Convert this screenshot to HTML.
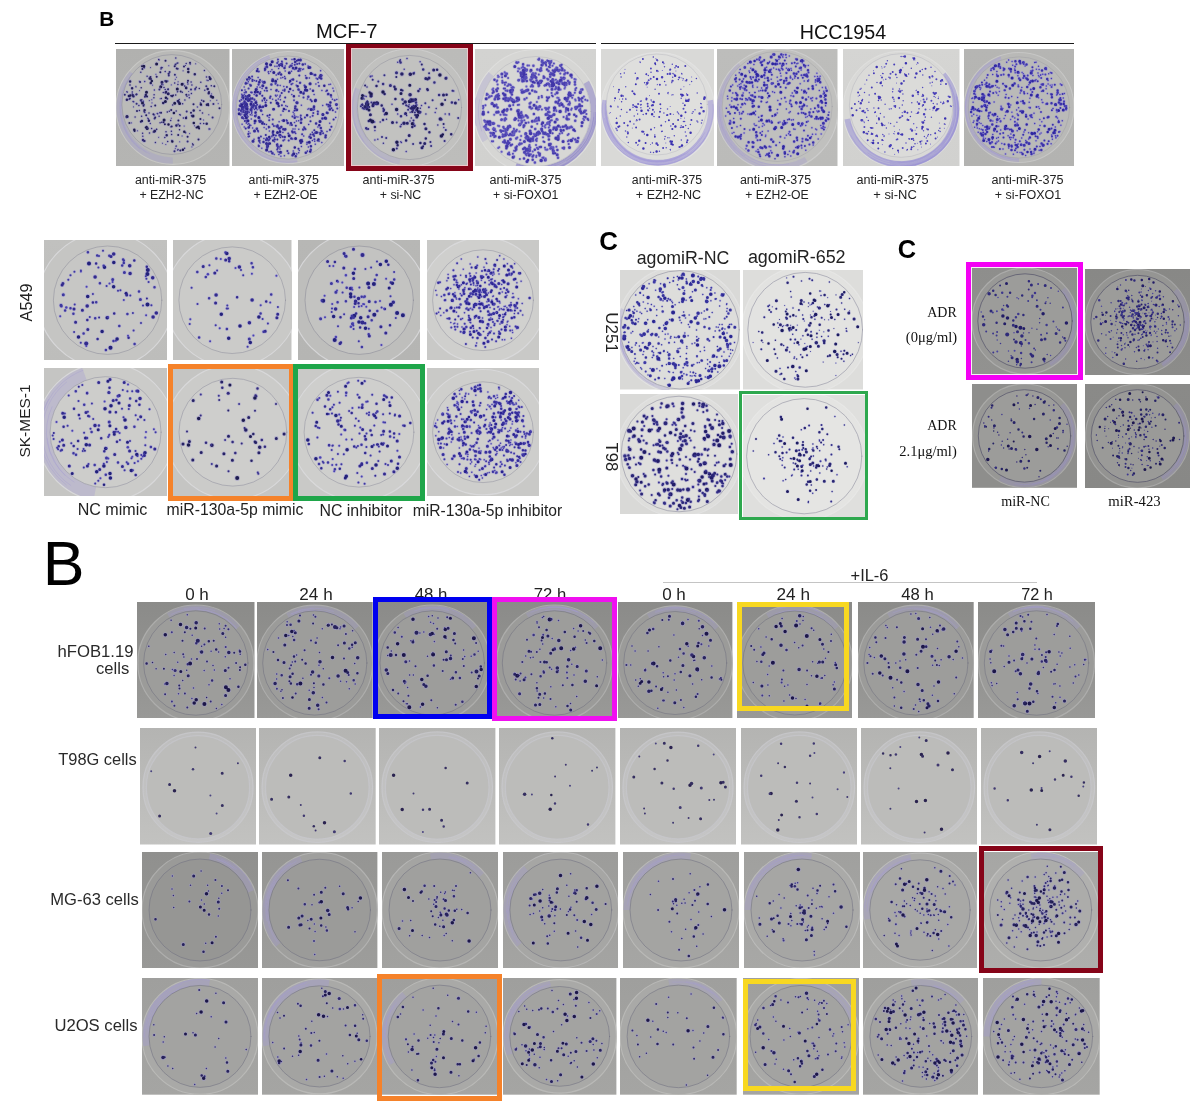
<!DOCTYPE html><html><head><meta charset="utf-8"><title>Colony formation assays</title><style>.tx{position:absolute;left:0;top:0;font-family:'Liberation Sans',Arial,Helvetica,sans-serif}.tx .s{font-family:'Liberation Serif','Times New Roman',serif}
*{margin:0;padding:0}
html,body{width:1200px;height:1110px;background:#fff;overflow:hidden;position:relative}
.pn{position:absolute;display:block;stroke-linecap:round;fill:none}
.fr{position:absolute;box-sizing:content-box}
.ln{position:absolute}
</style></head><body><svg width="0" height="0" style="position:absolute"><filter id="bl" x="-5%" y="-5%" width="110%" height="110%"><feGaussianBlur stdDeviation="0.45"/></filter></svg><svg class="pn" style="left:116.00px;top:49.00px;width:113.50px;height:117.00px" viewBox="0 0 113.50 117.00"><linearGradient id="g_p1" x1="0" y1="0" x2="0" y2="1"><stop offset="0" stop-color="#b1b1af"/><stop offset="1" stop-color="#b5b5b3"/></linearGradient><rect width="113.5" height="117.0" fill="url(#g_p1)"/><circle cx="56.8" cy="58.5" r="56.8" fill="#b9b9b7" fill-opacity="1.00" stroke="#cacac8" stroke-width="1.2" stroke-opacity="0.80"/><path d="M56.8 114.8A56.2 56.2 0 0 1 13.7 22.3L18.5 26.4A49.9 49.9 0 0 0 56.8 108.4Z" fill="#a09ccc" fill-opacity="0.35"/><path d="M30.1 103.5A52.3 52.3 0 0 1 5.5 69.0" fill="none" stroke="#a09ccc" stroke-width=".7" stroke-opacity=".5"/><path d="M23.5 99.5A52.8 52.8 0 0 1 16.3 24.6" fill="none" stroke="#a09ccc" stroke-width=".7" stroke-opacity=".5"/><path d="M23.8 100.3A53.3 53.3 0 0 1 16.0 24.3" fill="none" stroke="#a09ccc" stroke-width=".7" stroke-opacity=".5"/><path d="M33.6 104.8A51.7 51.7 0 0 1 14.0 29.4" fill="none" stroke="#a09ccc" stroke-width=".7" stroke-opacity=".5"/><circle cx="55.8" cy="55.5" r="49.9" fill="#bbbbb9" fill-opacity="1.00" stroke="#868694" stroke-width="0.9" stroke-opacity="0.50"/><g filter="url(#bl)"><path d="M46.5 94.3h0M52.8 16.7h0M35.8 50.7h0M60.4 28.3h0M27.1 52.6h0M27.6 52.3h0M27.3 52.1h0M38.7 65.7h0M39.9 25.4h0M11.4 43.3h0M17.9 46.5h0M36.0 53.9h0M95.6 44.9h0M70.3 67.6h0M55.3 35.9h0M93.0 80.4h0M93.0 79.6h0M43.9 63.6h0M67.7 34.8h0M21.5 81.8h0M60.0 97.6h0M75.9 97.9h0M63.7 92.8h0M42.7 88.4h0M15.5 73.9h0M23.5 41.6h0M78.5 76.8h0M68.2 77.1h0M38.1 66.6h0M102.2 54.6h0M44.2 49.7h0M66.1 87.0h0M49.8 95.5h0M59.3 99.6h0M73.6 84.6h0M52.0 32.1h0M51.5 32.0h0M87.5 71.0h0M90.8 31.2h0M59.3 30.4h0M81.2 57.9h0M94.3 51.7h0M55.3 69.3h0M85.7 56.5h0M36.6 36.2h0M94.7 47.4h0M72.7 42.5h0M62.1 32.8h0M19.9 37.4h0M20.0 38.0h0M23.3 32.3h0M48.8 53.5h0M92.8 65.7h0M100.8 51.3h0M81.7 58.1h0M67.1 21.8h0M32.5 70.7h0M31.7 69.1h0M69.4 16.5h0M46.6 18.6h0M79.7 14.8h0M33.3 51.6h0M34.5 18.6h0M17.5 57.9h0M43.2 11.1h0M61.9 42.6h0M61.3 42.9h0M61.3 42.7h0M61.7 101.3h0M54.6 77.9h0M63.5 65.5h0M76.4 94.6h0M77.1 96.3h0M61.7 20.1h0" stroke="#9a96c8" stroke-opacity="0.55" stroke-width="2.6"/><path d="M84.0 61.4h0M50.0 82.7h0M16.3 43.1h0M33.0 64.1h0M40.6 80.2h0M37.9 48.8h0M90.5 27.9h0M88.4 21.6h0M54.7 71.4h0M88.8 41.3h0M66.3 43.2h0M52.8 24.8h0M44.1 73.7h0M68.9 51.1h0M53.3 62.2h0M13.1 50.3h0M17.1 52.6h0M84.5 54.1h0M71.6 33.3h0M22.9 56.4h0M59.8 9.1h0M92.0 31.5h0M69.6 83.8h0M33.5 84.1h0M51.7 92.5h0M70.2 14.5h0M48.0 38.5h0M25.8 50.7h0M25.3 52.2h0M74.2 14.9h0M87.7 74.5h0M28.0 92.2h0M31.1 27.3h0M41.3 64.4h0M24.8 23.2h0M35.6 79.6h0M75.4 44.4h0M10.9 42.8h0M49.2 22.5h0M63.2 50.5h0M48.8 88.5h0M68.6 99.3h0M55.6 85.4h0M28.3 18.7h0M52.0 40.6h0M28.0 55.5h0M49.2 40.6h0M38.1 45.7h0M55.4 82.3h0M61.8 14.0h0M61.0 14.3h0M95.3 36.7h0M45.7 73.2h0M19.1 68.1h0M62.1 75.3h0M32.2 69.8h0M55.9 91.5h0M44.5 38.6h0M45.0 19.9h0M47.3 43.6h0M72.9 45.9h0M60.2 62.0h0M16.3 45.1h0M35.2 57.4h0M26.6 84.2h0M58.7 34.0h0M67.4 69.0h0M25.6 67.3h0M56.6 56.0h0M71.0 47.3h0M45.3 49.6h0M23.4 61.5h0M73.3 48.7h0M66.6 54.7h0M75.1 33.1h0M60.2 97.1h0M39.4 93.6h0M61.9 35.4h0M75.9 35.9h0M45.7 35.3h0M42.7 10.4h0M44.0 63.7h0M20.8 45.2h0M62.0 100.5h0M86.5 64.1h0M84.8 33.3h0M43.1 67.3h0M95.0 46.6h0M64.3 65.9h0M85.7 51.2h0M11.6 67.9h0M62.5 51.6h0M37.3 83.0h0M39.4 82.1h0M28.1 62.7h0M51.3 62.9h0M59.7 45.9h0M63.5 80.8h0M25.2 38.8h0M40.5 80.6h0M30.0 47.4h0M14.0 36.0h0M77.0 95.4h0M70.1 39.3h0M80.2 38.2h0M68.7 36.9h0M83.3 39.4h0M54.8 46.8h0M57.4 46.2h0M61.9 19.8h0M17.7 52.8h0M26.8 87.3h0M28.8 63.4h0M79.0 40.8h0M41.7 64.7h0M84.4 74.4h0M28.7 32.4h0M93.8 80.0h0M38.4 41.0h0M71.9 34.9h0M34.3 74.5h0M46.9 35.8h0" stroke="#9a96c8" stroke-opacity="0.55" stroke-width="3.1"/><path d="M97.4 55.0h0M38.6 69.6h0M59.5 15.6h0M71.6 92.5h0M79.3 39.8h0M20.6 54.7h0M13.9 49.5h0M53.6 23.1h0M51.3 49.7h0M24.7 51.2h0M58.5 102.2h0M49.2 32.0h0M70.7 62.5h0M8.8 45.8h0M31.4 79.3h0M52.8 26.5h0M24.1 33.1h0M45.4 18.8h0M28.9 47.7h0M43.4 40.4h0M10.7 68.2h0M96.6 68.6h0M90.3 37.3h0M52.1 40.2h0M58.9 25.7h0M75.0 40.6h0M75.8 66.8h0M61.6 52.0h0M38.5 82.8h0M24.8 72.8h0M84.4 70.1h0M103.5 59.3h0M93.0 42.9h0M47.5 73.2h0M21.0 62.0h0M63.6 76.7h0M98.3 37.3h0M68.0 17.5h0M55.2 61.1h0M75.0 63.7h0M13.4 74.0h0M64.7 42.4h0M50.2 42.8h0M92.1 55.0h0M92.3 56.3h0M77.5 55.3h0M28.6 91.9h0M20.3 45.5h0M55.7 77.5h0M48.9 75.3h0M34.5 28.1h0M72.0 31.8h0M39.2 56.5h0M64.3 101.5h0M62.4 71.6h0M31.1 47.6h0M44.3 23.3h0M52.6 24.7h0M74.0 13.8h0M35.0 30.0h0M40.7 27.8h0M71.6 87.8h0M26.4 20.1h0M27.5 56.7h0M58.7 17.2h0M30.2 66.3h0M93.4 28.1h0M70.3 45.7h0M37.4 65.3h0M62.2 85.9h0M49.5 11.8h0M17.7 47.4h0M17.2 47.6h0M60.7 19.5h0M70.1 38.5h0M45.1 63.8h0M87.6 52.2h0M82.5 90.4h0M39.2 68.6h0M83.1 79.5h0M80.5 78.6h0M18.6 82.1h0M26.0 17.3h0M29.7 78.4h0M30.7 77.7h0" stroke="#9a96c8" stroke-opacity="0.55" stroke-width="3.6"/><path d="M14.3 46.4h0M52.5 75.5h0M35.8 32.0h0M56.3 92.4h0M95.1 47.5h0M84.9 55.6h0M94.3 30.1h0M72.3 22.9h0M18.3 80.7h0M49.9 48.7h0M57.9 64.0h0M68.3 82.8h0M70.2 38.9h0M66.9 100.7h0M50.3 32.5h0M77.8 74.1h0M34.8 34.1h0M62.6 53.1h0M70.0 69.1h0M28.6 61.2h0M60.4 76.6h0M50.7 86.2h0M12.9 46.9h0M72.2 19.9h0M90.9 55.8h0M10.9 50.8h0M49.7 43.6h0M33.7 29.4h0M91.7 40.0h0M14.1 32.4h0M47.2 53.9h0M16.1 39.3h0M90.7 74.8h0M78.8 25.3h0M92.7 44.2h0M94.1 29.4h0M56.2 47.1h0M25.9 72.1h0M16.8 46.2h0M29.8 46.1h0M77.7 61.5h0M32.9 71.7h0M38.6 81.9h0M27.0 91.1h0" stroke="#9a96c8" stroke-opacity="0.55" stroke-width="4.1"/><path d="M82.2 78.0h0M11.0 67.6h0M40.6 14.9h0M48.1 71.0h0M30.5 43.3h0M77.0 66.9h0M49.4 52.4h0M61.3 39.9h0M58.7 54.3h0M66.1 35.3h0M44.8 37.8h0M27.8 17.2h0M63.6 54.4h0M26.5 53.9h0M96.7 48.3h0M31.2 79.4h0M46.0 33.2h0M52.2 44.8h0" stroke="#9a96c8" stroke-opacity="0.55" stroke-width="4.6"/><path d="M83.1 79.5h0M80.5 78.6h0M18.6 82.1h0M26.0 17.3h0M29.7 78.4h0M30.7 77.7h0" stroke="#1e1a48" stroke-width="2.0"/><path d="M14.3 46.4h0M52.5 75.5h0M35.8 32.0h0M56.3 92.4h0M95.1 47.5h0M84.9 55.6h0M94.3 30.1h0M72.3 22.9h0M18.3 80.7h0M49.9 48.7h0M57.9 64.0h0M68.3 82.8h0M70.2 38.9h0M66.9 100.7h0M50.3 32.5h0M77.8 74.1h0" stroke="#1e1a48" stroke-width="2.5"/><path d="M82.2 78.0h0M11.0 67.6h0M40.6 14.9h0M48.1 71.0h0M30.5 43.3h0M77.0 66.9h0M49.4 52.4h0M61.3 39.9h0M58.7 54.3h0M66.1 35.3h0M44.8 37.8h0M27.8 17.2h0M63.6 54.4h0M26.5 53.9h0M96.7 48.3h0M31.2 79.4h0" stroke="#1e1a48" stroke-width="3.0"/><path d="M76.4 94.6h0M77.1 96.3h0M61.7 20.1h0" stroke="#28235d" stroke-width="1.0"/><path d="M11.6 67.9h0M62.5 51.6h0M37.3 83.0h0M39.4 82.1h0M28.1 62.7h0M51.3 62.9h0M59.7 45.9h0M63.5 80.8h0M25.2 38.8h0M40.5 80.6h0M30.0 47.4h0M14.0 36.0h0M77.0 95.4h0M70.1 39.3h0M80.2 38.2h0M68.7 36.9h0M83.3 39.4h0M54.8 46.8h0M57.4 46.2h0M61.9 19.8h0" stroke="#28235d" stroke-width="1.5"/><path d="M61.6 52.0h0M38.5 82.8h0M24.8 72.8h0M84.4 70.1h0M103.5 59.3h0M93.0 42.9h0M47.5 73.2h0M21.0 62.0h0M63.6 76.7h0M98.3 37.3h0M68.0 17.5h0M55.2 61.1h0M75.0 63.7h0M13.4 74.0h0M64.7 42.4h0M50.2 42.8h0M92.1 55.0h0M92.3 56.3h0M77.5 55.3h0M28.6 91.9h0M20.3 45.5h0M55.7 77.5h0M48.9 75.3h0M34.5 28.1h0M72.0 31.8h0M39.2 56.5h0M64.3 101.5h0M62.4 71.6h0M31.1 47.6h0M44.3 23.3h0M52.6 24.7h0M74.0 13.8h0M35.0 30.0h0M40.7 27.8h0M71.6 87.8h0M26.4 20.1h0M27.5 56.7h0M58.7 17.2h0M30.2 66.3h0M93.4 28.1h0M70.3 45.7h0M37.4 65.3h0M62.2 85.9h0M49.5 11.8h0M17.7 47.4h0M17.2 47.6h0M60.7 19.5h0M70.1 38.5h0M45.1 63.8h0M87.6 52.2h0M82.5 90.4h0M39.2 68.6h0" stroke="#28235d" stroke-width="2.0"/><path d="M34.8 34.1h0M62.6 53.1h0M70.0 69.1h0M28.6 61.2h0M60.4 76.6h0M50.7 86.2h0M12.9 46.9h0M72.2 19.9h0M90.9 55.8h0M10.9 50.8h0M49.7 43.6h0M33.7 29.4h0M91.7 40.0h0M14.1 32.4h0M47.2 53.9h0M16.1 39.3h0M90.7 74.8h0M78.8 25.3h0M92.7 44.2h0M94.1 29.4h0M56.2 47.1h0M25.9 72.1h0M16.8 46.2h0M29.8 46.1h0M77.7 61.5h0M32.9 71.7h0M38.6 81.9h0" stroke="#28235d" stroke-width="2.5"/><path d="M46.0 33.2h0M52.2 44.8h0" stroke="#28235d" stroke-width="3.0"/><path d="M62.1 32.8h0M19.9 37.4h0M20.0 38.0h0M23.3 32.3h0M48.8 53.5h0M92.8 65.7h0M100.8 51.3h0M81.7 58.1h0M67.1 21.8h0M32.5 70.7h0M31.7 69.1h0M69.4 16.5h0M46.6 18.6h0M79.7 14.8h0M33.3 51.6h0M34.5 18.6h0M17.5 57.9h0M43.2 11.1h0M61.9 42.6h0M61.3 42.9h0M61.3 42.7h0M61.7 101.3h0M54.6 77.9h0M63.5 65.5h0" stroke="#322d71" stroke-width="1.0"/><path d="M84.0 61.4h0M50.0 82.7h0M16.3 43.1h0M33.0 64.1h0M40.6 80.2h0M37.9 48.8h0M90.5 27.9h0M88.4 21.6h0M54.7 71.4h0M88.8 41.3h0M66.3 43.2h0M52.8 24.8h0M44.1 73.7h0M68.9 51.1h0M53.3 62.2h0M13.1 50.3h0M17.1 52.6h0M84.5 54.1h0M71.6 33.3h0M22.9 56.4h0M59.8 9.1h0M92.0 31.5h0M69.6 83.8h0M33.5 84.1h0M51.7 92.5h0M70.2 14.5h0M48.0 38.5h0M25.8 50.7h0M25.3 52.2h0M74.2 14.9h0M87.7 74.5h0M28.0 92.2h0M31.1 27.3h0M41.3 64.4h0M24.8 23.2h0M35.6 79.6h0M75.4 44.4h0M10.9 42.8h0M49.2 22.5h0M63.2 50.5h0M48.8 88.5h0M68.6 99.3h0M55.6 85.4h0M28.3 18.7h0M52.0 40.6h0M28.0 55.5h0M49.2 40.6h0M38.1 45.7h0M55.4 82.3h0M61.8 14.0h0M61.0 14.3h0M95.3 36.7h0M45.7 73.2h0M19.1 68.1h0M62.1 75.3h0M32.2 69.8h0M55.9 91.5h0M44.5 38.6h0M45.0 19.9h0M47.3 43.6h0M72.9 45.9h0M60.2 62.0h0M16.3 45.1h0M35.2 57.4h0M26.6 84.2h0M58.7 34.0h0M67.4 69.0h0M25.6 67.3h0M56.6 56.0h0M71.0 47.3h0M45.3 49.6h0M23.4 61.5h0M73.3 48.7h0M66.6 54.7h0M75.1 33.1h0M60.2 97.1h0M39.4 93.6h0M61.9 35.4h0M75.9 35.9h0M45.7 35.3h0M42.7 10.4h0M44.0 63.7h0M20.8 45.2h0M62.0 100.5h0M86.5 64.1h0M84.8 33.3h0M43.1 67.3h0M95.0 46.6h0M64.3 65.9h0M85.7 51.2h0" stroke="#322d71" stroke-width="1.5"/><path d="M97.4 55.0h0M38.6 69.6h0M59.5 15.6h0M71.6 92.5h0M79.3 39.8h0M20.6 54.7h0M13.9 49.5h0M53.6 23.1h0M51.3 49.7h0M24.7 51.2h0M58.5 102.2h0M49.2 32.0h0M70.7 62.5h0M8.8 45.8h0M31.4 79.3h0M52.8 26.5h0M24.1 33.1h0M45.4 18.8h0M28.9 47.7h0M43.4 40.4h0M10.7 68.2h0M96.6 68.6h0M90.3 37.3h0M52.1 40.2h0M58.9 25.7h0M75.0 40.6h0M75.8 66.8h0" stroke="#322d71" stroke-width="2.0"/><path d="M27.0 91.1h0" stroke="#322d71" stroke-width="2.5"/><path d="M46.5 94.3h0M52.8 16.7h0M35.8 50.7h0M60.4 28.3h0M27.1 52.6h0M27.6 52.3h0M27.3 52.1h0M38.7 65.7h0M39.9 25.4h0M11.4 43.3h0M17.9 46.5h0M36.0 53.9h0M95.6 44.9h0M70.3 67.6h0M55.3 35.9h0M93.0 80.4h0M93.0 79.6h0M43.9 63.6h0M67.7 34.8h0M21.5 81.8h0M60.0 97.6h0M75.9 97.9h0M63.7 92.8h0M42.7 88.4h0M15.5 73.9h0M23.5 41.6h0M78.5 76.8h0M68.2 77.1h0M38.1 66.6h0M102.2 54.6h0M44.2 49.7h0M66.1 87.0h0M49.8 95.5h0M59.3 99.6h0M73.6 84.6h0M52.0 32.1h0M51.5 32.0h0M87.5 71.0h0M90.8 31.2h0M59.3 30.4h0M81.2 57.9h0M94.3 51.7h0M55.3 69.3h0M85.7 56.5h0M36.6 36.2h0M94.7 47.4h0M72.7 42.5h0" stroke="#3c3686" stroke-width="1.0"/><path d="M17.7 52.8h0M26.8 87.3h0M28.8 63.4h0M79.0 40.8h0M41.7 64.7h0M84.4 74.4h0M28.7 32.4h0M93.8 80.0h0M38.4 41.0h0M71.9 34.9h0M34.3 74.5h0M46.9 35.8h0" stroke="#3c3686" stroke-width="1.5"/></g></svg><svg class="pn" style="left:232.00px;top:49.00px;width:112.00px;height:117.00px" viewBox="0 0 112.00 117.00"><linearGradient id="g_p2" x1="0" y1="0" x2="0" y2="1"><stop offset="0" stop-color="#b7b7b5"/><stop offset="1" stop-color="#bbbbb9"/></linearGradient><rect width="112.0" height="117.0" fill="url(#g_p2)"/><circle cx="56.0" cy="58.5" r="56.0" fill="#c0c0be" fill-opacity="1.00" stroke="#cececd" stroke-width="1.2" stroke-opacity="0.80"/><path d="M65.6 113.2A55.5 55.5 0 0 1 37.0 6.3L38.4 10.1A51.5 51.5 0 0 0 64.9 109.2Z" fill="#a29cd2" fill-opacity="0.35"/><path d="M21.6 98.3A52.6 52.6 0 0 1 4.5 47.8" fill="none" stroke="#a29cd2" stroke-width=".7" stroke-opacity=".5"/><path d="M10.4 89.6A55.2 55.2 0 0 1 37.1 6.6" fill="none" stroke="#a29cd2" stroke-width=".7" stroke-opacity=".5"/><path d="M6.3 77.5A53.3 53.3 0 0 1 37.8 8.5" fill="none" stroke="#a29cd2" stroke-width=".7" stroke-opacity=".5"/><path d="M64.8 112.5A54.7 54.7 0 0 1 5.8 80.2" fill="none" stroke="#a29cd2" stroke-width=".7" stroke-opacity=".5"/><path d="M8.7 79.0A51.6 51.6 0 0 1 28.0 15.2" fill="none" stroke="#a29cd2" stroke-width=".7" stroke-opacity=".5"/><circle cx="56.0" cy="58.5" r="51.5" fill="#c3c3c1" fill-opacity="1.00" stroke="#8a8a97" stroke-width="0.9" stroke-opacity="0.40"/><g filter="url(#bl)"><path d="M24.1 52.1h0M13.8 61.3h0M15.4 66.4h0M17.4 63.6h0M12.3 43.5h0M12.9 58.8h0M20.4 52.9h0M10.2 59.9h0M24.4 66.1h0M25.1 60.7h0M15.7 34.3h0M47.0 78.6h0M48.9 66.0h0M14.9 50.0h0M64.5 104.8h0M20.6 79.0h0M45.5 30.3h0M70.6 20.4h0M62.6 66.8h0M63.0 79.9h0M40.4 103.6h0M31.7 33.1h0M33.3 18.2h0M48.2 36.4h0M29.8 99.3h0M76.9 59.6h0M6.9 61.1h0M75.9 60.3h0M19.8 63.4h0M59.8 45.6h0M75.5 49.9h0M27.6 93.4h0M15.8 75.3h0M47.3 17.4h0M22.2 45.5h0M100.9 39.2h0M62.5 73.6h0M64.9 105.0h0M60.0 10.4h0M46.6 42.4h0M49.1 86.5h0M61.3 102.1h0M65.9 68.1h0M9.8 62.9h0M53.2 22.1h0M30.1 32.2h0M48.6 15.3h0M13.6 60.7h0M9.7 45.2h0M38.5 22.6h0M77.2 88.5h0M9.8 64.9h0M48.3 46.3h0M28.1 56.2h0M62.8 20.4h0M89.8 93.6h0M81.6 60.9h0M68.9 71.1h0M99.2 47.9h0M90.7 56.4h0M84.2 29.2h0M51.8 37.4h0M59.5 30.5h0M40.6 50.3h0M16.7 82.8h0M85.9 78.0h0M98.5 35.3h0M18.0 84.2h0M69.4 56.3h0M76.1 16.9h0M97.7 74.2h0M44.0 34.0h0M67.2 41.1h0M68.3 34.0h0M45.8 102.7h0M29.7 62.1h0M83.3 95.2h0M18.8 76.4h0M7.5 59.9h0M42.2 105.4h0M32.1 78.4h0M60.7 34.6h0M10.1 75.3h0M68.5 21.8h0M52.6 90.8h0M48.9 107.3h0M37.4 82.1h0M64.1 67.8h0M75.4 102.4h0M49.3 103.4h0M12.3 77.9h0M13.8 43.8h0M43.9 77.0h0M28.1 93.9h0M50.2 71.6h0M12.2 38.0h0M68.4 19.8h0M89.9 41.4h0M71.5 20.1h0M45.1 46.3h0M48.6 78.3h0M62.5 82.8h0M52.4 106.8h0M67.8 34.1h0M12.4 45.3h0M86.3 62.8h0M97.6 59.1h0M62.0 51.0h0M19.8 62.2h0M22.5 60.5h0M13.3 53.0h0M14.7 62.3h0M19.5 58.3h0M20.0 57.0h0M15.9 49.5h0M8.6 66.1h0M24.1 57.9h0M19.3 69.9h0M12.1 55.4h0M13.0 41.0h0M21.6 59.0h0M13.3 56.3h0M21.2 57.7h0M11.2 59.7h0M23.4 64.6h0M19.9 60.6h0M15.2 58.7h0M14.1 71.3h0M10.9 54.1h0M15.8 57.7h0M19.6 64.2h0M9.6 50.9h0M94.0 42.2h0M37.1 68.6h0M76.7 75.4h0M105.0 55.2h0M86.2 33.6h0M28.0 38.3h0M46.8 103.1h0M13.9 33.4h0M26.8 71.5h0M18.6 29.6h0M82.4 60.3h0M90.7 65.4h0M46.1 12.7h0M25.1 79.6h0M67.3 101.4h0M17.9 35.5h0M54.4 71.1h0M30.6 65.6h0M35.0 99.0h0M71.7 86.9h0M59.5 22.2h0M14.9 73.1h0M47.7 81.4h0M44.1 47.3h0M47.7 47.9h0M47.9 99.9h0M90.2 82.3h0M26.7 35.7h0M22.0 90.2h0M46.6 19.5h0M70.0 90.8h0M53.9 60.5h0M77.9 35.2h0M50.7 62.0h0M73.1 14.7h0M36.5 22.8h0M39.9 20.7h0M11.3 49.9h0M37.6 78.3h0M26.1 28.5h0M52.8 9.7h0M58.1 76.1h0M46.9 105.6h0M48.4 50.7h0M68.9 19.7h0M74.9 95.2h0M100.4 50.2h0M62.1 65.0h0M20.0 66.0h0M95.0 82.5h0M31.9 89.5h0M42.9 17.3h0M42.5 92.8h0M47.1 72.7h0M18.8 43.3h0M16.3 32.8h0M45.0 17.2h0M82.1 45.6h0M30.1 39.4h0M36.8 24.6h0M33.1 19.8h0M66.7 103.8h0M35.4 96.9h0M60.2 14.6h0M50.9 41.2h0M39.0 40.6h0M27.0 91.3h0M64.3 36.2h0M39.9 87.8h0M67.0 46.9h0M48.9 29.1h0M16.8 74.6h0M18.8 56.6h0M48.3 46.8h0M34.4 75.6h0M76.4 98.0h0M14.6 73.0h0M69.4 97.5h0M53.8 56.8h0M30.3 51.3h0M32.5 51.3h0M52.8 81.3h0M89.7 82.5h0M82.7 92.2h0M73.5 26.7h0M28.2 71.4h0M66.7 71.7h0M43.5 46.2h0M17.4 87.2h0M78.2 68.1h0M27.1 96.8h0M26.3 82.7h0M63.7 84.5h0M103.9 55.3h0M40.9 84.5h0M9.0 54.4h0M22.3 31.6h0M32.5 41.4h0M75.4 102.1h0M46.1 77.3h0M24.1 43.2h0M98.2 57.6h0M87.0 92.3h0M45.5 95.0h0M80.4 91.6h0M22.4 50.9h0M51.3 62.3h0M18.5 50.2h0M60.7 90.0h0M101.7 42.0h0M34.3 80.0h0M52.6 27.6h0M77.4 28.9h0M17.2 30.8h0M72.0 42.9h0M83.9 35.1h0M27.1 59.7h0M26.7 33.7h0M57.6 33.5h0M25.1 40.2h0M50.2 14.0h0M25.2 38.1h0M28.6 42.8h0M50.8 28.5h0M36.2 22.9h0M18.9 61.4h0M97.0 35.6h0M62.0 51.5h0M44.7 40.7h0M50.9 83.4h0M78.2 40.1h0M95.6 45.5h0M68.6 68.3h0M26.6 43.1h0M47.4 86.7h0M46.3 49.9h0M39.9 87.0h0M34.6 88.9h0M61.1 41.6h0M61.2 63.3h0M97.9 81.0h0M104.8 50.4h0M27.7 69.8h0M66.8 80.2h0M53.2 17.0h0M30.3 52.1h0M18.3 65.7h0M26.5 96.3h0M88.2 26.7h0M103.7 68.5h0M73.2 15.3h0M42.4 88.9h0M64.8 32.3h0M32.7 41.8h0M16.9 62.2h0M64.5 71.9h0M9.2 50.5h0M103.5 62.9h0M47.5 98.1h0M88.6 21.7h0M34.7 98.1h0M6.7 61.6h0M42.5 88.9h0M15.5 62.0h0M36.7 78.8h0M34.7 51.3h0M80.7 24.9h0M37.0 102.7h0M55.2 57.5h0M27.1 32.6h0M48.3 88.5h0M80.3 83.3h0M61.0 79.9h0M16.0 67.8h0M44.2 25.9h0M14.3 74.1h0" stroke="#9890d8" stroke-opacity="0.50" stroke-width="2.9"/><path d="M21.8 54.9h0M12.2 58.1h0M16.6 39.6h0M10.3 68.3h0M10.2 48.3h0M14.7 57.7h0M22.4 50.5h0M25.1 55.7h0M11.7 54.6h0M11.8 54.5h0M71.5 48.4h0M31.2 33.6h0M41.9 77.1h0M62.8 15.8h0M58.4 16.8h0M87.0 37.0h0M40.7 75.2h0M68.8 66.5h0M54.9 71.7h0M72.9 68.4h0M105.3 59.5h0M6.7 60.2h0M45.2 100.6h0M60.5 67.4h0M85.5 30.0h0M35.3 96.7h0M43.5 34.7h0M24.1 58.6h0M20.4 31.9h0M96.5 57.6h0M35.0 41.8h0M45.3 97.2h0M26.5 35.4h0M35.2 18.2h0M29.8 58.3h0M80.4 60.6h0M26.8 22.4h0M57.5 18.0h0M82.4 25.9h0M53.2 29.4h0M40.8 70.5h0M18.5 50.5h0M43.9 86.5h0M91.1 84.2h0M36.4 91.6h0M73.5 80.2h0M62.7 83.2h0M49.9 56.3h0M52.7 40.4h0M22.7 74.2h0M72.5 36.5h0M14.4 63.7h0M7.8 52.0h0M81.3 64.1h0M82.1 86.9h0M66.2 21.9h0M102.7 51.2h0M23.8 57.0h0M38.0 89.4h0M26.8 97.3h0M28.9 87.5h0M45.2 14.1h0M56.7 91.5h0M72.1 78.3h0M23.3 67.2h0M70.1 85.2h0M83.2 84.0h0M24.4 31.9h0M7.8 56.4h0M37.2 71.3h0M51.3 91.5h0M16.5 87.6h0M49.9 12.6h0M82.4 90.2h0M78.9 101.1h0M89.7 26.4h0M11.7 69.4h0M65.1 14.9h0M13.8 53.7h0M94.8 55.5h0M32.9 21.2h0M45.6 36.2h0M38.0 49.0h0M20.1 27.6h0M75.2 93.4h0M16.3 49.8h0M89.3 81.7h0M19.8 43.4h0M9.1 62.0h0M56.4 104.2h0M56.3 84.5h0M80.7 66.7h0M37.0 91.1h0M59.4 35.2h0M44.0 51.4h0M45.9 10.4h0M11.2 62.9h0M19.2 52.7h0M14.8 55.3h0M13.3 63.6h0M10.3 56.7h0M12.3 52.2h0M52.5 41.8h0M96.2 55.8h0M50.5 87.8h0M12.9 72.1h0M61.2 19.4h0M78.7 100.4h0M47.7 23.4h0M64.9 11.7h0M79.8 52.2h0M33.8 85.9h0M78.6 85.6h0M17.7 76.3h0M20.5 30.8h0M68.2 33.8h0M53.2 48.4h0M73.0 79.4h0M45.8 99.1h0M41.2 30.4h0M17.1 78.2h0M32.3 75.0h0M54.6 14.5h0M45.3 90.6h0M35.4 98.8h0M25.6 20.0h0M99.4 77.8h0M39.1 102.6h0M9.9 41.3h0M36.8 77.8h0M40.7 83.8h0M56.8 42.7h0M50.3 17.2h0M64.5 53.5h0M42.1 60.3h0M33.6 53.4h0M40.4 30.3h0M37.7 65.9h0M47.9 79.6h0M99.4 59.3h0M42.9 90.5h0M18.3 49.2h0M16.3 85.0h0M52.1 52.7h0M59.9 75.9h0M25.9 81.8h0M104.5 56.0h0M45.6 76.2h0M78.6 50.7h0M62.6 61.6h0M30.8 73.2h0M66.5 99.7h0M13.7 79.5h0M8.7 61.4h0M67.3 14.5h0M78.5 72.3h0M49.7 43.9h0M28.0 31.0h0M38.8 53.7h0M100.8 61.2h0M67.9 33.8h0M97.9 80.7h0M30.3 46.8h0M95.0 41.5h0M85.6 91.6h0M85.7 62.5h0M101.6 70.5h0M14.0 42.9h0M85.8 65.1h0M54.0 10.1h0M57.0 62.0h0M38.5 47.5h0M63.8 76.8h0M55.4 101.9h0M35.5 66.7h0M82.3 81.3h0M66.8 21.9h0M77.4 87.6h0M85.5 83.6h0M54.9 38.0h0M60.1 82.2h0M67.3 26.5h0M19.3 61.6h0M70.3 92.5h0M63.0 59.3h0M46.2 97.6h0" stroke="#9890d8" stroke-opacity="0.50" stroke-width="3.4"/><path d="M21.6 56.2h0M12.9 53.7h0M24.0 59.0h0M19.9 58.5h0M16.2 51.8h0M18.7 60.6h0M13.5 58.8h0M20.3 49.6h0M15.3 63.3h0M13.8 57.3h0M53.3 80.2h0M49.3 78.0h0M31.0 57.8h0M89.2 29.6h0M63.4 57.4h0M81.0 41.7h0M27.9 44.5h0M16.6 78.6h0M45.1 77.5h0M78.1 18.6h0M70.8 15.5h0M88.4 83.9h0M10.7 46.7h0M83.2 26.1h0M74.5 29.0h0M93.5 88.3h0M29.0 61.6h0M88.4 85.1h0M60.7 83.2h0M69.0 73.7h0M81.9 58.6h0M13.8 34.4h0M84.1 74.4h0M36.7 94.8h0M63.7 107.3h0M18.7 36.4h0M24.8 79.7h0M10.3 68.7h0M87.5 28.4h0M27.7 72.5h0M15.2 30.6h0M52.5 19.1h0M97.8 60.4h0M52.7 88.1h0M93.9 69.4h0M34.9 17.5h0M40.4 104.2h0M23.2 67.1h0M73.8 103.8h0M67.4 19.9h0M51.3 80.3h0M10.3 58.4h0M58.9 74.2h0M94.9 63.7h0M34.3 39.0h0M46.9 79.3h0M82.0 57.5h0M49.9 15.8h0M98.9 46.3h0M104.4 55.6h0M13.7 63.3h0M98.0 56.4h0M45.1 95.8h0M88.8 79.0h0M55.7 74.0h0M61.1 30.4h0M63.2 12.9h0M44.4 41.5h0M31.5 93.0h0M66.4 10.9h0M93.7 86.4h0M68.9 93.7h0M96.3 44.9h0M41.2 91.4h0M12.7 65.7h0M15.8 47.3h0M49.1 25.6h0M62.7 68.7h0M27.3 91.7h0M61.0 19.1h0M26.8 89.0h0M59.3 89.4h0M95.5 64.0h0M66.5 40.6h0M90.4 69.5h0M81.3 85.6h0M25.0 21.9h0M60.5 106.2h0M46.7 57.1h0M47.2 16.0h0M78.9 97.3h0M46.5 24.7h0M10.3 60.1h0M14.4 55.1h0M14.6 64.7h0M21.5 56.8h0M78.2 102.4h0M37.2 88.1h0M86.5 90.5h0M98.4 53.4h0M46.1 54.7h0M30.3 74.4h0M25.6 42.9h0M51.9 59.9h0M71.5 44.5h0M48.1 82.8h0M83.6 50.9h0M37.8 94.4h0M8.4 57.0h0M65.6 37.3h0M17.1 28.5h0M87.3 76.3h0M41.4 60.3h0M61.9 47.2h0M49.0 96.8h0M23.6 63.5h0M24.6 46.4h0M75.1 66.3h0M92.3 36.7h0M62.5 10.3h0M33.1 20.1h0M32.4 49.4h0M78.7 88.8h0M58.1 40.0h0M41.1 82.5h0M58.2 32.1h0M62.8 98.4h0M41.4 86.0h0M69.3 70.2h0M27.4 33.2h0M11.3 48.8h0M15.5 48.2h0M11.6 61.6h0M39.4 35.6h0M34.1 91.1h0M71.2 80.6h0M76.3 47.8h0M13.5 47.3h0M59.5 16.7h0" stroke="#9890d8" stroke-opacity="0.50" stroke-width="3.9"/><path d="M26.8 68.4h0M10.6 58.1h0M9.8 55.7h0M15.9 71.8h0M14.4 68.7h0M27.7 57.8h0M7.2 64.7h0M14.9 63.4h0M13.5 56.5h0M13.2 66.4h0M14.2 49.9h0M15.1 59.7h0M17.1 46.6h0M14.5 56.1h0M77.3 93.3h0M93.1 68.9h0M57.3 23.7h0M73.5 38.1h0M24.1 40.4h0M45.5 83.4h0M51.7 71.6h0M68.8 43.2h0M83.3 51.8h0M19.0 55.0h0M57.2 86.8h0M79.0 24.4h0M38.6 15.7h0M40.6 31.7h0M40.2 12.8h0M69.2 91.5h0M23.1 71.9h0M88.7 26.5h0M74.8 41.2h0M73.4 40.9h0M34.5 14.7h0M63.6 89.6h0M88.0 72.4h0M17.0 50.9h0M32.3 33.3h0M64.0 18.9h0M78.1 34.8h0M49.1 15.6h0M43.6 32.3h0M23.3 43.0h0M33.8 56.6h0M84.2 83.4h0M90.9 65.6h0M34.6 101.0h0M48.5 103.2h0M76.9 18.4h0M61.7 104.7h0M41.8 23.5h0M23.9 53.5h0M45.1 54.1h0M79.1 60.5h0M68.5 91.7h0M65.1 53.7h0M64.7 60.8h0M28.5 72.3h0M35.1 90.0h0M35.6 97.1h0M22.5 81.9h0M47.8 86.1h0M68.4 10.9h0M30.8 36.7h0M21.0 92.2h0M34.5 94.4h0" stroke="#9890d8" stroke-opacity="0.50" stroke-width="4.4"/><path d="M19.3 61.6h0M70.3 92.5h0M63.0 59.3h0" stroke="#2a2288" stroke-width="2.0"/><path d="M10.3 60.1h0M14.4 55.1h0M14.6 64.7h0M21.5 56.8h0M78.2 102.4h0M37.2 88.1h0M86.5 90.5h0M98.4 53.4h0M46.1 54.7h0M30.3 74.4h0M25.6 42.9h0M51.9 59.9h0M71.5 44.5h0M48.1 82.8h0M83.6 50.9h0M37.8 94.4h0M8.4 57.0h0M65.6 37.3h0M17.1 28.5h0M87.3 76.3h0M41.4 60.3h0M61.9 47.2h0M49.0 96.8h0M23.6 63.5h0M24.6 46.4h0M75.1 66.3h0M92.3 36.7h0M62.5 10.3h0M33.1 20.1h0M32.4 49.4h0M78.7 88.8h0M58.1 40.0h0M41.1 82.5h0M58.2 32.1h0M62.8 98.4h0M41.4 86.0h0M69.3 70.2h0M27.4 33.2h0M11.3 48.8h0" stroke="#2a2288" stroke-width="2.5"/><path d="M26.8 68.4h0M10.6 58.1h0M9.8 55.7h0M15.9 71.8h0M14.4 68.7h0M27.7 57.8h0M7.2 64.7h0M14.9 63.4h0M13.5 56.5h0M13.2 66.4h0M14.2 49.9h0M15.1 59.7h0M17.1 46.6h0M14.5 56.1h0M77.3 93.3h0M93.1 68.9h0M57.3 23.7h0M73.5 38.1h0M24.1 40.4h0M45.5 83.4h0M51.7 71.6h0M68.8 43.2h0M83.3 51.8h0M19.0 55.0h0M57.2 86.8h0M79.0 24.4h0M38.6 15.7h0M40.6 31.7h0M40.2 12.8h0M69.2 91.5h0M23.1 71.9h0M88.7 26.5h0M74.8 41.2h0M73.4 40.9h0M34.5 14.7h0M63.6 89.6h0M88.0 72.4h0M17.0 50.9h0M32.3 33.3h0M64.0 18.9h0M78.1 34.8h0M49.1 15.6h0M43.6 32.3h0M23.3 43.0h0M33.8 56.6h0M84.2 83.4h0M90.9 65.6h0M34.6 101.0h0M48.5 103.2h0M76.9 18.4h0M61.7 104.7h0M41.8 23.5h0M23.9 53.5h0M45.1 54.1h0M79.1 60.5h0M68.5 91.7h0" stroke="#2a2288" stroke-width="3.0"/><path d="M15.5 62.0h0M36.7 78.8h0M34.7 51.3h0M80.7 24.9h0M37.0 102.7h0M55.2 57.5h0M27.1 32.6h0M48.3 88.5h0M80.3 83.3h0M61.0 79.9h0M16.0 67.8h0M44.2 25.9h0M14.3 74.1h0" stroke="#352d93" stroke-width="1.5"/><path d="M11.2 62.9h0M19.2 52.7h0M14.8 55.3h0M13.3 63.6h0M10.3 56.7h0M12.3 52.2h0M52.5 41.8h0M96.2 55.8h0M50.5 87.8h0M12.9 72.1h0M61.2 19.4h0M78.7 100.4h0M47.7 23.4h0M64.9 11.7h0M79.8 52.2h0M33.8 85.9h0M78.6 85.6h0M17.7 76.3h0M20.5 30.8h0M68.2 33.8h0M53.2 48.4h0M73.0 79.4h0M45.8 99.1h0M41.2 30.4h0M17.1 78.2h0M32.3 75.0h0M54.6 14.5h0M45.3 90.6h0M35.4 98.8h0M25.6 20.0h0M99.4 77.8h0M39.1 102.6h0M9.9 41.3h0M36.8 77.8h0M40.7 83.8h0M56.8 42.7h0M50.3 17.2h0M64.5 53.5h0M42.1 60.3h0M33.6 53.4h0M40.4 30.3h0M37.7 65.9h0M47.9 79.6h0M99.4 59.3h0M42.9 90.5h0M18.3 49.2h0M16.3 85.0h0M52.1 52.7h0M59.9 75.9h0M25.9 81.8h0M104.5 56.0h0M45.6 76.2h0M78.6 50.7h0M62.6 61.6h0M30.8 73.2h0M66.5 99.7h0M13.7 79.5h0M8.7 61.4h0M67.3 14.5h0M78.5 72.3h0M49.7 43.9h0M28.0 31.0h0M38.8 53.7h0M100.8 61.2h0M67.9 33.8h0M97.9 80.7h0M30.3 46.8h0M95.0 41.5h0M85.6 91.6h0M85.7 62.5h0M101.6 70.5h0M14.0 42.9h0M85.8 65.1h0M54.0 10.1h0M57.0 62.0h0M38.5 47.5h0M63.8 76.8h0M55.4 101.9h0M35.5 66.7h0M82.3 81.3h0M66.8 21.9h0M77.4 87.6h0M85.5 83.6h0M54.9 38.0h0M60.1 82.2h0M67.3 26.5h0" stroke="#352d93" stroke-width="2.0"/><path d="M21.6 56.2h0M12.9 53.7h0M24.0 59.0h0M19.9 58.5h0M16.2 51.8h0M18.7 60.6h0M13.5 58.8h0M20.3 49.6h0M15.3 63.3h0M13.8 57.3h0M53.3 80.2h0M49.3 78.0h0M31.0 57.8h0M89.2 29.6h0M63.4 57.4h0M81.0 41.7h0M27.9 44.5h0M16.6 78.6h0M45.1 77.5h0M78.1 18.6h0M70.8 15.5h0M88.4 83.9h0M10.7 46.7h0M83.2 26.1h0M74.5 29.0h0M93.5 88.3h0M29.0 61.6h0M88.4 85.1h0M60.7 83.2h0M69.0 73.7h0M81.9 58.6h0M13.8 34.4h0M84.1 74.4h0M36.7 94.8h0M63.7 107.3h0M18.7 36.4h0M24.8 79.7h0M10.3 68.7h0M87.5 28.4h0M27.7 72.5h0M15.2 30.6h0M52.5 19.1h0M97.8 60.4h0M52.7 88.1h0M93.9 69.4h0M34.9 17.5h0M40.4 104.2h0M23.2 67.1h0M73.8 103.8h0M67.4 19.9h0M51.3 80.3h0M10.3 58.4h0M58.9 74.2h0M94.9 63.7h0M34.3 39.0h0M46.9 79.3h0M82.0 57.5h0M49.9 15.8h0M98.9 46.3h0M104.4 55.6h0M13.7 63.3h0M98.0 56.4h0M45.1 95.8h0M88.8 79.0h0M55.7 74.0h0M61.1 30.4h0M63.2 12.9h0M44.4 41.5h0M31.5 93.0h0M66.4 10.9h0M93.7 86.4h0M68.9 93.7h0M96.3 44.9h0M41.2 91.4h0M12.7 65.7h0M15.8 47.3h0M49.1 25.6h0M62.7 68.7h0M27.3 91.7h0M61.0 19.1h0M26.8 89.0h0M59.3 89.4h0M95.5 64.0h0M66.5 40.6h0M90.4 69.5h0M81.3 85.6h0M25.0 21.9h0M60.5 106.2h0M46.7 57.1h0M47.2 16.0h0M78.9 97.3h0M46.5 24.7h0" stroke="#352d93" stroke-width="2.5"/><path d="M65.1 53.7h0M64.7 60.8h0M28.5 72.3h0M35.1 90.0h0M35.6 97.1h0M22.5 81.9h0M47.8 86.1h0M68.4 10.9h0M30.8 36.7h0M21.0 92.2h0M34.5 94.4h0" stroke="#352d93" stroke-width="3.0"/><path d="M19.8 62.2h0M22.5 60.5h0M13.3 53.0h0M14.7 62.3h0M19.5 58.3h0M20.0 57.0h0M15.9 49.5h0M8.6 66.1h0M24.1 57.9h0M19.3 69.9h0M12.1 55.4h0M13.0 41.0h0M21.6 59.0h0M13.3 56.3h0M21.2 57.7h0M11.2 59.7h0M23.4 64.6h0M19.9 60.6h0M15.2 58.7h0M14.1 71.3h0M10.9 54.1h0M15.8 57.7h0M19.6 64.2h0M9.6 50.9h0M94.0 42.2h0M37.1 68.6h0M76.7 75.4h0M105.0 55.2h0M86.2 33.6h0M28.0 38.3h0M46.8 103.1h0M13.9 33.4h0M26.8 71.5h0M18.6 29.6h0M82.4 60.3h0M90.7 65.4h0M46.1 12.7h0M25.1 79.6h0M67.3 101.4h0M17.9 35.5h0M54.4 71.1h0M30.6 65.6h0M35.0 99.0h0M71.7 86.9h0M59.5 22.2h0M14.9 73.1h0M47.7 81.4h0M44.1 47.3h0M47.7 47.9h0M47.9 99.9h0M90.2 82.3h0M26.7 35.7h0M22.0 90.2h0M46.6 19.5h0M70.0 90.8h0M53.9 60.5h0M77.9 35.2h0M50.7 62.0h0M73.1 14.7h0M36.5 22.8h0M39.9 20.7h0M11.3 49.9h0M37.6 78.3h0M26.1 28.5h0M52.8 9.7h0M58.1 76.1h0M46.9 105.6h0M48.4 50.7h0M68.9 19.7h0M74.9 95.2h0M100.4 50.2h0M62.1 65.0h0M20.0 66.0h0M95.0 82.5h0M31.9 89.5h0M42.9 17.3h0M42.5 92.8h0M47.1 72.7h0M18.8 43.3h0M16.3 32.8h0M45.0 17.2h0M82.1 45.6h0M30.1 39.4h0M36.8 24.6h0M33.1 19.8h0M66.7 103.8h0M35.4 96.9h0M60.2 14.6h0M50.9 41.2h0M39.0 40.6h0M27.0 91.3h0M64.3 36.2h0M39.9 87.8h0M67.0 46.9h0M48.9 29.1h0M16.8 74.6h0M18.8 56.6h0M48.3 46.8h0M34.4 75.6h0M76.4 98.0h0M14.6 73.0h0M69.4 97.5h0M53.8 56.8h0M30.3 51.3h0M32.5 51.3h0M52.8 81.3h0M89.7 82.5h0M82.7 92.2h0M73.5 26.7h0M28.2 71.4h0M66.7 71.7h0M43.5 46.2h0M17.4 87.2h0M78.2 68.1h0M27.1 96.8h0M26.3 82.7h0M63.7 84.5h0M103.9 55.3h0M40.9 84.5h0M9.0 54.4h0M22.3 31.6h0M32.5 41.4h0M75.4 102.1h0M46.1 77.3h0M24.1 43.2h0M98.2 57.6h0M87.0 92.3h0M45.5 95.0h0M80.4 91.6h0M22.4 50.9h0M51.3 62.3h0M18.5 50.2h0M60.7 90.0h0M101.7 42.0h0M34.3 80.0h0M52.6 27.6h0M77.4 28.9h0M17.2 30.8h0M72.0 42.9h0M83.9 35.1h0M27.1 59.7h0M26.7 33.7h0M57.6 33.5h0M25.1 40.2h0M50.2 14.0h0M25.2 38.1h0M28.6 42.8h0M50.8 28.5h0M36.2 22.9h0M18.9 61.4h0M97.0 35.6h0M62.0 51.5h0M44.7 40.7h0M50.9 83.4h0M78.2 40.1h0M95.6 45.5h0M68.6 68.3h0M26.6 43.1h0M47.4 86.7h0M46.3 49.9h0M39.9 87.0h0M34.6 88.9h0M61.1 41.6h0M61.2 63.3h0M97.9 81.0h0M104.8 50.4h0M27.7 69.8h0M66.8 80.2h0M53.2 17.0h0M30.3 52.1h0M18.3 65.7h0M26.5 96.3h0M88.2 26.7h0M103.7 68.5h0M73.2 15.3h0M42.4 88.9h0M64.8 32.3h0M32.7 41.8h0M16.9 62.2h0M64.5 71.9h0M9.2 50.5h0M103.5 62.9h0M47.5 98.1h0M88.6 21.7h0M34.7 98.1h0M6.7 61.6h0M42.5 88.9h0" stroke="#3f379d" stroke-width="1.5"/><path d="M21.8 54.9h0M12.2 58.1h0M16.6 39.6h0M10.3 68.3h0M10.2 48.3h0M14.7 57.7h0M22.4 50.5h0M25.1 55.7h0M11.7 54.6h0M11.8 54.5h0M71.5 48.4h0M31.2 33.6h0M41.9 77.1h0M62.8 15.8h0M58.4 16.8h0M87.0 37.0h0M40.7 75.2h0M68.8 66.5h0M54.9 71.7h0M72.9 68.4h0M105.3 59.5h0M6.7 60.2h0M45.2 100.6h0M60.5 67.4h0M85.5 30.0h0M35.3 96.7h0M43.5 34.7h0M24.1 58.6h0M20.4 31.9h0M96.5 57.6h0M35.0 41.8h0M45.3 97.2h0M26.5 35.4h0M35.2 18.2h0M29.8 58.3h0M80.4 60.6h0M26.8 22.4h0M57.5 18.0h0M82.4 25.9h0M53.2 29.4h0M40.8 70.5h0M18.5 50.5h0M43.9 86.5h0M91.1 84.2h0M36.4 91.6h0M73.5 80.2h0M62.7 83.2h0M49.9 56.3h0M52.7 40.4h0M22.7 74.2h0M72.5 36.5h0M14.4 63.7h0M7.8 52.0h0M81.3 64.1h0M82.1 86.9h0M66.2 21.9h0M102.7 51.2h0M23.8 57.0h0M38.0 89.4h0M26.8 97.3h0M28.9 87.5h0M45.2 14.1h0M56.7 91.5h0M72.1 78.3h0M23.3 67.2h0M70.1 85.2h0M83.2 84.0h0M24.4 31.9h0M7.8 56.4h0M37.2 71.3h0M51.3 91.5h0M16.5 87.6h0M49.9 12.6h0M82.4 90.2h0M78.9 101.1h0M89.7 26.4h0M11.7 69.4h0M65.1 14.9h0M13.8 53.7h0M94.8 55.5h0M32.9 21.2h0M45.6 36.2h0M38.0 49.0h0M20.1 27.6h0M75.2 93.4h0M16.3 49.8h0M89.3 81.7h0M19.8 43.4h0M9.1 62.0h0M56.4 104.2h0M56.3 84.5h0M80.7 66.7h0M37.0 91.1h0M59.4 35.2h0M44.0 51.4h0M45.9 10.4h0" stroke="#3f379d" stroke-width="2.0"/><path d="M15.5 48.2h0M11.6 61.6h0M39.4 35.6h0M34.1 91.1h0M71.2 80.6h0M76.3 47.8h0M13.5 47.3h0M59.5 16.7h0" stroke="#3f379d" stroke-width="2.5"/><path d="M24.1 52.1h0M13.8 61.3h0M15.4 66.4h0M17.4 63.6h0M12.3 43.5h0M12.9 58.8h0M20.4 52.9h0M10.2 59.9h0M24.4 66.1h0M25.1 60.7h0M15.7 34.3h0M47.0 78.6h0M48.9 66.0h0M14.9 50.0h0M64.5 104.8h0M20.6 79.0h0M45.5 30.3h0M70.6 20.4h0M62.6 66.8h0M63.0 79.9h0M40.4 103.6h0M31.7 33.1h0M33.3 18.2h0M48.2 36.4h0M29.8 99.3h0M76.9 59.6h0M6.9 61.1h0M75.9 60.3h0M19.8 63.4h0M59.8 45.6h0M75.5 49.9h0M27.6 93.4h0M15.8 75.3h0M47.3 17.4h0M22.2 45.5h0M100.9 39.2h0M62.5 73.6h0M64.9 105.0h0M60.0 10.4h0M46.6 42.4h0M49.1 86.5h0M61.3 102.1h0M65.9 68.1h0M9.8 62.9h0M53.2 22.1h0M30.1 32.2h0M48.6 15.3h0M13.6 60.7h0M9.7 45.2h0M38.5 22.6h0M77.2 88.5h0M9.8 64.9h0M48.3 46.3h0M28.1 56.2h0M62.8 20.4h0M89.8 93.6h0M81.6 60.9h0M68.9 71.1h0M99.2 47.9h0M90.7 56.4h0M84.2 29.2h0M51.8 37.4h0M59.5 30.5h0M40.6 50.3h0M16.7 82.8h0M85.9 78.0h0M98.5 35.3h0M18.0 84.2h0M69.4 56.3h0M76.1 16.9h0M97.7 74.2h0M44.0 34.0h0M67.2 41.1h0M68.3 34.0h0M45.8 102.7h0M29.7 62.1h0M83.3 95.2h0M18.8 76.4h0M7.5 59.9h0M42.2 105.4h0M32.1 78.4h0M60.7 34.6h0M10.1 75.3h0M68.5 21.8h0M52.6 90.8h0M48.9 107.3h0M37.4 82.1h0M64.1 67.8h0M75.4 102.4h0M49.3 103.4h0M12.3 77.9h0M13.8 43.8h0M43.9 77.0h0M28.1 93.9h0M50.2 71.6h0M12.2 38.0h0M68.4 19.8h0M89.9 41.4h0M71.5 20.1h0M45.1 46.3h0M48.6 78.3h0M62.5 82.8h0M52.4 106.8h0M67.8 34.1h0M12.4 45.3h0M86.3 62.8h0M97.6 59.1h0M62.0 51.0h0" stroke="#4a42a8" stroke-width="1.5"/><path d="M46.2 97.6h0" stroke="#4a42a8" stroke-width="2.0"/></g></svg><svg class="pn" style="left:351.00px;top:49.00px;width:117.00px;height:117.00px" viewBox="0 0 117.00 117.00"><linearGradient id="g_p3" x1="0" y1="0" x2="0" y2="1"><stop offset="0" stop-color="#bbbbb9"/><stop offset="1" stop-color="#bdbdbb"/></linearGradient><rect width="117.0" height="117.0" fill="url(#g_p3)"/><circle cx="58.5" cy="58.5" r="58.5" fill="#c1c1bf" fill-opacity="1.00" stroke="#d0d0cf" stroke-width="1.2" stroke-opacity="0.80"/><path d="M48.4 115.6A58.0 58.0 0 0 1 4.0 38.7L9.6 40.7A52.1 52.1 0 0 0 49.5 109.8Z" fill="#a29cd2" fill-opacity="0.30"/><path d="M16.9 91.0A52.8 52.8 0 0 1 6.0 53.2" fill="none" stroke="#a29cd2" stroke-width=".7" stroke-opacity=".5"/><path d="M42.0 113.3A57.2 57.2 0 0 1 3.4 73.9" fill="none" stroke="#a29cd2" stroke-width=".7" stroke-opacity=".5"/><path d="M12.7 92.3A57.0 57.0 0 0 1 5.0 39.0" fill="none" stroke="#a29cd2" stroke-width=".7" stroke-opacity=".5"/><circle cx="58.5" cy="58.5" r="52.1" fill="#c2c2c0" fill-opacity="1.00" stroke="#8b8b99" stroke-width="0.9" stroke-opacity="0.50"/><g filter="url(#bl)"><path d="M60.7 57.4h0M56.0 56.8h0M58.6 46.0h0M59.5 49.9h0M74.9 65.0h0M69.3 59.3h0M62.5 56.5h0M62.9 50.0h0M16.3 52.0h0M11.3 55.1h0M11.3 56.0h0M10.5 55.7h0M13.4 60.0h0M11.3 59.1h0M11.6 58.6h0M22.7 56.3h0M102.7 42.0h0M58.8 25.0h0M49.3 10.7h0M15.8 58.6h0M16.0 37.9h0M50.4 75.5h0M98.2 64.7h0M86.8 76.1h0M77.7 29.0h0M60.3 69.1h0M32.4 94.2h0M35.5 70.3h0M55.6 66.4h0M85.2 59.4h0M29.2 73.0h0M16.0 80.2h0M65.0 54.9h0M58.1 55.8h0M65.1 61.6h0M59.2 63.2h0M59.0 71.9h0M66.0 55.9h0M58.5 59.0h0M17.1 53.9h0M15.2 47.4h0M14.9 59.4h0M94.2 65.1h0M55.2 102.5h0M13.0 50.0h0M25.9 55.3h0M23.9 55.1h0M84.2 63.4h0M23.6 72.9h0M13.8 46.9h0M41.0 55.2h0M21.1 27.0h0M62.7 74.2h0M26.8 90.2h0M23.9 90.9h0M107.7 50.7h0M70.5 56.5h0M46.7 65.1h0M98.3 65.7h0M53.9 65.1h0M56.0 9.6h0M63.2 23.5h0M46.7 13.3h0M17.7 58.0h0M23.9 81.6h0M53.2 20.2h0M69.1 12.8h0M92.8 78.5h0M50.4 93.4h0M49.8 92.7h0" stroke="#9a96c8" stroke-opacity="0.55" stroke-width="3.1"/><path d="M52.1 54.7h0M62.5 52.1h0M57.5 57.5h0M62.6 59.7h0M64.2 57.3h0M22.2 55.5h0M11.6 56.0h0M18.2 57.9h0M94.1 50.9h0M70.8 15.6h0M45.3 28.0h0M72.1 97.3h0M14.1 36.4h0M92.6 75.1h0M51.6 41.6h0M64.1 66.0h0M61.9 57.4h0M59.1 50.9h0M63.9 63.5h0M74.3 54.3h0M69.5 63.0h0M62.3 51.0h0M15.5 53.5h0M12.4 59.6h0M101.5 41.8h0M93.6 91.9h0M32.5 62.3h0M32.3 59.5h0M55.1 56.2h0M48.9 12.1h0M57.1 60.7h0M16.4 57.5h0M9.9 57.2h0M79.4 93.0h0M49.5 77.6h0M80.1 96.9h0M45.7 73.4h0M21.7 30.7h0M90.6 70.5h0M45.8 99.4h0M31.0 88.0h0M62.1 95.0h0M107.2 69.1h0M35.2 88.9h0M78.1 24.3h0M27.3 32.4h0M94.8 81.0h0M11.8 48.9h0M20.4 53.4h0M95.3 28.7h0M33.4 26.3h0M81.6 51.3h0M17.2 80.0h0M62.5 71.4h0M33.7 65.5h0M17.5 54.9h0M17.2 56.6h0M25.0 54.5h0M77.9 58.2h0M68.9 40.1h0M19.5 27.4h0" stroke="#9a96c8" stroke-opacity="0.55" stroke-width="3.6"/><path d="M61.3 62.8h0M67.4 42.1h0M44.4 50.0h0M63.7 58.7h0M60.5 52.2h0M16.2 59.7h0M22.0 55.4h0M43.4 37.7h0M100.2 85.2h0M78.4 83.2h0M86.1 20.8h0M30.7 56.4h0M95.6 45.8h0M73.5 75.0h0M55.1 91.6h0M62.6 24.6h0M69.4 93.9h0M23.9 78.0h0M76.7 41.0h0M17.8 72.1h0M50.2 41.0h0M25.5 36.9h0M76.5 30.2h0M74.8 89.6h0M46.6 96.2h0M61.3 77.9h0M33.6 45.0h0M76.3 40.2h0M68.9 63.6h0M61.9 61.1h0M51.5 50.5h0M50.0 67.3h0M62.6 51.8h0M65.0 53.4h0M15.7 55.0h0M72.2 20.5h0M32.9 60.9h0M49.6 13.4h0M88.1 46.0h0M32.0 71.0h0M100.9 53.5h0M83.4 33.6h0M15.2 79.3h0M32.1 35.1h0M63.5 76.7h0M20.3 47.0h0M18.6 43.4h0M16.4 53.0h0M91.8 85.4h0M66.5 59.2h0" stroke="#9a96c8" stroke-opacity="0.55" stroke-width="4.1"/><path d="M54.6 64.5h0M65.6 66.7h0M65.8 67.9h0M64.6 57.2h0M64.6 50.5h0M60.4 59.2h0M15.9 59.8h0M23.1 54.0h0M19.9 47.1h0M78.0 28.9h0M104.4 53.9h0M92.5 45.9h0M94.9 29.3h0M19.4 65.7h0M71.0 98.7h0M56.3 74.3h0M82.7 21.1h0M26.6 54.3h0M21.9 56.8h0M41.5 73.6h0M73.7 94.5h0M74.9 79.8h0M74.8 29.6h0M44.4 40.1h0M58.2 86.6h0M66.6 66.2h0M15.7 54.7h0M10.9 49.2h0M18.0 61.1h0M11.5 46.6h0M58.8 36.3h0M50.0 44.4h0M65.8 60.9h0M19.4 71.0h0M45.5 23.7h0M39.4 36.4h0" stroke="#9a96c8" stroke-opacity="0.55" stroke-width="4.6"/><path d="M59.1 45.7h0M54.2 53.0h0M14.1 57.8h0M53.0 74.3h0M50.9 25.1h0M89.3 70.0h0M58.5 52.5h0M61.9 59.2h0M20.1 44.9h0M15.8 55.0h0M91.0 55.3h0M32.0 42.9h0M90.4 87.0h0M45.9 93.2h0M42.4 100.8h0M35.3 64.5h0M88.9 25.9h0M59.3 25.3h0M45.6 60.4h0M61.5 74.8h0M67.7 62.9h0" stroke="#9a96c8" stroke-opacity="0.55" stroke-width="5.1"/><path d="M60.8 51.2h0M21.3 72.4h0M25.8 54.2h0" stroke="#9a96c8" stroke-opacity="0.55" stroke-width="5.6"/><path d="M17.5 54.9h0M17.2 56.6h0" stroke="#1e1a50" stroke-width="2.0"/><path d="M20.3 47.0h0M18.6 43.4h0M16.4 53.0h0M91.8 85.4h0M66.5 59.2h0" stroke="#1e1a50" stroke-width="2.5"/><path d="M66.6 66.2h0M15.7 54.7h0M10.9 49.2h0M18.0 61.1h0M11.5 46.6h0M58.8 36.3h0M50.0 44.4h0M65.8 60.9h0M19.4 71.0h0" stroke="#1e1a50" stroke-width="3.0"/><path d="M58.5 52.5h0M61.9 59.2h0M20.1 44.9h0M15.8 55.0h0M91.0 55.3h0M32.0 42.9h0M90.4 87.0h0M45.9 93.2h0M42.4 100.8h0M35.3 64.5h0M88.9 25.9h0M59.3 25.3h0M45.6 60.4h0M61.5 74.8h0M67.7 62.9h0" stroke="#1e1a50" stroke-width="3.5"/><path d="M60.8 51.2h0M21.3 72.4h0M25.8 54.2h0" stroke="#1e1a50" stroke-width="4.0"/><path d="M52.1 54.7h0M62.5 52.1h0M57.5 57.5h0M62.6 59.7h0M64.2 57.3h0M22.2 55.5h0M11.6 56.0h0M18.2 57.9h0M94.1 50.9h0M70.8 15.6h0M45.3 28.0h0M72.1 97.3h0M14.1 36.4h0M92.6 75.1h0M51.6 41.6h0M64.1 66.0h0" stroke="#282365" stroke-width="2.0"/><path d="M61.3 62.8h0M67.4 42.1h0M44.4 50.0h0M63.7 58.7h0M60.5 52.2h0M16.2 59.7h0M22.0 55.4h0M43.4 37.7h0M100.2 85.2h0M78.4 83.2h0M86.1 20.8h0M30.7 56.4h0M95.6 45.8h0M73.5 75.0h0M55.1 91.6h0M62.6 24.6h0M69.4 93.9h0M23.9 78.0h0M76.7 41.0h0M17.8 72.1h0M50.2 41.0h0M25.5 36.9h0M76.5 30.2h0M74.8 89.6h0M46.6 96.2h0M61.3 77.9h0M33.6 45.0h0M76.3 40.2h0" stroke="#282365" stroke-width="2.5"/><path d="M54.6 64.5h0M65.6 66.7h0M65.8 67.9h0M64.6 57.2h0M64.6 50.5h0M60.4 59.2h0M15.9 59.8h0M23.1 54.0h0M19.9 47.1h0M78.0 28.9h0M104.4 53.9h0M92.5 45.9h0M94.9 29.3h0M19.4 65.7h0M71.0 98.7h0M56.3 74.3h0M82.7 21.1h0M26.6 54.3h0M21.9 56.8h0M41.5 73.6h0M73.7 94.5h0M74.9 79.8h0M74.8 29.6h0M44.4 40.1h0M58.2 86.6h0" stroke="#282365" stroke-width="3.0"/><path d="M59.1 45.7h0M54.2 53.0h0M14.1 57.8h0M53.0 74.3h0M50.9 25.1h0M89.3 70.0h0" stroke="#282365" stroke-width="3.5"/><path d="M60.7 57.4h0M56.0 56.8h0M58.6 46.0h0M59.5 49.9h0M74.9 65.0h0M69.3 59.3h0M62.5 56.5h0M62.9 50.0h0M16.3 52.0h0M11.3 55.1h0M11.3 56.0h0M10.5 55.7h0M13.4 60.0h0M11.3 59.1h0M11.6 58.6h0M22.7 56.3h0M102.7 42.0h0M58.8 25.0h0M49.3 10.7h0M15.8 58.6h0M16.0 37.9h0M50.4 75.5h0M98.2 64.7h0M86.8 76.1h0M77.7 29.0h0M60.3 69.1h0M32.4 94.2h0M35.5 70.3h0M55.6 66.4h0M85.2 59.4h0M29.2 73.0h0M16.0 80.2h0" stroke="#322d7b" stroke-width="1.5"/><path d="M61.9 57.4h0M59.1 50.9h0M63.9 63.5h0M74.3 54.3h0M69.5 63.0h0M62.3 51.0h0M15.5 53.5h0M12.4 59.6h0M101.5 41.8h0M93.6 91.9h0M32.5 62.3h0M32.3 59.5h0M55.1 56.2h0M48.9 12.1h0M57.1 60.7h0M16.4 57.5h0M9.9 57.2h0M79.4 93.0h0M49.5 77.6h0M80.1 96.9h0M45.7 73.4h0M21.7 30.7h0M90.6 70.5h0M45.8 99.4h0M31.0 88.0h0M62.1 95.0h0M107.2 69.1h0M35.2 88.9h0M78.1 24.3h0M27.3 32.4h0M94.8 81.0h0M11.8 48.9h0M20.4 53.4h0M95.3 28.7h0M33.4 26.3h0M81.6 51.3h0M17.2 80.0h0M62.5 71.4h0M33.7 65.5h0" stroke="#322d7b" stroke-width="2.0"/><path d="M68.9 63.6h0M61.9 61.1h0M51.5 50.5h0M50.0 67.3h0M62.6 51.8h0M65.0 53.4h0M15.7 55.0h0M72.2 20.5h0M32.9 60.9h0M49.6 13.4h0M88.1 46.0h0M32.0 71.0h0M100.9 53.5h0M83.4 33.6h0M15.2 79.3h0M32.1 35.1h0M63.5 76.7h0" stroke="#322d7b" stroke-width="2.5"/><path d="M45.5 23.7h0M39.4 36.4h0" stroke="#322d7b" stroke-width="3.0"/><path d="M65.0 54.9h0M58.1 55.8h0M65.1 61.6h0M59.2 63.2h0M59.0 71.9h0M66.0 55.9h0M58.5 59.0h0M17.1 53.9h0M15.2 47.4h0M14.9 59.4h0M94.2 65.1h0M55.2 102.5h0M13.0 50.0h0M25.9 55.3h0M23.9 55.1h0M84.2 63.4h0M23.6 72.9h0M13.8 46.9h0M41.0 55.2h0M21.1 27.0h0M62.7 74.2h0M26.8 90.2h0M23.9 90.9h0M107.7 50.7h0M70.5 56.5h0M46.7 65.1h0M98.3 65.7h0M53.9 65.1h0M56.0 9.6h0M63.2 23.5h0M46.7 13.3h0M17.7 58.0h0M23.9 81.6h0M53.2 20.2h0M69.1 12.8h0M92.8 78.5h0M50.4 93.4h0M49.8 92.7h0" stroke="#3c3690" stroke-width="1.5"/><path d="M25.0 54.5h0M77.9 58.2h0M68.9 40.1h0M19.5 27.4h0" stroke="#3c3690" stroke-width="2.0"/></g></svg><svg class="pn" style="left:474.50px;top:49.00px;width:121.50px;height:117.00px" viewBox="0 0 121.50 117.00"><linearGradient id="g_p4" x1="0" y1="0" x2="0" y2="1"><stop offset="0" stop-color="#d3d3d1"/><stop offset="1" stop-color="#d1d1cf"/></linearGradient><rect width="121.5" height="117.0" fill="url(#g_p4)"/><circle cx="60.8" cy="62.5" r="62.0" fill="#d6d6d4" fill-opacity="1.00" stroke="#e0e0de" stroke-width="1.2" stroke-opacity="0.80"/><path d="M114.0 31.7A61.5 61.5 0 0 1 39.7 120.3L41.9 114.2A55.0 55.0 0 0 0 108.4 35.0Z" fill="#8a80c8" fill-opacity="0.50"/><path d="M110.2 90.0A56.5 56.5 0 0 1 41.4 115.6" fill="none" stroke="#8a80c8" stroke-width=".7" stroke-opacity=".5"/><path d="M120.7 63.3A60.0 60.0 0 0 1 71.7 121.5" fill="none" stroke="#8a80c8" stroke-width=".7" stroke-opacity=".5"/><path d="M118.8 68.5A58.3 58.3 0 0 1 95.4 109.4" fill="none" stroke="#8a80c8" stroke-width=".7" stroke-opacity=".5"/><path d="M105.8 98.7A57.8 57.8 0 0 1 41.0 116.8" fill="none" stroke="#8a80c8" stroke-width=".7" stroke-opacity=".5"/><path d="M107.7 101.2A60.9 60.9 0 0 1 39.9 119.7" fill="none" stroke="#8a80c8" stroke-width=".7" stroke-opacity=".5"/><path d="M121.2 56.5A60.7 60.7 0 0 1 44.0 120.9" fill="none" stroke="#8a80c8" stroke-width=".7" stroke-opacity=".5"/><path d="M119.1 63.6A58.3 58.3 0 0 1 91.4 112.1" fill="none" stroke="#8a80c8" stroke-width=".7" stroke-opacity=".5"/><path d="M105.9 95.3A55.8 55.8 0 0 1 41.7 114.9" fill="none" stroke="#8a80c8" stroke-width=".7" stroke-opacity=".5"/><path d="M7.5 93.3A61.5 61.5 0 0 1 13.6 23.0L18.6 27.2A55.0 55.0 0 0 0 13.1 90.0Z" fill="#a29cd2" fill-opacity="0.30"/><path d="M6.7 82.0A57.5 57.5 0 0 1 4.5 50.7" fill="none" stroke="#a29cd2" stroke-width=".7" stroke-opacity=".5"/><path d="M1.0 76.5A61.3 61.3 0 0 1 0.9 48.9" fill="none" stroke="#a29cd2" stroke-width=".7" stroke-opacity=".5"/><circle cx="60.8" cy="62.5" r="55.0" fill="#d7d7d5" fill-opacity="1.00" stroke="#9898a5" stroke-width="0.9" stroke-opacity="0.30"/><g filter="url(#bl)"><path d="M82.6 70.8h0M32.0 50.2h0M29.7 23.3h0M30.4 24.3h0M23.2 98.9h0M24.2 98.2h0M70.5 110.8h0M70.6 109.6h0M35.8 50.5h0M39.4 84.4h0M58.9 85.0h0M11.3 80.3h0M90.8 62.8h0M44.4 82.4h0M77.3 98.5h0M76.3 97.8h0M78.4 98.9h0M57.7 102.6h0M51.4 37.4h0M108.3 69.7h0M72.7 73.6h0M73.0 74.7h0M26.6 102.7h0M81.1 61.2h0M9.9 72.5h0M89.6 39.6h0M47.8 18.3h0M46.7 18.7h0M48.0 17.2h0M106.0 40.6h0M46.1 87.0h0M54.0 16.6h0M74.9 37.5h0M74.1 36.6h0M18.7 79.0h0M19.6 79.8h0M18.0 80.0h0M45.0 75.0h0M44.3 76.0h0M47.8 68.5h0M48.8 67.8h0M47.3 67.4h0M23.0 26.8h0M23.8 27.7h0M23.1 28.0h0M70.4 76.0h0M61.0 72.2h0M60.9 71.0h0M62.2 71.8h0M31.5 66.1h0M38.1 51.1h0M18.2 39.6h0M17.4 40.5h0M53.0 103.1h0M70.3 78.4h0M69.5 77.4h0M108.9 47.6h0M65.0 33.7h0M20.7 82.2h0M51.8 21.2h0M100.2 50.5h0M100.6 51.6h0M19.2 65.8h0M43.3 19.5h0M44.5 19.7h0M89.7 29.3h0M89.1 30.3h0M58.0 24.1h0M100.6 30.5h0M99.5 30.2h0M99.5 30.1h0M90.1 37.9h0M46.7 29.8h0M61.9 52.9h0M47.2 40.8h0M46.1 41.3h0M70.5 100.5h0M71.7 100.8h0M85.5 40.5h0M82.3 48.8h0M83.5 49.0h0M23.0 76.7h0M24.2 77.0h0M24.1 77.2h0M46.5 71.2h0M47.4 72.0h0M80.2 45.3h0M47.0 24.1h0M45.8 26.9h0M109.0 67.7h0M89.7 77.4h0M90.0 77.7h0M86.7 15.7h0M19.2 88.1h0M68.5 92.4h0M69.4 93.1h0M71.8 34.7h0M69.7 36.5h0M22.2 47.6h0M24.1 46.7h0M49.9 20.1h0M49.9 20.0h0M86.6 18.7h0M87.0 21.4h0M68.6 27.3h0M28.0 93.0h0M34.6 105.6h0M74.1 95.0h0M70.9 15.4h0M71.1 16.6h0M51.9 20.4h0M81.9 80.0h0M106.1 50.1h0M33.1 95.2h0M31.9 94.8h0M32.8 94.0h0M33.9 86.3h0M36.8 86.3h0M63.7 68.6h0M64.0 71.5h0M48.8 42.4h0M35.6 48.5h0M35.0 49.6h0M64.0 10.8h0M58.5 106.3h0M93.3 45.5h0M30.9 33.4h0M29.7 33.8h0M50.1 30.0h0M27.0 81.8h0M26.2 83.0h0M40.3 101.8h0M24.3 49.4h0M23.3 48.5h0M15.8 73.7h0M79.4 60.7h0M79.0 61.8h0M52.2 67.3h0M48.5 78.3h0M41.9 97.3h0M50.6 88.4h0M30.3 85.0h0M92.0 78.0h0M92.7 78.3h0M65.2 31.8h0M13.8 74.2h0M13.5 75.3h0M9.3 71.5h0M85.9 82.6h0M80.1 20.2h0M72.3 11.4h0M73.4 11.9h0M73.1 12.3h0M67.7 83.0h0M46.6 68.8h0M108.0 64.0h0M37.2 95.6h0M30.0 39.6h0M28.8 39.6h0M74.7 14.7h0M75.0 15.9h0M74.9 15.9h0M91.0 50.7h0M77.0 46.5h0M77.8 47.3h0M112.8 69.8h0M94.3 35.0h0M100.2 58.2h0M18.3 41.4h0M17.6 44.0h0M103.4 57.2h0M47.3 32.6h0M78.2 80.4h0M32.4 61.1h0M48.7 43.2h0M73.8 17.8h0M74.9 18.2h0M104.1 51.4h0M103.5 48.8h0M13.2 63.2h0M33.0 77.3h0M83.3 52.2h0M29.8 49.6h0M68.1 84.7h0M68.6 83.6h0M86.6 81.7h0M21.1 40.6h0M34.4 50.7h0M63.2 103.6h0M77.6 84.3h0M94.8 54.3h0M30.1 49.7h0M31.0 48.5h0M46.8 94.4h0M107.1 57.1h0M91.0 61.0h0M91.4 59.8h0M54.1 100.8h0M51.9 99.8h0M74.1 48.3h0M71.8 48.3h0M23.3 62.6h0M64.4 98.0h0M91.5 34.0h0M90.3 33.7h0M40.2 68.9h0M41.4 69.8h0M68.5 84.3h0M71.4 85.5h0M37.3 42.1h0M112.5 70.1h0M113.3 71.0h0M37.1 83.1h0M38.0 83.9h0M37.9 82.3h0M59.8 33.8h0M100.0 82.1h0M51.1 25.5h0M66.8 75.2h0M66.7 75.2h0M89.5 33.6h0M87.8 34.7h0M29.9 49.4h0M80.3 104.2h0M41.7 51.8h0M45.9 25.7h0M49.1 24.3h0M93.2 61.6h0M91.1 59.0h0M13.7 80.7h0M12.7 80.0h0M50.4 85.4h0M54.5 95.9h0M55.3 98.4h0M68.5 29.0h0M62.6 85.5h0M67.8 14.6h0M67.6 15.8h0M63.6 49.2h0M63.8 48.0h0M45.5 94.5h0M21.2 47.0h0M20.0 49.7h0M74.7 12.3h0M110.3 50.7h0M13.7 48.5h0M19.2 74.4h0M18.1 73.9h0M25.5 65.7h0M92.9 92.3h0M93.8 91.5h0M93.9 91.6h0M39.0 51.3h0M73.8 78.6h0M93.2 55.5h0M111.4 65.1h0M16.7 46.9h0M94.5 78.2h0M95.7 78.6h0M94.0 79.3h0M45.3 91.0h0M21.5 56.9h0M21.4 55.7h0M21.5 55.7h0M61.6 92.1h0M61.9 89.5h0M67.0 48.3h0M66.7 47.1h0M66.8 47.1h0M64.8 32.3h0M23.4 45.1h0M91.5 36.1h0M90.5 35.5h0M91.8 34.9h0M27.3 31.8h0M112.4 51.4h0M56.8 30.3h0M97.2 48.8h0M55.5 22.6h0M104.8 61.1h0M69.5 36.6h0M75.7 98.6h0M75.3 99.7h0M75.1 99.6h0M63.2 10.4h0M64.1 9.6h0M64.3 9.9h0M43.6 48.7h0M50.8 105.4h0M51.6 106.2h0M50.3 104.3h0M39.1 101.8h0M96.7 59.6h0M96.2 60.7h0M62.0 98.7h0M52.2 104.3h0M74.2 75.3h0M74.5 74.1h0M74.7 76.4h0M74.0 58.5h0M43.7 61.1h0M37.9 104.7h0M73.7 62.4h0M74.6 63.3h0M78.3 98.2h0M72.4 100.5h0M49.3 71.2h0M28.3 85.9h0M29.0 86.8h0M29.2 86.6h0M37.7 38.0h0M36.5 38.4h0M38.7 38.6h0M57.3 59.3h0M72.5 40.9h0M16.7 54.9h0M96.7 28.4h0M46.9 73.6h0M61.4 42.9h0M48.5 18.5h0M87.1 84.0h0M84.7 84.7h0M88.6 68.0h0M39.8 82.9h0M41.8 80.7h0M30.3 65.8h0M98.0 46.3h0M61.0 95.9h0M58.2 26.1h0M57.8 25.0h0M57.4 27.0h0M73.9 85.9h0M74.4 87.0h0M72.8 85.4h0M33.1 29.0h0M63.7 36.0h0M63.6 37.2h0M28.9 79.6h0M99.8 43.8h0M65.4 20.8h0M65.3 22.0h0M66.4 21.4h0M43.0 22.3h0M52.5 16.5h0M17.9 86.2h0M19.1 86.2h0M94.0 70.2h0M75.7 23.7h0M109.0 71.1h0M8.4 58.2h0M8.0 57.1h0M8.2 57.0h0M93.9 54.7h0M94.5 55.8h0M43.5 71.6h0M106.5 51.8h0M107.3 52.7h0M96.2 77.5h0M97.1 78.2h0M54.9 101.7h0M53.4 99.6h0M64.0 60.2h0M63.0 60.8h0M18.1 92.3h0M16.9 92.3h0M91.9 66.9h0M84.7 55.1h0M34.1 103.4h0M33.4 104.4h0M33.6 104.5h0M100.4 40.0h0M101.2 39.1h0M100.4 41.2h0M51.3 41.1h0M51.7 41.9h0M87.5 98.9h0M39.1 107.5h0M30.6 41.5h0M8.1 59.4h0M72.3 73.8h0M72.0 74.9h0M93.7 95.0h0M77.7 66.3h0M76.7 66.9h0M76.7 67.0h0M56.2 32.3h0M43.4 13.2h0M42.4 13.9h0M26.3 71.1h0M80.9 30.8h0M12.8 45.5h0M11.9 44.8h0M11.7 45.9h0M21.7 32.6h0M22.2 31.5h0M22.6 35.5h0M74.4 14.0h0M70.0 98.8h0M85.3 24.4h0M57.5 29.5h0M58.3 91.7h0M57.1 91.9h0M35.0 35.4h0M35.9 36.2h0M33.8 35.4h0M81.4 97.8h0M86.9 29.3h0M86.0 28.5h0M88.0 29.5h0M98.0 89.4h0M27.1 28.2h0M86.4 32.7h0M44.9 110.1h0M63.0 58.2h0M90.3 24.0h0M38.9 79.8h0M39.0 81.0h0M86.1 53.9h0M61.2 57.3h0M30.4 69.1h0M31.2 70.0h0M29.5 69.9h0M50.4 29.4h0M49.3 29.8h0M51.6 29.0h0M38.2 56.0h0M85.4 78.3h0M27.6 85.3h0M93.6 85.1h0M92.7 85.9h0M82.6 32.3h0M63.8 25.6h0M53.5 73.4h0M110.9 61.5h0M109.7 61.6h0M30.5 82.9h0M30.4 79.9h0M61.4 106.7h0M61.2 107.9h0M31.9 62.0h0M76.6 44.0h0M56.2 59.7h0M59.7 71.2h0M59.8 72.4h0M67.4 108.7h0M68.6 109.0h0M68.6 108.5h0M81.4 62.1h0M72.2 29.8h0M73.4 30.2h0M73.0 30.8h0M55.9 105.3h0M57.0 37.1h0M55.8 37.4h0M10.1 77.1h0M10.9 77.9h0M9.1 77.7h0M34.2 78.2h0M35.4 78.0h0M38.0 86.4h0M36.9 86.0h0M39.1 85.9h0M101.0 59.7h0M76.2 13.2h0M76.4 12.0h0M74.1 35.1h0M72.9 34.7h0M74.8 36.0h0M51.2 89.7h0M50.6 88.7h0M52.3 89.2h0M67.4 77.1h0M66.9 60.5h0M61.8 68.8h0M60.9 69.6h0M67.6 11.4h0M66.9 11.2h0M31.7 84.4h0M31.5 83.2h0M32.1 85.5h0M42.0 52.3h0M43.0 51.7h0M40.8 52.4h0M28.6 81.9h0M27.4 82.0h0M78.9 14.6h0M49.7 19.1h0M50.2 20.2h0M80.1 40.3h0M80.8 37.8h0M52.6 104.5h0M53.8 104.2h0M53.8 104.8h0M85.2 16.4h0M73.0 65.9h0M58.0 28.5h0M59.2 28.1h0M45.7 95.1h0M44.9 94.2h0M75.7 71.6h0M76.8 71.3h0M70.7 13.5h0M105.3 60.1h0M83.8 22.3h0M83.3 21.7h0M44.0 55.8h0M42.8 55.9h0M29.9 35.7h0M102.3 92.9h0M101.1 92.9h0M94.7 54.0h0M94.4 52.8h0M68.0 88.3h0M15.7 87.1h0M62.2 74.7h0M55.8 53.5h0M46.4 63.0h0M46.4 64.2h0M45.9 64.1h0M15.9 84.7h0M15.3 83.7h0M16.8 83.9h0M77.5 16.7h0M78.9 102.0h0M79.0 103.2h0M42.3 88.5h0M70.1 59.0h0M71.1 60.8h0M10.4 56.3h0M51.7 49.0h0M33.4 36.4h0M33.5 35.2h0M32.3 36.9h0" stroke="#9890d8" stroke-opacity="0.50" stroke-width="3.4"/><path d="M46.6 25.5h0M110.4 68.3h0M51.5 31.7h0M90.8 76.5h0M55.8 89.8h0M85.6 16.7h0M27.6 33.6h0M20.4 87.3h0M71.1 36.0h0M48.2 100.1h0M100.3 90.5h0M34.8 77.1h0M82.7 33.5h0M22.6 46.2h0M87.4 20.0h0M69.3 28.6h0M36.0 60.3h0M51.3 41.8h0M73.3 62.9h0M29.6 91.5h0M33.2 105.0h0M75.6 94.9h0M19.5 30.7h0M106.2 64.2h0M104.4 61.2h0M30.8 86.2h0M81.4 78.5h0M47.5 31.3h0M43.5 31.3h0M107.3 49.1h0M11.2 75.6h0M73.6 87.3h0M18.1 85.3h0M63.6 70.1h0M87.9 77.7h0M81.7 70.2h0M72.1 20.4h0M49.0 42.8h0M72.8 85.3h0M101.2 67.2h0M57.6 107.4h0M70.7 13.5h0M94.3 43.8h0M48.9 29.1h0M64.8 84.2h0M81.5 33.8h0M93.2 48.4h0M25.5 81.6h0M41.2 100.6h0M22.9 49.9h0M50.9 66.6h0M26.7 70.6h0M53.4 88.4h0M27.7 87.4h0M77.9 21.5h0M91.9 79.5h0M83.0 54.3h0M66.7 32.0h0M51.8 32.1h0M57.7 110.8h0M64.0 36.3h0M62.1 83.9h0M10.4 72.5h0M59.8 27.1h0M85.8 81.1h0M33.0 92.3h0M34.3 93.9h0M80.0 21.7h0M8.1 63.0h0M22.6 58.6h0M66.9 81.7h0M46.3 67.4h0M79.0 26.2h0M75.2 25.4h0M61.5 31.4h0M100.8 59.7h0M34.6 77.0h0M73.1 34.7h0M35.8 96.2h0M89.0 98.8h0M10.9 79.2h0M82.4 100.9h0M103.2 89.1h0M92.5 50.6h0M22.7 39.5h0M73.9 90.5h0M19.8 50.3h0M94.4 33.5h0M49.0 109.4h0M56.7 77.7h0M72.1 51.5h0M32.2 60.3h0M18.6 42.9h0M92.5 23.9h0M84.6 56.5h0M48.7 32.0h0M47.3 42.8h0M104.4 50.0h0M107.3 40.6h0M32.3 80.8h0M74.5 72.9h0M59.8 100.7h0M84.3 51.1h0M69.6 84.8h0M21.8 42.0h0M48.1 15.3h0M33.2 51.7h0M74.3 66.9h0M64.6 106.6h0M50.8 73.9h0M36.9 45.5h0M106.7 76.9h0M104.5 55.5h0M15.3 75.7h0M72.9 49.3h0M23.4 63.3h0M65.9 97.9h0M41.5 13.4h0M83.3 86.9h0M57.2 41.4h0M37.2 40.6h0M11.6 80.4h0M47.1 66.5h0M58.9 65.1h0M66.0 19.3h0M105.6 42.8h0M99.9 33.0h0M54.2 97.4h0M59.9 113.6h0M20.5 48.3h0M37.1 42.5h0M73.6 21.9h0M14.7 47.4h0M49.6 50.2h0M92.0 51.9h0M61.1 90.7h0M55.4 30.8h0M33.2 49.6h0M28.4 78.1h0M63.0 99.8h0M73.1 59.7h0M57.8 37.3h0M82.1 19.0h0M46.7 72.1h0M59.9 42.5h0M62.3 20.6h0M31.8 24.7h0M41.1 82.1h0M28.9 65.6h0M54.7 100.2h0M89.4 21.6h0M50.2 42.2h0M88.9 99.4h0M60.5 24.4h0M78.4 31.4h0M100.2 71.7h0M60.1 86.0h0M45.8 64.1h0M89.4 25.2h0M83.0 108.8h0M100.0 35.5h0M58.3 88.1h0M30.5 81.4h0M75.2 27.8h0M81.5 18.8h0M88.5 57.4h0M29.7 71.3h0M100.8 58.2h0M52.7 68.4h0M66.9 12.7h0M60.2 80.0h0M32.4 41.8h0M81.2 39.2h0M72.1 64.8h0M44.2 95.5h0M45.6 74.7h0M57.0 36.2h0M58.4 16.8h0M84.7 21.1h0M93.0 32.0h0M44.0 31.1h0M54.8 54.6h0M41.2 89.5h0M71.6 59.4h0M28.2 44.5h0M75.8 32.2h0M54.6 44.4h0M53.0 111.1h0M83.0 90.2h0M49.3 23.6h0M52.3 89.2h0M75.2 83.8h0M78.0 37.0h0M88.5 81.3h0M83.6 38.5h0M31.4 99.3h0M37.7 41.0h0M15.0 72.8h0M14.9 72.5h0M37.3 51.1h0M37.3 51.1h0M94.0 46.4h0M28.5 49.8h0M8.4 63.0h0M77.1 37.2h0M78.9 36.0h0M53.1 100.1h0M99.3 65.7h0M10.8 78.8h0" stroke="#9890d8" stroke-opacity="0.50" stroke-width="3.9"/><path d="M58.2 33.0h0M85.1 32.1h0M66.9 16.1h0M56.0 21.2h0M98.7 80.8h0M52.0 112.6h0M37.0 51.3h0M80.1 73.1h0M83.0 90.2h0M77.7 30.6h0M48.0 27.6h0M19.2 80.4h0M49.3 25.4h0M55.2 92.1h0M39.8 17.5h0M94.1 65.2h0M47.4 28.0h0M74.5 95.9h0M54.2 106.3h0M82.4 20.9h0M67.7 73.7h0M89.5 35.4h0M61.3 59.2h0M38.1 108.3h0M83.7 40.3h0M87.0 55.5h0M78.7 25.5h0M88.8 28.9h0M17.2 54.5h0M59.1 56.3h0M45.7 67.9h0M43.6 64.4h0M79.4 22.6h0M81.1 80.4h0M11.2 49.8h0M55.3 90.7h0M107.2 73.6h0M77.2 35.4h0M88.1 92.4h0M54.4 101.4h0M105.2 43.5h0M78.5 104.1h0M42.0 49.0h0M29.3 61.1h0M24.4 88.3h0M83.4 77.0h0M47.4 24.6h0M92.7 59.9h0M18.5 84.3h0M65.1 21.0h0M30.4 26.7h0M57.6 89.7h0M49.7 99.1h0M84.0 34.7h0M51.2 21.3h0M52.9 41.0h0M50.8 84.6h0M29.8 93.3h0M79.0 65.5h0M57.3 72.3h0M105.6 62.5h0M91.8 69.4h0M35.4 85.3h0M71.0 65.6h0M70.2 111.0h0M47.2 43.2h0M95.1 45.4h0M63.6 83.0h0M82.2 105.8h0M77.0 40.2h0M14.5 75.0h0M51.2 101.2h0M49.0 76.6h0M40.9 98.8h0M52.0 87.3h0M29.3 86.5h0M21.7 46.9h0M45.9 23.8h0M60.9 28.6h0M18.2 74.5h0M32.6 94.0h0M68.5 14.0h0M26.9 25.1h0M82.1 43.8h0M76.5 98.9h0M49.8 27.9h0M109.3 62.7h0M87.8 34.6h0M36.9 50.4h0M102.4 92.2h0M92.3 70.0h0M44.7 75.8h0M54.9 57.9h0M56.7 28.1h0M94.5 98.6h0M101.9 58.2h0M95.6 46.6h0M78.1 101.5h0M66.6 80.1h0M79.0 78.8h0M55.1 82.1h0M35.4 90.3h0M49.5 103.2h0M32.8 79.1h0M30.7 51.2h0M49.4 92.5h0M76.0 67.6h0M64.5 104.8h0M75.0 13.5h0M34.7 56.8h0M51.3 100.9h0M31.9 50.1h0M44.4 68.2h0M80.9 53.1h0M105.3 57.1h0M52.5 101.5h0M21.6 63.3h0M39.8 70.6h0M70.2 84.1h0M83.2 88.7h0M64.8 57.6h0M50.8 27.9h0" stroke="#9890d8" stroke-opacity="0.50" stroke-width="4.4"/><path d="M29.8 45.9h0M85.9 31.2h0M77.6 33.4h0M81.1 89.2h0M53.5 90.9h0M75.0 81.7h0M57.8 25.8h0M85.1 62.4h0M78.3 34.9h0M60.4 86.2h0M96.0 26.2h0M31.8 97.2h0M19.4 56.7h0M35.7 41.8h0M12.9 72.9h0M55.6 84.4h0M38.6 52.8h0M79.6 59.0h0M94.7 44.5h0M44.2 66.4h0M73.3 69.2h0M42.9 62.0h0M65.3 33.2h0M8.2 65.1h0M66.2 111.4h0M48.5 21.6h0M62.9 84.2h0M35.9 42.9h0M43.4 50.6h0M27.9 62.7h0M96.3 91.5h0M63.3 34.1h0M90.3 49.6h0M62.8 85.0h0M77.2 25.1h0" stroke="#9890d8" stroke-opacity="0.50" stroke-width="4.9"/><path d="M59.8 33.8h0M100.0 82.1h0M51.1 25.5h0M66.8 75.2h0M66.7 75.2h0M89.5 33.6h0M87.8 34.7h0M29.9 49.4h0M80.3 104.2h0M41.7 51.8h0M45.9 25.7h0M49.1 24.3h0M93.2 61.6h0M91.1 59.0h0" stroke="#4036a8" stroke-width="2.0"/><path d="M28.2 44.5h0M75.8 32.2h0M54.6 44.4h0M53.0 111.1h0M83.0 90.2h0M49.3 23.6h0M52.3 89.2h0M75.2 83.8h0M78.0 37.0h0M88.5 81.3h0M83.6 38.5h0M31.4 99.3h0M37.7 41.0h0M15.0 72.8h0M14.9 72.5h0M37.3 51.1h0M37.3 51.1h0M94.0 46.4h0M28.5 49.8h0M8.4 63.0h0M77.1 37.2h0M78.9 36.0h0M53.1 100.1h0M99.3 65.7h0" stroke="#4036a8" stroke-width="2.5"/><path d="M58.2 33.0h0M85.1 32.1h0M66.9 16.1h0M56.0 21.2h0M98.7 80.8h0M52.0 112.6h0M37.0 51.3h0M80.1 73.1h0M83.0 90.2h0M77.7 30.6h0M48.0 27.6h0M19.2 80.4h0M49.3 25.4h0M55.2 92.1h0M39.8 17.5h0M94.1 65.2h0M47.4 28.0h0M74.5 95.9h0M54.2 106.3h0M82.4 20.9h0M67.7 73.7h0M89.5 35.4h0M61.3 59.2h0M38.1 108.3h0M83.7 40.3h0M87.0 55.5h0M78.7 25.5h0M88.8 28.9h0M17.2 54.5h0M59.1 56.3h0M45.7 67.9h0M43.6 64.4h0M79.4 22.6h0M81.1 80.4h0M11.2 49.8h0M55.3 90.7h0M107.2 73.6h0M77.2 35.4h0M88.1 92.4h0M54.4 101.4h0M105.2 43.5h0M78.5 104.1h0M42.0 49.0h0M29.3 61.1h0M24.4 88.3h0M83.4 77.0h0M47.4 24.6h0M92.7 59.9h0M18.5 84.3h0M65.1 21.0h0M30.4 26.7h0" stroke="#4036a8" stroke-width="3.0"/><path d="M29.8 45.9h0M85.9 31.2h0M77.6 33.4h0M81.1 89.2h0M53.5 90.9h0M75.0 81.7h0M57.8 25.8h0M85.1 62.4h0M78.3 34.9h0M60.4 86.2h0M96.0 26.2h0M31.8 97.2h0M19.4 56.7h0M35.7 41.8h0M12.9 72.9h0M55.6 84.4h0M38.6 52.8h0M79.6 59.0h0M94.7 44.5h0M44.2 66.4h0M73.3 69.2h0M42.9 62.0h0M65.3 33.2h0M8.2 65.1h0M66.2 111.4h0M48.5 21.6h0M62.9 84.2h0M35.9 42.9h0M43.4 50.6h0M27.9 62.7h0M96.3 91.5h0M63.3 34.1h0M90.3 49.6h0" stroke="#4036a8" stroke-width="3.5"/><path d="M47.0 24.1h0M45.8 26.9h0M109.0 67.7h0M89.7 77.4h0M90.0 77.7h0M86.7 15.7h0M19.2 88.1h0M68.5 92.4h0M69.4 93.1h0M71.8 34.7h0M69.7 36.5h0M22.2 47.6h0M24.1 46.7h0M49.9 20.1h0M49.9 20.0h0M86.6 18.7h0M87.0 21.4h0M68.6 27.3h0M28.0 93.0h0M34.6 105.6h0M74.1 95.0h0M70.9 15.4h0M71.1 16.6h0M51.9 20.4h0M81.9 80.0h0M106.1 50.1h0M33.1 95.2h0M31.9 94.8h0M32.8 94.0h0M33.9 86.3h0M36.8 86.3h0M63.7 68.6h0M64.0 71.5h0M48.8 42.4h0M35.6 48.5h0M35.0 49.6h0M64.0 10.8h0M58.5 106.3h0M93.3 45.5h0M30.9 33.4h0M29.7 33.8h0M50.1 30.0h0M27.0 81.8h0M26.2 83.0h0M40.3 101.8h0M24.3 49.4h0M23.3 48.5h0M15.8 73.7h0M79.4 60.7h0M79.0 61.8h0M52.2 67.3h0M48.5 78.3h0M41.9 97.3h0M50.6 88.4h0M30.3 85.0h0M92.0 78.0h0M92.7 78.3h0M65.2 31.8h0M13.8 74.2h0M13.5 75.3h0M9.3 71.5h0M85.9 82.6h0M80.1 20.2h0M72.3 11.4h0M73.4 11.9h0M73.1 12.3h0M67.7 83.0h0M46.6 68.8h0M108.0 64.0h0M37.2 95.6h0M30.0 39.6h0M28.8 39.6h0M74.7 14.7h0M75.0 15.9h0M74.9 15.9h0M91.0 50.7h0M77.0 46.5h0M77.8 47.3h0M112.8 69.8h0M94.3 35.0h0M100.2 58.2h0M18.3 41.4h0M17.6 44.0h0M103.4 57.2h0M47.3 32.6h0M78.2 80.4h0M32.4 61.1h0M48.7 43.2h0M73.8 17.8h0M74.9 18.2h0M104.1 51.4h0M103.5 48.8h0M13.2 63.2h0M33.0 77.3h0M83.3 52.2h0M29.8 49.6h0M68.1 84.7h0M68.6 83.6h0M86.6 81.7h0M21.1 40.6h0M34.4 50.7h0M63.2 103.6h0M77.6 84.3h0M94.8 54.3h0M30.1 49.7h0M31.0 48.5h0M46.8 94.4h0M107.1 57.1h0M91.0 61.0h0M91.4 59.8h0M54.1 100.8h0M51.9 99.8h0M74.1 48.3h0M71.8 48.3h0M23.3 62.6h0M64.4 98.0h0M91.5 34.0h0M90.3 33.7h0M40.2 68.9h0M41.4 69.8h0M68.5 84.3h0M71.4 85.5h0M37.3 42.1h0M112.5 70.1h0M113.3 71.0h0M37.1 83.1h0M38.0 83.9h0M37.9 82.3h0" stroke="#4b41b0" stroke-width="2.0"/><path d="M46.6 25.5h0M110.4 68.3h0M51.5 31.7h0M90.8 76.5h0M55.8 89.8h0M85.6 16.7h0M27.6 33.6h0M20.4 87.3h0M71.1 36.0h0M48.2 100.1h0M100.3 90.5h0M34.8 77.1h0M82.7 33.5h0M22.6 46.2h0M87.4 20.0h0M69.3 28.6h0M36.0 60.3h0M51.3 41.8h0M73.3 62.9h0M29.6 91.5h0M33.2 105.0h0M75.6 94.9h0M19.5 30.7h0M106.2 64.2h0M104.4 61.2h0M30.8 86.2h0M81.4 78.5h0M47.5 31.3h0M43.5 31.3h0M107.3 49.1h0M11.2 75.6h0M73.6 87.3h0M18.1 85.3h0M63.6 70.1h0M87.9 77.7h0M81.7 70.2h0M72.1 20.4h0M49.0 42.8h0M72.8 85.3h0M101.2 67.2h0M57.6 107.4h0M70.7 13.5h0M94.3 43.8h0M48.9 29.1h0M64.8 84.2h0M81.5 33.8h0M93.2 48.4h0M25.5 81.6h0M41.2 100.6h0M22.9 49.9h0M50.9 66.6h0M26.7 70.6h0M53.4 88.4h0M27.7 87.4h0M77.9 21.5h0M91.9 79.5h0M83.0 54.3h0M66.7 32.0h0M51.8 32.1h0M57.7 110.8h0M64.0 36.3h0M62.1 83.9h0M10.4 72.5h0M59.8 27.1h0M85.8 81.1h0M33.0 92.3h0M34.3 93.9h0M80.0 21.7h0M8.1 63.0h0M22.6 58.6h0M66.9 81.7h0M46.3 67.4h0M79.0 26.2h0M75.2 25.4h0M61.5 31.4h0M100.8 59.7h0M34.6 77.0h0M73.1 34.7h0M35.8 96.2h0M89.0 98.8h0M10.9 79.2h0M82.4 100.9h0M103.2 89.1h0M92.5 50.6h0M22.7 39.5h0M73.9 90.5h0M19.8 50.3h0M94.4 33.5h0M49.0 109.4h0M56.7 77.7h0M72.1 51.5h0M32.2 60.3h0M18.6 42.9h0M92.5 23.9h0M84.6 56.5h0M48.7 32.0h0M47.3 42.8h0M104.4 50.0h0M107.3 40.6h0M32.3 80.8h0M74.5 72.9h0M59.8 100.7h0M84.3 51.1h0M69.6 84.8h0M21.8 42.0h0M48.1 15.3h0M33.2 51.7h0M74.3 66.9h0M64.6 106.6h0M50.8 73.9h0M36.9 45.5h0M106.7 76.9h0M104.5 55.5h0M15.3 75.7h0M72.9 49.3h0M23.4 63.3h0M65.9 97.9h0M41.5 13.4h0M83.3 86.9h0M57.2 41.4h0M37.2 40.6h0M11.6 80.4h0M47.1 66.5h0M58.9 65.1h0" stroke="#4b41b0" stroke-width="2.5"/><path d="M57.6 89.7h0M49.7 99.1h0M84.0 34.7h0M51.2 21.3h0M52.9 41.0h0M50.8 84.6h0M29.8 93.3h0M79.0 65.5h0M57.3 72.3h0M105.6 62.5h0M91.8 69.4h0M35.4 85.3h0M71.0 65.6h0M70.2 111.0h0M47.2 43.2h0M95.1 45.4h0M63.6 83.0h0M82.2 105.8h0M77.0 40.2h0M14.5 75.0h0M51.2 101.2h0M49.0 76.6h0M40.9 98.8h0M52.0 87.3h0M29.3 86.5h0M21.7 46.9h0M45.9 23.8h0M60.9 28.6h0M18.2 74.5h0M32.6 94.0h0M68.5 14.0h0M26.9 25.1h0M82.1 43.8h0M76.5 98.9h0M49.8 27.9h0M109.3 62.7h0M87.8 34.6h0M36.9 50.4h0M102.4 92.2h0M92.3 70.0h0M44.7 75.8h0M54.9 57.9h0M56.7 28.1h0M94.5 98.6h0M101.9 58.2h0M95.6 46.6h0M78.1 101.5h0M66.6 80.1h0M79.0 78.8h0M55.1 82.1h0M35.4 90.3h0M49.5 103.2h0M32.8 79.1h0M30.7 51.2h0M49.4 92.5h0M76.0 67.6h0M64.5 104.8h0M75.0 13.5h0M34.7 56.8h0M51.3 100.9h0M31.9 50.1h0M44.4 68.2h0M80.9 53.1h0M105.3 57.1h0M52.5 101.5h0M21.6 63.3h0M39.8 70.6h0M70.2 84.1h0M83.2 88.7h0" stroke="#4b41b0" stroke-width="3.0"/><path d="M62.8 85.0h0M77.2 25.1h0" stroke="#4b41b0" stroke-width="3.5"/><path d="M13.7 80.7h0M12.7 80.0h0M50.4 85.4h0M54.5 95.9h0M55.3 98.4h0M68.5 29.0h0M62.6 85.5h0M67.8 14.6h0M67.6 15.8h0M63.6 49.2h0M63.8 48.0h0M45.5 94.5h0M21.2 47.0h0M20.0 49.7h0M74.7 12.3h0M110.3 50.7h0M13.7 48.5h0M19.2 74.4h0M18.1 73.9h0M25.5 65.7h0M92.9 92.3h0M93.8 91.5h0M93.9 91.6h0M39.0 51.3h0M73.8 78.6h0M93.2 55.5h0M111.4 65.1h0M16.7 46.9h0M94.5 78.2h0M95.7 78.6h0M94.0 79.3h0M45.3 91.0h0M21.5 56.9h0M21.4 55.7h0M21.5 55.7h0M61.6 92.1h0M61.9 89.5h0M67.0 48.3h0M66.7 47.1h0M66.8 47.1h0M64.8 32.3h0M23.4 45.1h0M91.5 36.1h0M90.5 35.5h0M91.8 34.9h0M27.3 31.8h0M112.4 51.4h0M56.8 30.3h0M97.2 48.8h0M55.5 22.6h0M104.8 61.1h0M69.5 36.6h0M75.7 98.6h0M75.3 99.7h0M75.1 99.6h0M63.2 10.4h0M64.1 9.6h0M64.3 9.9h0M43.6 48.7h0M50.8 105.4h0M51.6 106.2h0M50.3 104.3h0M39.1 101.8h0M96.7 59.6h0M96.2 60.7h0M62.0 98.7h0M52.2 104.3h0M74.2 75.3h0M74.5 74.1h0M74.7 76.4h0M74.0 58.5h0M43.7 61.1h0M37.9 104.7h0M73.7 62.4h0M74.6 63.3h0M78.3 98.2h0M72.4 100.5h0M49.3 71.2h0M28.3 85.9h0M29.0 86.8h0M29.2 86.6h0M37.7 38.0h0M36.5 38.4h0M38.7 38.6h0M57.3 59.3h0M72.5 40.9h0M16.7 54.9h0M96.7 28.4h0M46.9 73.6h0M61.4 42.9h0M48.5 18.5h0M87.1 84.0h0M84.7 84.7h0M88.6 68.0h0M39.8 82.9h0M41.8 80.7h0M30.3 65.8h0M98.0 46.3h0M61.0 95.9h0M58.2 26.1h0M57.8 25.0h0M57.4 27.0h0M73.9 85.9h0M74.4 87.0h0M72.8 85.4h0M33.1 29.0h0M63.7 36.0h0M63.6 37.2h0M28.9 79.6h0M99.8 43.8h0M65.4 20.8h0M65.3 22.0h0M66.4 21.4h0M43.0 22.3h0M52.5 16.5h0M17.9 86.2h0M19.1 86.2h0M94.0 70.2h0M75.7 23.7h0M109.0 71.1h0M8.4 58.2h0M8.0 57.1h0M8.2 57.0h0M93.9 54.7h0M94.5 55.8h0M43.5 71.6h0M106.5 51.8h0M107.3 52.7h0M96.2 77.5h0M97.1 78.2h0M54.9 101.7h0M53.4 99.6h0M64.0 60.2h0M63.0 60.8h0M18.1 92.3h0M16.9 92.3h0M91.9 66.9h0M84.7 55.1h0M34.1 103.4h0M33.4 104.4h0M33.6 104.5h0M100.4 40.0h0M101.2 39.1h0M100.4 41.2h0M51.3 41.1h0M51.7 41.9h0M87.5 98.9h0M39.1 107.5h0M30.6 41.5h0M8.1 59.4h0M72.3 73.8h0M72.0 74.9h0M93.7 95.0h0M77.7 66.3h0M76.7 66.9h0M76.7 67.0h0M56.2 32.3h0M43.4 13.2h0M42.4 13.9h0M26.3 71.1h0M80.9 30.8h0M12.8 45.5h0M11.9 44.8h0M11.7 45.9h0M21.7 32.6h0M22.2 31.5h0M22.6 35.5h0M74.4 14.0h0M70.0 98.8h0M85.3 24.4h0M57.5 29.5h0M58.3 91.7h0M57.1 91.9h0M35.0 35.4h0M35.9 36.2h0M33.8 35.4h0M81.4 97.8h0M86.9 29.3h0M86.0 28.5h0M88.0 29.5h0M98.0 89.4h0M27.1 28.2h0M86.4 32.7h0M44.9 110.1h0M63.0 58.2h0M90.3 24.0h0M38.9 79.8h0M39.0 81.0h0M86.1 53.9h0M61.2 57.3h0M30.4 69.1h0M31.2 70.0h0M29.5 69.9h0M50.4 29.4h0M49.3 29.8h0M51.6 29.0h0M38.2 56.0h0M85.4 78.3h0M27.6 85.3h0M93.6 85.1h0M92.7 85.9h0M82.6 32.3h0M63.8 25.6h0M53.5 73.4h0M110.9 61.5h0M109.7 61.6h0M30.5 82.9h0M30.4 79.9h0M61.4 106.7h0M61.2 107.9h0M31.9 62.0h0M76.6 44.0h0M56.2 59.7h0M59.7 71.2h0M59.8 72.4h0M67.4 108.7h0M68.6 109.0h0M68.6 108.5h0M81.4 62.1h0M72.2 29.8h0M73.4 30.2h0M73.0 30.8h0M55.9 105.3h0M57.0 37.1h0M55.8 37.4h0M10.1 77.1h0M10.9 77.9h0M9.1 77.7h0M34.2 78.2h0M35.4 78.0h0M38.0 86.4h0M36.9 86.0h0M39.1 85.9h0M101.0 59.7h0M76.2 13.2h0M76.4 12.0h0M74.1 35.1h0M72.9 34.7h0M74.8 36.0h0M51.2 89.7h0M50.6 88.7h0M52.3 89.2h0M67.4 77.1h0M66.9 60.5h0M61.8 68.8h0M60.9 69.6h0M67.6 11.4h0M66.9 11.2h0M31.7 84.4h0M31.5 83.2h0M32.1 85.5h0M42.0 52.3h0M43.0 51.7h0M40.8 52.4h0M28.6 81.9h0M27.4 82.0h0M78.9 14.6h0M49.7 19.1h0M50.2 20.2h0M80.1 40.3h0M80.8 37.8h0M52.6 104.5h0M53.8 104.2h0M53.8 104.8h0M85.2 16.4h0M73.0 65.9h0M58.0 28.5h0M59.2 28.1h0M45.7 95.1h0M44.9 94.2h0M75.7 71.6h0M76.8 71.3h0M70.7 13.5h0M105.3 60.1h0M83.8 22.3h0M83.3 21.7h0M44.0 55.8h0M42.8 55.9h0M29.9 35.7h0M102.3 92.9h0M101.1 92.9h0M94.7 54.0h0M94.4 52.8h0M68.0 88.3h0M15.7 87.1h0M62.2 74.7h0M55.8 53.5h0M46.4 63.0h0M46.4 64.2h0M45.9 64.1h0M15.9 84.7h0M15.3 83.7h0M16.8 83.9h0M77.5 16.7h0M78.9 102.0h0M79.0 103.2h0M42.3 88.5h0M70.1 59.0h0M71.1 60.8h0M10.4 56.3h0M51.7 49.0h0M33.4 36.4h0M33.5 35.2h0M32.3 36.9h0" stroke="#574db8" stroke-width="2.0"/><path d="M66.0 19.3h0M105.6 42.8h0M99.9 33.0h0M54.2 97.4h0M59.9 113.6h0M20.5 48.3h0M37.1 42.5h0M73.6 21.9h0M14.7 47.4h0M49.6 50.2h0M92.0 51.9h0M61.1 90.7h0M55.4 30.8h0M33.2 49.6h0M28.4 78.1h0M63.0 99.8h0M73.1 59.7h0M57.8 37.3h0M82.1 19.0h0M46.7 72.1h0M59.9 42.5h0M62.3 20.6h0M31.8 24.7h0M41.1 82.1h0M28.9 65.6h0M54.7 100.2h0M89.4 21.6h0M50.2 42.2h0M88.9 99.4h0M60.5 24.4h0M78.4 31.4h0M100.2 71.7h0M60.1 86.0h0M45.8 64.1h0M89.4 25.2h0M83.0 108.8h0M100.0 35.5h0M58.3 88.1h0M30.5 81.4h0M75.2 27.8h0M81.5 18.8h0M88.5 57.4h0M29.7 71.3h0M100.8 58.2h0M52.7 68.4h0M66.9 12.7h0M60.2 80.0h0M32.4 41.8h0M81.2 39.2h0M72.1 64.8h0M44.2 95.5h0M45.6 74.7h0M57.0 36.2h0M58.4 16.8h0M84.7 21.1h0M93.0 32.0h0M44.0 31.1h0M54.8 54.6h0M41.2 89.5h0M71.6 59.4h0" stroke="#574db8" stroke-width="2.5"/><path d="M64.8 57.6h0M50.8 27.9h0" stroke="#574db8" stroke-width="3.0"/><path d="M82.6 70.8h0M32.0 50.2h0M29.7 23.3h0M30.4 24.3h0M23.2 98.9h0M24.2 98.2h0M70.5 110.8h0M70.6 109.6h0M35.8 50.5h0M39.4 84.4h0M58.9 85.0h0M11.3 80.3h0M90.8 62.8h0M44.4 82.4h0M77.3 98.5h0M76.3 97.8h0M78.4 98.9h0M57.7 102.6h0M51.4 37.4h0M108.3 69.7h0M72.7 73.6h0M73.0 74.7h0M26.6 102.7h0M81.1 61.2h0M9.9 72.5h0M89.6 39.6h0M47.8 18.3h0M46.7 18.7h0M48.0 17.2h0M106.0 40.6h0M46.1 87.0h0M54.0 16.6h0M74.9 37.5h0M74.1 36.6h0M18.7 79.0h0M19.6 79.8h0M18.0 80.0h0M45.0 75.0h0M44.3 76.0h0M47.8 68.5h0M48.8 67.8h0M47.3 67.4h0M23.0 26.8h0M23.8 27.7h0M23.1 28.0h0M70.4 76.0h0M61.0 72.2h0M60.9 71.0h0M62.2 71.8h0M31.5 66.1h0M38.1 51.1h0M18.2 39.6h0M17.4 40.5h0M53.0 103.1h0M70.3 78.4h0M69.5 77.4h0M108.9 47.6h0M65.0 33.7h0M20.7 82.2h0M51.8 21.2h0M100.2 50.5h0M100.6 51.6h0M19.2 65.8h0M43.3 19.5h0M44.5 19.7h0M89.7 29.3h0M89.1 30.3h0M58.0 24.1h0M100.6 30.5h0M99.5 30.2h0M99.5 30.1h0M90.1 37.9h0M46.7 29.8h0M61.9 52.9h0M47.2 40.8h0M46.1 41.3h0M70.5 100.5h0M71.7 100.8h0M85.5 40.5h0M82.3 48.8h0M83.5 49.0h0M23.0 76.7h0M24.2 77.0h0M24.1 77.2h0M46.5 71.2h0M47.4 72.0h0M80.2 45.3h0" stroke="#6258c0" stroke-width="2.0"/><path d="M10.8 78.8h0" stroke="#6258c0" stroke-width="2.5"/></g></svg><svg class="pn" style="left:600.50px;top:49.00px;width:113.50px;height:117.00px" viewBox="0 0 113.50 117.00"><rect width="113.5" height="117.0" fill="#d9d9d7"/><circle cx="56.8" cy="60.5" r="56.8" fill="#dededc" fill-opacity="1.00" stroke="#e4e4e3" stroke-width="1.2" stroke-opacity="0.80"/><path d="M112.1 50.7A56.2 56.2 0 1 1 1.4 50.7L7.0 51.7A50.5 50.5 0 1 0 106.5 51.7Z" fill="#a098d8" fill-opacity="0.55"/><path d="M103.7 83.8A52.4 52.4 0 0 1 4.6 55.7" fill="none" stroke="#a098d8" stroke-width=".7" stroke-opacity=".5"/><path d="M108.0 81.5A55.4 55.4 0 0 1 15.9 98.0" fill="none" stroke="#a098d8" stroke-width=".7" stroke-opacity=".5"/><path d="M75.9 109.9A53.0 53.0 0 0 1 4.6 51.3" fill="none" stroke="#a098d8" stroke-width=".7" stroke-opacity=".5"/><path d="M111.9 55.4A55.4 55.4 0 0 1 44.5 114.5" fill="none" stroke="#a098d8" stroke-width=".7" stroke-opacity=".5"/><path d="M80.2 106.3A51.5 51.5 0 0 1 6.1 51.6" fill="none" stroke="#a098d8" stroke-width=".7" stroke-opacity=".5"/><path d="M104.1 89.3A55.4 55.4 0 0 1 1.7 54.0" fill="none" stroke="#a098d8" stroke-width=".7" stroke-opacity=".5"/><path d="M99.1 94.2A54.1 54.1 0 0 1 3.4 69.4" fill="none" stroke="#a098d8" stroke-width=".7" stroke-opacity=".5"/><path d="M68.9 111.2A52.1 52.1 0 0 1 5.5 51.5" fill="none" stroke="#a098d8" stroke-width=".7" stroke-opacity=".5"/><path d="M87.0 103.9A52.9 52.9 0 0 1 23.5 101.6" fill="none" stroke="#a098d8" stroke-width=".7" stroke-opacity=".5"/><path d="M83.6 104.9A51.9 51.9 0 0 1 5.6 51.9" fill="none" stroke="#a098d8" stroke-width=".7" stroke-opacity=".5"/><path d="M101.1 87.8A52.1 52.1 0 0 1 6.5 74.3" fill="none" stroke="#a098d8" stroke-width=".7" stroke-opacity=".5"/><path d="M98.9 89.5A51.1 51.1 0 0 1 47.6 110.8" fill="none" stroke="#a098d8" stroke-width=".7" stroke-opacity=".5"/><circle cx="55.8" cy="55.5" r="50.5" fill="#dfdfdd" fill-opacity="1.00" stroke="#9b9ba9" stroke-width="0.9" stroke-opacity="0.30"/><g filter="url(#bl)"><path d="M88.0 50.2h0M54.4 15.4h0M54.5 15.3h0M81.0 47.3h0" stroke="#3a30b0" stroke-width="1.5"/><path d="M85.9 52.1h0M67.9 71.2h0M61.9 13.3h0M44.6 94.0h0M45.2 64.8h0M34.8 35.2h0M103.1 49.9h0M83.8 56.2h0M71.9 95.7h0M54.1 14.2h0M100.6 58.5h0M80.0 45.5h0M84.5 63.3h0M14.1 49.2h0M18.0 40.8h0M72.1 75.1h0M71.4 80.1h0M71.1 92.5h0M70.9 93.1h0" stroke="#3a30b0" stroke-width="2.0"/><path d="M55.6 102.4h0M87.2 51.5h0M80.3 66.8h0M46.3 85.9h0M56.0 30.0h0M52.6 52.9h0M103.6 48.4h0M46.3 34.1h0M70.5 95.1h0M81.0 96.6h0M42.4 99.4h0M81.4 45.9h0M15.7 73.9h0M85.2 51.7h0M74.1 26.7h0M40.5 61.7h0M74.4 77.4h0M20.6 46.8h0M89.6 83.8h0M51.1 65.3h0M69.6 92.5h0" stroke="#3a30b0" stroke-width="2.5"/><path d="M35.7 57.1h0M24.8 49.4h0M40.5 55.4h0M39.2 55.4h0M84.2 31.8h0M81.0 78.0h0M70.8 33.8h0" stroke="#473db8" stroke-width="1.0"/><path d="M51.7 55.7h0M74.0 18.7h0M95.4 29.4h0M71.3 80.0h0M20.4 60.5h0M33.7 57.3h0M45.2 49.3h0M45.8 49.4h0M63.6 32.6h0M80.0 97.5h0M15.5 69.2h0M24.9 50.3h0M27.1 83.3h0M43.6 33.7h0M39.8 56.0h0M25.9 63.2h0M72.0 24.4h0M101.1 71.3h0M50.0 23.3h0M20.1 28.0h0M51.4 94.1h0M64.1 87.5h0M41.2 82.7h0M61.2 82.3h0M36.6 65.1h0M56.0 21.7h0M17.2 77.5h0M85.7 30.5h0M46.8 60.9h0M81.0 78.2h0M34.3 24.2h0M20.6 52.8h0M96.0 72.1h0M52.3 8.1h0M70.8 32.9h0" stroke="#473db8" stroke-width="1.5"/><path d="M50.8 56.5h0M52.0 56.2h0M41.2 82.4h0M56.0 11.1h0M69.4 64.9h0M50.0 80.5h0M46.8 57.2h0M41.9 9.9h0M85.9 93.2h0M71.7 31.7h0M51.9 60.8h0M34.7 57.8h0M9.7 57.3h0M90.4 71.1h0M59.0 62.7h0M103.5 49.7h0M45.4 50.5h0M62.1 99.0h0M58.9 35.7h0M29.1 72.5h0M23.2 73.9h0M84.3 16.9h0M87.3 51.9h0M37.1 54.9h0M53.9 87.8h0M29.0 60.8h0M78.7 97.9h0M55.9 21.8h0M35.9 58.2h0M26.9 84.5h0M59.3 55.2h0M46.6 54.7h0M38.6 70.6h0M35.1 78.6h0M35.1 93.7h0M58.0 44.7h0M86.5 91.2h0M33.8 45.3h0M33.0 44.4h0M66.6 25.1h0M42.4 82.7h0M47.3 61.4h0M77.1 18.1h0M31.4 42.2h0M58.2 68.1h0M45.3 25.2h0M18.4 77.3h0M17.4 77.9h0M85.4 31.6h0M86.4 45.9h0M82.2 78.0h0M52.7 28.1h0M60.2 76.6h0M56.8 95.9h0M69.3 20.5h0M66.4 66.0h0M26.7 76.4h0M77.1 71.1h0M78.4 28.4h0" stroke="#473db8" stroke-width="2.0"/><path d="M38.2 91.8h0M55.6 94.5h0M61.1 28.3h0M102.6 62.2h0M36.5 29.3h0M98.6 64.4h0" stroke="#473db8" stroke-width="2.5"/><path d="M77.6 28.4h0M71.0 31.4h0M35.1 71.9h0M84.8 87.2h0M85.1 86.6h0M85.4 87.1h0M56.2 35.8h0M56.7 35.4h0M79.9 69.3h0M39.6 13.6h0M14.9 79.0h0M16.0 80.2h0M17.8 42.4h0M67.4 43.4h0M67.2 44.8h0M100.6 54.9h0M68.7 88.8h0M81.0 25.3h0M54.9 9.7h0M72.3 65.4h0M45.6 24.8h0" stroke="#534bc0" stroke-width="1.0"/><path d="M27.3 93.6h0M89.4 75.5h0M79.9 40.3h0M91.2 64.3h0M53.5 78.7h0M100.5 73.9h0M53.8 86.0h0M83.6 72.6h0M96.8 73.0h0M64.5 72.8h0M54.1 40.3h0M90.6 32.6h0M36.0 71.6h0M35.7 70.7h0M56.5 11.7h0M39.4 52.3h0M46.6 33.2h0M73.2 25.5h0M71.9 45.8h0M62.9 64.0h0M58.4 102.2h0M32.9 75.0h0M73.3 86.7h0M79.5 78.5h0M21.6 50.1h0M77.5 64.3h0M77.4 30.6h0M39.0 12.9h0M60.6 82.4h0M15.2 79.8h0M69.8 77.0h0M25.8 88.0h0M78.1 98.1h0M49.6 103.2h0M23.3 23.9h0M96.2 44.0h0M66.9 88.8h0M71.7 28.2h0M43.4 84.9h0M87.3 79.4h0M45.2 35.7h0M56.6 11.6h0M52.5 103.4h0M63.5 17.7h0M66.5 60.0h0M17.4 43.2h0M84.7 76.4h0M66.7 44.0h0M80.3 91.0h0M71.3 15.2h0M19.6 24.7h0M40.3 52.1h0M82.2 29.8h0M35.7 61.2h0M82.5 46.6h0M39.9 58.7h0M24.5 81.9h0M99.8 54.4h0M68.9 21.1h0M65.2 98.8h0M59.7 59.5h0M16.1 73.5h0M10.1 57.7h0M64.9 36.0h0M65.7 66.2h0M80.7 24.4h0M82.4 72.4h0M63.6 90.0h0M80.2 49.3h0M42.2 65.4h0M19.3 66.9h0M22.4 47.0h0M48.6 59.2h0M32.0 58.2h0M50.1 51.1h0M76.4 63.1h0M47.3 26.5h0M26.4 83.1h0M99.8 58.6h0M33.2 66.9h0M16.1 81.5h0" stroke="#534bc0" stroke-width="1.5"/><path d="M32.1 56.1h0M82.5 59.8h0M47.7 31.3h0M49.7 29.7h0M75.1 16.9h0M49.9 19.6h0" stroke="#534bc0" stroke-width="2.0"/><path d="M69.0 24.8h0" stroke="#534bc0" stroke-width="2.5"/><path d="M49.4 95.5h0M69.2 57.5h0M56.8 22.7h0M57.1 22.2h0M57.1 22.2h0M18.4 50.2h0M46.5 35.3h0M48.4 46.6h0M83.6 69.1h0M24.0 20.4h0M16.8 57.2h0M36.6 96.5h0M46.2 38.2h0M78.0 65.6h0M31.3 79.1h0M74.9 22.0h0M61.3 21.5h0M64.8 94.0h0M53.4 67.6h0M90.7 28.0h0M13.4 51.8h0M63.1 14.3h0M62.8 14.8h0M62.6 14.0h0M9.6 63.6h0M81.8 31.4h0M8.3 64.2h0M70.5 46.0h0M12.4 37.7h0M52.4 67.3h0M52.9 67.6h0M82.9 37.7h0M92.6 62.9h0M92.1 62.5h0M92.0 62.6h0M50.5 52.1h0M85.7 45.2h0M85.7 44.6h0M35.4 30.1h0M35.6 30.7h0M88.8 35.6h0M80.3 76.5h0M79.9 77.0h0M84.7 50.2h0M80.8 28.9h0M69.5 101.2h0" stroke="#6058c8" stroke-width="1.0"/><path d="M94.0 60.8h0M84.3 82.9h0M17.0 58.0h0M37.1 95.7h0M69.3 100.6h0M24.7 37.7h0M53.4 62.9h0M82.0 54.3h0" stroke="#6058c8" stroke-width="1.5"/></g></svg><svg class="pn" style="left:717.00px;top:49.00px;width:120.50px;height:117.00px" viewBox="0 0 120.50 117.00"><linearGradient id="g_p6" x1="0" y1="0" x2="0" y2="1"><stop offset="0" stop-color="#bdbdbb"/><stop offset="1" stop-color="#bbbbb9"/></linearGradient><rect width="120.5" height="117.0" fill="url(#g_p6)"/><circle cx="60.2" cy="60.5" r="60.8" fill="#c0c0be" fill-opacity="1.00" stroke="#d0d0cf" stroke-width="1.2" stroke-opacity="0.80"/><path d="M90.4 112.8A60.3 60.3 0 0 1 21.5 14.3L24.9 18.4A55.0 55.0 0 0 0 87.7 108.1Z" fill="#a29cd2" fill-opacity="0.35"/><path d="M71.5 114.9A55.5 55.5 0 0 1 9.1 82.2" fill="none" stroke="#a29cd2" stroke-width=".7" stroke-opacity=".5"/><path d="M18.1 101.4A58.8 58.8 0 0 1 13.9 24.4" fill="none" stroke="#a29cd2" stroke-width=".7" stroke-opacity=".5"/><path d="M25.6 106.6A57.7 57.7 0 0 1 4.8 44.7" fill="none" stroke="#a29cd2" stroke-width=".7" stroke-opacity=".5"/><path d="M27.8 106.8A56.6 56.6 0 0 1 16.4 24.8" fill="none" stroke="#a29cd2" stroke-width=".7" stroke-opacity=".5"/><path d="M52.6 118.0A58.0 58.0 0 0 1 2.3 57.7" fill="none" stroke="#a29cd2" stroke-width=".7" stroke-opacity=".5"/><path d="M20.5 105.2A59.8 59.8 0 0 1 1.3 50.6" fill="none" stroke="#a29cd2" stroke-width=".7" stroke-opacity=".5"/><circle cx="60.2" cy="57.5" r="55.0" fill="#c0c0be" fill-opacity="1.00" stroke="#8b8b99" stroke-width="0.9" stroke-opacity="0.30"/><g filter="url(#bl)"><path d="M112.0 63.3h0M47.9 29.3h0M100.6 30.3h0M107.2 48.5h0M45.3 82.5h0M10.8 49.8h0M74.5 71.1h0M89.5 43.5h0M71.6 84.7h0M72.7 54.4h0M72.1 63.8h0M103.8 76.6h0M41.9 42.0h0M57.5 43.6h0M98.4 32.9h0M43.3 98.5h0M16.7 69.6h0M108.9 39.6h0M32.4 43.7h0M23.9 34.8h0M32.1 22.0h0M63.4 24.2h0M55.6 42.7h0M77.7 29.1h0M69.4 14.8h0M108.6 56.7h0M59.3 20.3h0M78.7 9.9h0M36.6 97.8h0M88.8 101.3h0M41.4 27.3h0M60.2 28.2h0M46.0 74.4h0M47.2 76.0h0M37.2 75.0h0M88.2 18.3h0M94.4 87.8h0M88.3 17.6h0M25.9 39.0h0M62.6 93.6h0M103.7 70.6h0M45.1 66.6h0M84.8 99.1h0M100.3 29.4h0M44.6 39.0h0M60.0 12.7h0M50.9 48.8h0M33.7 46.2h0M46.9 12.0h0M48.8 106.4h0M106.3 45.0h0M29.2 49.7h0M60.5 60.4h0M16.9 83.4h0M35.9 38.2h0M107.9 78.4h0M9.4 59.3h0M54.2 30.2h0M104.3 79.0h0M42.0 72.3h0M78.0 80.3h0M49.3 53.5h0M34.3 30.3h0M35.8 36.3h0M88.8 68.3h0M30.9 14.6h0M69.4 60.1h0M91.6 31.0h0M33.9 29.5h0M32.8 81.0h0M80.9 14.2h0M75.3 44.0h0M49.9 21.2h0M108.6 38.2h0M74.4 21.2h0M33.8 19.3h0M87.2 32.0h0M102.3 41.4h0M91.1 72.2h0M85.3 76.1h0M15.8 44.1h0M98.7 80.1h0M53.8 98.0h0M38.5 62.2h0M90.0 57.1h0M100.5 27.5h0M14.7 51.9h0M10.5 47.2h0M84.1 20.9h0M94.9 78.8h0M27.2 36.2h0M69.4 86.3h0M23.9 87.6h0M86.7 12.0h0M105.0 69.8h0M54.4 72.1h0M43.9 47.9h0M52.4 13.6h0M95.6 48.8h0M103.1 27.2h0M89.3 44.2h0M70.6 70.7h0M93.8 60.1h0M59.2 78.4h0M24.1 37.6h0M85.3 13.7h0M18.7 26.2h0M76.3 70.7h0M91.5 48.1h0M99.1 35.9h0M41.0 100.5h0M74.0 46.8h0M76.7 80.0h0M73.8 107.1h0M37.7 43.5h0M87.3 41.5h0M60.8 32.3h0M22.6 65.0h0M58.6 10.8h0M73.4 27.3h0M50.4 53.1h0M84.6 41.1h0M75.6 30.2h0M106.8 42.3h0M23.5 76.6h0M80.0 54.1h0M38.2 76.5h0M13.5 74.6h0M109.3 72.1h0M28.6 49.6h0M18.6 43.8h0M35.6 37.2h0M28.9 50.9h0M54.0 23.5h0M62.7 55.3h0M36.9 15.5h0M28.4 55.1h0M95.5 85.3h0M65.7 73.9h0M109.8 68.8h0M56.6 19.1h0M70.0 73.8h0M96.2 96.1h0M27.5 54.3h0M49.6 18.2h0M22.3 23.8h0M39.2 30.1h0M69.2 8.6h0M41.7 68.3h0M51.1 82.1h0M29.4 50.1h0M54.2 20.3h0M78.7 98.6h0M32.6 23.6h0M64.4 49.7h0M79.5 54.7h0M101.2 89.9h0M23.9 58.3h0M53.8 101.8h0M78.7 43.7h0M39.1 88.8h0M104.2 84.9h0M45.4 77.3h0M69.0 52.8h0M15.6 35.9h0M99.6 80.7h0M12.8 55.9h0M77.6 26.3h0M88.7 76.4h0M86.9 43.9h0M60.8 51.4h0M70.1 35.3h0M26.7 29.8h0M99.9 62.0h0M30.9 65.1h0M34.2 13.2h0M26.2 43.9h0M69.2 23.8h0M29.7 96.7h0M90.3 67.6h0M95.9 40.2h0M22.4 63.4h0M65.9 8.2h0M52.6 12.6h0M20.0 77.7h0M39.5 76.4h0M97.8 27.5h0M99.9 24.2h0M40.3 38.3h0M13.8 72.9h0M103.0 53.1h0M63.0 73.0h0M64.0 27.1h0M43.6 41.6h0M67.8 88.9h0M8.6 67.0h0M65.6 7.2h0M41.7 10.1h0M100.7 62.9h0M80.8 74.6h0M15.2 84.3h0M105.4 38.5h0M48.5 87.4h0M69.4 19.2h0M72.8 53.0h0M71.4 20.7h0M20.8 37.0h0M83.2 34.8h0M39.1 102.3h0M98.8 85.3h0M74.0 19.5h0M54.7 34.6h0M48.7 86.2h0M27.9 41.3h0M37.0 47.8h0M29.0 99.7h0M12.3 62.9h0M27.1 84.1h0M72.5 102.2h0M22.3 35.6h0M66.5 5.8h0M86.7 55.1h0M72.3 7.0h0M57.5 66.9h0M38.3 65.8h0M14.9 48.7h0M91.3 16.4h0M61.9 10.2h0M60.2 64.1h0M26.4 30.1h0M79.8 38.8h0M23.1 20.5h0M67.9 107.7h0M88.7 16.8h0M23.1 40.2h0M50.5 37.9h0M95.1 51.7h0M73.2 62.7h0M58.0 109.8h0M80.3 91.5h0M79.9 14.8h0M70.9 105.5h0M21.0 55.7h0M38.1 43.6h0M64.5 30.7h0M86.6 15.5h0M97.8 69.8h0M42.0 78.2h0" stroke="#9890d8" stroke-opacity="0.50" stroke-width="2.9"/><path d="M91.5 23.5h0M82.7 57.7h0M74.9 14.2h0M42.4 11.1h0M64.7 19.3h0M85.5 89.8h0M85.4 92.5h0M89.7 25.2h0M35.4 54.2h0M23.8 69.8h0M77.1 101.8h0M76.4 47.3h0M98.7 31.1h0M105.6 79.3h0M32.1 48.9h0M17.4 50.1h0M65.7 20.5h0M60.4 15.0h0M74.2 55.6h0M19.0 32.6h0M52.4 97.6h0M68.8 5.7h0M29.7 96.8h0M49.9 105.3h0M63.2 31.1h0M81.8 97.3h0M56.1 34.3h0M72.5 82.8h0M92.4 95.4h0M39.9 10.5h0M90.9 86.8h0M99.4 49.4h0M36.1 28.3h0M101.5 58.1h0M40.1 87.2h0M40.6 32.3h0M85.6 74.4h0M43.3 83.9h0M63.4 87.8h0M24.8 64.6h0M83.7 76.8h0M29.5 41.3h0M84.5 26.3h0M61.7 20.5h0M88.7 25.7h0M94.0 49.5h0M84.7 63.8h0M26.1 62.8h0M67.9 48.7h0M54.8 103.7h0M106.3 77.5h0M66.3 16.0h0M87.0 81.6h0M47.2 33.5h0M68.8 38.8h0M82.6 19.2h0M48.1 19.2h0M59.1 96.3h0M30.5 50.8h0M45.3 12.6h0M63.0 14.5h0M47.9 23.7h0M40.6 91.3h0M73.5 28.7h0M23.3 49.8h0M62.7 21.5h0M105.2 60.4h0M27.9 18.3h0M78.3 27.3h0M73.4 51.4h0M80.2 90.9h0M42.6 105.4h0M20.7 60.9h0M65.0 16.9h0M43.2 107.2h0M90.8 91.0h0M97.9 59.3h0M54.8 25.7h0M61.5 73.8h0M101.4 69.8h0M87.9 96.9h0M22.6 30.4h0M14.9 78.9h0M13.0 64.8h0M11.1 63.1h0M81.3 64.6h0M44.3 52.4h0M69.4 31.5h0M67.8 11.6h0M44.8 85.9h0M20.0 49.6h0M52.1 104.3h0M52.0 71.3h0M78.8 17.5h0M52.4 72.4h0M67.2 71.9h0M36.6 93.7h0M13.9 37.6h0M66.8 34.1h0M39.3 28.0h0M81.0 29.1h0M85.8 28.8h0M84.4 96.6h0M111.3 66.0h0M43.2 90.9h0M27.5 80.1h0M44.6 67.0h0M96.3 63.1h0M50.0 36.1h0M73.3 85.9h0M105.0 53.2h0M23.7 89.8h0M33.5 28.0h0M81.6 74.9h0M69.5 24.0h0M17.9 64.1h0M101.8 62.3h0M81.4 22.7h0M41.9 30.4h0M91.5 39.8h0M33.0 65.3h0M106.9 80.6h0M47.2 11.0h0M45.6 41.5h0M19.1 29.1h0M19.4 44.4h0M77.8 41.8h0M63.0 8.6h0M25.1 50.2h0M107.2 44.1h0M74.7 57.3h0M24.1 85.7h0M72.2 70.3h0M63.5 37.9h0M90.9 32.0h0M55.3 67.1h0M92.4 66.2h0M89.7 72.9h0M50.8 44.2h0M77.6 13.8h0M86.5 64.0h0M42.0 47.7h0M13.2 71.7h0" stroke="#9890d8" stroke-opacity="0.50" stroke-width="3.4"/><path d="M67.9 104.4h0M85.1 74.8h0M93.2 89.0h0M79.1 53.6h0M47.8 97.5h0M18.6 87.5h0M35.8 57.5h0M37.6 11.9h0M108.9 71.5h0M48.5 41.5h0M58.3 65.8h0M34.4 64.9h0M35.0 33.5h0M23.1 87.6h0M29.7 33.1h0M33.6 50.4h0M39.5 25.3h0M16.9 73.5h0M108.8 53.9h0M12.8 74.5h0M29.0 37.4h0M39.5 86.4h0M80.6 39.0h0M66.2 99.6h0M57.2 5.6h0M52.2 46.9h0M95.9 39.6h0M87.1 56.3h0M99.5 68.1h0M104.2 52.0h0M104.6 58.8h0M51.2 31.4h0M59.8 11.7h0M17.0 57.7h0M79.4 24.7h0M85.5 57.6h0M99.5 69.6h0M50.7 28.9h0M71.4 34.6h0M63.0 55.2h0M109.7 41.8h0M35.8 97.9h0M14.5 57.9h0M41.4 103.0h0M77.1 92.6h0M108.4 50.6h0M45.0 16.1h0M102.2 29.8h0M43.6 98.6h0M30.7 33.4h0M53.1 21.2h0M84.6 60.0h0M67.8 103.3h0M49.5 39.3h0M45.3 99.0h0M103.2 33.3h0M76.5 103.3h0M47.2 26.3h0M64.3 5.4h0M92.5 63.4h0M52.3 107.3h0M27.7 39.7h0M25.4 46.5h0M105.4 61.1h0M111.3 70.1h0M35.7 93.3h0M43.9 13.5h0M35.3 46.6h0M36.8 57.1h0M95.6 37.2h0M90.3 27.5h0M54.9 34.6h0M69.3 29.3h0M54.3 90.5h0M84.0 11.9h0M88.4 65.1h0M96.2 93.5h0M79.9 88.7h0M38.0 48.0h0M25.3 32.6h0M72.4 34.1h0M39.2 83.2h0M85.6 48.7h0M48.9 98.5h0M94.4 67.4h0M58.7 37.6h0M105.0 53.6h0M54.8 73.4h0M41.8 57.7h0M89.0 50.4h0M51.1 105.4h0M25.3 55.2h0M23.2 38.4h0M12.8 41.5h0M89.1 90.5h0M87.3 25.9h0M18.3 30.3h0M36.6 51.7h0M81.6 74.3h0M67.2 32.0h0M100.7 32.0h0M91.0 21.2h0M101.1 56.4h0M50.9 14.2h0M87.2 16.4h0M31.6 93.2h0M66.3 75.5h0M62.1 7.7h0M20.3 46.3h0M27.8 18.4h0M83.8 18.7h0M56.2 92.8h0M76.9 24.5h0M79.9 10.4h0M56.3 5.4h0M31.4 101.6h0M43.0 8.4h0" stroke="#9890d8" stroke-opacity="0.50" stroke-width="3.9"/><path d="M47.9 21.0h0M40.9 26.4h0M55.7 14.7h0M24.7 25.2h0M52.4 22.4h0M57.6 79.7h0M80.7 104.7h0M58.5 14.9h0M60.6 106.3h0M49.9 71.9h0M19.3 58.9h0M35.9 20.8h0M36.7 80.2h0M85.0 11.6h0M106.7 62.6h0M35.8 51.8h0M71.7 20.7h0M103.7 68.9h0M75.7 75.4h0M19.5 50.2h0M83.5 53.5h0M61.5 35.3h0M40.4 25.7h0M87.5 42.5h0M33.3 13.0h0M44.4 71.0h0M101.8 31.0h0M47.4 35.9h0M80.7 98.2h0M68.0 74.3h0M66.0 15.1h0M45.0 48.6h0M89.4 26.4h0M36.6 63.9h0M28.4 26.9h0M105.3 69.0h0M58.6 78.4h0M52.9 58.0h0M64.7 78.6h0M53.2 60.9h0M66.5 97.4h0M38.6 31.3h0M79.7 43.3h0M108.4 46.4h0M63.8 43.2h0M44.7 27.5h0M32.7 33.6h0M54.2 8.0h0M106.4 74.3h0M38.4 22.7h0M21.1 88.1h0M103.7 47.3h0" stroke="#9890d8" stroke-opacity="0.50" stroke-width="4.4"/><path d="M67.9 104.4h0M85.1 74.8h0M93.2 89.0h0M79.1 53.6h0M47.8 97.5h0M18.6 87.5h0M35.8 57.5h0M37.6 11.9h0M108.9 71.5h0M48.5 41.5h0M58.3 65.8h0M34.4 64.9h0M35.0 33.5h0M23.1 87.6h0M29.7 33.1h0M33.6 50.4h0M39.5 25.3h0M16.9 73.5h0M108.8 53.9h0M12.8 74.5h0M29.0 37.4h0M39.5 86.4h0M80.6 39.0h0M66.2 99.6h0M57.2 5.6h0M52.2 46.9h0M95.9 39.6h0M87.1 56.3h0M99.5 68.1h0M104.2 52.0h0M104.6 58.8h0M51.2 31.4h0M59.8 11.7h0" stroke="#2f27a0" stroke-width="2.5"/><path d="M47.9 21.0h0M40.9 26.4h0M55.7 14.7h0M24.7 25.2h0M52.4 22.4h0M57.6 79.7h0M80.7 104.7h0M58.5 14.9h0M60.6 106.3h0M49.9 71.9h0M19.3 58.9h0M35.9 20.8h0M36.7 80.2h0M85.0 11.6h0M106.7 62.6h0M35.8 51.8h0M71.7 20.7h0M103.7 68.9h0M75.7 75.4h0M19.5 50.2h0M83.5 53.5h0M61.5 35.3h0M40.4 25.7h0M87.5 42.5h0M33.3 13.0h0M44.4 71.0h0M101.8 31.0h0M47.4 35.9h0M80.7 98.2h0M68.0 74.3h0M66.0 15.1h0M45.0 48.6h0M89.4 26.4h0M36.6 63.9h0M28.4 26.9h0M105.3 69.0h0M58.6 78.4h0M52.9 58.0h0M64.7 78.6h0M53.2 60.9h0M66.5 97.4h0M38.6 31.3h0M79.7 43.3h0M108.4 46.4h0M63.8 43.2h0M44.7 27.5h0" stroke="#2f27a0" stroke-width="3.0"/><path d="M26.4 30.1h0M79.8 38.8h0M23.1 20.5h0M67.9 107.7h0M88.7 16.8h0M23.1 40.2h0M50.5 37.9h0M95.1 51.7h0M73.2 62.7h0M58.0 109.8h0M80.3 91.5h0M79.9 14.8h0M70.9 105.5h0M21.0 55.7h0M38.1 43.6h0M64.5 30.7h0M86.6 15.5h0M97.8 69.8h0M42.0 78.2h0" stroke="#3b32a9" stroke-width="1.5"/><path d="M78.3 27.3h0M73.4 51.4h0M80.2 90.9h0M42.6 105.4h0M20.7 60.9h0M65.0 16.9h0M43.2 107.2h0M90.8 91.0h0M97.9 59.3h0M54.8 25.7h0M61.5 73.8h0M101.4 69.8h0M87.9 96.9h0M22.6 30.4h0M14.9 78.9h0M13.0 64.8h0M11.1 63.1h0M81.3 64.6h0M44.3 52.4h0M69.4 31.5h0M67.8 11.6h0M44.8 85.9h0M20.0 49.6h0M52.1 104.3h0M52.0 71.3h0M78.8 17.5h0M52.4 72.4h0M67.2 71.9h0M36.6 93.7h0M13.9 37.6h0M66.8 34.1h0M39.3 28.0h0M81.0 29.1h0M85.8 28.8h0M84.4 96.6h0M111.3 66.0h0M43.2 90.9h0M27.5 80.1h0M44.6 67.0h0M96.3 63.1h0M50.0 36.1h0M73.3 85.9h0M105.0 53.2h0M23.7 89.8h0M33.5 28.0h0M81.6 74.9h0M69.5 24.0h0M17.9 64.1h0M101.8 62.3h0M81.4 22.7h0M41.9 30.4h0M91.5 39.8h0M33.0 65.3h0M106.9 80.6h0M47.2 11.0h0M45.6 41.5h0M19.1 29.1h0M19.4 44.4h0M77.8 41.8h0M63.0 8.6h0M25.1 50.2h0M107.2 44.1h0M74.7 57.3h0M24.1 85.7h0M72.2 70.3h0M63.5 37.9h0M90.9 32.0h0M55.3 67.1h0M92.4 66.2h0M89.7 72.9h0M50.8 44.2h0M77.6 13.8h0M86.5 64.0h0" stroke="#3b32a9" stroke-width="2.0"/><path d="M17.0 57.7h0M79.4 24.7h0M85.5 57.6h0M99.5 69.6h0M50.7 28.9h0M71.4 34.6h0M63.0 55.2h0M109.7 41.8h0M35.8 97.9h0M14.5 57.9h0M41.4 103.0h0M77.1 92.6h0M108.4 50.6h0M45.0 16.1h0M102.2 29.8h0M43.6 98.6h0M30.7 33.4h0M53.1 21.2h0M84.6 60.0h0M67.8 103.3h0M49.5 39.3h0M45.3 99.0h0M103.2 33.3h0M76.5 103.3h0M47.2 26.3h0M64.3 5.4h0M92.5 63.4h0M52.3 107.3h0M27.7 39.7h0M25.4 46.5h0M105.4 61.1h0M111.3 70.1h0M35.7 93.3h0M43.9 13.5h0M35.3 46.6h0M36.8 57.1h0M95.6 37.2h0M90.3 27.5h0M54.9 34.6h0M69.3 29.3h0M54.3 90.5h0M84.0 11.9h0M88.4 65.1h0M96.2 93.5h0M79.9 88.7h0M38.0 48.0h0M25.3 32.6h0M72.4 34.1h0M39.2 83.2h0M85.6 48.7h0M48.9 98.5h0M94.4 67.4h0M58.7 37.6h0M105.0 53.6h0M54.8 73.4h0M41.8 57.7h0M89.0 50.4h0M51.1 105.4h0M25.3 55.2h0M23.2 38.4h0M12.8 41.5h0M89.1 90.5h0M87.3 25.9h0M18.3 30.3h0M36.6 51.7h0M81.6 74.3h0M67.2 32.0h0M100.7 32.0h0M91.0 21.2h0M101.1 56.4h0M50.9 14.2h0M87.2 16.4h0M31.6 93.2h0M66.3 75.5h0M62.1 7.7h0M20.3 46.3h0M27.8 18.4h0M83.8 18.7h0M56.2 92.8h0M76.9 24.5h0M79.9 10.4h0" stroke="#3b32a9" stroke-width="2.5"/><path d="M32.7 33.6h0M54.2 8.0h0M106.4 74.3h0M38.4 22.7h0M21.1 88.1h0M103.7 47.3h0" stroke="#3b32a9" stroke-width="3.0"/><path d="M112.0 63.3h0M47.9 29.3h0M100.6 30.3h0M107.2 48.5h0M45.3 82.5h0M10.8 49.8h0M74.5 71.1h0M89.5 43.5h0M71.6 84.7h0M72.7 54.4h0M72.1 63.8h0M103.8 76.6h0M41.9 42.0h0M57.5 43.6h0M98.4 32.9h0M43.3 98.5h0M16.7 69.6h0M108.9 39.6h0M32.4 43.7h0M23.9 34.8h0M32.1 22.0h0M63.4 24.2h0M55.6 42.7h0M77.7 29.1h0M69.4 14.8h0M108.6 56.7h0M59.3 20.3h0M78.7 9.9h0M36.6 97.8h0M88.8 101.3h0M41.4 27.3h0M60.2 28.2h0M46.0 74.4h0M47.2 76.0h0M37.2 75.0h0M88.2 18.3h0M94.4 87.8h0M88.3 17.6h0M25.9 39.0h0M62.6 93.6h0M103.7 70.6h0M45.1 66.6h0M84.8 99.1h0M100.3 29.4h0M44.6 39.0h0M60.0 12.7h0M50.9 48.8h0M33.7 46.2h0M46.9 12.0h0M48.8 106.4h0M106.3 45.0h0M29.2 49.7h0M60.5 60.4h0M16.9 83.4h0M35.9 38.2h0M107.9 78.4h0M9.4 59.3h0M54.2 30.2h0M104.3 79.0h0M42.0 72.3h0M78.0 80.3h0M49.3 53.5h0M34.3 30.3h0M35.8 36.3h0M88.8 68.3h0M30.9 14.6h0M69.4 60.1h0M91.6 31.0h0M33.9 29.5h0M32.8 81.0h0M80.9 14.2h0M75.3 44.0h0M49.9 21.2h0M108.6 38.2h0M74.4 21.2h0M33.8 19.3h0M87.2 32.0h0M102.3 41.4h0M91.1 72.2h0M85.3 76.1h0M15.8 44.1h0M98.7 80.1h0M53.8 98.0h0M38.5 62.2h0M90.0 57.1h0M100.5 27.5h0M14.7 51.9h0M10.5 47.2h0M84.1 20.9h0M94.9 78.8h0M27.2 36.2h0M69.4 86.3h0M23.9 87.6h0M86.7 12.0h0M105.0 69.8h0M54.4 72.1h0M43.9 47.9h0M52.4 13.6h0M95.6 48.8h0M103.1 27.2h0M89.3 44.2h0M70.6 70.7h0M93.8 60.1h0M59.2 78.4h0M24.1 37.6h0M85.3 13.7h0M18.7 26.2h0M76.3 70.7h0M91.5 48.1h0M99.1 35.9h0M41.0 100.5h0M74.0 46.8h0M76.7 80.0h0M73.8 107.1h0M37.7 43.5h0M87.3 41.5h0M60.8 32.3h0M22.6 65.0h0M58.6 10.8h0M73.4 27.3h0M50.4 53.1h0M84.6 41.1h0M75.6 30.2h0M106.8 42.3h0M23.5 76.6h0M80.0 54.1h0M38.2 76.5h0M13.5 74.6h0M109.3 72.1h0M28.6 49.6h0M18.6 43.8h0M35.6 37.2h0M28.9 50.9h0M54.0 23.5h0M62.7 55.3h0M36.9 15.5h0M28.4 55.1h0M95.5 85.3h0M65.7 73.9h0M109.8 68.8h0M56.6 19.1h0M70.0 73.8h0M96.2 96.1h0M27.5 54.3h0M49.6 18.2h0M22.3 23.8h0M39.2 30.1h0M69.2 8.6h0M41.7 68.3h0M51.1 82.1h0M29.4 50.1h0M54.2 20.3h0M78.7 98.6h0M32.6 23.6h0M64.4 49.7h0M79.5 54.7h0M101.2 89.9h0M23.9 58.3h0" stroke="#463db3" stroke-width="1.5"/><path d="M91.5 23.5h0M82.7 57.7h0M74.9 14.2h0M42.4 11.1h0M64.7 19.3h0M85.5 89.8h0M85.4 92.5h0M89.7 25.2h0M35.4 54.2h0M23.8 69.8h0M77.1 101.8h0M76.4 47.3h0M98.7 31.1h0M105.6 79.3h0M32.1 48.9h0M17.4 50.1h0M65.7 20.5h0M60.4 15.0h0M74.2 55.6h0M19.0 32.6h0M52.4 97.6h0M68.8 5.7h0M29.7 96.8h0M49.9 105.3h0M63.2 31.1h0M81.8 97.3h0M56.1 34.3h0M72.5 82.8h0M92.4 95.4h0M39.9 10.5h0M90.9 86.8h0M99.4 49.4h0M36.1 28.3h0M101.5 58.1h0M40.1 87.2h0M40.6 32.3h0M85.6 74.4h0M43.3 83.9h0M63.4 87.8h0M24.8 64.6h0M83.7 76.8h0M29.5 41.3h0M84.5 26.3h0M61.7 20.5h0M88.7 25.7h0M94.0 49.5h0M84.7 63.8h0M26.1 62.8h0M67.9 48.7h0M54.8 103.7h0M106.3 77.5h0M66.3 16.0h0M87.0 81.6h0M47.2 33.5h0M68.8 38.8h0M82.6 19.2h0M48.1 19.2h0M59.1 96.3h0M30.5 50.8h0M45.3 12.6h0M63.0 14.5h0M47.9 23.7h0M40.6 91.3h0M73.5 28.7h0M23.3 49.8h0M62.7 21.5h0M105.2 60.4h0M27.9 18.3h0" stroke="#463db3" stroke-width="2.0"/><path d="M56.3 5.4h0M31.4 101.6h0M43.0 8.4h0" stroke="#463db3" stroke-width="2.5"/><path d="M53.8 101.8h0M78.7 43.7h0M39.1 88.8h0M104.2 84.9h0M45.4 77.3h0M69.0 52.8h0M15.6 35.9h0M99.6 80.7h0M12.8 55.9h0M77.6 26.3h0M88.7 76.4h0M86.9 43.9h0M60.8 51.4h0M70.1 35.3h0M26.7 29.8h0M99.9 62.0h0M30.9 65.1h0M34.2 13.2h0M26.2 43.9h0M69.2 23.8h0M29.7 96.7h0M90.3 67.6h0M95.9 40.2h0M22.4 63.4h0M65.9 8.2h0M52.6 12.6h0M20.0 77.7h0M39.5 76.4h0M97.8 27.5h0M99.9 24.2h0M40.3 38.3h0M13.8 72.9h0M103.0 53.1h0M63.0 73.0h0M64.0 27.1h0M43.6 41.6h0M67.8 88.9h0M8.6 67.0h0M65.6 7.2h0M41.7 10.1h0M100.7 62.9h0M80.8 74.6h0M15.2 84.3h0M105.4 38.5h0M48.5 87.4h0M69.4 19.2h0M72.8 53.0h0M71.4 20.7h0M20.8 37.0h0M83.2 34.8h0M39.1 102.3h0M98.8 85.3h0M74.0 19.5h0M54.7 34.6h0M48.7 86.2h0M27.9 41.3h0M37.0 47.8h0M29.0 99.7h0M12.3 62.9h0M27.1 84.1h0M72.5 102.2h0M22.3 35.6h0M66.5 5.8h0M86.7 55.1h0M72.3 7.0h0M57.5 66.9h0M38.3 65.8h0M14.9 48.7h0M91.3 16.4h0M61.9 10.2h0M60.2 64.1h0" stroke="#5248bc" stroke-width="1.5"/><path d="M42.0 47.7h0M13.2 71.7h0" stroke="#5248bc" stroke-width="2.0"/></g></svg><svg class="pn" style="left:843.00px;top:49.00px;width:116.50px;height:117.00px" viewBox="0 0 116.50 117.00"><linearGradient id="g_p7" x1="0" y1="0" x2="0" y2="1"><stop offset="0" stop-color="#d5d5d3"/><stop offset="1" stop-color="#d1d1cf"/></linearGradient><rect width="116.5" height="117.0" fill="url(#g_p7)"/><circle cx="58.2" cy="60.5" r="58.2" fill="#d9d9d7" fill-opacity="1.00" stroke="#e0e0df" stroke-width="1.2" stroke-opacity="0.80"/><path d="M102.5 23.4A57.8 57.8 0 1 1 1.4 70.5L7.2 69.5A51.8 51.8 0 1 0 98.0 27.2Z" fill="#9890d4" fill-opacity="0.55"/><path d="M112.9 47.1A56.3 56.3 0 0 1 57.8 116.8" fill="none" stroke="#9890d4" stroke-width=".7" stroke-opacity=".5"/><path d="M101.7 27.2A54.7 54.7 0 0 1 91.7 103.8" fill="none" stroke="#9890d4" stroke-width=".7" stroke-opacity=".5"/><path d="M114.6 48.3A57.7 57.7 0 0 1 72.0 116.6" fill="none" stroke="#9890d4" stroke-width=".7" stroke-opacity=".5"/><path d="M113.3 45.3A57.1 57.1 0 0 1 27.9 108.9" fill="none" stroke="#9890d4" stroke-width=".7" stroke-opacity=".5"/><path d="M114.7 52.1A57.0 57.0 0 0 1 72.1 115.8" fill="none" stroke="#9890d4" stroke-width=".7" stroke-opacity=".5"/><path d="M109.9 71.6A52.8 52.8 0 0 1 7.1 73.8" fill="none" stroke="#9890d4" stroke-width=".7" stroke-opacity=".5"/><path d="M115.5 61.5A57.3 57.3 0 0 1 63.6 117.5" fill="none" stroke="#9890d4" stroke-width=".7" stroke-opacity=".5"/><path d="M102.2 94.6A55.6 55.6 0 0 1 47.4 115.0" fill="none" stroke="#9890d4" stroke-width=".7" stroke-opacity=".5"/><path d="M105.4 84.5A52.9 52.9 0 0 1 55.1 113.3" fill="none" stroke="#9890d4" stroke-width=".7" stroke-opacity=".5"/><path d="M105.2 32.0A55.0 55.0 0 0 1 24.7 104.0" fill="none" stroke="#9890d4" stroke-width=".7" stroke-opacity=".5"/><path d="M109.1 77.9A53.7 53.7 0 0 1 47.1 113.1" fill="none" stroke="#9890d4" stroke-width=".7" stroke-opacity=".5"/><path d="M113.6 47.7A56.8 56.8 0 0 1 7.6 86.2" fill="none" stroke="#9890d4" stroke-width=".7" stroke-opacity=".5"/><path d="M96.5 96.3A52.4 52.4 0 0 1 13.5 87.8" fill="none" stroke="#9890d4" stroke-width=".7" stroke-opacity=".5"/><path d="M105.7 35.5A53.7 53.7 0 0 1 98.3 96.3" fill="none" stroke="#9890d4" stroke-width=".7" stroke-opacity=".5"/><circle cx="58.2" cy="56.5" r="51.8" fill="#dbdbd9" fill-opacity="1.00" stroke="#9898a5" stroke-width="0.9" stroke-opacity="0.30"/><g filter="url(#bl)"><path d="M35.6 69.4h0M63.8 27.3h0M61.7 25.1h0M91.4 57.6h0M91.8 57.9h0M56.4 21.8h0M95.7 59.7h0" stroke="#3a30b0" stroke-width="1.5"/><path d="M55.0 101.5h0M106.8 47.9h0M77.3 92.8h0M38.7 74.6h0M36.0 70.5h0M35.9 69.3h0M68.7 90.1h0M36.0 49.5h0M35.6 47.8h0M57.6 21.8h0M82.5 19.7h0M93.2 61.2h0" stroke="#3a30b0" stroke-width="2.0"/><path d="M62.9 14.2h0M57.7 20.9h0M39.4 76.0h0M9.7 66.3h0M20.8 83.3h0M37.7 34.0h0M62.8 26.2h0M75.0 43.2h0M90.7 58.9h0M80.1 73.6h0M37.0 48.4h0M46.8 97.2h0M55.3 84.6h0M57.1 23.2h0M58.5 34.5h0M73.4 24.4h0M30.1 94.0h0M59.1 85.4h0M55.9 48.9h0M79.5 78.1h0M94.2 60.2h0M71.1 9.6h0M102.2 69.6h0M33.7 18.0h0M18.7 71.3h0" stroke="#3a30b0" stroke-width="2.5"/><path d="M102.3 75.3h0M63.9 101.4h0" stroke="#473db8" stroke-width="1.0"/><path d="M86.9 29.0h0M32.3 63.3h0M35.4 51.5h0M52.3 58.3h0M51.1 57.1h0M57.8 68.2h0M27.5 78.8h0M29.8 79.0h0M68.3 19.3h0M67.4 67.4h0M34.4 87.4h0M32.8 87.1h0M60.2 7.4h0M79.4 56.9h0M72.0 94.7h0M101.4 75.1h0M74.6 64.2h0M89.2 27.0h0M25.3 71.5h0M17.0 59.2h0M19.5 50.6h0M79.8 45.6h0M79.1 47.2h0M64.2 71.0h0M64.4 70.2h0M55.5 41.9h0M64.3 100.6h0M70.7 91.2h0M74.4 52.9h0M47.0 28.6h0M47.0 29.5h0M83.9 80.0h0M99.0 31.6h0M23.2 84.3h0M23.1 84.5h0M28.6 84.2h0M28.3 85.3h0M52.1 57.3h0M96.9 79.3h0M94.1 54.9h0M20.4 62.8h0" stroke="#473db8" stroke-width="1.5"/><path d="M28.8 38.5h0M8.7 59.3h0M90.5 43.8h0M93.0 44.0h0M11.9 55.0h0M79.1 79.7h0M15.1 43.5h0M86.5 27.9h0M52.3 57.1h0M39.0 28.6h0M56.7 68.7h0M30.3 91.6h0M28.6 79.1h0M39.2 90.9h0M68.7 98.2h0M30.9 24.2h0M51.2 15.5h0M77.1 22.3h0M33.8 86.4h0M99.2 31.1h0M80.2 56.1h0M52.8 25.4h0M49.8 48.4h0M35.1 94.0h0M72.2 28.5h0M103.0 34.9h0M32.1 44.8h0M19.0 51.7h0M80.2 46.8h0M65.4 70.9h0M35.5 59.2h0M92.6 89.6h0M75.3 63.5h0M73.3 84.9h0M92.2 84.2h0M64.4 63.8h0M24.7 91.3h0M85.0 80.4h0M97.8 31.9h0M24.3 84.7h0M29.4 85.0h0M13.5 61.3h0M35.3 99.4h0M49.7 23.1h0M82.9 94.5h0M36.2 47.8h0M68.2 100.3h0M19.3 62.3h0M20.4 61.7h0" stroke="#473db8" stroke-width="2.0"/><path d="M91.7 44.8h0M76.0 54.8h0M81.6 53.0h0M17.8 54.2h0M61.8 62.8h0M81.1 65.2h0M61.9 7.4h0M69.0 81.6h0M47.7 96.2h0M69.8 46.7h0M57.1 42.4h0M104.8 52.2h0" stroke="#473db8" stroke-width="2.5"/><path d="M82.2 68.4h0M82.1 67.9h0M82.4 67.9h0M66.7 89.5h0M66.3 90.5h0M38.2 32.5h0M38.3 33.1h0M50.4 84.6h0M79.3 73.9h0M83.5 50.7h0M83.9 49.0h0M51.7 82.6h0M106.5 47.3h0M100.4 52.7h0M46.7 60.2h0M46.1 59.9h0M108.4 57.3h0M108.3 57.6h0M46.0 85.0h0M33.7 67.1h0M73.5 41.2h0M73.0 41.6h0M40.4 24.7h0M56.6 80.8h0M37.8 26.6h0" stroke="#534bc0" stroke-width="1.0"/><path d="M88.4 68.3h0M63.0 93.9h0M80.5 81.8h0M92.9 61.7h0M59.3 56.1h0M15.6 52.6h0M79.6 38.6h0M26.2 46.0h0M50.9 50.3h0M45.9 28.2h0M53.4 90.7h0M81.5 71.4h0M79.8 26.0h0M41.1 68.0h0M65.6 25.0h0M58.1 7.5h0M76.0 59.7h0M91.1 47.4h0M70.8 97.6h0M65.9 89.7h0M39.3 36.8h0M21.5 43.6h0M32.4 63.0h0M31.7 63.5h0M68.8 53.7h0M48.2 59.7h0M18.4 70.9h0M81.4 87.4h0M77.9 95.1h0M25.5 82.6h0M98.5 31.0h0M78.9 73.1h0M38.2 50.9h0M85.4 85.6h0M42.1 55.2h0M23.7 68.3h0M95.7 81.4h0M49.6 42.8h0M34.0 33.4h0M83.9 49.9h0M75.1 45.4h0M51.1 52.3h0M56.5 59.1h0M97.8 53.3h0M105.8 47.8h0M97.8 35.3h0M99.7 54.8h0M39.8 85.4h0M25.0 61.4h0M79.3 20.6h0M49.7 99.4h0M75.3 63.6h0M60.2 51.7h0M23.7 31.1h0M68.5 63.1h0M107.5 57.1h0M56.5 39.9h0M43.4 78.9h0M95.3 49.5h0M90.3 54.5h0M44.4 11.7h0M70.8 10.7h0M92.0 22.4h0M25.9 53.2h0M57.6 85.4h0M24.0 59.8h0M59.0 41.4h0M87.7 85.8h0M37.4 64.6h0M41.9 102.9h0M89.3 33.2h0M53.9 73.3h0M69.9 9.1h0M47.6 74.6h0M39.6 24.4h0M16.5 46.2h0M97.1 82.4h0M42.8 30.3h0M74.6 13.8h0M88.0 18.2h0M53.9 28.6h0M17.1 40.3h0M84.6 87.0h0M105.3 47.2h0M59.9 45.1h0M33.7 74.2h0" stroke="#534bc0" stroke-width="1.5"/><path d="M80.6 50.5h0M21.4 78.1h0M60.9 32.0h0M89.5 27.5h0M59.7 99.1h0M54.4 90.2h0M43.2 14.8h0M70.0 89.7h0M59.3 66.9h0M84.3 91.9h0M47.5 24.7h0M93.4 30.2h0M88.4 51.8h0M100.6 53.9h0M22.0 63.6h0M82.5 60.4h0M19.4 71.2h0" stroke="#534bc0" stroke-width="2.0"/><path d="M15.2 47.2h0M41.6 18.0h0M42.1 17.7h0M41.1 18.2h0M39.1 19.1h0M98.1 33.0h0M49.9 39.3h0M87.6 95.1h0M68.0 79.5h0M68.3 80.3h0M30.5 21.7h0M21.3 73.1h0M20.8 72.7h0M21.3 73.7h0M59.7 63.7h0M59.1 63.6h0M96.3 74.1h0M71.9 11.0h0M75.1 14.4h0M86.9 60.4h0M74.3 94.3h0M94.6 88.1h0M40.3 30.9h0M45.7 73.9h0M72.1 81.3h0M53.4 34.1h0M51.4 84.9h0M51.7 105.4h0M92.6 48.4h0M89.9 61.1h0M40.3 91.5h0M39.3 95.6h0M59.8 18.7h0M21.9 35.2h0M73.2 64.5h0M38.7 17.7h0M73.7 15.3h0M18.2 39.6h0M17.8 40.0h0M18.1 39.1h0M101.3 79.3h0M51.1 77.5h0M51.1 76.9h0M88.8 36.8h0M74.9 100.8h0M78.4 98.1h0M73.5 78.8h0M73.7 78.3h0M74.0 78.6h0M95.5 48.0h0M42.0 76.2h0M41.5 76.5h0M40.9 86.6h0M41.6 86.8h0M28.1 93.9h0M28.5 93.4h0M99.9 32.3h0M55.4 103.1h0M55.3 102.5h0M55.4 103.7h0M77.8 51.9h0" stroke="#6058c8" stroke-width="1.0"/><path d="M30.9 59.0h0M49.9 40.3h0M67.4 80.2h0M83.3 88.9h0M78.8 91.9h0M70.7 74.7h0M26.0 26.3h0M41.0 87.5h0M87.1 34.1h0" stroke="#6058c8" stroke-width="1.5"/></g></svg><svg class="pn" style="left:964.00px;top:49.00px;width:110.00px;height:117.00px" viewBox="0 0 110.00 117.00"><linearGradient id="g_p8" x1="0" y1="0" x2="0" y2="1"><stop offset="0" stop-color="#b5b5b3"/><stop offset="1" stop-color="#b3b3b1"/></linearGradient><rect width="110.0" height="117.0" fill="url(#g_p8)"/><circle cx="55.0" cy="58.5" r="55.0" fill="#b9b9b7" fill-opacity="1.00" stroke="#cacac9" stroke-width="1.2" stroke-opacity="0.80"/><path d="M55.0 113.0A54.5 54.5 0 0 1 36.4 7.3L37.7 11.0A50.6 50.6 0 0 0 55.0 109.1Z" fill="#a29cd2" fill-opacity="0.40"/><path d="M54.4 110.7A52.2 52.2 0 0 1 10.3 85.5" fill="none" stroke="#a29cd2" stroke-width=".7" stroke-opacity=".5"/><path d="M5.2 78.5A53.7 53.7 0 0 1 16.9 20.7" fill="none" stroke="#a29cd2" stroke-width=".7" stroke-opacity=".5"/><path d="M48.5 110.2A52.2 52.2 0 0 1 11.0 86.4" fill="none" stroke="#a29cd2" stroke-width=".7" stroke-opacity=".5"/><path d="M39.8 108.1A51.9 51.9 0 0 1 5.1 72.9" fill="none" stroke="#a29cd2" stroke-width=".7" stroke-opacity=".5"/><path d="M15.8 94.8A53.4 53.4 0 0 1 36.7 8.3" fill="none" stroke="#a29cd2" stroke-width=".7" stroke-opacity=".5"/><path d="M47.0 108.5A50.6 50.6 0 0 1 7.3 41.5" fill="none" stroke="#a29cd2" stroke-width=".7" stroke-opacity=".5"/><circle cx="55.0" cy="58.5" r="50.6" fill="#babab8" fill-opacity="1.00" stroke="#878794" stroke-width="0.9" stroke-opacity="0.30"/><g filter="url(#bl)"><path d="M10.6 78.2h0M63.5 44.5h0M49.4 105.3h0M11.5 40.6h0M25.9 77.9h0M57.7 61.7h0M91.9 88.2h0M100.4 44.5h0M95.8 82.5h0M36.7 81.0h0M64.1 70.1h0M88.4 90.3h0M24.4 68.9h0M33.1 38.3h0M70.0 64.2h0M78.4 53.4h0M14.2 83.3h0M53.9 26.8h0M34.5 92.0h0M57.8 38.4h0M22.8 28.7h0M39.3 19.1h0M53.2 81.7h0M44.7 98.9h0M84.1 35.0h0M72.0 13.2h0M28.7 25.6h0M24.6 36.4h0M50.7 20.0h0M87.1 94.7h0M42.7 13.2h0M32.6 89.3h0M84.7 24.8h0M75.4 59.5h0M77.5 42.3h0M26.9 93.7h0M22.8 92.5h0M35.0 39.1h0M24.6 69.6h0M38.3 60.7h0M70.7 13.4h0M8.7 48.9h0M44.6 56.4h0M70.7 74.5h0M9.7 65.3h0M91.3 78.1h0M92.7 60.5h0M75.2 101.3h0M74.5 17.3h0M98.3 71.7h0M46.5 90.6h0M46.9 84.9h0M48.7 16.2h0M66.7 67.2h0M54.2 36.1h0M41.8 62.9h0M50.8 68.9h0M83.4 44.6h0M14.5 59.8h0M64.9 35.7h0M87.4 29.5h0M91.4 86.7h0M41.0 77.6h0M61.8 91.4h0M66.8 22.1h0M35.6 69.8h0M44.1 86.7h0M12.9 76.8h0M7.9 66.9h0M56.2 44.0h0M60.0 83.1h0M59.0 54.2h0M42.1 45.4h0M68.2 68.5h0M28.8 85.4h0M53.1 74.2h0M20.2 46.8h0M75.9 85.0h0M76.5 26.3h0M92.6 45.9h0M61.1 16.9h0M21.1 35.5h0M20.5 31.2h0M16.8 39.0h0M15.7 38.6h0M83.6 95.3h0M7.9 49.5h0M86.7 45.1h0M51.2 23.7h0M17.0 74.6h0M64.7 90.1h0M33.5 67.5h0M76.0 76.4h0M61.6 106.4h0M9.2 73.4h0M87.7 86.0h0M9.9 72.0h0M52.6 61.0h0M15.3 79.8h0M100.8 56.5h0M37.1 57.2h0M82.1 39.7h0M74.0 24.1h0M13.3 78.9h0M99.3 49.1h0M51.0 93.5h0M23.5 56.5h0M17.7 62.2h0M15.6 67.2h0M10.5 49.7h0M41.3 66.6h0M25.9 94.1h0M75.1 27.7h0M63.1 93.1h0M34.3 88.4h0M94.6 71.5h0M30.1 53.1h0M13.8 49.1h0M78.8 25.3h0M69.9 104.6h0M68.9 26.5h0M28.5 90.3h0M14.7 37.0h0M93.7 42.9h0M25.3 93.1h0M95.9 45.5h0M54.6 58.7h0M44.6 11.1h0M64.6 83.8h0M24.8 79.5h0M81.9 55.1h0M9.1 53.3h0M25.8 37.8h0M65.2 53.3h0M49.3 88.8h0M10.6 48.8h0M53.2 103.3h0M30.3 98.2h0M17.2 80.2h0M53.6 48.4h0M57.7 89.0h0M31.5 36.4h0M32.7 25.2h0M47.7 47.5h0M84.0 31.5h0M39.0 100.1h0M57.7 103.4h0M93.5 69.1h0M72.0 30.7h0M9.9 61.3h0M75.1 20.4h0M61.4 28.9h0M40.9 36.6h0M53.3 65.1h0M48.1 12.4h0M82.3 36.9h0M36.4 17.4h0M28.1 93.6h0M25.7 47.0h0M86.2 36.3h0M73.6 82.8h0M19.5 88.1h0M47.7 88.6h0M78.9 53.4h0M35.4 42.4h0M93.0 63.0h0M32.8 73.3h0M38.8 59.6h0M56.9 52.5h0M24.3 67.5h0M75.8 70.4h0M56.1 103.5h0M37.8 94.5h0M91.9 88.9h0M96.9 76.3h0M74.6 57.7h0M77.1 83.9h0M36.7 71.7h0M93.3 45.4h0M16.3 40.5h0M79.3 35.0h0M46.7 55.9h0M11.4 45.2h0M32.9 26.8h0M21.4 89.5h0M82.0 19.0h0M15.2 73.8h0M72.0 91.8h0M31.9 43.0h0M46.6 70.5h0M19.4 89.7h0M70.0 103.0h0M34.2 46.3h0M76.8 25.8h0M72.4 20.2h0M28.8 71.9h0M54.9 23.9h0M74.6 48.7h0M12.9 66.4h0M10.7 41.7h0M44.9 27.8h0M65.9 49.2h0M86.4 23.4h0M40.1 69.5h0M18.8 76.5h0M58.1 23.4h0M74.5 26.5h0M88.1 36.0h0M43.6 54.8h0M41.5 104.9h0M27.3 19.6h0M65.1 58.4h0M20.9 47.0h0M77.7 50.7h0M47.9 63.2h0M96.4 35.1h0M77.8 72.7h0M66.0 100.1h0M100.0 52.0h0M34.7 77.3h0M59.3 24.8h0M32.9 22.5h0M54.1 95.1h0M89.0 59.5h0M25.9 54.4h0M32.6 44.0h0M76.0 97.5h0M33.0 92.9h0" stroke="#9890d8" stroke-opacity="0.50" stroke-width="2.9"/><path d="M60.4 100.7h0M59.8 15.0h0M100.7 57.3h0M60.0 42.9h0M19.7 47.2h0M59.2 28.9h0M26.2 63.6h0M36.5 72.4h0M68.6 21.5h0M87.6 38.0h0M63.7 26.5h0M68.3 43.0h0M12.5 37.6h0M93.5 86.7h0M67.3 68.0h0M67.5 65.9h0M62.0 65.7h0M54.2 66.2h0M102.3 57.1h0M29.7 66.5h0M48.6 67.6h0M37.4 59.3h0M66.1 58.7h0M97.7 36.0h0M21.1 77.9h0M61.0 80.9h0M24.9 63.9h0M28.0 93.1h0M39.6 21.2h0M41.0 41.2h0M18.2 35.7h0M66.8 40.6h0M73.8 89.0h0M77.2 29.0h0M102.1 60.6h0M51.1 17.6h0M45.0 19.6h0M52.4 15.3h0M92.2 67.7h0M23.7 25.9h0M59.8 13.2h0M92.7 61.3h0M27.0 21.3h0M94.9 83.1h0M22.6 33.8h0M20.8 53.3h0M18.8 80.9h0M46.9 22.7h0M67.9 22.3h0M51.9 99.5h0M22.0 81.1h0M36.1 84.8h0M29.9 20.3h0M77.5 35.4h0M51.6 90.7h0M40.5 41.3h0M81.4 25.4h0M77.0 63.1h0M55.8 92.2h0M39.2 84.1h0M44.7 49.1h0M87.6 24.1h0M82.1 20.3h0M39.6 25.4h0M71.0 31.8h0M43.9 79.8h0M50.9 72.7h0M57.4 95.7h0M66.7 32.0h0M27.9 98.1h0M54.4 37.4h0M37.1 25.9h0M30.3 81.8h0M96.4 49.1h0M88.0 87.4h0M47.3 80.5h0M72.5 57.9h0M39.0 34.7h0M10.1 44.8h0M31.7 94.5h0M7.6 60.6h0M41.5 48.5h0M59.2 85.8h0M44.9 97.2h0M17.9 33.6h0M25.3 35.2h0M24.6 67.0h0M19.7 52.0h0M24.8 66.2h0M35.9 100.0h0M22.4 34.6h0M40.5 95.3h0M91.0 83.9h0M29.1 97.9h0M79.9 69.2h0M29.2 44.0h0M98.6 44.9h0M56.5 14.5h0M72.8 97.5h0M83.5 94.8h0M45.8 88.4h0M19.5 45.6h0M87.5 79.5h0M15.6 36.5h0M60.3 44.5h0M33.0 82.5h0M29.9 81.3h0M73.7 32.2h0M19.2 83.4h0M56.2 14.6h0M26.0 38.5h0M80.4 91.4h0M51.1 21.6h0M56.2 62.2h0M39.5 88.5h0M32.2 16.7h0M28.5 65.5h0M84.7 92.3h0M49.6 86.6h0M96.4 58.9h0M47.8 97.8h0M56.2 13.3h0M26.0 42.5h0M100.0 52.7h0M68.4 18.3h0M53.9 70.4h0M67.3 24.0h0M29.0 37.0h0M83.5 68.5h0M87.9 61.3h0M11.3 60.2h0M71.6 87.2h0M88.8 75.8h0M51.0 101.3h0M66.2 66.4h0M45.8 80.4h0M90.8 35.8h0M73.5 87.8h0M36.3 19.0h0M19.9 56.6h0M49.9 86.3h0M25.1 79.5h0" stroke="#9890d8" stroke-opacity="0.50" stroke-width="3.4"/><path d="M91.8 55.8h0M76.4 38.2h0M93.6 41.5h0M60.2 27.0h0M53.8 76.2h0M83.2 30.0h0M77.3 101.0h0M45.2 57.9h0M20.2 51.6h0M47.5 96.8h0M84.4 67.9h0M44.7 26.1h0M23.4 79.7h0M65.9 88.6h0M50.6 34.6h0M44.7 95.7h0M83.1 54.8h0M33.7 27.0h0M78.0 21.6h0M87.9 48.2h0M27.8 37.5h0M13.0 74.9h0M13.4 71.6h0M67.1 102.9h0M40.2 20.1h0M10.4 42.3h0M28.3 75.4h0M58.9 52.2h0M63.2 38.1h0M51.7 96.1h0M13.3 37.6h0M62.5 15.4h0M21.4 84.9h0M80.6 76.9h0M24.5 37.6h0M77.6 94.6h0M47.5 101.0h0M93.6 43.8h0M16.8 84.4h0M18.2 48.4h0M94.9 53.5h0M23.1 83.1h0M56.1 30.9h0M51.4 12.3h0M60.2 54.2h0M18.8 85.9h0M7.1 63.1h0M79.2 96.1h0M26.6 71.4h0M37.4 60.2h0M59.1 13.6h0M41.2 80.0h0M67.5 105.0h0M87.5 54.2h0M62.7 29.5h0M22.9 52.6h0M79.1 41.7h0M94.7 73.0h0M17.8 57.6h0M53.6 97.9h0M29.4 19.0h0M45.9 39.6h0M34.7 17.2h0M58.6 104.9h0M96.6 51.0h0M35.0 15.3h0M41.3 77.4h0M25.1 53.9h0M83.7 83.1h0M19.9 48.7h0M42.1 37.5h0M44.5 55.0h0M52.8 96.3h0M59.0 62.6h0M13.5 61.2h0M62.7 75.5h0M57.1 95.8h0M65.9 33.6h0M22.2 61.3h0M42.0 76.9h0M8.8 58.3h0M63.7 30.4h0M63.5 103.1h0M62.5 93.6h0M78.9 35.6h0M87.7 45.5h0M32.5 77.3h0M102.2 59.2h0M26.2 94.2h0M73.6 46.1h0M22.5 58.6h0M99.7 55.0h0M74.7 80.6h0M15.5 62.1h0M62.1 67.5h0M18.5 45.3h0M55.1 29.4h0M57.1 41.5h0" stroke="#9890d8" stroke-opacity="0.50" stroke-width="3.9"/><path d="M51.5 76.2h0M96.8 55.0h0M60.2 96.3h0M33.3 70.5h0M95.7 50.7h0M48.4 81.9h0M65.0 94.6h0M69.7 39.6h0M15.2 49.4h0M24.8 45.8h0M48.1 28.9h0M85.1 80.2h0M18.1 86.0h0M55.4 79.5h0M21.0 56.5h0M43.4 62.2h0M91.0 81.2h0M14.7 69.3h0M24.9 90.5h0M99.3 61.0h0M79.1 96.2h0M91.5 55.5h0M19.7 91.4h0M9.1 59.2h0M32.9 32.2h0M71.0 100.3h0M31.0 65.3h0M55.7 12.2h0M58.4 63.3h0M12.0 38.3h0M73.0 47.3h0M11.5 48.1h0M94.6 61.4h0M67.2 23.9h0M54.0 23.3h0M18.2 50.4h0M31.3 16.7h0M30.7 80.0h0M22.8 37.3h0M53.3 53.8h0M46.7 20.3h0M68.1 84.8h0M67.3 45.9h0M81.6 19.5h0M89.7 83.7h0M23.1 77.7h0M28.6 88.4h0M41.3 79.4h0M67.8 84.3h0M48.7 36.2h0M68.5 32.1h0M70.6 84.2h0" stroke="#9890d8" stroke-opacity="0.50" stroke-width="4.4"/><path d="M49.9 86.3h0M25.1 79.5h0" stroke="#2f27a0" stroke-width="2.0"/><path d="M41.3 77.4h0M25.1 53.9h0M83.7 83.1h0M19.9 48.7h0M42.1 37.5h0M44.5 55.0h0M52.8 96.3h0M59.0 62.6h0M13.5 61.2h0M62.7 75.5h0M57.1 95.8h0M65.9 33.6h0M22.2 61.3h0M42.0 76.9h0M8.8 58.3h0M63.7 30.4h0M63.5 103.1h0M62.5 93.6h0M78.9 35.6h0M87.7 45.5h0M32.5 77.3h0M102.2 59.2h0M26.2 94.2h0M73.6 46.1h0M22.5 58.6h0M99.7 55.0h0M74.7 80.6h0M15.5 62.1h0M62.1 67.5h0M18.5 45.3h0" stroke="#2f27a0" stroke-width="2.5"/><path d="M69.7 39.6h0M15.2 49.4h0M24.8 45.8h0M48.1 28.9h0M85.1 80.2h0M18.1 86.0h0M55.4 79.5h0M21.0 56.5h0M43.4 62.2h0M91.0 81.2h0M14.7 69.3h0M24.9 90.5h0M99.3 61.0h0M79.1 96.2h0M91.5 55.5h0M19.7 91.4h0M9.1 59.2h0M32.9 32.2h0M71.0 100.3h0M31.0 65.3h0M55.7 12.2h0M58.4 63.3h0M12.0 38.3h0M73.0 47.3h0M11.5 48.1h0M94.6 61.4h0M67.2 23.9h0M54.0 23.3h0M18.2 50.4h0M31.3 16.7h0M30.7 80.0h0M22.8 37.3h0M53.3 53.8h0M46.7 20.3h0M68.1 84.8h0M67.3 45.9h0M81.6 19.5h0M89.7 83.7h0M23.1 77.7h0M28.6 88.4h0M41.3 79.4h0M67.8 84.3h0M48.7 36.2h0M68.5 32.1h0M70.6 84.2h0" stroke="#2f27a0" stroke-width="3.0"/><path d="M32.9 22.5h0M54.1 95.1h0M89.0 59.5h0M25.9 54.4h0M32.6 44.0h0M76.0 97.5h0M33.0 92.9h0" stroke="#3b32a9" stroke-width="1.5"/><path d="M96.4 49.1h0M88.0 87.4h0M47.3 80.5h0M72.5 57.9h0M39.0 34.7h0M10.1 44.8h0M31.7 94.5h0M7.6 60.6h0M41.5 48.5h0M59.2 85.8h0M44.9 97.2h0M17.9 33.6h0M25.3 35.2h0M24.6 67.0h0M19.7 52.0h0M24.8 66.2h0M35.9 100.0h0M22.4 34.6h0M40.5 95.3h0M91.0 83.9h0M29.1 97.9h0M79.9 69.2h0M29.2 44.0h0M98.6 44.9h0M56.5 14.5h0M72.8 97.5h0M83.5 94.8h0M45.8 88.4h0M19.5 45.6h0M87.5 79.5h0M15.6 36.5h0M60.3 44.5h0M33.0 82.5h0M29.9 81.3h0M73.7 32.2h0M19.2 83.4h0M56.2 14.6h0M26.0 38.5h0M80.4 91.4h0M51.1 21.6h0M56.2 62.2h0M39.5 88.5h0M32.2 16.7h0M28.5 65.5h0M84.7 92.3h0M49.6 86.6h0M96.4 58.9h0M47.8 97.8h0M56.2 13.3h0M26.0 42.5h0M100.0 52.7h0M68.4 18.3h0M53.9 70.4h0M67.3 24.0h0M29.0 37.0h0M83.5 68.5h0M87.9 61.3h0M11.3 60.2h0M71.6 87.2h0M88.8 75.8h0M51.0 101.3h0M66.2 66.4h0M45.8 80.4h0M90.8 35.8h0M73.5 87.8h0M36.3 19.0h0" stroke="#3b32a9" stroke-width="2.0"/><path d="M91.8 55.8h0M76.4 38.2h0M93.6 41.5h0M60.2 27.0h0M53.8 76.2h0M83.2 30.0h0M77.3 101.0h0M45.2 57.9h0M20.2 51.6h0M47.5 96.8h0M84.4 67.9h0M44.7 26.1h0M23.4 79.7h0M65.9 88.6h0M50.6 34.6h0M44.7 95.7h0M83.1 54.8h0M33.7 27.0h0M78.0 21.6h0M87.9 48.2h0M27.8 37.5h0M13.0 74.9h0M13.4 71.6h0M67.1 102.9h0M40.2 20.1h0M10.4 42.3h0M28.3 75.4h0M58.9 52.2h0M63.2 38.1h0M51.7 96.1h0M13.3 37.6h0M62.5 15.4h0M21.4 84.9h0M80.6 76.9h0M24.5 37.6h0M77.6 94.6h0M47.5 101.0h0M93.6 43.8h0M16.8 84.4h0M18.2 48.4h0M94.9 53.5h0M23.1 83.1h0M56.1 30.9h0M51.4 12.3h0M60.2 54.2h0M18.8 85.9h0M7.1 63.1h0M79.2 96.1h0M26.6 71.4h0M37.4 60.2h0M59.1 13.6h0M41.2 80.0h0M67.5 105.0h0M87.5 54.2h0M62.7 29.5h0M22.9 52.6h0M79.1 41.7h0M94.7 73.0h0M17.8 57.6h0M53.6 97.9h0M29.4 19.0h0M45.9 39.6h0M34.7 17.2h0M58.6 104.9h0M96.6 51.0h0M35.0 15.3h0" stroke="#3b32a9" stroke-width="2.5"/><path d="M51.5 76.2h0M96.8 55.0h0M60.2 96.3h0M33.3 70.5h0M95.7 50.7h0M48.4 81.9h0M65.0 94.6h0" stroke="#3b32a9" stroke-width="3.0"/><path d="M10.6 78.2h0M63.5 44.5h0M49.4 105.3h0M11.5 40.6h0M25.9 77.9h0M57.7 61.7h0M91.9 88.2h0M100.4 44.5h0M95.8 82.5h0M36.7 81.0h0M64.1 70.1h0M88.4 90.3h0M24.4 68.9h0M33.1 38.3h0M70.0 64.2h0M78.4 53.4h0M14.2 83.3h0M53.9 26.8h0M34.5 92.0h0M57.8 38.4h0M22.8 28.7h0M39.3 19.1h0M53.2 81.7h0M44.7 98.9h0M84.1 35.0h0M72.0 13.2h0M28.7 25.6h0M24.6 36.4h0M50.7 20.0h0M87.1 94.7h0M42.7 13.2h0M32.6 89.3h0M84.7 24.8h0M75.4 59.5h0M77.5 42.3h0M26.9 93.7h0M22.8 92.5h0M35.0 39.1h0M24.6 69.6h0M38.3 60.7h0M70.7 13.4h0M8.7 48.9h0M44.6 56.4h0M70.7 74.5h0M9.7 65.3h0M91.3 78.1h0M92.7 60.5h0M75.2 101.3h0M74.5 17.3h0M98.3 71.7h0M46.5 90.6h0M46.9 84.9h0M48.7 16.2h0M66.7 67.2h0M54.2 36.1h0M41.8 62.9h0M50.8 68.9h0M83.4 44.6h0M14.5 59.8h0M64.9 35.7h0M87.4 29.5h0M91.4 86.7h0M41.0 77.6h0M61.8 91.4h0M66.8 22.1h0M35.6 69.8h0M44.1 86.7h0M12.9 76.8h0M7.9 66.9h0M56.2 44.0h0M60.0 83.1h0M59.0 54.2h0M42.1 45.4h0M68.2 68.5h0M28.8 85.4h0M53.1 74.2h0M20.2 46.8h0M75.9 85.0h0M76.5 26.3h0M92.6 45.9h0M61.1 16.9h0M21.1 35.5h0M20.5 31.2h0M16.8 39.0h0M15.7 38.6h0M83.6 95.3h0M7.9 49.5h0M86.7 45.1h0M51.2 23.7h0M17.0 74.6h0M64.7 90.1h0M33.5 67.5h0M76.0 76.4h0M61.6 106.4h0M9.2 73.4h0M87.7 86.0h0M9.9 72.0h0M52.6 61.0h0M15.3 79.8h0M100.8 56.5h0M37.1 57.2h0M82.1 39.7h0M74.0 24.1h0M13.3 78.9h0M99.3 49.1h0M51.0 93.5h0M23.5 56.5h0M17.7 62.2h0M15.6 67.2h0M10.5 49.7h0M41.3 66.6h0M25.9 94.1h0M75.1 27.7h0M63.1 93.1h0M34.3 88.4h0M94.6 71.5h0M30.1 53.1h0M13.8 49.1h0M78.8 25.3h0M69.9 104.6h0M68.9 26.5h0M28.5 90.3h0M14.7 37.0h0M93.7 42.9h0M25.3 93.1h0M95.9 45.5h0M54.6 58.7h0M44.6 11.1h0M64.6 83.8h0M24.8 79.5h0M81.9 55.1h0M9.1 53.3h0M25.8 37.8h0M65.2 53.3h0M49.3 88.8h0M10.6 48.8h0M53.2 103.3h0M30.3 98.2h0M17.2 80.2h0M53.6 48.4h0M57.7 89.0h0M31.5 36.4h0M32.7 25.2h0M47.7 47.5h0M84.0 31.5h0M39.0 100.1h0M57.7 103.4h0M93.5 69.1h0M72.0 30.7h0M9.9 61.3h0M75.1 20.4h0M61.4 28.9h0M40.9 36.6h0M53.3 65.1h0" stroke="#463db3" stroke-width="1.5"/><path d="M60.4 100.7h0M59.8 15.0h0M100.7 57.3h0M60.0 42.9h0M19.7 47.2h0M59.2 28.9h0M26.2 63.6h0M36.5 72.4h0M68.6 21.5h0M87.6 38.0h0M63.7 26.5h0M68.3 43.0h0M12.5 37.6h0M93.5 86.7h0M67.3 68.0h0M67.5 65.9h0M62.0 65.7h0M54.2 66.2h0M102.3 57.1h0M29.7 66.5h0M48.6 67.6h0M37.4 59.3h0M66.1 58.7h0M97.7 36.0h0M21.1 77.9h0M61.0 80.9h0M24.9 63.9h0M28.0 93.1h0M39.6 21.2h0M41.0 41.2h0M18.2 35.7h0M66.8 40.6h0M73.8 89.0h0M77.2 29.0h0M102.1 60.6h0M51.1 17.6h0M45.0 19.6h0M52.4 15.3h0M92.2 67.7h0M23.7 25.9h0M59.8 13.2h0M92.7 61.3h0M27.0 21.3h0M94.9 83.1h0M22.6 33.8h0M20.8 53.3h0M18.8 80.9h0M46.9 22.7h0M67.9 22.3h0M51.9 99.5h0M22.0 81.1h0M36.1 84.8h0M29.9 20.3h0M77.5 35.4h0M51.6 90.7h0M40.5 41.3h0M81.4 25.4h0M77.0 63.1h0M55.8 92.2h0M39.2 84.1h0M44.7 49.1h0M87.6 24.1h0M82.1 20.3h0M39.6 25.4h0M71.0 31.8h0M43.9 79.8h0M50.9 72.7h0M57.4 95.7h0M66.7 32.0h0M27.9 98.1h0M54.4 37.4h0M37.1 25.9h0M30.3 81.8h0" stroke="#463db3" stroke-width="2.0"/><path d="M55.1 29.4h0M57.1 41.5h0" stroke="#463db3" stroke-width="2.5"/><path d="M48.1 12.4h0M82.3 36.9h0M36.4 17.4h0M28.1 93.6h0M25.7 47.0h0M86.2 36.3h0M73.6 82.8h0M19.5 88.1h0M47.7 88.6h0M78.9 53.4h0M35.4 42.4h0M93.0 63.0h0M32.8 73.3h0M38.8 59.6h0M56.9 52.5h0M24.3 67.5h0M75.8 70.4h0M56.1 103.5h0M37.8 94.5h0M91.9 88.9h0M96.9 76.3h0M74.6 57.7h0M77.1 83.9h0M36.7 71.7h0M93.3 45.4h0M16.3 40.5h0M79.3 35.0h0M46.7 55.9h0M11.4 45.2h0M32.9 26.8h0M21.4 89.5h0M82.0 19.0h0M15.2 73.8h0M72.0 91.8h0M31.9 43.0h0M46.6 70.5h0M19.4 89.7h0M70.0 103.0h0M34.2 46.3h0M76.8 25.8h0M72.4 20.2h0M28.8 71.9h0M54.9 23.9h0M74.6 48.7h0M12.9 66.4h0M10.7 41.7h0M44.9 27.8h0M65.9 49.2h0M86.4 23.4h0M40.1 69.5h0M18.8 76.5h0M58.1 23.4h0M74.5 26.5h0M88.1 36.0h0M43.6 54.8h0M41.5 104.9h0M27.3 19.6h0M65.1 58.4h0M20.9 47.0h0M77.7 50.7h0M47.9 63.2h0M96.4 35.1h0M77.8 72.7h0M66.0 100.1h0M100.0 52.0h0M34.7 77.3h0M59.3 24.8h0" stroke="#5248bc" stroke-width="1.5"/><path d="M19.9 56.6h0" stroke="#5248bc" stroke-width="2.0"/></g></svg><svg class="pn" style="left:43.75px;top:239.50px;width:123.25px;height:120.50px" viewBox="0 0 123.25 120.50"><linearGradient id="g_q1" x1="0" y1="0" x2="0" y2="1"><stop offset="0" stop-color="#c1c1bf"/><stop offset="1" stop-color="#bdbdbb"/></linearGradient><rect width="123.2" height="120.5" fill="url(#g_q1)"/><circle cx="61.6" cy="60.2" r="67.5" fill="#c5c5c3" fill-opacity="1.00" stroke="#dcdcde" stroke-width="1.2" stroke-opacity="0.80"/><circle cx="63.6" cy="60.2" r="54.2" fill="#c7c7c5" fill-opacity="1.00" stroke="#8d8d9a" stroke-width="0.9" stroke-opacity="0.60"/><g filter="url(#bl)"><path d="M79.8 60.1h0M68.6 42.1h0M64.1 77.2h0M16.2 76.2h0M36.9 31.5h0M65.5 43.6h0M84.0 95.8h0M42.3 106.1h0M102.1 75.3h0M42.6 46.8h0M59.0 10.7h0M24.3 39.8h0M30.1 92.1h0M55.0 16.0h0M48.9 54.0h0M102.4 38.7h0M36.8 102.8h0M89.6 90.5h0M107.4 65.2h0M30.4 31.7h0M101.8 36.3h0M97.0 83.0h0M26.5 35.3h0M36.9 30.6h0M99.0 65.6h0M54.4 27.6h0M62.6 46.0h0M71.9 100.7h0M76.4 50.3h0M104.6 42.0h0M86.3 55.4h0M74.0 50.8h0M30.7 64.4h0M45.8 77.1h0M88.9 73.1h0M102.9 58.5h0M55.1 77.4h0" stroke="#9890d8" stroke-opacity="0.50" stroke-width="3.4"/><path d="M17.4 66.2h0M95.0 51.5h0M79.1 19.4h0M59.7 25.8h0M69.5 101.0h0M39.6 93.4h0M110.5 47.2h0M43.9 12.2h0M51.2 78.3h0M83.4 74.1h0M29.4 73.8h0M55.9 43.2h0M26.5 68.3h0M53.2 15.6h0M79.8 22.9h0M52.2 62.2h0M90.6 104.0h0M65.3 15.8h0M75.3 85.9h0M78.2 25.6h0M61.9 110.1h0M21.1 70.4h0M79.8 20.6h0M22.3 67.6h0M102.8 26.8h0M52.1 23.6h0M70.2 73.4h0M90.3 20.4h0M48.9 62.5h0M53.6 99.1h0M84.6 97.7h0M43.3 80.0h0" stroke="#9890d8" stroke-opacity="0.50" stroke-width="3.9"/><path d="M82.7 54.9h0M18.9 43.5h0M67.0 16.4h0M43.8 89.5h0M31.6 82.3h0M30.0 69.0h0M18.1 44.9h0M38.4 70.2h0M68.7 39.5h0M17.0 65.3h0M80.4 32.4h0M96.4 59.4h0M19.3 54.8h0M82.1 53.3h0" stroke="#9890d8" stroke-opacity="0.50" stroke-width="4.4"/><path d="M108.7 37.8h0M85.7 25.8h0M69.7 14.1h0M51.1 36.9h0M109.1 77.0h0M112.3 73.1h0M43.2 66.0h0M86.1 33.4h0M34.5 97.1h0M58.1 91.4h0M60.5 27.2h0M69.6 46.7h0M69.8 22.4h0M63.2 77.7h0M43.7 56.4h0M73.1 98.9h0" stroke="#9890d8" stroke-opacity="0.50" stroke-width="4.9"/><path d="M42.2 103.4h0M45.0 23.6h0M103.5 64.6h0M103.8 30.0h0M66.5 107.8h0M103.4 34.0h0" stroke="#9890d8" stroke-opacity="0.50" stroke-width="5.4"/><path d="M82.1 53.3h0" stroke="#24207a" stroke-width="3.0"/><path d="M34.5 97.1h0M58.1 91.4h0M60.5 27.2h0M69.6 46.7h0M69.8 22.4h0M63.2 77.7h0M43.7 56.4h0M73.1 98.9h0" stroke="#24207a" stroke-width="3.5"/><path d="M45.0 23.6h0M103.5 64.6h0M103.8 30.0h0M66.5 107.8h0M103.4 34.0h0" stroke="#24207a" stroke-width="4.0"/><path d="M102.9 58.5h0M55.1 77.4h0" stroke="#312b8c" stroke-width="2.0"/><path d="M102.8 26.8h0M52.1 23.6h0M70.2 73.4h0M90.3 20.4h0M48.9 62.5h0M53.6 99.1h0M84.6 97.7h0M43.3 80.0h0" stroke="#312b8c" stroke-width="2.5"/><path d="M82.7 54.9h0M18.9 43.5h0M67.0 16.4h0M43.8 89.5h0M31.6 82.3h0M30.0 69.0h0M18.1 44.9h0M38.4 70.2h0" stroke="#312b8c" stroke-width="3.0"/><path d="M108.7 37.8h0M85.7 25.8h0M69.7 14.1h0M51.1 36.9h0M109.1 77.0h0M112.3 73.1h0M43.2 66.0h0M86.1 33.4h0" stroke="#312b8c" stroke-width="3.5"/><path d="M42.2 103.4h0" stroke="#312b8c" stroke-width="4.0"/><path d="M59.0 10.7h0M24.3 39.8h0M30.1 92.1h0M55.0 16.0h0M48.9 54.0h0M102.4 38.7h0M36.8 102.8h0M89.6 90.5h0M107.4 65.2h0M30.4 31.7h0M101.8 36.3h0M97.0 83.0h0M26.5 35.3h0M36.9 30.6h0M99.0 65.6h0M54.4 27.6h0M62.6 46.0h0M71.9 100.7h0M76.4 50.3h0M104.6 42.0h0M86.3 55.4h0M74.0 50.8h0M30.7 64.4h0M45.8 77.1h0M88.9 73.1h0" stroke="#3d379e" stroke-width="2.0"/><path d="M17.4 66.2h0M95.0 51.5h0M79.1 19.4h0M59.7 25.8h0M69.5 101.0h0M39.6 93.4h0M110.5 47.2h0M43.9 12.2h0M51.2 78.3h0M83.4 74.1h0M29.4 73.8h0M55.9 43.2h0M26.5 68.3h0M53.2 15.6h0M79.8 22.9h0M52.2 62.2h0M90.6 104.0h0M65.3 15.8h0M75.3 85.9h0M78.2 25.6h0M61.9 110.1h0M21.1 70.4h0M79.8 20.6h0" stroke="#3d379e" stroke-width="2.5"/><path d="M68.7 39.5h0M17.0 65.3h0M80.4 32.4h0M96.4 59.4h0M19.3 54.8h0" stroke="#3d379e" stroke-width="3.0"/><path d="M79.8 60.1h0M68.6 42.1h0M64.1 77.2h0M16.2 76.2h0M36.9 31.5h0M65.5 43.6h0M84.0 95.8h0M42.3 106.1h0M102.1 75.3h0M42.6 46.8h0" stroke="#4a42b0" stroke-width="2.0"/><path d="M22.3 67.6h0" stroke="#4a42b0" stroke-width="2.5"/></g></svg><svg class="pn" style="left:173.25px;top:239.50px;width:118.50px;height:120.50px" viewBox="0 0 118.50 120.50"><rect width="118.5" height="120.5" fill="#c3c3c1"/><circle cx="59.2" cy="60.2" r="66.4" fill="#c9c9c7" fill-opacity="1.00" stroke="#dcdcde" stroke-width="1.2" stroke-opacity="0.80"/><circle cx="59.2" cy="60.2" r="53.3" fill="#cbcbc9" fill-opacity="1.00" stroke="#8f8f9d" stroke-width="0.9" stroke-opacity="0.60"/><g filter="url(#bl)"><path d="M62.5 28.0h0M17.3 79.3h0M47.8 19.0h0M78.9 33.8h0M87.7 65.2h0M37.1 101.3h0M97.2 62.6h0M80.4 95.4h0M103.4 35.7h0M46.7 88.3h0M53.7 68.5h0M94.9 83.5h0M104.9 67.1h0M16.7 83.9h0M68.0 30.1h0M42.7 85.2h0M54.3 65.5h0M24.5 63.9h0M70.2 35.2h0M54.9 68.4h0M74.6 106.8h0M36.4 25.2h0M89.6 78.9h0M18.6 47.8h0M44.1 30.4h0" stroke="#9890d8" stroke-opacity="0.50" stroke-width="3.4"/><path d="M26.1 97.4h0M90.6 91.8h0M79.9 27.2h0M53.9 89.0h0M87.6 73.5h0M43.3 18.5h0M98.2 54.5h0M32.8 37.1h0M52.5 12.5h0M78.6 23.2h0M36.1 58.2h0M24.3 32.0h0M34.9 34.2h0M56.2 21.3h0M93.2 61.5h0M64.1 57.2h0" stroke="#9890d8" stroke-opacity="0.50" stroke-width="3.9"/><path d="M76.3 98.9h0M41.8 33.1h0M30.2 26.5h0M92.2 91.3h0M104.7 74.2h0M42.6 63.0h0M103.9 77.8h0M52.7 20.1h0" stroke="#9890d8" stroke-opacity="0.50" stroke-width="4.4"/><path d="M66.4 27.0h0M79.1 60.1h0M56.2 18.5h0M76.4 82.8h0M43.1 54.9h0M77.3 102.6h0M48.3 74.2h0M55.7 98.3h0M85.9 77.1h0M53.8 13.5h0M67.0 85.9h0" stroke="#9890d8" stroke-opacity="0.50" stroke-width="4.9"/><path d="M77.3 102.6h0M48.3 74.2h0M55.7 98.3h0M85.9 77.1h0M53.8 13.5h0M67.0 85.9h0" stroke="#24207a" stroke-width="3.5"/><path d="M56.2 21.3h0M93.2 61.5h0M64.1 57.2h0" stroke="#312b8c" stroke-width="2.5"/><path d="M41.8 33.1h0M30.2 26.5h0M92.2 91.3h0M104.7 74.2h0M42.6 63.0h0M103.9 77.8h0M52.7 20.1h0" stroke="#312b8c" stroke-width="3.0"/><path d="M66.4 27.0h0M79.1 60.1h0M56.2 18.5h0M76.4 82.8h0M43.1 54.9h0" stroke="#312b8c" stroke-width="3.5"/><path d="M53.7 68.5h0M94.9 83.5h0M104.9 67.1h0M16.7 83.9h0M68.0 30.1h0M42.7 85.2h0M54.3 65.5h0M24.5 63.9h0M70.2 35.2h0M54.9 68.4h0M74.6 106.8h0M36.4 25.2h0M89.6 78.9h0M18.6 47.8h0M44.1 30.4h0" stroke="#3d379e" stroke-width="2.0"/><path d="M26.1 97.4h0M90.6 91.8h0M79.9 27.2h0M53.9 89.0h0M87.6 73.5h0M43.3 18.5h0M98.2 54.5h0M32.8 37.1h0M52.5 12.5h0M78.6 23.2h0M36.1 58.2h0M24.3 32.0h0" stroke="#3d379e" stroke-width="2.5"/><path d="M76.3 98.9h0" stroke="#3d379e" stroke-width="3.0"/><path d="M62.5 28.0h0M17.3 79.3h0M47.8 19.0h0M78.9 33.8h0M87.7 65.2h0M37.1 101.3h0M97.2 62.6h0M80.4 95.4h0M103.4 35.7h0M46.7 88.3h0" stroke="#4a42b0" stroke-width="2.0"/><path d="M34.9 34.2h0" stroke="#4a42b0" stroke-width="2.5"/></g></svg><svg class="pn" style="left:297.50px;top:239.50px;width:122.50px;height:120.50px" viewBox="0 0 122.50 120.50"><linearGradient id="g_q3" x1="0" y1="0" x2="0" y2="1"><stop offset="0" stop-color="#b7b7b5"/><stop offset="1" stop-color="#b5b5b3"/></linearGradient><rect width="122.5" height="120.5" fill="url(#g_q3)"/><circle cx="61.2" cy="60.2" r="67.5" fill="#bebebc" fill-opacity="1.00" stroke="#dcdcde" stroke-width="1.2" stroke-opacity="0.80"/><circle cx="61.2" cy="60.2" r="54.2" fill="#c3c3c1" fill-opacity="1.00" stroke="#888895" stroke-width="0.9" stroke-opacity="0.60"/><g filter="url(#bl)"><path d="M65.1 64.1h0M68.3 66.7h0M55.1 83.5h0M65.8 57.3h0M34.2 63.9h0M56.1 66.9h0M63.6 66.1h0M40.0 41.7h0M44.3 42.5h0M86.2 68.8h0M27.0 77.2h0M88.1 38.8h0M53.8 47.7h0M54.4 49.8h0M26.6 55.7h0M83.4 105.0h0M35.3 26.0h0M66.1 64.3h0M39.0 50.6h0M82.0 61.0h0M60.9 66.5h0M55.6 88.9h0M73.1 27.5h0M60.8 101.3h0M46.1 74.3h0M83.6 67.6h0M31.6 25.9h0M92.5 56.3h0M34.0 68.4h0M33.7 71.9h0M97.8 77.9h0M70.8 88.8h0M61.4 47.5h0M44.6 52.6h0M79.0 21.6h0M67.4 29.0h0M55.3 85.5h0M96.1 32.1h0M40.0 86.3h0" stroke="#9890d8" stroke-opacity="0.50" stroke-width="3.4"/><path d="M71.7 70.7h0M36.9 21.9h0M67.1 83.2h0M58.1 73.4h0M60.5 63.2h0M62.1 87.5h0M42.9 102.4h0M86.9 69.0h0M39.1 41.0h0M42.5 77.2h0M92.8 42.4h0M92.0 85.3h0M90.3 24.7h0M73.7 80.3h0M96.2 39.4h0M77.5 62.0h0M23.8 60.6h0M77.0 39.7h0M48.7 47.8h0M47.9 61.3h0M56.4 56.7h0M66.7 56.4h0M47.2 15.9h0M79.3 70.9h0M39.6 62.2h0M78.7 35.1h0M70.7 94.2h0M63.7 56.8h0M56.9 29.0h0M63.9 107.1h0M52.9 86.8h0M47.9 35.2h0M37.9 97.1h0" stroke="#9890d8" stroke-opacity="0.50" stroke-width="3.9"/><path d="M48.1 16.3h0M42.0 103.5h0M55.5 9.2h0M45.8 27.9h0M55.7 38.4h0M87.8 93.0h0M57.2 63.5h0M70.1 76.7h0M46.1 13.5h0M71.3 95.9h0M70.9 47.5h0M29.6 21.6h0M82.9 86.7h0M53.3 78.0h0M71.2 61.5h0M54.5 83.8h0M54.1 76.0h0M37.9 52.2h0M55.5 77.6h0M22.6 78.8h0M33.4 43.4h0M91.2 48.1h0" stroke="#9890d8" stroke-opacity="0.50" stroke-width="4.4"/><path d="M88.3 21.2h0M67.5 88.3h0M35.6 76.5h0M94.4 43.3h0M55.4 33.3h0M52.6 53.9h0M82.4 24.5h0M61.0 81.9h0M62.7 77.8h0M52.8 56.8h0M60.5 58.6h0M52.5 48.4h0M37.6 69.1h0M95.3 62.2h0M57.6 61.2h0" stroke="#9890d8" stroke-opacity="0.50" stroke-width="4.9"/><path d="M99.1 72.9h0M70.1 43.6h0M56.3 75.7h0M92.9 64.7h0M25.2 60.7h0M104.9 75.3h0M36.7 100.0h0M75.9 44.0h0M76.3 74.8h0M64.5 15.0h0M64.4 82.5h0" stroke="#9890d8" stroke-opacity="0.50" stroke-width="5.4"/><path d="M91.2 48.1h0" stroke="#24207a" stroke-width="3.0"/><path d="M88.3 21.2h0M67.5 88.3h0M35.6 76.5h0M94.4 43.3h0M55.4 33.3h0M52.6 53.9h0M82.4 24.5h0M61.0 81.9h0M62.7 77.8h0M52.8 56.8h0" stroke="#24207a" stroke-width="3.5"/><path d="M99.1 72.9h0M70.1 43.6h0M56.3 75.7h0M92.9 64.7h0M25.2 60.7h0M104.9 75.3h0M36.7 100.0h0M75.9 44.0h0M76.3 74.8h0" stroke="#24207a" stroke-width="4.0"/><path d="M71.7 70.7h0M36.9 21.9h0M67.1 83.2h0M58.1 73.4h0M60.5 63.2h0M62.1 87.5h0M42.9 102.4h0M86.9 69.0h0M39.1 41.0h0M42.5 77.2h0M92.8 42.4h0M92.0 85.3h0M90.3 24.7h0" stroke="#312b8c" stroke-width="2.5"/><path d="M48.1 16.3h0M42.0 103.5h0M55.5 9.2h0M45.8 27.9h0M55.7 38.4h0M87.8 93.0h0M57.2 63.5h0M70.1 76.7h0M46.1 13.5h0M71.3 95.9h0M70.9 47.5h0M29.6 21.6h0M82.9 86.7h0M53.3 78.0h0M71.2 61.5h0" stroke="#312b8c" stroke-width="3.0"/><path d="M60.5 58.6h0M52.5 48.4h0M37.6 69.1h0M95.3 62.2h0M57.6 61.2h0" stroke="#312b8c" stroke-width="3.5"/><path d="M64.5 15.0h0M64.4 82.5h0" stroke="#312b8c" stroke-width="4.0"/><path d="M60.9 66.5h0M55.6 88.9h0M73.1 27.5h0M60.8 101.3h0M46.1 74.3h0M83.6 67.6h0M31.6 25.9h0M92.5 56.3h0M34.0 68.4h0M33.7 71.9h0M97.8 77.9h0M70.8 88.8h0M61.4 47.5h0M44.6 52.6h0M79.0 21.6h0M67.4 29.0h0M55.3 85.5h0M96.1 32.1h0M40.0 86.3h0" stroke="#3d379e" stroke-width="2.0"/><path d="M73.7 80.3h0M96.2 39.4h0M77.5 62.0h0M23.8 60.6h0M77.0 39.7h0M48.7 47.8h0M47.9 61.3h0M56.4 56.7h0M66.7 56.4h0M47.2 15.9h0M79.3 70.9h0M39.6 62.2h0M78.7 35.1h0M70.7 94.2h0M63.7 56.8h0M56.9 29.0h0M63.9 107.1h0" stroke="#3d379e" stroke-width="2.5"/><path d="M54.5 83.8h0M54.1 76.0h0M37.9 52.2h0M55.5 77.6h0M22.6 78.8h0M33.4 43.4h0" stroke="#3d379e" stroke-width="3.0"/><path d="M65.1 64.1h0M68.3 66.7h0M55.1 83.5h0M65.8 57.3h0M34.2 63.9h0M56.1 66.9h0M63.6 66.1h0M40.0 41.7h0M44.3 42.5h0M86.2 68.8h0M27.0 77.2h0M88.1 38.8h0M53.8 47.7h0M54.4 49.8h0M26.6 55.7h0M83.4 105.0h0M35.3 26.0h0M66.1 64.3h0M39.0 50.6h0M82.0 61.0h0" stroke="#4a42b0" stroke-width="2.0"/><path d="M52.9 86.8h0M47.9 35.2h0M37.9 97.1h0" stroke="#4a42b0" stroke-width="2.5"/></g></svg><svg class="pn" style="left:426.75px;top:239.50px;width:112.00px;height:120.50px" viewBox="0 0 112.00 120.50"><rect width="112.0" height="120.5" fill="#c9c9c7"/><circle cx="56.0" cy="60.2" r="62.7" fill="#cfcfcd" fill-opacity="1.00" stroke="#dcdcde" stroke-width="1.2" stroke-opacity="0.80"/><circle cx="56.0" cy="60.2" r="50.4" fill="#d1d1cf" fill-opacity="1.00" stroke="#9393a0" stroke-width="0.9" stroke-opacity="0.60"/><g filter="url(#bl)"><path d="M49.0 64.6h0M72.7 15.7h0M16.8 72.8h0M69.0 45.6h0M65.7 35.2h0M49.0 45.8h0M18.3 60.4h0M38.1 89.0h0M54.9 80.6h0M59.4 22.9h0M52.3 67.9h0M70.7 67.1h0M19.9 40.7h0M82.7 86.2h0M21.1 78.5h0M31.7 46.5h0M87.4 73.6h0M74.7 44.4h0M29.5 58.9h0M74.3 68.8h0M58.4 50.3h0M43.3 41.3h0M43.7 82.8h0M75.3 99.7h0M62.5 73.3h0M35.5 78.5h0M84.1 35.2h0M14.4 56.5h0M72.0 34.1h0M89.9 42.8h0M34.4 44.8h0M59.7 23.4h0M82.3 33.3h0M94.1 41.2h0M44.5 38.5h0M33.3 53.8h0M8.8 50.4h0M27.7 83.3h0M72.7 68.9h0M55.7 63.7h0M44.0 49.2h0M70.3 60.0h0M36.4 54.0h0M64.9 60.2h0M84.4 98.3h0M30.6 42.8h0M95.2 63.4h0M27.7 67.9h0M30.5 83.9h0M43.2 24.0h0M60.8 65.6h0M11.6 72.2h0M72.2 70.1h0M60.0 61.8h0M53.8 36.0h0M40.6 62.9h0M60.3 31.3h0M80.9 81.2h0M37.5 72.8h0M73.0 83.9h0M59.5 50.3h0M56.5 91.6h0M47.3 36.0h0M89.8 64.3h0M85.3 57.5h0M80.0 84.8h0M9.8 55.0h0M21.1 34.4h0M80.4 23.7h0M43.2 68.4h0M63.7 79.7h0M27.0 44.7h0M46.1 40.8h0M33.6 35.3h0M66.4 56.0h0M76.9 76.5h0M35.0 87.1h0M55.5 77.9h0M87.6 23.7h0M80.3 82.0h0M46.5 88.3h0M44.1 52.9h0M57.0 27.3h0M65.3 39.1h0M31.9 49.1h0M61.4 52.9h0M45.3 53.3h0M29.4 72.3h0M23.8 82.6h0M52.4 61.4h0M85.9 53.6h0M89.2 86.7h0M62.1 40.6h0M79.9 67.7h0M34.3 19.1h0M79.0 86.9h0M28.0 55.4h0M20.1 78.6h0M49.6 103.1h0M67.0 34.1h0M46.7 44.9h0M50.4 56.5h0M44.5 56.7h0M50.6 45.6h0M40.2 43.3h0M95.7 75.0h0M23.3 68.5h0M75.9 74.6h0M76.9 19.1h0M26.0 61.0h0M74.8 40.6h0M50.9 48.1h0M43.0 82.2h0M78.7 72.6h0M50.8 16.9h0M50.5 49.2h0M63.0 67.6h0M60.7 95.5h0M37.9 47.8h0M40.0 68.0h0M29.0 57.8h0M53.7 36.5h0M84.0 62.8h0M85.5 28.1h0M40.8 61.8h0M85.3 90.2h0M75.3 52.0h0M54.0 94.9h0M72.9 62.9h0M54.4 40.3h0M61.6 85.9h0M36.3 29.3h0M91.4 58.7h0M13.8 75.4h0M50.9 41.4h0M23.7 48.6h0M53.1 88.5h0M71.5 66.7h0M22.5 53.2h0M85.6 92.5h0M83.3 67.1h0M83.5 26.1h0M49.2 33.1h0M66.9 73.1h0M54.4 52.2h0M69.4 72.5h0M78.4 66.3h0M43.7 68.3h0M29.6 40.2h0M63.7 78.0h0M75.3 69.5h0M77.7 99.8h0M67.0 65.1h0M79.9 55.4h0M47.8 77.7h0M51.6 51.1h0M47.6 78.3h0M86.2 77.5h0M55.5 35.9h0M88.2 68.0h0M85.0 70.7h0M42.8 38.6h0M66.8 43.6h0M43.1 48.5h0M27.9 52.8h0M77.2 66.5h0M56.1 50.2h0M65.8 56.4h0M26.8 83.7h0M89.8 88.4h0M64.1 91.1h0M64.0 87.5h0" stroke="#9890d8" stroke-opacity="0.50" stroke-width="2.9"/><path d="M43.0 91.7h0M69.1 101.3h0M30.4 86.8h0M39.1 36.9h0M93.5 70.8h0M67.6 83.7h0M72.0 91.6h0M28.3 89.6h0M29.5 42.3h0M48.9 105.8h0M67.2 68.9h0M51.4 64.0h0M66.0 81.9h0M68.1 26.1h0M67.0 93.4h0M70.7 81.0h0M86.5 57.2h0M26.4 30.3h0M49.7 40.9h0M91.2 73.3h0M21.2 38.0h0M58.2 107.1h0M43.0 41.7h0M13.0 42.2h0M30.1 23.3h0M41.6 80.1h0M50.2 25.5h0M37.4 49.5h0M42.7 33.5h0M39.2 68.7h0M33.7 91.8h0M45.5 69.6h0M33.9 79.2h0M67.9 41.0h0M63.6 33.5h0M75.0 82.5h0M18.3 60.0h0M73.6 48.9h0M43.4 36.1h0M42.1 77.4h0M66.7 29.3h0M58.3 49.0h0M55.0 30.9h0M37.7 83.7h0M54.4 56.4h0M66.4 32.3h0M39.7 60.6h0M90.2 68.1h0M29.9 67.4h0M55.9 65.3h0M83.2 90.5h0M59.4 34.4h0M24.3 87.5h0M61.4 75.1h0M72.2 78.3h0M52.8 49.4h0M61.5 30.1h0M76.1 77.3h0M52.7 88.1h0M72.3 61.5h0M49.8 90.7h0M64.1 39.5h0M58.4 19.0h0M70.1 20.0h0M52.5 52.6h0M28.2 79.6h0M72.0 29.1h0M70.3 80.8h0M44.6 27.5h0M41.8 75.8h0M67.3 85.3h0M56.4 37.1h0M70.4 61.0h0M65.0 99.5h0M57.0 68.3h0M65.2 79.3h0M71.1 30.7h0M43.9 44.4h0M53.6 71.3h0M13.1 68.5h0M9.6 73.4h0M76.1 79.8h0M77.1 48.1h0M60.6 84.5h0M39.0 35.8h0M17.7 60.3h0M76.8 69.5h0M88.6 86.4h0M46.5 43.1h0M58.0 42.6h0M60.1 66.5h0M38.9 104.0h0M34.7 55.5h0M49.2 27.5h0M27.8 86.7h0M61.3 93.7h0M45.7 97.6h0M74.5 89.5h0M39.4 44.0h0M61.8 60.9h0M82.3 65.6h0M62.5 75.0h0M31.4 76.3h0M78.8 52.9h0M62.3 44.6h0M61.9 65.1h0M87.9 70.5h0" stroke="#9890d8" stroke-opacity="0.50" stroke-width="3.4"/><path d="M79.9 49.8h0M92.1 33.3h0M52.5 68.1h0M33.6 64.6h0M83.9 65.1h0M39.3 87.0h0M17.3 55.1h0M43.5 53.8h0M82.0 34.4h0M67.4 63.9h0M58.4 98.0h0M87.5 65.2h0M52.9 50.4h0M19.8 70.5h0M63.9 51.9h0M61.1 71.5h0M86.7 31.9h0M19.5 49.2h0M61.3 59.6h0M84.8 78.0h0M42.0 48.9h0M41.4 69.7h0M20.8 48.0h0M102.6 57.9h0M29.9 45.1h0M26.6 36.4h0M45.8 86.0h0M72.4 53.3h0M54.5 36.6h0M37.2 92.0h0M38.5 61.4h0M36.6 51.6h0M37.1 53.8h0M84.7 33.8h0M62.3 79.7h0M36.3 50.1h0M50.5 98.1h0M83.6 70.3h0M48.0 76.7h0M87.0 39.5h0M90.0 62.9h0M67.7 45.1h0M49.3 51.0h0M69.4 47.1h0M26.1 54.3h0M28.4 36.1h0M60.0 87.9h0M87.3 77.3h0M47.0 67.1h0M61.2 84.2h0M49.2 75.9h0M11.3 42.7h0M32.3 46.0h0M78.6 57.0h0M45.8 54.2h0M21.8 53.9h0M40.2 59.1h0M45.7 40.4h0M64.2 74.6h0M32.5 59.1h0M49.1 64.7h0M67.8 46.2h0M25.3 59.9h0M62.8 92.5h0M81.2 51.7h0M32.2 67.4h0M43.8 87.7h0M22.3 78.6h0M48.2 64.1h0M84.4 26.4h0M93.0 33.3h0M88.2 38.9h0M76.1 40.6h0M69.6 59.1h0M58.0 30.2h0M62.1 30.7h0M53.3 46.0h0M64.6 50.6h0M78.1 74.3h0M27.4 39.5h0" stroke="#9890d8" stroke-opacity="0.50" stroke-width="3.9"/><path d="M58.2 52.3h0M72.7 93.6h0M88.3 65.9h0M90.5 87.4h0M59.5 54.7h0M36.8 92.6h0M52.8 94.6h0M57.4 67.2h0M78.4 89.9h0M46.1 38.4h0M71.8 43.6h0M55.6 81.7h0M57.0 51.7h0M50.6 43.0h0M51.9 77.4h0M61.0 101.5h0M81.1 43.8h0M57.5 56.5h0M51.9 51.1h0M64.5 42.8h0M48.9 54.2h0M47.3 65.0h0M53.3 81.3h0M67.8 24.9h0M56.4 49.8h0M89.7 46.9h0M81.1 70.0h0M42.7 39.6h0M52.8 54.8h0M48.2 51.1h0M37.0 89.0h0M66.6 73.4h0M52.0 57.6h0M64.8 61.9h0M47.0 91.4h0M75.0 81.9h0M59.5 66.6h0M39.7 63.3h0M42.3 56.2h0M42.0 63.8h0M69.8 72.5h0M61.3 37.3h0M53.3 64.0h0M40.2 63.1h0M77.3 26.0h0M56.9 103.3h0M72.6 75.6h0M43.4 94.4h0M27.7 56.1h0M79.8 35.1h0M47.8 37.3h0M81.5 30.1h0M54.7 63.8h0M26.9 71.0h0M78.3 87.0h0M31.2 46.7h0M54.8 37.4h0M36.4 42.7h0M64.2 32.9h0M51.5 93.3h0M48.3 49.9h0M42.9 79.5h0M48.9 27.6h0M65.6 43.7h0M77.1 42.0h0M24.1 67.7h0M66.1 64.1h0M46.5 51.6h0M48.7 64.4h0M71.7 97.1h0M25.2 60.4h0" stroke="#9890d8" stroke-opacity="0.50" stroke-width="4.4"/><path d="M87.9 70.5h0" stroke="#2a2490" stroke-width="2.0"/><path d="M48.2 64.1h0M84.4 26.4h0M93.0 33.3h0M88.2 38.9h0M76.1 40.6h0M69.6 59.1h0M58.0 30.2h0M62.1 30.7h0M53.3 46.0h0M64.6 50.6h0M78.1 74.3h0M27.4 39.5h0" stroke="#2a2490" stroke-width="2.5"/><path d="M53.3 81.3h0M67.8 24.9h0M56.4 49.8h0M89.7 46.9h0M81.1 70.0h0M42.7 39.6h0M52.8 54.8h0M48.2 51.1h0M37.0 89.0h0M66.6 73.4h0M52.0 57.6h0M64.8 61.9h0M47.0 91.4h0M75.0 81.9h0M59.5 66.6h0M39.7 63.3h0M42.3 56.2h0M42.0 63.8h0M69.8 72.5h0M61.3 37.3h0M53.3 64.0h0M40.2 63.1h0M77.3 26.0h0M56.9 103.3h0M72.6 75.6h0M43.4 94.4h0M27.7 56.1h0M79.8 35.1h0M47.8 37.3h0M81.5 30.1h0M54.7 63.8h0M26.9 71.0h0M78.3 87.0h0M31.2 46.7h0M54.8 37.4h0M36.4 42.7h0M64.2 32.9h0M51.5 93.3h0M48.3 49.9h0M42.9 79.5h0M48.9 27.6h0M65.6 43.7h0M77.1 42.0h0M24.1 67.7h0M66.1 64.1h0M46.5 51.6h0M48.7 64.4h0M71.7 97.1h0M25.2 60.4h0" stroke="#2a2490" stroke-width="3.0"/><path d="M60.7 95.5h0M37.9 47.8h0M40.0 68.0h0M29.0 57.8h0M53.7 36.5h0M84.0 62.8h0M85.5 28.1h0" stroke="#362f9b" stroke-width="1.5"/><path d="M52.7 88.1h0M72.3 61.5h0M49.8 90.7h0M64.1 39.5h0M58.4 19.0h0M70.1 20.0h0M52.5 52.6h0M28.2 79.6h0M72.0 29.1h0M70.3 80.8h0M44.6 27.5h0M41.8 75.8h0M67.3 85.3h0M56.4 37.1h0M70.4 61.0h0M65.0 99.5h0M57.0 68.3h0M65.2 79.3h0M71.1 30.7h0M43.9 44.4h0M53.6 71.3h0M13.1 68.5h0M9.6 73.4h0M76.1 79.8h0M77.1 48.1h0M60.6 84.5h0M39.0 35.8h0M17.7 60.3h0M76.8 69.5h0M88.6 86.4h0M46.5 43.1h0M58.0 42.6h0M60.1 66.5h0M38.9 104.0h0M34.7 55.5h0M49.2 27.5h0M27.8 86.7h0M61.3 93.7h0M45.7 97.6h0M74.5 89.5h0M39.4 44.0h0M61.8 60.9h0M82.3 65.6h0M62.5 75.0h0M31.4 76.3h0M78.8 52.9h0" stroke="#362f9b" stroke-width="2.0"/><path d="M58.4 98.0h0M87.5 65.2h0M52.9 50.4h0M19.8 70.5h0M63.9 51.9h0M61.1 71.5h0M86.7 31.9h0M19.5 49.2h0M61.3 59.6h0M84.8 78.0h0M42.0 48.9h0M41.4 69.7h0M20.8 48.0h0M102.6 57.9h0M29.9 45.1h0M26.6 36.4h0M45.8 86.0h0M72.4 53.3h0M54.5 36.6h0M37.2 92.0h0M38.5 61.4h0M36.6 51.6h0M37.1 53.8h0M84.7 33.8h0M62.3 79.7h0M36.3 50.1h0M50.5 98.1h0M83.6 70.3h0M48.0 76.7h0M87.0 39.5h0M90.0 62.9h0M67.7 45.1h0M49.3 51.0h0M69.4 47.1h0M26.1 54.3h0M28.4 36.1h0M60.0 87.9h0M87.3 77.3h0M47.0 67.1h0M61.2 84.2h0M49.2 75.9h0M11.3 42.7h0M32.3 46.0h0M78.6 57.0h0M45.8 54.2h0M21.8 53.9h0M40.2 59.1h0M45.7 40.4h0M64.2 74.6h0M32.5 59.1h0M49.1 64.7h0M67.8 46.2h0M25.3 59.9h0M62.8 92.5h0M81.2 51.7h0M32.2 67.4h0M43.8 87.7h0M22.3 78.6h0" stroke="#362f9b" stroke-width="2.5"/><path d="M58.2 52.3h0M72.7 93.6h0M88.3 65.9h0M90.5 87.4h0M59.5 54.7h0M36.8 92.6h0M52.8 94.6h0M57.4 67.2h0M78.4 89.9h0M46.1 38.4h0M71.8 43.6h0M55.6 81.7h0M57.0 51.7h0M50.6 43.0h0M51.9 77.4h0M61.0 101.5h0M81.1 43.8h0M57.5 56.5h0M51.9 51.1h0M64.5 42.8h0M48.9 54.2h0M47.3 65.0h0" stroke="#362f9b" stroke-width="3.0"/><path d="M49.0 64.6h0M72.7 15.7h0M16.8 72.8h0M69.0 45.6h0M65.7 35.2h0M49.0 45.8h0M18.3 60.4h0M38.1 89.0h0M54.9 80.6h0M59.4 22.9h0M52.3 67.9h0M70.7 67.1h0M19.9 40.7h0M82.7 86.2h0M21.1 78.5h0M31.7 46.5h0M87.4 73.6h0M74.7 44.4h0M29.5 58.9h0M74.3 68.8h0M58.4 50.3h0M43.3 41.3h0M43.7 82.8h0M75.3 99.7h0M62.5 73.3h0M35.5 78.5h0M84.1 35.2h0M14.4 56.5h0M72.0 34.1h0M89.9 42.8h0M34.4 44.8h0M59.7 23.4h0M82.3 33.3h0M94.1 41.2h0M44.5 38.5h0M33.3 53.8h0M8.8 50.4h0M27.7 83.3h0M72.7 68.9h0M55.7 63.7h0M44.0 49.2h0M70.3 60.0h0M36.4 54.0h0M64.9 60.2h0M84.4 98.3h0M30.6 42.8h0M95.2 63.4h0M27.7 67.9h0M30.5 83.9h0M43.2 24.0h0M60.8 65.6h0M11.6 72.2h0M72.2 70.1h0M60.0 61.8h0M53.8 36.0h0M40.6 62.9h0M60.3 31.3h0M80.9 81.2h0M37.5 72.8h0M73.0 83.9h0M59.5 50.3h0M56.5 91.6h0M47.3 36.0h0M89.8 64.3h0M85.3 57.5h0M80.0 84.8h0M9.8 55.0h0M21.1 34.4h0M80.4 23.7h0M43.2 68.4h0M63.7 79.7h0M27.0 44.7h0M46.1 40.8h0M33.6 35.3h0M66.4 56.0h0M76.9 76.5h0M35.0 87.1h0M55.5 77.9h0M87.6 23.7h0M80.3 82.0h0M46.5 88.3h0M44.1 52.9h0M57.0 27.3h0M65.3 39.1h0M31.9 49.1h0M61.4 52.9h0M45.3 53.3h0M29.4 72.3h0M23.8 82.6h0M52.4 61.4h0M85.9 53.6h0M89.2 86.7h0M62.1 40.6h0M79.9 67.7h0M34.3 19.1h0M79.0 86.9h0M28.0 55.4h0M20.1 78.6h0M49.6 103.1h0M67.0 34.1h0M46.7 44.9h0M50.4 56.5h0M44.5 56.7h0M50.6 45.6h0M40.2 43.3h0M95.7 75.0h0M23.3 68.5h0M75.9 74.6h0M76.9 19.1h0M26.0 61.0h0M74.8 40.6h0M50.9 48.1h0M43.0 82.2h0M78.7 72.6h0M50.8 16.9h0M50.5 49.2h0M63.0 67.6h0" stroke="#423ba5" stroke-width="1.5"/><path d="M43.0 91.7h0M69.1 101.3h0M30.4 86.8h0M39.1 36.9h0M93.5 70.8h0M67.6 83.7h0M72.0 91.6h0M28.3 89.6h0M29.5 42.3h0M48.9 105.8h0M67.2 68.9h0M51.4 64.0h0M66.0 81.9h0M68.1 26.1h0M67.0 93.4h0M70.7 81.0h0M86.5 57.2h0M26.4 30.3h0M49.7 40.9h0M91.2 73.3h0M21.2 38.0h0M58.2 107.1h0M43.0 41.7h0M13.0 42.2h0M30.1 23.3h0M41.6 80.1h0M50.2 25.5h0M37.4 49.5h0M42.7 33.5h0M39.2 68.7h0M33.7 91.8h0M45.5 69.6h0M33.9 79.2h0M67.9 41.0h0M63.6 33.5h0M75.0 82.5h0M18.3 60.0h0M73.6 48.9h0M43.4 36.1h0M42.1 77.4h0M66.7 29.3h0M58.3 49.0h0M55.0 30.9h0M37.7 83.7h0M54.4 56.4h0M66.4 32.3h0M39.7 60.6h0M90.2 68.1h0M29.9 67.4h0M55.9 65.3h0M83.2 90.5h0M59.4 34.4h0M24.3 87.5h0M61.4 75.1h0M72.2 78.3h0M52.8 49.4h0M61.5 30.1h0M76.1 77.3h0" stroke="#423ba5" stroke-width="2.0"/><path d="M79.9 49.8h0M92.1 33.3h0M52.5 68.1h0M33.6 64.6h0M83.9 65.1h0M39.3 87.0h0M17.3 55.1h0M43.5 53.8h0M82.0 34.4h0M67.4 63.9h0" stroke="#423ba5" stroke-width="2.5"/><path d="M40.8 61.8h0M85.3 90.2h0M75.3 52.0h0M54.0 94.9h0M72.9 62.9h0M54.4 40.3h0M61.6 85.9h0M36.3 29.3h0M91.4 58.7h0M13.8 75.4h0M50.9 41.4h0M23.7 48.6h0M53.1 88.5h0M71.5 66.7h0M22.5 53.2h0M85.6 92.5h0M83.3 67.1h0M83.5 26.1h0M49.2 33.1h0M66.9 73.1h0M54.4 52.2h0M69.4 72.5h0M78.4 66.3h0M43.7 68.3h0M29.6 40.2h0M63.7 78.0h0M75.3 69.5h0M77.7 99.8h0M67.0 65.1h0M79.9 55.4h0M47.8 77.7h0M51.6 51.1h0M47.6 78.3h0M86.2 77.5h0M55.5 35.9h0M88.2 68.0h0M85.0 70.7h0M42.8 38.6h0M66.8 43.6h0M43.1 48.5h0M27.9 52.8h0M77.2 66.5h0M56.1 50.2h0M65.8 56.4h0M26.8 83.7h0M89.8 88.4h0M64.1 91.1h0M64.0 87.5h0" stroke="#4e46b0" stroke-width="1.5"/><path d="M62.3 44.6h0M61.9 65.1h0" stroke="#4e46b0" stroke-width="2.0"/></g></svg><svg class="pn" style="left:43.75px;top:367.50px;width:123.25px;height:128.50px" viewBox="0 0 123.25 128.50"><rect width="123.2" height="128.5" fill="#c5c5c3"/><circle cx="61.6" cy="64.2" r="69.0" fill="#cbcbc9" fill-opacity="1.00" stroke="#dcdcde" stroke-width="1.2" stroke-opacity="0.80"/><path d="M49.7 131.7A68.5 68.5 0 0 1 38.2 -0.1L42.7 12.1A55.5 55.5 0 0 0 52.0 118.9Z" fill="#a29cd2" fill-opacity="0.35"/><path d="M21.2 107.7A59.3 59.3 0 0 1 8.1 38.7" fill="none" stroke="#a29cd2" stroke-width=".7" stroke-opacity=".5"/><path d="M-1.3 83.7A65.9 65.9 0 0 1 39.1 2.3" fill="none" stroke="#a29cd2" stroke-width=".7" stroke-opacity=".5"/><path d="M26.8 117.4A63.5 63.5 0 0 1 22.6 14.1" fill="none" stroke="#a29cd2" stroke-width=".7" stroke-opacity=".5"/><path d="M30.2 114.1A58.9 58.9 0 0 1 3.0 70.1" fill="none" stroke="#a29cd2" stroke-width=".7" stroke-opacity=".5"/><path d="M22.4 117.0A65.8 65.8 0 0 1 4.6 31.4" fill="none" stroke="#a29cd2" stroke-width=".7" stroke-opacity=".5"/><circle cx="61.6" cy="64.2" r="55.5" fill="#cdcdcb" fill-opacity="1.00" stroke="#90909e" stroke-width="0.9" stroke-opacity="0.60"/><g filter="url(#bl)"><path d="M64.8 68.1h0M12.5 54.0h0M88.3 88.7h0M102.0 64.1h0M60.6 33.4h0M74.1 28.6h0M109.9 61.2h0M28.3 62.8h0M84.0 16.4h0M56.4 110.3h0M101.4 69.5h0M98.7 88.5h0M64.3 90.5h0M75.6 65.0h0M94.0 93.2h0M43.1 24.7h0M45.4 48.5h0M97.3 87.0h0M100.4 52.0h0M8.7 67.5h0M47.9 35.6h0M43.9 43.8h0M62.9 94.0h0M93.5 88.1h0M49.2 50.9h0M51.2 115.6h0M88.9 102.2h0M24.7 27.4h0M59.8 95.7h0M83.4 23.2h0M78.0 40.8h0M64.2 69.1h0M23.6 57.8h0M105.5 41.2h0M88.2 23.2h0M84.8 41.1h0M86.0 72.9h0M16.6 82.7h0M91.7 47.3h0M65.4 24.7h0M80.6 102.2h0M33.6 80.9h0M46.5 60.7h0M65.3 66.8h0M100.1 85.7h0M91.5 83.0h0M71.8 63.7h0M111.6 64.2h0M90.6 94.9h0M101.3 77.2h0M74.1 63.7h0M34.5 33.1h0M75.9 72.1h0M79.5 49.2h0M44.5 95.9h0M39.8 99.5h0M15.8 73.8h0M97.3 90.7h0M78.8 22.1h0M82.7 94.2h0M93.9 51.6h0M54.3 112.8h0M38.8 83.1h0M87.5 90.2h0M62.4 80.3h0M13.1 79.7h0M35.8 50.4h0M20.8 45.4h0M38.3 16.9h0M14.1 81.2h0M9.6 71.0h0M40.1 64.8h0M39.6 80.9h0M27.3 75.2h0M94.2 23.5h0M34.8 18.7h0M40.9 82.8h0M9.8 65.1h0" stroke="#9890d8" stroke-opacity="0.50" stroke-width="3.4"/><path d="M14.7 78.3h0M72.4 32.0h0M73.0 73.7h0M95.4 36.7h0M34.9 47.0h0M29.7 78.1h0M43.1 25.3h0M71.9 44.2h0M30.0 40.8h0M34.1 72.9h0M44.3 47.9h0M57.2 70.3h0M91.7 107.0h0M65.5 19.7h0M19.6 58.7h0M72.1 61.1h0M60.3 83.3h0M92.2 33.0h0M60.0 116.7h0M61.8 106.7h0M29.5 85.3h0M40.2 36.7h0M106.9 79.0h0M32.0 86.8h0M73.8 28.1h0M90.4 58.8h0M54.9 57.6h0M50.7 97.0h0M86.1 30.6h0M43.0 70.1h0M17.8 81.9h0M47.6 63.9h0M31.8 23.2h0M74.0 94.6h0M84.0 95.7h0M92.6 23.0h0M83.8 79.3h0" stroke="#9890d8" stroke-opacity="0.50" stroke-width="3.9"/><path d="M83.5 74.3h0M28.2 105.6h0M54.2 61.8h0M75.0 35.0h0M63.9 13.2h0M41.5 69.9h0M65.9 57.8h0M70.3 66.3h0M62.5 90.0h0M65.2 53.9h0M42.0 44.4h0M85.3 37.5h0M110.8 81.0h0M85.6 82.9h0M18.4 71.9h0M64.8 24.4h0M65.9 43.9h0M100.4 87.4h0M80.2 14.4h0M45.6 77.0h0M93.8 23.0h0M55.7 101.5h0M96.7 48.7h0M54.7 14.6h0M25.3 98.1h0M75.2 27.6h0M78.4 98.4h0M18.7 45.2h0M69.2 32.5h0M66.0 11.6h0M19.7 77.2h0M70.0 64.3h0M70.7 86.4h0M43.4 98.1h0" stroke="#9890d8" stroke-opacity="0.50" stroke-width="4.4"/><path d="M67.0 37.8h0M81.0 51.9h0M52.7 103.8h0M20.2 49.2h0M101.0 84.8h0M66.4 110.1h0M61.0 40.7h0M59.9 98.0h0M42.3 76.8h0M92.8 86.4h0M66.0 105.6h0M87.3 102.6h0M61.7 80.4h0M81.8 59.4h0M96.0 30.6h0M51.0 57.5h0" stroke="#9890d8" stroke-opacity="0.50" stroke-width="4.9"/><path d="M60.0 116.7h0" stroke="#24207a" stroke-width="2.5"/><path d="M83.5 74.3h0M28.2 105.6h0M54.2 61.8h0M75.0 35.0h0M63.9 13.2h0M41.5 69.9h0M65.9 57.8h0M70.3 66.3h0" stroke="#24207a" stroke-width="3.0"/><path d="M67.0 37.8h0M81.0 51.9h0M52.7 103.8h0M20.2 49.2h0M101.0 84.8h0M66.4 110.1h0M61.0 40.7h0M59.9 98.0h0M42.3 76.8h0M92.8 86.4h0M66.0 105.6h0M87.3 102.6h0M61.7 80.4h0" stroke="#24207a" stroke-width="3.5"/><path d="M94.2 23.5h0M34.8 18.7h0M40.9 82.8h0M9.8 65.1h0" stroke="#312b8c" stroke-width="2.0"/><path d="M14.7 78.3h0M72.4 32.0h0M73.0 73.7h0M95.4 36.7h0M34.9 47.0h0M29.7 78.1h0M43.1 25.3h0M71.9 44.2h0M30.0 40.8h0M34.1 72.9h0M44.3 47.9h0M57.2 70.3h0M91.7 107.0h0M65.5 19.7h0M19.6 58.7h0M72.1 61.1h0M60.3 83.3h0M92.2 33.0h0" stroke="#312b8c" stroke-width="2.5"/><path d="M42.0 44.4h0M85.3 37.5h0M110.8 81.0h0M85.6 82.9h0M18.4 71.9h0M64.8 24.4h0M65.9 43.9h0M100.4 87.4h0M80.2 14.4h0M45.6 77.0h0M93.8 23.0h0M55.7 101.5h0M96.7 48.7h0M54.7 14.6h0M25.3 98.1h0M75.2 27.6h0M78.4 98.4h0M18.7 45.2h0M69.2 32.5h0M66.0 11.6h0M19.7 77.2h0M70.0 64.3h0M70.7 86.4h0M43.4 98.1h0" stroke="#312b8c" stroke-width="3.0"/><path d="M81.8 59.4h0M96.0 30.6h0M51.0 57.5h0" stroke="#312b8c" stroke-width="3.5"/><path d="M43.1 24.7h0M45.4 48.5h0M97.3 87.0h0M100.4 52.0h0M8.7 67.5h0M47.9 35.6h0M43.9 43.8h0M62.9 94.0h0M93.5 88.1h0M49.2 50.9h0M51.2 115.6h0M88.9 102.2h0M24.7 27.4h0M59.8 95.7h0M83.4 23.2h0M78.0 40.8h0M64.2 69.1h0M23.6 57.8h0M105.5 41.2h0M88.2 23.2h0M84.8 41.1h0M86.0 72.9h0M16.6 82.7h0M91.7 47.3h0M65.4 24.7h0M80.6 102.2h0M33.6 80.9h0M46.5 60.7h0M65.3 66.8h0M100.1 85.7h0M91.5 83.0h0M71.8 63.7h0M111.6 64.2h0M90.6 94.9h0M101.3 77.2h0M74.1 63.7h0M34.5 33.1h0M75.9 72.1h0M79.5 49.2h0M44.5 95.9h0M39.8 99.5h0M15.8 73.8h0M97.3 90.7h0M78.8 22.1h0M82.7 94.2h0M93.9 51.6h0M54.3 112.8h0M38.8 83.1h0M87.5 90.2h0M62.4 80.3h0M13.1 79.7h0M35.8 50.4h0M20.8 45.4h0M38.3 16.9h0M14.1 81.2h0M9.6 71.0h0M40.1 64.8h0M39.6 80.9h0M27.3 75.2h0" stroke="#3d379e" stroke-width="2.0"/><path d="M61.8 106.7h0M29.5 85.3h0M40.2 36.7h0M106.9 79.0h0M32.0 86.8h0M73.8 28.1h0M90.4 58.8h0M54.9 57.6h0M50.7 97.0h0M86.1 30.6h0M43.0 70.1h0M17.8 81.9h0M47.6 63.9h0M31.8 23.2h0M74.0 94.6h0M84.0 95.7h0M92.6 23.0h0" stroke="#3d379e" stroke-width="2.5"/><path d="M62.5 90.0h0M65.2 53.9h0" stroke="#3d379e" stroke-width="3.0"/><path d="M64.8 68.1h0M12.5 54.0h0M88.3 88.7h0M102.0 64.1h0M60.6 33.4h0M74.1 28.6h0M109.9 61.2h0M28.3 62.8h0M84.0 16.4h0M56.4 110.3h0M101.4 69.5h0M98.7 88.5h0M64.3 90.5h0M75.6 65.0h0M94.0 93.2h0" stroke="#4a42b0" stroke-width="2.0"/><path d="M83.8 79.3h0" stroke="#4a42b0" stroke-width="2.5"/></g></svg><svg class="pn" style="left:173.25px;top:367.50px;width:119.75px;height:128.50px" viewBox="0 0 119.75 128.50"><rect width="119.8" height="128.5" fill="#c5c5c3"/><circle cx="59.9" cy="64.2" r="67.1" fill="#cbcbc9" fill-opacity="1.00" stroke="#dcdcde" stroke-width="1.2" stroke-opacity="0.80"/><circle cx="59.9" cy="64.2" r="53.9" fill="#cececc" fill-opacity="1.00" stroke="#90909e" stroke-width="0.9" stroke-opacity="0.60"/><g filter="url(#bl)"><path d="M27.7 47.4h0M83.4 28.2h0M14.0 63.5h0M46.2 32.0h0M82.0 42.8h0M68.7 75.6h0M71.6 60.1h0M55.5 103.3h0M103.0 35.9h0M84.8 104.5h0M52.1 72.0h0M38.5 77.1h0M38.8 96.1h0M27.8 26.5h0M45.8 27.7h0M85.3 105.8h0M66.1 36.0h0M55.3 42.4h0" stroke="#9a96c8" stroke-opacity="0.55" stroke-width="3.6"/><path d="M62.3 85.1h0M82.6 27.4h0M88.8 71.9h0M33.0 74.7h0M84.5 20.6h0M91.9 78.7h0M59.6 74.0h0M49.3 19.7h0M78.5 92.7h0M80.3 66.0h0M81.9 73.8h0" stroke="#9a96c8" stroke-opacity="0.55" stroke-width="4.1"/><path d="M85.9 84.8h0M43.6 98.0h0M75.7 49.4h0M48.7 13.9h0M103.3 70.4h0M50.9 85.7h0M28.2 84.5h0M16.4 73.4h0M111.1 65.9h0M55.5 68.2h0M82.7 74.5h0M10.0 75.9h0M20.2 32.6h0M19.8 91.9h0M59.4 92.2h0M77.5 68.4h0M56.9 17.1h0M55.2 25.3h0" stroke="#9a96c8" stroke-opacity="0.55" stroke-width="4.6"/><path d="M81.9 29.9h0M25.7 50.4h0M15.5 77.1h0M38.9 77.2h0M70.3 52.3h0M72.8 62.1h0M86.7 79.3h0" stroke="#9a96c8" stroke-opacity="0.55" stroke-width="5.1"/><path d="M64.2 110.1h0" stroke="#9a96c8" stroke-opacity="0.55" stroke-width="5.6"/><path d="M77.5 68.4h0M56.9 17.1h0" stroke="#1e1a50" stroke-width="3.0"/><path d="M81.9 29.9h0M25.7 50.4h0M15.5 77.1h0M38.9 77.2h0M70.3 52.3h0" stroke="#1e1a50" stroke-width="3.5"/><path d="M64.2 110.1h0" stroke="#1e1a50" stroke-width="4.0"/><path d="M55.3 42.4h0" stroke="#272365" stroke-width="2.0"/><path d="M78.5 92.7h0M80.3 66.0h0M81.9 73.8h0" stroke="#272365" stroke-width="2.5"/><path d="M85.9 84.8h0M43.6 98.0h0M75.7 49.4h0M48.7 13.9h0M103.3 70.4h0M50.9 85.7h0M28.2 84.5h0M16.4 73.4h0M111.1 65.9h0M55.5 68.2h0M82.7 74.5h0M10.0 75.9h0M20.2 32.6h0M19.8 91.9h0M59.4 92.2h0" stroke="#272365" stroke-width="3.0"/><path d="M72.8 62.1h0M86.7 79.3h0" stroke="#272365" stroke-width="3.5"/><path d="M27.7 47.4h0M83.4 28.2h0M14.0 63.5h0M46.2 32.0h0M82.0 42.8h0M68.7 75.6h0M71.6 60.1h0M55.5 103.3h0M103.0 35.9h0" stroke="#312b7b" stroke-width="2.0"/><path d="M62.3 85.1h0M82.6 27.4h0M88.8 71.9h0M33.0 74.7h0M84.5 20.6h0M91.9 78.7h0M59.6 74.0h0M49.3 19.7h0" stroke="#312b7b" stroke-width="2.5"/><path d="M55.2 25.3h0" stroke="#312b7b" stroke-width="3.0"/><path d="M84.8 104.5h0M52.1 72.0h0M38.5 77.1h0M38.8 96.1h0M27.8 26.5h0M45.8 27.7h0M85.3 105.8h0M66.1 36.0h0" stroke="#3a3490" stroke-width="2.0"/></g></svg><svg class="pn" style="left:298.00px;top:367.50px;width:122.00px;height:128.50px" viewBox="0 0 122.00 128.50"><rect width="122.0" height="128.5" fill="#c9c9c7"/><circle cx="61.0" cy="64.2" r="68.3" fill="#cececc" fill-opacity="1.00" stroke="#dcdcde" stroke-width="1.2" stroke-opacity="0.80"/><circle cx="61.0" cy="64.2" r="54.9" fill="#cfcfcd" fill-opacity="1.00" stroke="#9393a0" stroke-width="0.9" stroke-opacity="0.60"/><g filter="url(#bl)"><path d="M71.1 44.6h0M80.8 78.5h0M61.5 65.4h0M45.8 86.3h0M50.6 14.4h0M60.2 12.7h0M97.0 46.6h0M14.6 44.8h0M87.5 96.0h0M24.8 93.8h0M25.5 94.7h0M59.3 104.9h0M21.4 60.1h0M66.6 13.1h0M74.2 26.8h0M59.6 26.7h0M60.7 53.0h0M80.3 93.0h0M75.8 77.0h0M72.6 87.6h0M78.0 44.9h0M83.2 67.1h0M69.6 33.4h0M87.0 54.6h0M34.8 77.5h0M43.4 96.2h0M53.9 71.4h0M39.9 86.0h0M70.9 46.9h0M87.6 28.2h0M90.0 97.1h0M105.1 57.4h0M60.9 39.5h0M42.3 52.3h0M68.8 45.6h0M51.1 43.0h0M31.1 77.3h0M39.9 23.8h0M85.2 66.4h0M30.7 46.1h0M96.0 69.5h0M19.4 69.5h0M60.4 114.6h0M57.9 50.6h0M56.9 57.7h0M68.4 78.9h0M34.4 39.2h0M85.1 46.2h0M41.6 34.7h0M91.4 34.2h0M59.9 78.1h0M33.7 82.0h0M68.5 65.5h0M85.8 75.2h0M58.3 79.5h0M35.9 36.8h0M38.3 96.8h0M76.3 57.6h0M66.6 115.8h0M66.8 13.2h0M19.8 59.4h0M34.0 45.4h0M34.4 77.8h0M81.6 83.6h0M96.8 47.4h0M42.9 49.7h0M77.3 107.8h0M80.0 76.5h0M91.8 45.4h0M41.2 46.5h0M68.2 33.8h0M32.3 27.8h0M62.3 59.6h0M54.4 40.0h0M34.2 97.0h0M63.7 108.6h0M36.2 103.3h0M21.3 30.1h0M99.4 82.8h0M43.2 66.4h0M85.4 54.2h0M49.5 15.3h0M46.3 61.8h0M48.0 27.6h0M34.7 91.1h0M101.3 66.0h0M48.3 71.6h0M41.2 77.7h0" stroke="#9890d8" stroke-opacity="0.50" stroke-width="3.4"/><path d="M93.8 29.5h0M88.7 29.3h0M72.5 62.5h0M84.9 76.4h0M32.2 41.2h0M75.4 46.4h0M23.3 100.2h0M27.0 38.5h0M106.5 57.7h0M112.3 55.0h0M91.9 63.5h0M17.7 57.9h0M10.8 76.1h0M96.1 65.6h0M78.0 49.7h0M100.0 95.8h0M61.3 29.4h0M31.1 77.3h0M67.2 84.9h0M66.9 68.2h0M79.2 76.6h0M73.7 67.1h0M56.2 78.4h0M41.8 100.8h0M78.5 35.8h0M40.5 56.4h0M63.8 95.6h0M53.7 44.9h0M64.4 36.7h0M21.0 95.9h0M30.0 94.6h0M36.9 101.3h0M79.3 43.6h0M63.5 76.8h0M92.1 68.5h0M86.1 27.4h0M47.1 62.1h0M19.5 31.8h0M48.2 24.8h0M30.4 31.4h0M68.9 94.8h0M22.2 89.6h0M29.1 46.0h0" stroke="#9890d8" stroke-opacity="0.50" stroke-width="3.9"/><path d="M85.7 31.6h0M64.0 15.2h0M47.6 18.3h0M89.5 78.1h0M43.3 58.2h0M47.3 110.1h0M92.0 37.4h0M76.6 47.7h0M30.5 24.5h0M18.7 54.2h0M83.7 75.8h0M74.0 78.6h0M86.5 105.9h0M93.3 93.0h0M28.9 27.2h0M99.2 73.0h0M74.3 100.4h0M64.1 39.6h0M61.9 98.1h0M95.9 103.7h0M67.7 71.3h0M63.7 96.4h0M64.6 61.6h0M101.6 48.1h0M101.5 89.1h0M85.6 63.3h0" stroke="#9890d8" stroke-opacity="0.50" stroke-width="4.4"/><path d="M78.0 97.1h0M49.1 81.8h0M17.9 90.8h0M9.8 71.9h0M37.9 47.5h0M99.3 100.2h0M48.3 108.2h0M39.8 53.0h0" stroke="#9890d8" stroke-opacity="0.50" stroke-width="4.9"/><path d="M29.1 46.0h0" stroke="#24207a" stroke-width="2.5"/><path d="M85.7 31.6h0M64.0 15.2h0M47.6 18.3h0M89.5 78.1h0M43.3 58.2h0M47.3 110.1h0M92.0 37.4h0M76.6 47.7h0M30.5 24.5h0M18.7 54.2h0M83.7 75.8h0M74.0 78.6h0" stroke="#24207a" stroke-width="3.0"/><path d="M78.0 97.1h0M49.1 81.8h0M17.9 90.8h0M9.8 71.9h0M37.9 47.5h0M99.3 100.2h0M48.3 108.2h0" stroke="#24207a" stroke-width="3.5"/><path d="M81.6 83.6h0M96.8 47.4h0M42.9 49.7h0M77.3 107.8h0M80.0 76.5h0M91.8 45.4h0" stroke="#312b8c" stroke-width="2.0"/><path d="M93.8 29.5h0M88.7 29.3h0M72.5 62.5h0M84.9 76.4h0M32.2 41.2h0M75.4 46.4h0M23.3 100.2h0M27.0 38.5h0M106.5 57.7h0M112.3 55.0h0M91.9 63.5h0M17.7 57.9h0M10.8 76.1h0M96.1 65.6h0M78.0 49.7h0M100.0 95.8h0M61.3 29.4h0M31.1 77.3h0M67.2 84.9h0M66.9 68.2h0M79.2 76.6h0M73.7 67.1h0M56.2 78.4h0M41.8 100.8h0M78.5 35.8h0M40.5 56.4h0M63.8 95.6h0M53.7 44.9h0" stroke="#312b8c" stroke-width="2.5"/><path d="M86.5 105.9h0M93.3 93.0h0M28.9 27.2h0M99.2 73.0h0M74.3 100.4h0M64.1 39.6h0M61.9 98.1h0M95.9 103.7h0M67.7 71.3h0M63.7 96.4h0M64.6 61.6h0M101.6 48.1h0M101.5 89.1h0M85.6 63.3h0" stroke="#312b8c" stroke-width="3.0"/><path d="M39.8 53.0h0" stroke="#312b8c" stroke-width="3.5"/><path d="M71.1 44.6h0M80.8 78.5h0M61.5 65.4h0M45.8 86.3h0M50.6 14.4h0M60.2 12.7h0M97.0 46.6h0M14.6 44.8h0M87.5 96.0h0M24.8 93.8h0M25.5 94.7h0M59.3 104.9h0M21.4 60.1h0M66.6 13.1h0M74.2 26.8h0M59.6 26.7h0M60.7 53.0h0M80.3 93.0h0M75.8 77.0h0M72.6 87.6h0M78.0 44.9h0M83.2 67.1h0M69.6 33.4h0M87.0 54.6h0M34.8 77.5h0M43.4 96.2h0M53.9 71.4h0M39.9 86.0h0M70.9 46.9h0M87.6 28.2h0M90.0 97.1h0M105.1 57.4h0M60.9 39.5h0M42.3 52.3h0M68.8 45.6h0M51.1 43.0h0M31.1 77.3h0M39.9 23.8h0M85.2 66.4h0M30.7 46.1h0M96.0 69.5h0M19.4 69.5h0M60.4 114.6h0M57.9 50.6h0M56.9 57.7h0M68.4 78.9h0M34.4 39.2h0M85.1 46.2h0M41.6 34.7h0M91.4 34.2h0M59.9 78.1h0M33.7 82.0h0M68.5 65.5h0M85.8 75.2h0M58.3 79.5h0M35.9 36.8h0M38.3 96.8h0M76.3 57.6h0M66.6 115.8h0M66.8 13.2h0M19.8 59.4h0M34.0 45.4h0M34.4 77.8h0" stroke="#3d379e" stroke-width="2.0"/><path d="M64.4 36.7h0M21.0 95.9h0M30.0 94.6h0M36.9 101.3h0M79.3 43.6h0M63.5 76.8h0M92.1 68.5h0M86.1 27.4h0M47.1 62.1h0M19.5 31.8h0M48.2 24.8h0M30.4 31.4h0M68.9 94.8h0" stroke="#3d379e" stroke-width="2.5"/><path d="M41.2 46.5h0M68.2 33.8h0M32.3 27.8h0M62.3 59.6h0M54.4 40.0h0M34.2 97.0h0M63.7 108.6h0M36.2 103.3h0M21.3 30.1h0M99.4 82.8h0M43.2 66.4h0M85.4 54.2h0M49.5 15.3h0M46.3 61.8h0M48.0 27.6h0M34.7 91.1h0M101.3 66.0h0M48.3 71.6h0M41.2 77.7h0" stroke="#4a42b0" stroke-width="2.0"/><path d="M22.2 89.6h0" stroke="#4a42b0" stroke-width="2.5"/></g></svg><svg class="pn" style="left:426.75px;top:367.50px;width:112.00px;height:128.50px" viewBox="0 0 112.00 128.50"><rect width="112.0" height="128.5" fill="#c9c9c7"/><circle cx="56.0" cy="64.2" r="62.7" fill="#cececc" fill-opacity="1.00" stroke="#dcdcde" stroke-width="1.2" stroke-opacity="0.80"/><circle cx="56.0" cy="64.2" r="50.4" fill="#cfcfcd" fill-opacity="1.00" stroke="#9393a0" stroke-width="0.9" stroke-opacity="0.60"/><g filter="url(#bl)"><path d="M69.9 83.6h0M88.9 94.8h0M82.8 77.5h0M44.6 94.0h0M55.4 110.0h0M38.7 25.9h0M33.7 87.5h0M58.2 52.3h0M59.6 41.4h0M75.1 30.9h0M41.6 25.9h0M32.0 65.4h0M47.8 76.7h0M8.8 67.7h0M32.4 22.6h0M101.2 75.7h0M75.5 59.7h0M48.0 98.2h0M68.7 30.4h0M60.9 37.1h0M82.6 62.6h0M17.4 76.1h0M102.9 64.8h0M98.5 70.0h0M95.8 53.7h0M81.0 63.4h0M11.8 63.8h0M57.7 98.5h0M64.0 40.7h0M32.7 25.9h0M20.1 96.5h0M22.2 60.3h0M35.8 90.2h0M62.2 104.6h0M97.0 86.2h0M36.5 76.7h0M89.0 35.0h0M47.5 107.0h0M11.4 75.8h0M101.6 77.3h0M42.4 108.4h0M44.4 19.9h0M40.9 86.4h0M50.8 61.4h0M29.1 37.4h0M49.0 91.7h0M34.3 71.2h0M33.7 105.0h0M88.7 69.4h0M80.2 82.7h0M44.8 104.3h0M74.2 79.9h0M80.0 91.5h0M92.4 48.8h0M76.5 80.3h0M20.5 39.8h0M19.9 45.4h0M71.1 61.6h0M83.5 74.5h0M74.2 51.9h0M66.2 79.6h0M34.5 39.2h0M89.3 35.9h0M31.3 36.8h0M46.4 33.5h0M48.8 27.2h0M46.4 82.1h0M62.1 58.2h0M63.1 54.9h0M39.0 86.1h0M69.9 85.4h0M58.4 98.0h0M32.4 79.9h0M67.8 102.5h0M59.1 51.5h0M57.2 91.7h0M73.5 75.3h0M24.8 66.7h0M82.3 28.7h0M61.4 73.5h0M65.0 36.4h0M13.3 70.6h0M54.0 83.1h0M25.4 64.1h0M73.4 47.5h0M72.2 21.0h0M34.5 90.4h0M68.0 36.6h0M53.6 91.6h0M24.3 74.0h0M85.2 55.9h0M83.8 60.0h0M83.4 76.3h0M57.2 106.5h0M88.0 74.2h0M37.8 31.1h0M87.8 36.5h0M52.0 80.2h0M48.7 96.6h0M26.0 69.4h0M83.9 72.1h0M48.4 46.0h0M66.4 104.1h0M35.2 29.7h0M38.7 85.7h0M40.6 88.5h0M62.3 57.0h0M85.5 53.5h0M84.3 31.0h0M66.6 80.7h0M103.6 62.9h0M70.5 29.4h0M10.6 51.9h0M90.6 60.7h0M82.3 46.9h0M68.7 105.2h0M22.9 46.9h0M43.3 77.5h0M34.0 69.0h0M30.3 58.4h0M38.9 25.3h0M51.5 57.6h0M64.1 75.8h0M42.9 59.3h0M16.5 80.0h0M34.7 58.9h0M11.2 75.2h0M84.7 30.1h0M91.7 32.2h0M54.3 107.6h0M60.5 105.1h0M79.3 55.8h0M90.1 40.8h0M8.6 55.2h0M22.3 69.6h0M70.9 72.3h0M88.8 63.0h0M85.1 76.6h0M36.6 51.3h0M62.4 38.4h0M70.1 27.2h0M43.5 95.7h0M91.3 52.2h0M30.0 35.6h0M30.1 33.8h0M75.5 79.0h0M27.5 52.7h0M95.1 86.3h0M60.9 24.1h0M45.4 42.8h0M62.1 96.2h0" stroke="#9890d8" stroke-opacity="0.50" stroke-width="2.9"/><path d="M68.4 49.2h0M77.9 97.6h0M74.7 63.1h0M51.1 63.1h0M78.1 60.5h0M52.6 63.3h0M102.3 77.8h0M59.4 60.9h0M69.0 36.1h0M50.9 17.4h0M64.5 90.5h0M98.7 68.0h0M77.1 78.7h0M73.3 98.5h0M35.9 77.4h0M21.0 46.2h0M23.0 61.8h0M59.1 93.3h0M77.6 55.8h0M13.9 75.6h0M89.0 62.2h0M60.5 64.7h0M33.6 46.0h0M74.8 96.3h0M64.6 62.0h0M63.3 60.3h0M72.3 77.6h0M21.1 42.1h0M47.9 91.2h0M17.4 91.3h0M69.6 34.3h0M37.6 58.6h0M52.7 37.6h0M74.1 38.1h0M48.6 18.5h0M37.5 68.6h0M34.9 51.3h0M44.7 44.7h0M74.6 61.6h0M58.3 98.3h0M61.6 29.8h0M31.0 103.9h0M52.5 91.0h0M93.4 63.7h0M52.3 83.5h0M19.5 70.5h0M35.4 72.7h0M94.8 38.9h0M84.1 84.4h0M95.2 68.7h0M14.3 70.9h0M97.6 66.1h0M62.8 38.5h0M98.1 75.2h0M87.1 85.5h0M52.9 60.1h0M93.5 94.1h0M38.8 53.7h0M21.7 61.1h0M82.8 46.7h0M92.8 90.3h0M39.9 104.8h0M53.2 49.2h0M50.3 65.3h0M65.6 70.7h0M68.9 86.8h0M79.7 82.2h0M52.3 65.9h0M102.0 65.9h0M44.7 20.8h0M82.5 50.3h0M74.2 62.4h0M83.0 36.0h0M40.4 91.4h0M96.6 87.5h0M29.3 28.4h0M97.0 63.9h0M48.7 19.2h0M73.4 47.3h0M76.9 87.4h0M61.9 94.5h0M71.9 19.5h0M64.0 30.2h0M96.8 58.3h0M96.4 48.1h0M75.4 81.9h0M81.5 83.4h0M81.9 68.2h0M79.6 81.7h0M82.0 74.7h0M90.2 88.2h0M32.5 96.3h0M85.2 30.1h0M50.4 62.6h0M53.5 35.0h0M92.5 39.3h0M87.1 28.1h0M79.1 76.9h0M62.8 72.6h0M38.1 28.2h0M9.6 59.3h0M64.3 57.0h0M44.6 78.4h0M52.2 111.7h0M32.2 69.7h0M89.3 41.0h0M87.6 79.2h0M67.1 99.4h0M47.1 54.4h0M43.7 91.7h0M53.7 49.3h0M91.6 38.5h0M78.0 51.0h0M24.3 55.3h0M86.4 36.4h0M52.6 101.9h0M92.8 80.0h0M15.7 45.6h0M80.7 35.1h0M44.6 65.0h0M42.7 58.3h0M79.9 33.2h0M30.8 34.9h0M73.7 93.9h0" stroke="#9890d8" stroke-opacity="0.50" stroke-width="3.4"/><path d="M28.0 58.6h0M43.8 52.1h0M85.4 35.1h0M23.6 52.4h0M91.8 44.5h0M69.5 104.5h0M51.0 21.1h0M99.8 65.5h0M44.0 43.6h0M38.0 70.7h0M62.2 29.0h0M36.2 61.1h0M36.8 90.6h0M51.9 84.6h0M8.1 57.9h0M30.5 39.2h0M67.0 28.2h0M68.2 81.7h0M27.6 26.0h0M46.4 78.2h0M29.4 48.6h0M63.8 64.6h0M72.7 62.6h0M38.7 76.4h0M62.8 88.4h0M69.5 34.5h0M49.6 74.7h0M63.4 92.6h0M52.5 59.7h0M98.4 82.6h0M25.4 70.9h0M47.9 83.2h0M58.0 57.0h0M76.2 45.8h0M89.7 67.5h0M17.2 53.6h0M80.6 92.7h0M72.9 81.7h0M47.9 19.2h0M66.0 103.7h0M48.5 87.8h0M89.3 44.9h0M72.0 34.9h0M81.5 72.9h0M30.8 71.5h0M50.7 71.1h0M101.0 74.1h0M56.9 47.6h0M40.0 34.1h0M88.4 44.6h0M92.1 88.9h0M83.0 91.6h0M25.3 90.8h0M62.1 64.1h0M66.2 65.9h0M95.9 82.2h0M52.9 17.0h0M42.9 81.4h0M57.3 58.3h0M49.1 83.5h0M74.2 40.8h0M53.2 84.9h0M66.9 45.5h0M34.3 21.3h0M90.8 46.9h0M77.4 106.7h0M78.8 25.9h0M50.6 43.8h0M27.6 37.3h0M64.0 63.8h0M62.7 83.9h0M53.8 23.2h0M85.2 44.8h0M71.4 44.5h0M79.3 72.5h0M19.8 76.4h0M102.4 66.3h0M76.2 30.3h0M91.2 47.3h0M45.9 33.8h0M77.9 42.6h0M98.4 85.9h0M41.9 49.1h0M69.3 96.3h0M91.6 79.6h0" stroke="#9890d8" stroke-opacity="0.50" stroke-width="3.9"/><path d="M95.4 52.5h0M89.9 97.5h0M27.2 88.0h0M33.6 87.7h0M46.5 37.3h0M79.1 53.1h0M16.1 86.6h0M21.6 65.2h0M39.9 58.4h0M60.4 78.2h0M91.0 92.4h0M32.2 72.0h0M53.2 20.5h0M96.7 75.5h0M69.7 79.5h0M53.1 64.6h0M68.0 59.3h0M103.4 63.7h0M47.7 42.2h0M67.6 34.0h0M55.4 100.5h0M88.5 68.5h0M73.1 35.8h0M13.5 79.6h0M67.0 69.1h0M89.2 75.7h0M22.5 63.7h0M15.7 46.3h0M37.3 64.3h0M76.7 43.7h0M71.7 64.0h0M90.1 45.3h0M39.3 100.4h0M82.6 46.1h0M58.9 84.2h0M76.4 54.9h0M40.7 68.9h0M93.7 75.5h0M40.2 51.2h0M36.5 75.3h0M66.9 52.4h0M39.9 83.9h0M75.1 103.8h0M62.9 83.9h0M68.7 56.1h0M67.7 37.9h0M91.0 63.4h0M32.5 85.6h0M49.9 63.3h0M51.1 93.8h0M83.1 99.6h0M83.0 51.1h0M86.8 66.4h0M91.5 76.5h0M23.9 63.6h0M35.5 57.8h0M31.7 41.4h0M82.0 34.6h0M65.8 48.9h0M38.0 53.7h0M74.0 45.1h0M102.2 77.2h0M58.7 106.5h0M81.3 49.4h0M78.2 29.1h0M75.5 56.6h0M84.0 33.1h0M21.1 53.3h0M73.4 48.9h0M15.6 55.1h0M80.3 68.1h0" stroke="#9890d8" stroke-opacity="0.50" stroke-width="4.4"/><path d="M64.5 61.1h0M82.9 41.2h0M15.3 70.1h0M89.6 52.7h0M53.6 48.5h0M48.5 46.8h0M26.3 30.3h0M48.0 22.5h0M35.1 33.5h0M49.4 108.4h0M64.7 91.5h0M80.1 83.0h0M83.5 24.5h0M11.8 71.4h0M89.1 49.2h0M38.4 103.4h0M22.0 48.7h0M96.3 87.0h0M85.2 91.9h0" stroke="#9890d8" stroke-opacity="0.50" stroke-width="4.9"/><path d="M19.8 76.4h0M102.4 66.3h0M76.2 30.3h0M91.2 47.3h0M45.9 33.8h0M77.9 42.6h0M98.4 85.9h0M41.9 49.1h0M69.3 96.3h0M91.6 79.6h0" stroke="#2a2490" stroke-width="2.5"/><path d="M40.7 68.9h0M93.7 75.5h0M40.2 51.2h0M36.5 75.3h0M66.9 52.4h0M39.9 83.9h0M75.1 103.8h0M62.9 83.9h0M68.7 56.1h0M67.7 37.9h0M91.0 63.4h0M32.5 85.6h0M49.9 63.3h0M51.1 93.8h0M83.1 99.6h0M83.0 51.1h0M86.8 66.4h0M91.5 76.5h0M23.9 63.6h0M35.5 57.8h0M31.7 41.4h0M82.0 34.6h0M65.8 48.9h0M38.0 53.7h0M74.0 45.1h0M102.2 77.2h0M58.7 106.5h0M81.3 49.4h0M78.2 29.1h0M75.5 56.6h0M84.0 33.1h0M21.1 53.3h0M73.4 48.9h0M15.6 55.1h0M80.3 68.1h0" stroke="#2a2490" stroke-width="3.0"/><path d="M64.5 61.1h0M82.9 41.2h0M15.3 70.1h0M89.6 52.7h0M53.6 48.5h0M48.5 46.8h0M26.3 30.3h0M48.0 22.5h0M35.1 33.5h0M49.4 108.4h0M64.7 91.5h0M80.1 83.0h0M83.5 24.5h0M11.8 71.4h0M89.1 49.2h0M38.4 103.4h0M22.0 48.7h0M96.3 87.0h0" stroke="#2a2490" stroke-width="3.5"/><path d="M45.4 42.8h0M62.1 96.2h0" stroke="#362f9b" stroke-width="1.5"/><path d="M90.2 88.2h0M32.5 96.3h0M85.2 30.1h0M50.4 62.6h0M53.5 35.0h0M92.5 39.3h0M87.1 28.1h0M79.1 76.9h0M62.8 72.6h0M38.1 28.2h0M9.6 59.3h0M64.3 57.0h0M44.6 78.4h0M52.2 111.7h0M32.2 69.7h0M89.3 41.0h0M87.6 79.2h0M67.1 99.4h0M47.1 54.4h0M43.7 91.7h0M53.7 49.3h0M91.6 38.5h0M78.0 51.0h0M24.3 55.3h0" stroke="#362f9b" stroke-width="2.0"/><path d="M68.2 81.7h0M27.6 26.0h0M46.4 78.2h0M29.4 48.6h0M63.8 64.6h0M72.7 62.6h0M38.7 76.4h0M62.8 88.4h0M69.5 34.5h0M49.6 74.7h0M63.4 92.6h0M52.5 59.7h0M98.4 82.6h0M25.4 70.9h0M47.9 83.2h0M58.0 57.0h0M76.2 45.8h0M89.7 67.5h0M17.2 53.6h0M80.6 92.7h0M72.9 81.7h0M47.9 19.2h0M66.0 103.7h0M48.5 87.8h0M89.3 44.9h0M72.0 34.9h0M81.5 72.9h0M30.8 71.5h0M50.7 71.1h0M101.0 74.1h0M56.9 47.6h0M40.0 34.1h0M88.4 44.6h0M92.1 88.9h0M83.0 91.6h0M25.3 90.8h0M62.1 64.1h0M66.2 65.9h0M95.9 82.2h0M52.9 17.0h0M42.9 81.4h0M57.3 58.3h0M49.1 83.5h0M74.2 40.8h0M53.2 84.9h0M66.9 45.5h0M34.3 21.3h0M90.8 46.9h0M77.4 106.7h0M78.8 25.9h0M50.6 43.8h0M27.6 37.3h0M64.0 63.8h0M62.7 83.9h0M53.8 23.2h0M85.2 44.8h0M71.4 44.5h0M79.3 72.5h0" stroke="#362f9b" stroke-width="2.5"/><path d="M95.4 52.5h0M89.9 97.5h0M27.2 88.0h0M33.6 87.7h0M46.5 37.3h0M79.1 53.1h0M16.1 86.6h0M21.6 65.2h0M39.9 58.4h0M60.4 78.2h0M91.0 92.4h0M32.2 72.0h0M53.2 20.5h0M96.7 75.5h0M69.7 79.5h0M53.1 64.6h0M68.0 59.3h0M103.4 63.7h0M47.7 42.2h0M67.6 34.0h0M55.4 100.5h0M88.5 68.5h0M73.1 35.8h0M13.5 79.6h0M67.0 69.1h0M89.2 75.7h0M22.5 63.7h0M15.7 46.3h0M37.3 64.3h0M76.7 43.7h0M71.7 64.0h0M90.1 45.3h0M39.3 100.4h0M82.6 46.1h0M58.9 84.2h0M76.4 54.9h0" stroke="#362f9b" stroke-width="3.0"/><path d="M85.2 91.9h0" stroke="#362f9b" stroke-width="3.5"/><path d="M69.9 83.6h0M88.9 94.8h0M82.8 77.5h0M44.6 94.0h0M55.4 110.0h0M38.7 25.9h0M33.7 87.5h0M58.2 52.3h0M59.6 41.4h0M75.1 30.9h0M41.6 25.9h0M32.0 65.4h0M47.8 76.7h0M8.8 67.7h0M32.4 22.6h0M101.2 75.7h0M75.5 59.7h0M48.0 98.2h0M68.7 30.4h0M60.9 37.1h0M82.6 62.6h0M17.4 76.1h0M102.9 64.8h0M98.5 70.0h0M95.8 53.7h0M81.0 63.4h0M11.8 63.8h0M57.7 98.5h0M64.0 40.7h0M32.7 25.9h0M20.1 96.5h0M22.2 60.3h0M35.8 90.2h0M62.2 104.6h0M97.0 86.2h0M36.5 76.7h0M89.0 35.0h0M47.5 107.0h0M11.4 75.8h0M101.6 77.3h0M42.4 108.4h0M44.4 19.9h0M40.9 86.4h0M50.8 61.4h0M29.1 37.4h0M49.0 91.7h0M34.3 71.2h0M33.7 105.0h0M88.7 69.4h0M80.2 82.7h0M44.8 104.3h0M74.2 79.9h0M80.0 91.5h0M92.4 48.8h0M76.5 80.3h0M20.5 39.8h0M19.9 45.4h0M71.1 61.6h0M83.5 74.5h0M74.2 51.9h0M66.2 79.6h0M34.5 39.2h0M89.3 35.9h0M31.3 36.8h0M46.4 33.5h0M48.8 27.2h0M46.4 82.1h0M62.1 58.2h0M63.1 54.9h0M39.0 86.1h0M69.9 85.4h0M58.4 98.0h0M32.4 79.9h0M67.8 102.5h0M59.1 51.5h0M57.2 91.7h0M73.5 75.3h0M24.8 66.7h0M82.3 28.7h0M61.4 73.5h0M65.0 36.4h0M13.3 70.6h0M54.0 83.1h0M25.4 64.1h0M73.4 47.5h0" stroke="#423ba5" stroke-width="1.5"/><path d="M68.4 49.2h0M77.9 97.6h0M74.7 63.1h0M51.1 63.1h0M78.1 60.5h0M52.6 63.3h0M102.3 77.8h0M59.4 60.9h0M69.0 36.1h0M50.9 17.4h0M64.5 90.5h0M98.7 68.0h0M77.1 78.7h0M73.3 98.5h0M35.9 77.4h0M21.0 46.2h0M23.0 61.8h0M59.1 93.3h0M77.6 55.8h0M13.9 75.6h0M89.0 62.2h0M60.5 64.7h0M33.6 46.0h0M74.8 96.3h0M64.6 62.0h0M63.3 60.3h0M72.3 77.6h0M21.1 42.1h0M47.9 91.2h0M17.4 91.3h0M69.6 34.3h0M37.6 58.6h0M52.7 37.6h0M74.1 38.1h0M48.6 18.5h0M37.5 68.6h0M34.9 51.3h0M44.7 44.7h0M74.6 61.6h0M58.3 98.3h0M61.6 29.8h0M31.0 103.9h0M52.5 91.0h0M93.4 63.7h0M52.3 83.5h0M19.5 70.5h0M35.4 72.7h0M94.8 38.9h0M84.1 84.4h0M95.2 68.7h0M14.3 70.9h0M97.6 66.1h0M62.8 38.5h0M98.1 75.2h0M87.1 85.5h0M52.9 60.1h0M93.5 94.1h0M38.8 53.7h0M21.7 61.1h0M82.8 46.7h0M92.8 90.3h0M39.9 104.8h0M53.2 49.2h0M50.3 65.3h0M65.6 70.7h0M68.9 86.8h0M79.7 82.2h0M52.3 65.9h0M102.0 65.9h0M44.7 20.8h0M82.5 50.3h0M74.2 62.4h0M83.0 36.0h0M40.4 91.4h0M96.6 87.5h0M29.3 28.4h0M97.0 63.9h0M48.7 19.2h0M73.4 47.3h0M76.9 87.4h0M61.9 94.5h0M71.9 19.5h0M64.0 30.2h0M96.8 58.3h0M96.4 48.1h0M75.4 81.9h0M81.5 83.4h0M81.9 68.2h0M79.6 81.7h0M82.0 74.7h0" stroke="#423ba5" stroke-width="2.0"/><path d="M28.0 58.6h0M43.8 52.1h0M85.4 35.1h0M23.6 52.4h0M91.8 44.5h0M69.5 104.5h0M51.0 21.1h0M99.8 65.5h0M44.0 43.6h0M38.0 70.7h0M62.2 29.0h0M36.2 61.1h0M36.8 90.6h0M51.9 84.6h0M8.1 57.9h0M30.5 39.2h0M67.0 28.2h0" stroke="#423ba5" stroke-width="2.5"/><path d="M72.2 21.0h0M34.5 90.4h0M68.0 36.6h0M53.6 91.6h0M24.3 74.0h0M85.2 55.9h0M83.8 60.0h0M83.4 76.3h0M57.2 106.5h0M88.0 74.2h0M37.8 31.1h0M87.8 36.5h0M52.0 80.2h0M48.7 96.6h0M26.0 69.4h0M83.9 72.1h0M48.4 46.0h0M66.4 104.1h0M35.2 29.7h0M38.7 85.7h0M40.6 88.5h0M62.3 57.0h0M85.5 53.5h0M84.3 31.0h0M66.6 80.7h0M103.6 62.9h0M70.5 29.4h0M10.6 51.9h0M90.6 60.7h0M82.3 46.9h0M68.7 105.2h0M22.9 46.9h0M43.3 77.5h0M34.0 69.0h0M30.3 58.4h0M38.9 25.3h0M51.5 57.6h0M64.1 75.8h0M42.9 59.3h0M16.5 80.0h0M34.7 58.9h0M11.2 75.2h0M84.7 30.1h0M91.7 32.2h0M54.3 107.6h0M60.5 105.1h0M79.3 55.8h0M90.1 40.8h0M8.6 55.2h0M22.3 69.6h0M70.9 72.3h0M88.8 63.0h0M85.1 76.6h0M36.6 51.3h0M62.4 38.4h0M70.1 27.2h0M43.5 95.7h0M91.3 52.2h0M30.0 35.6h0M30.1 33.8h0M75.5 79.0h0M27.5 52.7h0M95.1 86.3h0M60.9 24.1h0" stroke="#4e46b0" stroke-width="1.5"/><path d="M86.4 36.4h0M52.6 101.9h0M92.8 80.0h0M15.7 45.6h0M80.7 35.1h0M44.6 65.0h0M42.7 58.3h0M79.9 33.2h0M30.8 34.9h0M73.7 93.9h0" stroke="#4e46b0" stroke-width="2.0"/></g></svg><svg class="pn" style="left:620.00px;top:270.00px;width:120.00px;height:119.50px" viewBox="0 0 120.00 119.50"><rect width="120.0" height="119.5" fill="#d9d9d7"/><circle cx="60.0" cy="59.8" r="63.3" fill="#dddddb" fill-opacity="1.00" stroke="#e4e4e3" stroke-width="1.2" stroke-opacity="0.80"/><path d="M49.1 121.6A62.8 62.8 0 0 1 1.0 38.3L4.4 39.5A59.2 59.2 0 0 0 49.7 118.0Z" fill="#a29cd2" fill-opacity="0.30"/><path d="M9.4 93.8A60.9 60.9 0 0 1 -0.1 49.6" fill="none" stroke="#a29cd2" stroke-width=".7" stroke-opacity=".5"/><path d="M35.7 114.3A59.8 59.8 0 0 1 1.8 46.0" fill="none" stroke="#a29cd2" stroke-width=".7" stroke-opacity=".5"/><path d="M18.8 104.2A60.6 60.6 0 0 1 0.2 50.2" fill="none" stroke="#a29cd2" stroke-width=".7" stroke-opacity=".5"/><path d="M33.9 115.3A61.4 61.4 0 0 1 -1.4 59.4" fill="none" stroke="#a29cd2" stroke-width=".7" stroke-opacity=".5"/><circle cx="60.0" cy="59.8" r="59.2" fill="#dddddb" fill-opacity="1.00" stroke="#9b9ba9" stroke-width="0.9" stroke-opacity="0.80"/><g filter="url(#bl)"><path d="M24.7 53.2h0M78.7 68.6h0M48.5 101.5h0M12.7 61.5h0M21.6 99.1h0M13.1 46.9h0M43.7 55.3h0M103.6 61.9h0M74.4 105.5h0M36.2 78.6h0M66.4 9.0h0M109.5 54.6h0M81.5 42.9h0M90.7 99.5h0M72.1 73.7h0M36.7 45.5h0M31.4 34.6h0M85.8 48.8h0M96.2 28.8h0M8.7 72.3h0M18.1 51.8h0M82.3 90.7h0M66.4 83.6h0M18.7 93.2h0M25.2 38.5h0M106.6 34.5h0M4.0 68.0h0M54.5 72.3h0M59.7 19.5h0M68.1 65.7h0M60.0 50.3h0M53.2 102.6h0M84.0 48.9h0M38.4 82.8h0M29.1 13.7h0M39.8 90.3h0M62.4 109.1h0M72.5 21.7h0M20.4 22.9h0M59.9 78.3h0M86.8 17.7h0M87.8 69.6h0M84.3 77.2h0M87.6 94.1h0M46.5 94.6h0M64.5 20.7h0M66.8 76.5h0M49.7 12.5h0M42.1 36.5h0M51.8 31.2h0M57.4 6.6h0M101.8 86.3h0M63.2 97.8h0M92.3 87.0h0M26.4 53.6h0M73.8 94.4h0M40.6 13.7h0M11.9 77.4h0M61.4 52.8h0M22.4 73.0h0M27.0 18.2h0M52.5 32.7h0M54.6 67.2h0M82.8 24.4h0M111.1 54.3h0M77.3 92.7h0M106.8 33.8h0M76.9 46.2h0M30.0 38.8h0M15.7 24.9h0M41.6 74.8h0M50.4 67.9h0M63.9 103.8h0M53.7 88.5h0M102.1 54.5h0M53.8 7.5h0M69.6 27.7h0M77.0 86.7h0M107.1 38.5h0M14.8 39.7h0M66.5 95.0h0M61.4 5.3h0M69.5 57.0h0M38.7 66.9h0M92.2 42.5h0M30.6 64.4h0M58.6 19.1h0M59.2 32.4h0M13.8 36.5h0M114.5 72.4h0M84.3 41.1h0M28.4 59.7h0M92.8 85.7h0M42.5 61.3h0M98.2 57.3h0M87.5 89.8h0M69.2 111.7h0M85.3 106.9h0M95.2 61.0h0M68.4 54.6h0M79.3 92.5h0M16.9 41.2h0M50.6 67.9h0M40.5 28.2h0M63.6 42.0h0M61.8 101.7h0M19.4 76.1h0M75.5 106.0h0M54.7 93.6h0M27.1 41.2h0M64.6 95.0h0M43.0 30.8h0M72.0 106.0h0M75.7 103.6h0M27.7 49.7h0M12.8 41.6h0M36.9 98.7h0M55.1 34.8h0M89.6 96.5h0M94.9 23.0h0M36.7 39.8h0M20.7 97.8h0M6.0 76.3h0M87.9 31.5h0M76.5 59.9h0M33.0 76.4h0M17.1 93.0h0M32.3 87.4h0M21.6 43.5h0M66.2 92.1h0M13.3 46.0h0M76.7 66.7h0M74.8 73.0h0M104.0 81.9h0M66.9 78.3h0M34.5 52.2h0M49.5 102.1h0M97.8 102.0h0M4.0 62.5h0M60.3 86.6h0M106.8 41.3h0M99.6 36.0h0M90.9 30.7h0M104.0 24.0h0M110.6 79.7h0M82.7 16.3h0M85.6 98.5h0M23.4 25.3h0M23.0 84.6h0M99.2 92.5h0M57.4 14.8h0M101.7 24.0h0M47.6 82.2h0M6.7 40.5h0M50.9 66.6h0M92.7 86.6h0M62.3 45.6h0M44.0 80.7h0M112.6 80.3h0M97.4 76.6h0M15.1 88.4h0M75.2 47.9h0M70.6 12.6h0M84.2 9.9h0M15.5 93.7h0M30.2 98.5h0M5.1 57.4h0M70.4 102.0h0M14.2 91.3h0M27.9 33.5h0M77.3 45.9h0M15.4 75.0h0M34.2 36.3h0M64.8 62.9h0M44.8 108.4h0M35.6 20.2h0M45.3 64.2h0M66.1 30.3h0M23.2 72.7h0M69.2 45.0h0M45.0 69.1h0M107.0 62.9h0M110.6 83.4h0M108.1 79.3h0M61.2 106.8h0M109.3 86.3h0M23.7 81.6h0M58.1 78.8h0M11.1 62.9h0M104.9 59.0h0M56.1 67.6h0M18.7 48.7h0M28.0 104.9h0M107.1 74.7h0M66.5 93.6h0M111.6 54.5h0M96.3 57.1h0M39.8 100.7h0M100.1 30.7h0M47.8 114.8h0M80.3 81.6h0M20.1 42.2h0M33.5 82.8h0M64.3 5.3h0M84.5 80.5h0M20.1 64.3h0M70.3 105.8h0M49.6 49.6h0M58.3 10.0h0M99.5 54.6h0M23.3 32.0h0M103.7 90.1h0M99.3 80.4h0M48.0 63.9h0M65.5 48.0h0" stroke="#a0a0d8" stroke-opacity="0.40" stroke-width="2.7"/><path d="M43.8 81.2h0M31.5 65.2h0M57.3 80.8h0M16.2 73.0h0M42.2 22.6h0M50.4 93.6h0M7.0 49.0h0M88.6 100.7h0M48.9 92.9h0M24.7 93.1h0M62.5 72.8h0M35.3 10.4h0M14.9 84.0h0M53.2 10.9h0M95.4 29.0h0M33.5 85.3h0M49.0 72.8h0M90.7 20.0h0M48.3 28.8h0M70.7 26.9h0M91.3 17.7h0M13.1 53.5h0M89.3 70.7h0M77.0 86.0h0M42.1 95.8h0M101.5 25.2h0M25.7 101.6h0M32.2 81.3h0M90.1 92.1h0M8.4 80.0h0M35.1 109.6h0M67.5 95.4h0M89.3 47.0h0M78.2 6.6h0M58.8 95.0h0M104.7 48.5h0M43.0 22.1h0M50.2 29.8h0M66.7 104.7h0M96.8 86.9h0M4.8 62.3h0M20.5 64.8h0M102.5 58.3h0M102.1 58.9h0M80.7 8.6h0M93.6 67.1h0M19.4 35.4h0M106.7 46.8h0M95.2 98.8h0M20.1 22.7h0M99.5 60.6h0M59.4 47.5h0M16.0 49.8h0M48.8 85.5h0M66.5 11.6h0M71.3 110.3h0M66.5 88.8h0M78.1 11.9h0M16.9 92.7h0M73.3 102.4h0M47.7 8.3h0M5.3 55.7h0M28.7 75.2h0M47.2 30.7h0M34.2 10.1h0" stroke="#a0a0d8" stroke-opacity="0.40" stroke-width="3.2"/><path d="M27.7 61.6h0M104.4 91.0h0M86.9 31.9h0M89.3 58.4h0M32.2 64.1h0M71.4 14.5h0M55.6 94.8h0M5.1 66.2h0M38.6 73.4h0M72.1 95.4h0M38.6 27.0h0M81.9 15.3h0M25.9 87.6h0M4.9 55.2h0M17.3 32.3h0M87.1 39.5h0M66.8 13.2h0M91.9 101.6h0M39.4 58.0h0M38.7 108.1h0M44.7 16.6h0M87.7 69.2h0M13.7 42.9h0M107.2 73.9h0M81.6 90.6h0M103.8 95.6h0M64.2 45.4h0M24.3 64.4h0M55.4 97.9h0M30.6 40.0h0M40.1 82.9h0M84.5 57.1h0M62.0 106.0h0M5.6 47.9h0M107.7 77.1h0M37.2 86.6h0M61.0 102.2h0M108.4 43.4h0M64.9 94.1h0M49.1 88.4h0M42.7 41.6h0M40.1 20.9h0M110.3 73.8h0M11.7 50.2h0M81.2 108.9h0" stroke="#a0a0d8" stroke-opacity="0.40" stroke-width="3.7"/><path d="M98.2 80.3h0M24.9 92.5h0M34.2 12.1h0M63.0 17.6h0M49.2 84.5h0M40.8 29.3h0M21.9 65.4h0M52.2 109.7h0M11.7 81.4h0M18.7 33.8h0M77.3 70.3h0M12.6 52.7h0M100.2 78.7h0M8.2 57.9h0M63.9 23.4h0M107.7 74.9h0M106.7 90.4h0M62.5 31.6h0M9.1 39.9h0M46.9 52.4h0M92.1 98.7h0M114.8 57.2h0M87.4 27.5h0M75.4 19.9h0M110.3 39.9h0M20.6 79.9h0M44.3 14.7h0M88.8 100.7h0M67.0 92.5h0M58.7 66.8h0M80.7 9.4h0M3.6 57.3h0M43.2 25.5h0M100.1 67.0h0M30.3 105.8h0M52.5 36.6h0M80.0 105.6h0M57.9 81.8h0M104.7 67.7h0M76.0 110.6h0M25.3 77.3h0M70.3 14.3h0M78.3 12.4h0M76.4 111.7h0M15.2 53.7h0M7.9 76.4h0M68.1 113.4h0M71.7 30.4h0M9.1 79.5h0M49.2 93.6h0M59.3 8.1h0M27.2 78.3h0M108.8 57.1h0M9.0 47.7h0" stroke="#a0a0d8" stroke-opacity="0.40" stroke-width="4.2"/><path d="M90.3 106.3h0M90.8 24.3h0M25.6 53.3h0M28.1 27.4h0M71.1 51.8h0M94.9 95.4h0M78.5 110.7h0M46.2 53.4h0M33.7 51.5h0M93.6 85.9h0M103.3 63.5h0M24.1 64.1h0M81.2 8.6h0M7.4 77.3h0M110.8 66.5h0M44.8 28.2h0M75.3 48.0h0M102.7 25.1h0M62.0 7.9h0M22.7 18.3h0M52.2 50.1h0M49.3 115.2h0M10.4 45.8h0M59.6 108.0h0M77.5 75.1h0M77.9 53.2h0M61.6 71.1h0M83.6 8.7h0M73.3 11.5h0M64.3 66.2h0M36.1 64.7h0M40.3 19.0h0M63.2 4.3h0M45.3 58.6h0M53.5 93.7h0M23.5 16.5h0M4.1 66.2h0M55.3 95.4h0M106.5 70.4h0M86.6 31.2h0M88.3 107.4h0M78.1 43.3h0M29.5 73.6h0" stroke="#a0a0d8" stroke-opacity="0.40" stroke-width="4.7"/><path d="M32.9 100.1h0M53.1 42.4h0M63.0 29.2h0M4.2 68.6h0M99.4 96.2h0M38.3 88.7h0M53.5 108.3h0M72.9 5.5h0" stroke="#a0a0d8" stroke-opacity="0.40" stroke-width="5.2"/><path d="M11.7 50.2h0M81.2 108.9h0" stroke="#2a2690" stroke-width="2.5"/><path d="M104.7 67.7h0M76.0 110.6h0M25.3 77.3h0M70.3 14.3h0M78.3 12.4h0M76.4 111.7h0M15.2 53.7h0M7.9 76.4h0M68.1 113.4h0M71.7 30.4h0M9.1 79.5h0M49.2 93.6h0M59.3 8.1h0M27.2 78.3h0M108.8 57.1h0M9.0 47.7h0" stroke="#2a2690" stroke-width="3.0"/><path d="M90.3 106.3h0M90.8 24.3h0M25.6 53.3h0M28.1 27.4h0M71.1 51.8h0M94.9 95.4h0M78.5 110.7h0M46.2 53.4h0M33.7 51.5h0M93.6 85.9h0M103.3 63.5h0M24.1 64.1h0M81.2 8.6h0M7.4 77.3h0M110.8 66.5h0M44.8 28.2h0M75.3 48.0h0M102.7 25.1h0M62.0 7.9h0M22.7 18.3h0M52.2 50.1h0M49.3 115.2h0M10.4 45.8h0M59.6 108.0h0M77.5 75.1h0" stroke="#2a2690" stroke-width="3.5"/><path d="M32.9 100.1h0M53.1 42.4h0M63.0 29.2h0M4.2 68.6h0M99.4 96.2h0M38.3 88.7h0M53.5 108.3h0M72.9 5.5h0" stroke="#2a2690" stroke-width="4.0"/><path d="M99.2 92.5h0M57.4 14.8h0M101.7 24.0h0M47.6 82.2h0M6.7 40.5h0M50.9 66.6h0M92.7 86.6h0M62.3 45.6h0M44.0 80.7h0M112.6 80.3h0M97.4 76.6h0M15.1 88.4h0M75.2 47.9h0M70.6 12.6h0M84.2 9.9h0" stroke="#35319b" stroke-width="1.5"/><path d="M4.8 62.3h0M20.5 64.8h0M102.5 58.3h0M102.1 58.9h0M80.7 8.6h0M93.6 67.1h0M19.4 35.4h0M106.7 46.8h0M95.2 98.8h0M20.1 22.7h0M99.5 60.6h0M59.4 47.5h0M16.0 49.8h0M48.8 85.5h0M66.5 11.6h0M71.3 110.3h0M66.5 88.8h0M78.1 11.9h0M16.9 92.7h0M73.3 102.4h0M47.7 8.3h0M5.3 55.7h0M28.7 75.2h0M47.2 30.7h0M34.2 10.1h0" stroke="#35319b" stroke-width="2.0"/><path d="M27.7 61.6h0M104.4 91.0h0M86.9 31.9h0M89.3 58.4h0M32.2 64.1h0M71.4 14.5h0M55.6 94.8h0M5.1 66.2h0M38.6 73.4h0M72.1 95.4h0M38.6 27.0h0M81.9 15.3h0M25.9 87.6h0M4.9 55.2h0M17.3 32.3h0M87.1 39.5h0M66.8 13.2h0M91.9 101.6h0M39.4 58.0h0M38.7 108.1h0M44.7 16.6h0M87.7 69.2h0M13.7 42.9h0M107.2 73.9h0M81.6 90.6h0M103.8 95.6h0M64.2 45.4h0M24.3 64.4h0M55.4 97.9h0M30.6 40.0h0M40.1 82.9h0" stroke="#35319b" stroke-width="2.5"/><path d="M52.2 109.7h0M11.7 81.4h0M18.7 33.8h0M77.3 70.3h0M12.6 52.7h0M100.2 78.7h0M8.2 57.9h0M63.9 23.4h0M107.7 74.9h0M106.7 90.4h0M62.5 31.6h0M9.1 39.9h0M46.9 52.4h0M92.1 98.7h0M114.8 57.2h0M87.4 27.5h0M75.4 19.9h0M110.3 39.9h0M20.6 79.9h0M44.3 14.7h0M88.8 100.7h0M67.0 92.5h0M58.7 66.8h0M80.7 9.4h0M3.6 57.3h0M43.2 25.5h0M100.1 67.0h0M30.3 105.8h0M52.5 36.6h0M80.0 105.6h0M57.9 81.8h0" stroke="#35319b" stroke-width="3.0"/><path d="M77.9 53.2h0M61.6 71.1h0M83.6 8.7h0M73.3 11.5h0M64.3 66.2h0M36.1 64.7h0M40.3 19.0h0M63.2 4.3h0M45.3 58.6h0M53.5 93.7h0M23.5 16.5h0M4.1 66.2h0M55.3 95.4h0M106.5 70.4h0M86.6 31.2h0M88.3 107.4h0M78.1 43.3h0M29.5 73.6h0" stroke="#35319b" stroke-width="3.5"/><path d="M24.7 53.2h0M78.7 68.6h0M48.5 101.5h0M12.7 61.5h0M21.6 99.1h0M13.1 46.9h0M43.7 55.3h0M103.6 61.9h0M74.4 105.5h0M36.2 78.6h0M66.4 9.0h0M109.5 54.6h0M81.5 42.9h0M90.7 99.5h0M72.1 73.7h0M36.7 45.5h0M31.4 34.6h0M85.8 48.8h0M96.2 28.8h0M8.7 72.3h0M18.1 51.8h0M82.3 90.7h0M66.4 83.6h0M18.7 93.2h0M25.2 38.5h0M106.6 34.5h0M4.0 68.0h0M54.5 72.3h0M59.7 19.5h0M68.1 65.7h0M60.0 50.3h0M53.2 102.6h0M84.0 48.9h0M38.4 82.8h0M29.1 13.7h0M39.8 90.3h0M62.4 109.1h0M72.5 21.7h0M20.4 22.9h0M59.9 78.3h0M86.8 17.7h0M87.8 69.6h0M84.3 77.2h0M87.6 94.1h0M46.5 94.6h0M64.5 20.7h0M66.8 76.5h0M49.7 12.5h0M42.1 36.5h0M51.8 31.2h0M57.4 6.6h0M101.8 86.3h0M63.2 97.8h0M92.3 87.0h0M26.4 53.6h0M73.8 94.4h0M40.6 13.7h0M11.9 77.4h0M61.4 52.8h0M22.4 73.0h0M27.0 18.2h0M52.5 32.7h0M54.6 67.2h0M82.8 24.4h0M111.1 54.3h0M77.3 92.7h0M106.8 33.8h0M76.9 46.2h0M30.0 38.8h0M15.7 24.9h0M41.6 74.8h0M50.4 67.9h0M63.9 103.8h0M53.7 88.5h0M102.1 54.5h0M53.8 7.5h0M69.6 27.7h0M77.0 86.7h0M107.1 38.5h0M14.8 39.7h0M66.5 95.0h0M61.4 5.3h0M69.5 57.0h0M38.7 66.9h0M92.2 42.5h0M30.6 64.4h0M58.6 19.1h0M59.2 32.4h0M13.8 36.5h0M114.5 72.4h0M84.3 41.1h0M28.4 59.7h0M92.8 85.7h0M42.5 61.3h0M98.2 57.3h0M87.5 89.8h0M69.2 111.7h0M85.3 106.9h0M95.2 61.0h0M68.4 54.6h0M79.3 92.5h0M16.9 41.2h0M50.6 67.9h0M40.5 28.2h0M63.6 42.0h0M61.8 101.7h0M19.4 76.1h0M75.5 106.0h0M54.7 93.6h0M27.1 41.2h0M64.6 95.0h0M43.0 30.8h0M72.0 106.0h0M75.7 103.6h0M27.7 49.7h0M12.8 41.6h0M36.9 98.7h0M55.1 34.8h0M89.6 96.5h0M94.9 23.0h0M36.7 39.8h0M20.7 97.8h0M6.0 76.3h0M87.9 31.5h0M76.5 59.9h0M33.0 76.4h0M17.1 93.0h0M32.3 87.4h0M21.6 43.5h0M66.2 92.1h0M13.3 46.0h0M76.7 66.7h0M74.8 73.0h0M104.0 81.9h0M66.9 78.3h0M34.5 52.2h0M49.5 102.1h0M97.8 102.0h0M4.0 62.5h0M60.3 86.6h0M106.8 41.3h0M99.6 36.0h0M90.9 30.7h0M104.0 24.0h0M110.6 79.7h0M82.7 16.3h0M85.6 98.5h0M23.4 25.3h0M23.0 84.6h0" stroke="#3f3ba5" stroke-width="1.5"/><path d="M43.8 81.2h0M31.5 65.2h0M57.3 80.8h0M16.2 73.0h0M42.2 22.6h0M50.4 93.6h0M7.0 49.0h0M88.6 100.7h0M48.9 92.9h0M24.7 93.1h0M62.5 72.8h0M35.3 10.4h0M14.9 84.0h0M53.2 10.9h0M95.4 29.0h0M33.5 85.3h0M49.0 72.8h0M90.7 20.0h0M48.3 28.8h0M70.7 26.9h0M91.3 17.7h0M13.1 53.5h0M89.3 70.7h0M77.0 86.0h0M42.1 95.8h0M101.5 25.2h0M25.7 101.6h0M32.2 81.3h0M90.1 92.1h0M8.4 80.0h0M35.1 109.6h0M67.5 95.4h0M89.3 47.0h0M78.2 6.6h0M58.8 95.0h0M104.7 48.5h0M43.0 22.1h0M50.2 29.8h0" stroke="#3f3ba5" stroke-width="2.0"/><path d="M84.5 57.1h0M62.0 106.0h0M5.6 47.9h0M107.7 77.1h0M37.2 86.6h0M61.0 102.2h0M108.4 43.4h0M64.9 94.1h0M49.1 88.4h0M42.7 41.6h0M40.1 20.9h0M110.3 73.8h0" stroke="#3f3ba5" stroke-width="2.5"/><path d="M98.2 80.3h0M24.9 92.5h0M34.2 12.1h0M63.0 17.6h0M49.2 84.5h0M40.8 29.3h0M21.9 65.4h0" stroke="#3f3ba5" stroke-width="3.0"/><path d="M15.5 93.7h0M30.2 98.5h0M5.1 57.4h0M70.4 102.0h0M14.2 91.3h0M27.9 33.5h0M77.3 45.9h0M15.4 75.0h0M34.2 36.3h0M64.8 62.9h0M44.8 108.4h0M35.6 20.2h0M45.3 64.2h0M66.1 30.3h0M23.2 72.7h0M69.2 45.0h0M45.0 69.1h0M107.0 62.9h0M110.6 83.4h0M108.1 79.3h0M61.2 106.8h0M109.3 86.3h0M23.7 81.6h0M58.1 78.8h0M11.1 62.9h0M104.9 59.0h0M56.1 67.6h0M18.7 48.7h0M28.0 104.9h0M107.1 74.7h0M66.5 93.6h0M111.6 54.5h0M96.3 57.1h0M39.8 100.7h0M100.1 30.7h0M47.8 114.8h0M80.3 81.6h0M20.1 42.2h0M33.5 82.8h0M64.3 5.3h0M84.5 80.5h0M20.1 64.3h0M70.3 105.8h0M49.6 49.6h0M58.3 10.0h0M99.5 54.6h0M23.3 32.0h0M103.7 90.1h0M99.3 80.4h0M48.0 63.9h0M65.5 48.0h0" stroke="#4a46b0" stroke-width="1.5"/><path d="M66.7 104.7h0M96.8 86.9h0" stroke="#4a46b0" stroke-width="2.0"/></g></svg><svg class="pn" style="left:742.50px;top:270.00px;width:120.50px;height:119.50px" viewBox="0 0 120.50 119.50"><rect width="120.5" height="119.5" fill="#dddddb"/><circle cx="62.2" cy="59.8" r="63.3" fill="#e2e2e0" fill-opacity="1.00" stroke="#e7e7e6" stroke-width="1.2" stroke-opacity="0.80"/><circle cx="62.2" cy="59.8" r="57.4" fill="#e3e3e1" fill-opacity="1.00" stroke="#9e9eab" stroke-width="0.9" stroke-opacity="0.80"/><g filter="url(#bl)"><path d="M43.7 7.9h0M47.7 55.3h0M81.6 49.7h0M43.6 49.0h0M90.9 58.5h0M67.4 45.0h0M80.2 92.1h0M115.3 72.6h0M36.4 49.5h0M19.9 72.5h0M65.3 36.6h0M54.3 55.2h0M70.2 41.3h0M42.9 55.5h0M61.8 73.5h0M92.9 93.1h0M35.5 57.5h0M80.8 61.8h0M67.0 35.0h0M10.1 72.5h0M61.3 51.0h0M76.3 60.3h0M84.7 27.6h0M87.6 41.5h0M52.4 109.4h0M92.9 105.5h0M85.7 49.8h0M40.7 55.6h0M67.4 81.5h0M57.9 69.2h0M106.6 40.9h0M29.3 36.8h0M77.8 21.1h0M41.7 35.5h0M93.0 24.9h0" stroke="#a0a0d8" stroke-opacity="0.40" stroke-width="2.2"/><path d="M51.8 108.0h0M68.5 34.3h0M51.3 73.2h0M68.0 62.0h0M65.6 54.9h0M64.2 76.4h0M55.9 74.8h0M103.8 61.3h0M37.0 98.4h0M65.6 33.0h0M101.6 49.2h0M51.5 87.0h0M37.1 104.5h0M85.3 66.3h0M50.0 37.9h0M59.6 45.1h0M59.2 34.6h0M51.1 88.3h0M52.8 101.6h0M53.0 46.3h0M46.6 81.9h0M98.6 33.1h0M86.4 12.1h0M78.0 25.5h0M103.2 58.5h0M74.5 37.1h0M80.3 70.7h0M58.5 11.0h0M73.9 67.3h0M40.6 75.6h0M47.6 21.5h0M76.8 21.1h0M59.9 65.8h0M47.5 57.4h0M101.7 39.3h0M69.1 69.2h0M78.6 66.5h0M91.8 49.4h0M98.0 81.3h0M57.7 84.7h0M107.6 85.5h0M106.5 28.5h0M34.4 88.1h0M61.0 32.0h0M39.5 56.6h0M53.6 89.0h0M68.1 61.6h0M26.4 35.2h0M43.7 39.3h0M34.8 53.1h0M71.9 49.3h0M48.2 26.9h0M81.8 34.6h0M49.7 64.3h0M100.9 91.3h0M86.4 34.8h0M103.4 61.1h0M15.8 61.6h0M32.4 70.2h0M109.4 84.3h0M63.0 77.5h0M49.0 96.9h0" stroke="#a0a0d8" stroke-opacity="0.40" stroke-width="2.7"/><path d="M46.5 60.6h0M76.6 38.1h0M64.0 85.2h0M50.5 6.7h0M44.4 77.6h0M52.2 69.4h0M69.2 10.2h0M93.5 39.5h0M55.9 40.1h0M18.3 79.3h0M28.0 41.9h0M25.2 36.3h0M21.3 47.2h0M71.3 46.0h0M53.2 60.0h0M54.4 105.0h0M66.5 8.8h0M78.7 47.7h0M60.3 49.0h0M48.4 59.4h0M31.3 79.2h0M33.3 38.7h0M98.5 88.8h0M62.6 61.0h0M42.8 41.4h0M59.4 87.2h0M100.5 84.3h0M32.4 83.9h0M26.3 39.9h0M84.8 86.3h0M43.1 47.5h0M18.7 70.5h0M94.7 87.3h0M47.6 69.4h0M73.9 63.4h0M47.2 46.4h0M45.0 97.6h0M38.4 103.7h0M101.3 80.7h0M87.7 44.5h0" stroke="#a0a0d8" stroke-opacity="0.40" stroke-width="3.2"/><path d="M76.7 54.7h0M66.5 55.4h0M63.4 59.8h0M44.6 12.8h0M55.0 106.3h0M81.6 25.1h0M68.5 47.3h0M81.2 73.1h0M64.9 64.8h0M44.4 55.2h0M41.3 109.0h0M86.9 85.6h0M19.2 62.5h0M38.4 74.5h0M69.9 33.0h0M85.5 60.5h0M101.2 22.3h0M67.5 53.2h0M67.2 23.6h0M30.7 54.6h0M50.3 45.2h0M25.5 73.4h0M43.8 48.6h0M56.7 97.4h0" stroke="#a0a0d8" stroke-opacity="0.40" stroke-width="3.7"/><path d="M88.5 47.6h0M50.1 57.5h0M63.3 100.7h0M95.0 64.8h0M44.1 44.1h0M54.7 72.5h0M46.3 58.6h0M71.9 30.4h0M104.1 83.2h0M57.9 33.4h0M68.0 65.7h0M71.1 30.1h0M114.7 56.8h0M92.7 74.1h0M24.3 90.5h0M67.3 76.6h0M95.1 44.6h0M62.9 78.7h0M33.0 101.2h0M54.9 109.0h0M58.3 30.6h0M105.8 42.9h0M81.2 70.7h0M43.4 80.1h0M76.3 38.1h0M97.7 27.2h0M94.1 84.4h0M75.4 76.2h0M111.1 48.9h0M99.2 24.5h0M33.4 30.7h0M37.4 54.7h0" stroke="#a0a0d8" stroke-opacity="0.40" stroke-width="4.2"/><path d="M91.7 81.4h0M84.8 35.7h0M72.7 44.4h0M61.1 79.3h0M49.8 96.4h0M39.1 60.5h0M73.3 72.7h0" stroke="#a0a0d8" stroke-opacity="0.40" stroke-width="4.7"/><path d="M87.7 44.5h0" stroke="#1e1a60" stroke-width="2.0"/><path d="M101.2 22.3h0M67.5 53.2h0M67.2 23.6h0M30.7 54.6h0M50.3 45.2h0M25.5 73.4h0" stroke="#1e1a60" stroke-width="2.5"/><path d="M88.5 47.6h0M50.1 57.5h0M63.3 100.7h0M95.0 64.8h0M44.1 44.1h0M54.7 72.5h0M46.3 58.6h0M71.9 30.4h0M104.1 83.2h0M57.9 33.4h0M68.0 65.7h0M71.1 30.1h0M114.7 56.8h0M92.7 74.1h0M24.3 90.5h0M67.3 76.6h0M95.1 44.6h0M62.9 78.7h0" stroke="#1e1a60" stroke-width="3.0"/><path d="M91.7 81.4h0M84.8 35.7h0M72.7 44.4h0M61.1 79.3h0M49.8 96.4h0M39.1 60.5h0" stroke="#1e1a60" stroke-width="3.5"/><path d="M93.0 24.9h0" stroke="#292573" stroke-width="1.0"/><path d="M15.8 61.6h0M32.4 70.2h0M109.4 84.3h0M63.0 77.5h0M49.0 96.9h0" stroke="#292573" stroke-width="1.5"/><path d="M31.3 79.2h0M33.3 38.7h0M98.5 88.8h0M62.6 61.0h0M42.8 41.4h0M59.4 87.2h0M100.5 84.3h0M32.4 83.9h0M26.3 39.9h0M84.8 86.3h0M43.1 47.5h0M18.7 70.5h0M94.7 87.3h0M47.6 69.4h0M73.9 63.4h0M47.2 46.4h0M45.0 97.6h0M38.4 103.7h0M101.3 80.7h0" stroke="#292573" stroke-width="2.0"/><path d="M76.7 54.7h0M66.5 55.4h0M63.4 59.8h0M44.6 12.8h0M55.0 106.3h0M81.6 25.1h0M68.5 47.3h0M81.2 73.1h0M64.9 64.8h0M44.4 55.2h0M41.3 109.0h0M86.9 85.6h0M19.2 62.5h0M38.4 74.5h0M69.9 33.0h0M85.5 60.5h0" stroke="#292573" stroke-width="2.5"/><path d="M33.0 101.2h0M54.9 109.0h0M58.3 30.6h0M105.8 42.9h0M81.2 70.7h0M43.4 80.1h0M76.3 38.1h0M97.7 27.2h0M94.1 84.4h0M75.4 76.2h0M111.1 48.9h0M99.2 24.5h0M33.4 30.7h0M37.4 54.7h0" stroke="#292573" stroke-width="3.0"/><path d="M73.3 72.7h0" stroke="#292573" stroke-width="3.5"/><path d="M43.7 7.9h0M47.7 55.3h0M81.6 49.7h0M43.6 49.0h0M90.9 58.5h0M67.4 45.0h0M80.2 92.1h0M115.3 72.6h0M36.4 49.5h0M19.9 72.5h0M65.3 36.6h0" stroke="#332f87" stroke-width="1.0"/><path d="M59.6 45.1h0M59.2 34.6h0M51.1 88.3h0M52.8 101.6h0M53.0 46.3h0M46.6 81.9h0M98.6 33.1h0M86.4 12.1h0M78.0 25.5h0M103.2 58.5h0M74.5 37.1h0M80.3 70.7h0M58.5 11.0h0M73.9 67.3h0M40.6 75.6h0M47.6 21.5h0M76.8 21.1h0M59.9 65.8h0M47.5 57.4h0M101.7 39.3h0M69.1 69.2h0M78.6 66.5h0M91.8 49.4h0M98.0 81.3h0M57.7 84.7h0M107.6 85.5h0M106.5 28.5h0M34.4 88.1h0M61.0 32.0h0M39.5 56.6h0M53.6 89.0h0M68.1 61.6h0M26.4 35.2h0M43.7 39.3h0M34.8 53.1h0M71.9 49.3h0M48.2 26.9h0M81.8 34.6h0M49.7 64.3h0M100.9 91.3h0M86.4 34.8h0M103.4 61.1h0" stroke="#332f87" stroke-width="1.5"/><path d="M46.5 60.6h0M76.6 38.1h0M64.0 85.2h0M50.5 6.7h0M44.4 77.6h0M52.2 69.4h0M69.2 10.2h0M93.5 39.5h0M55.9 40.1h0M18.3 79.3h0M28.0 41.9h0M25.2 36.3h0M21.3 47.2h0M71.3 46.0h0M53.2 60.0h0M54.4 105.0h0M66.5 8.8h0M78.7 47.7h0M60.3 49.0h0M48.4 59.4h0" stroke="#332f87" stroke-width="2.0"/><path d="M43.8 48.6h0M56.7 97.4h0" stroke="#332f87" stroke-width="2.5"/><path d="M54.3 55.2h0M70.2 41.3h0M42.9 55.5h0M61.8 73.5h0M92.9 93.1h0M35.5 57.5h0M80.8 61.8h0M67.0 35.0h0M10.1 72.5h0M61.3 51.0h0M76.3 60.3h0M84.7 27.6h0M87.6 41.5h0M52.4 109.4h0M92.9 105.5h0M85.7 49.8h0M40.7 55.6h0M67.4 81.5h0M57.9 69.2h0M106.6 40.9h0M29.3 36.8h0M77.8 21.1h0M41.7 35.5h0" stroke="#3e3a9a" stroke-width="1.0"/><path d="M51.8 108.0h0M68.5 34.3h0M51.3 73.2h0M68.0 62.0h0M65.6 54.9h0M64.2 76.4h0M55.9 74.8h0M103.8 61.3h0M37.0 98.4h0M65.6 33.0h0M101.6 49.2h0M51.5 87.0h0M37.1 104.5h0M85.3 66.3h0M50.0 37.9h0" stroke="#3e3a9a" stroke-width="1.5"/></g></svg><svg class="pn" style="left:620.00px;top:393.75px;width:118.00px;height:120.00px" viewBox="0 0 118.00 120.00"><rect width="118.0" height="120.0" fill="#d9d9d7"/><circle cx="59.0" cy="60.0" r="62.5" fill="#dededc" fill-opacity="1.00" stroke="#e4e4e3" stroke-width="1.2" stroke-opacity="0.80"/><circle cx="59.0" cy="60.0" r="57.8" fill="#dfdfdd" fill-opacity="1.00" stroke="#9b9ba9" stroke-width="0.9" stroke-opacity="0.80"/><g filter="url(#bl)"><path d="M99.9 96.9h0M63.1 71.8h0M66.0 62.9h0M100.5 87.1h0M105.6 70.2h0M42.4 51.6h0M74.5 37.2h0M46.3 48.5h0M69.5 44.1h0M84.6 45.9h0M79.4 11.9h0M111.7 49.8h0M52.2 95.0h0M83.7 69.0h0M97.0 20.6h0M35.7 67.3h0M87.4 96.6h0M56.9 71.4h0M85.2 33.6h0M70.9 36.3h0M27.3 23.0h0M85.6 69.2h0M33.9 108.3h0M67.5 86.0h0M66.0 86.5h0M74.7 77.9h0M23.6 46.5h0M57.4 115.2h0M60.7 56.0h0M95.3 91.9h0M87.5 56.2h0M95.1 26.0h0M103.1 89.5h0M29.4 60.0h0M31.9 35.5h0M102.1 33.9h0M33.6 51.2h0M9.1 73.4h0M9.4 44.5h0M18.8 69.0h0M78.9 102.4h0M97.0 88.9h0M17.4 27.6h0M98.6 68.3h0M39.2 45.9h0M83.3 18.1h0M46.4 88.3h0M52.2 69.0h0M63.1 36.9h0M95.1 71.3h0M62.9 22.9h0M110.3 43.5h0M32.4 22.1h0M60.5 45.5h0M65.1 85.6h0M35.1 80.6h0M102.5 27.0h0M13.9 63.4h0M23.7 79.9h0M68.9 104.9h0M31.7 101.1h0M77.4 16.3h0M82.0 12.7h0M78.3 90.6h0M71.5 75.2h0M66.0 79.9h0M64.2 42.9h0M89.1 83.0h0M97.3 80.6h0M88.5 55.2h0M21.7 42.0h0M74.4 53.6h0M70.0 65.6h0M44.3 97.5h0M95.0 61.7h0M44.9 109.7h0M93.7 46.2h0M102.1 88.9h0M87.9 61.4h0M58.7 60.2h0M99.2 27.0h0M16.0 70.4h0M18.3 83.0h0M42.4 91.1h0M8.8 46.5h0M20.1 96.4h0M85.9 76.7h0M62.8 47.3h0M24.2 32.0h0M52.5 30.8h0M46.6 25.3h0M57.8 58.7h0M38.9 88.5h0M53.7 28.6h0M78.4 86.6h0M8.8 53.2h0M57.7 25.4h0M40.6 13.5h0M55.9 31.0h0M61.4 106.8h0M105.1 86.1h0M70.7 46.5h0M12.8 43.1h0M57.9 47.0h0M46.7 66.4h0M88.8 79.3h0M96.8 68.7h0M53.7 12.2h0M48.4 81.7h0M109.3 82.5h0M64.9 72.8h0" stroke="#9a96c8" stroke-opacity="0.55" stroke-width="3.6"/><path d="M54.6 29.3h0M78.2 107.0h0M97.3 98.3h0M70.7 107.8h0M36.2 50.4h0M86.3 89.5h0M101.3 82.4h0M56.7 106.2h0M37.2 30.4h0M59.8 65.5h0M52.7 87.4h0M102.5 92.1h0M33.4 76.1h0M78.8 65.0h0M65.9 109.0h0M34.6 26.7h0M62.0 84.9h0M9.6 73.7h0M47.3 57.6h0M87.2 41.0h0M85.1 32.3h0M82.7 99.0h0M109.9 52.9h0M20.3 70.0h0M61.7 18.4h0M107.2 82.4h0M34.1 29.8h0M26.5 49.3h0M25.1 92.2h0M43.0 89.9h0M87.1 16.4h0M86.5 11.8h0M34.5 109.1h0M41.1 82.4h0M62.2 103.6h0M84.9 101.7h0M88.9 26.0h0M52.7 9.8h0M87.7 25.6h0M97.2 88.5h0M49.0 103.8h0M83.2 12.7h0M55.3 40.9h0M21.1 55.5h0M7.7 70.2h0M26.2 24.6h0M79.3 9.2h0M39.6 101.3h0M8.4 61.4h0M65.2 31.9h0M39.9 51.7h0M28.7 90.6h0M45.0 41.4h0M78.9 105.7h0M51.6 88.8h0M63.3 95.6h0M41.6 9.6h0M78.0 67.5h0M98.0 41.0h0M35.6 106.2h0M51.6 65.9h0M73.0 92.9h0M81.7 60.4h0" stroke="#9a96c8" stroke-opacity="0.55" stroke-width="4.1"/><path d="M32.2 14.6h0M25.1 82.1h0M64.4 114.3h0M43.6 54.1h0M46.8 12.7h0M94.6 79.2h0M47.2 89.2h0M21.6 100.1h0M38.4 99.7h0M22.4 28.0h0M110.3 65.0h0M46.8 74.0h0M53.5 109.2h0M10.6 37.3h0M69.6 112.9h0M79.7 96.4h0M62.7 108.5h0M15.7 90.8h0M60.7 39.8h0M39.9 47.4h0M92.2 86.9h0M101.6 87.2h0M100.8 86.8h0M72.9 29.6h0M24.1 21.9h0M40.6 58.2h0M104.0 71.7h0M105.2 80.2h0M87.3 107.6h0M84.7 100.6h0M56.3 35.4h0M85.0 55.2h0M60.9 113.4h0M99.4 30.7h0M90.1 31.1h0M100.5 42.7h0M21.2 88.2h0M84.0 90.1h0M18.6 45.6h0M75.0 61.7h0M62.9 42.4h0M44.4 109.0h0M37.8 50.2h0M39.2 78.0h0M47.3 48.6h0M45.3 55.1h0M50.2 112.0h0M49.9 100.4h0M22.1 35.8h0M66.5 49.8h0M36.6 28.3h0M38.6 57.8h0" stroke="#9a96c8" stroke-opacity="0.55" stroke-width="4.6"/><path d="M61.9 51.3h0M9.8 55.4h0M112.3 57.7h0M98.9 97.0h0M9.5 64.5h0M102.8 29.6h0M65.1 46.8h0M47.3 12.1h0M78.3 60.6h0M12.5 81.7h0M16.9 87.8h0M48.2 95.7h0M80.4 70.7h0M62.6 9.4h0M19.5 47.3h0M63.0 22.9h0M60.2 96.3h0M34.4 66.0h0M57.8 95.9h0M48.0 11.9h0M60.2 43.4h0M94.0 50.4h0M51.7 61.4h0M33.7 26.1h0M66.1 41.8h0M82.1 83.0h0M16.0 85.1h0M62.2 14.8h0M89.5 80.0h0M44.6 95.9h0M14.1 42.0h0M102.9 39.3h0M85.6 37.6h0M39.4 34.4h0M52.6 59.7h0M58.5 25.4h0M74.0 61.3h0M73.5 10.0h0M59.5 111.5h0M84.3 44.6h0M50.5 38.7h0M38.1 36.6h0M110.1 42.3h0M4.9 61.9h0M5.7 65.5h0" stroke="#9a96c8" stroke-opacity="0.55" stroke-width="5.1"/><path d="M109.1 37.1h0M99.2 51.2h0M66.5 74.4h0M53.7 90.6h0M86.9 95.8h0M24.4 58.0h0M97.2 46.6h0M84.7 69.3h0M88.1 42.3h0M74.9 60.5h0M21.2 63.8h0M13.7 34.5h0M39.3 75.8h0M67.8 105.9h0M85.6 78.3h0M91.6 83.8h0M29.5 36.5h0M50.6 100.3h0M37.9 67.1h0M110.7 71.0h0M60.1 55.0h0M103.7 43.6h0M9.0 36.8h0M92.1 33.9h0M83.2 10.6h0M45.5 29.3h0M79.5 86.8h0M92.9 81.5h0M68.0 95.6h0" stroke="#9a96c8" stroke-opacity="0.55" stroke-width="5.6"/><path d="M90.1 31.1h0M100.5 42.7h0M21.2 88.2h0M84.0 90.1h0" stroke="#221e68" stroke-width="3.0"/><path d="M82.1 83.0h0M16.0 85.1h0M62.2 14.8h0M89.5 80.0h0M44.6 95.9h0M14.1 42.0h0M102.9 39.3h0M85.6 37.6h0M39.4 34.4h0M52.6 59.7h0M58.5 25.4h0M74.0 61.3h0M73.5 10.0h0M59.5 111.5h0M84.3 44.6h0M50.5 38.7h0" stroke="#221e68" stroke-width="3.5"/><path d="M109.1 37.1h0M99.2 51.2h0M66.5 74.4h0M53.7 90.6h0M86.9 95.8h0M24.4 58.0h0M97.2 46.6h0M84.7 69.3h0M88.1 42.3h0M74.9 60.5h0M21.2 63.8h0M13.7 34.5h0M39.3 75.8h0M67.8 105.9h0M85.6 78.3h0M91.6 83.8h0M29.5 36.5h0M50.6 100.3h0M37.9 67.1h0M110.7 71.0h0M60.1 55.0h0" stroke="#221e68" stroke-width="4.0"/><path d="M102.1 88.9h0M87.9 61.4h0M58.7 60.2h0M99.2 27.0h0M16.0 70.4h0M18.3 83.0h0M42.4 91.1h0M8.8 46.5h0" stroke="#2a2577" stroke-width="2.0"/><path d="M83.2 12.7h0M55.3 40.9h0M21.1 55.5h0M7.7 70.2h0M26.2 24.6h0M79.3 9.2h0M39.6 101.3h0M8.4 61.4h0M65.2 31.9h0M39.9 51.7h0M28.7 90.6h0M45.0 41.4h0M78.9 105.7h0M51.6 88.8h0M63.3 95.6h0M41.6 9.6h0M78.0 67.5h0M98.0 41.0h0M35.6 106.2h0M51.6 65.9h0" stroke="#2a2577" stroke-width="2.5"/><path d="M32.2 14.6h0M25.1 82.1h0M64.4 114.3h0M43.6 54.1h0M46.8 12.7h0M94.6 79.2h0M47.2 89.2h0M21.6 100.1h0M38.4 99.7h0M22.4 28.0h0M110.3 65.0h0M46.8 74.0h0M53.5 109.2h0M10.6 37.3h0M69.6 112.9h0M79.7 96.4h0M62.7 108.5h0M15.7 90.8h0M60.7 39.8h0M39.9 47.4h0M92.2 86.9h0M101.6 87.2h0M100.8 86.8h0M72.9 29.6h0M24.1 21.9h0M40.6 58.2h0M104.0 71.7h0M105.2 80.2h0M87.3 107.6h0M84.7 100.6h0M56.3 35.4h0M85.0 55.2h0M60.9 113.4h0M99.4 30.7h0" stroke="#2a2577" stroke-width="3.0"/><path d="M61.9 51.3h0M9.8 55.4h0M112.3 57.7h0M98.9 97.0h0M9.5 64.5h0M102.8 29.6h0M65.1 46.8h0M47.3 12.1h0M78.3 60.6h0M12.5 81.7h0M16.9 87.8h0M48.2 95.7h0M80.4 70.7h0M62.6 9.4h0M19.5 47.3h0M63.0 22.9h0M60.2 96.3h0M34.4 66.0h0M57.8 95.9h0M48.0 11.9h0M60.2 43.4h0M94.0 50.4h0M51.7 61.4h0M33.7 26.1h0M66.1 41.8h0" stroke="#2a2577" stroke-width="3.5"/><path d="M103.7 43.6h0M9.0 36.8h0M92.1 33.9h0M83.2 10.6h0M45.5 29.3h0M79.5 86.8h0M92.9 81.5h0M68.0 95.6h0" stroke="#2a2577" stroke-width="4.0"/><path d="M99.9 96.9h0M63.1 71.8h0M66.0 62.9h0M100.5 87.1h0M105.6 70.2h0M42.4 51.6h0M74.5 37.2h0M46.3 48.5h0M69.5 44.1h0M84.6 45.9h0M79.4 11.9h0M111.7 49.8h0M52.2 95.0h0M83.7 69.0h0M97.0 20.6h0M35.7 67.3h0M87.4 96.6h0M56.9 71.4h0M85.2 33.6h0M70.9 36.3h0M27.3 23.0h0M85.6 69.2h0M33.9 108.3h0M67.5 86.0h0M66.0 86.5h0M74.7 77.9h0M23.6 46.5h0M57.4 115.2h0M60.7 56.0h0M95.3 91.9h0M87.5 56.2h0M95.1 26.0h0M103.1 89.5h0M29.4 60.0h0M31.9 35.5h0M102.1 33.9h0M33.6 51.2h0M9.1 73.4h0M9.4 44.5h0M18.8 69.0h0M78.9 102.4h0M97.0 88.9h0M17.4 27.6h0M98.6 68.3h0M39.2 45.9h0M83.3 18.1h0M46.4 88.3h0M52.2 69.0h0M63.1 36.9h0M95.1 71.3h0M62.9 22.9h0M110.3 43.5h0M32.4 22.1h0M60.5 45.5h0M65.1 85.6h0M35.1 80.6h0M102.5 27.0h0M13.9 63.4h0M23.7 79.9h0M68.9 104.9h0M31.7 101.1h0M77.4 16.3h0M82.0 12.7h0M78.3 90.6h0M71.5 75.2h0M66.0 79.9h0M64.2 42.9h0M89.1 83.0h0M97.3 80.6h0M88.5 55.2h0M21.7 42.0h0M74.4 53.6h0M70.0 65.6h0M44.3 97.5h0M95.0 61.7h0M44.9 109.7h0M93.7 46.2h0" stroke="#322d85" stroke-width="2.0"/><path d="M54.6 29.3h0M78.2 107.0h0M97.3 98.3h0M70.7 107.8h0M36.2 50.4h0M86.3 89.5h0M101.3 82.4h0M56.7 106.2h0M37.2 30.4h0M59.8 65.5h0M52.7 87.4h0M102.5 92.1h0M33.4 76.1h0M78.8 65.0h0M65.9 109.0h0M34.6 26.7h0M62.0 84.9h0M9.6 73.7h0M47.3 57.6h0M87.2 41.0h0M85.1 32.3h0M82.7 99.0h0M109.9 52.9h0M20.3 70.0h0M61.7 18.4h0M107.2 82.4h0M34.1 29.8h0M26.5 49.3h0M25.1 92.2h0M43.0 89.9h0M87.1 16.4h0M86.5 11.8h0M34.5 109.1h0M41.1 82.4h0M62.2 103.6h0M84.9 101.7h0M88.9 26.0h0M52.7 9.8h0M87.7 25.6h0M97.2 88.5h0M49.0 103.8h0" stroke="#322d85" stroke-width="2.5"/><path d="M18.6 45.6h0M75.0 61.7h0M62.9 42.4h0M44.4 109.0h0M37.8 50.2h0M39.2 78.0h0M47.3 48.6h0M45.3 55.1h0M50.2 112.0h0M49.9 100.4h0M22.1 35.8h0M66.5 49.8h0M36.6 28.3h0M38.6 57.8h0" stroke="#322d85" stroke-width="3.0"/><path d="M38.1 36.6h0M110.1 42.3h0M4.9 61.9h0M5.7 65.5h0" stroke="#322d85" stroke-width="3.5"/><path d="M20.1 96.4h0M85.9 76.7h0M62.8 47.3h0M24.2 32.0h0M52.5 30.8h0M46.6 25.3h0M57.8 58.7h0M38.9 88.5h0M53.7 28.6h0M78.4 86.6h0M8.8 53.2h0M57.7 25.4h0M40.6 13.5h0M55.9 31.0h0M61.4 106.8h0M105.1 86.1h0M70.7 46.5h0M12.8 43.1h0M57.9 47.0h0M46.7 66.4h0M88.8 79.3h0M96.8 68.7h0M53.7 12.2h0M48.4 81.7h0M109.3 82.5h0M64.9 72.8h0" stroke="#3a3494" stroke-width="2.0"/><path d="M73.0 92.9h0M81.7 60.4h0" stroke="#3a3494" stroke-width="2.5"/></g></svg><svg class="pn" style="left:742.50px;top:394.50px;width:122.50px;height:122.50px" viewBox="0 0 122.50 122.50"><rect width="122.5" height="122.5" fill="#dfdfdd"/><circle cx="61.2" cy="61.2" r="63.7" fill="#e4e4e2" fill-opacity="1.00" stroke="#e9e9e7" stroke-width="1.2" stroke-opacity="0.80"/><circle cx="61.2" cy="61.2" r="57.6" fill="#e5e5e3" fill-opacity="1.00" stroke="#9f9fac" stroke-width="0.9" stroke-opacity="0.80"/><g filter="url(#bl)"><path d="M76.8 78.1h0M75.2 69.5h0M80.7 49.7h0M65.3 107.6h0M42.7 84.6h0M48.6 80.7h0M39.2 65.4h0M50.3 68.1h0M59.9 70.3h0M73.6 84.5h0M67.7 75.9h0M70.4 61.1h0M101.4 30.0h0M65.4 106.6h0M55.2 74.2h0M10.3 56.0h0M31.0 48.4h0M58.3 34.8h0M82.9 65.8h0M89.1 96.6h0M25.6 59.8h0M74.4 53.4h0M54.6 65.4h0M84.3 72.1h0M76.7 55.7h0M79.8 70.9h0M48.4 63.7h0M69.9 49.1h0M47.5 63.5h0M83.7 74.1h0M68.3 90.0h0M58.2 77.0h0M59.0 70.5h0M39.8 62.7h0M69.2 54.4h0M34.3 43.7h0M104.2 71.8h0M39.2 70.2h0M49.2 79.9h0M40.1 85.8h0M76.5 46.0h0M69.7 98.3h0M94.0 79.7h0M70.0 53.1h0M58.0 71.1h0M40.0 42.0h0M76.4 45.0h0M70.6 71.1h0M39.2 52.1h0M91.9 21.5h0" stroke="#a0a0d8" stroke-opacity="0.40" stroke-width="2.7"/><path d="M58.5 80.4h0M41.7 72.6h0M64.9 80.5h0M82.6 64.4h0M46.5 54.5h0M66.1 30.5h0M56.1 55.3h0M37.2 64.0h0M78.5 30.0h0M88.4 59.5h0M80.1 45.1h0M88.6 50.1h0M88.2 106.6h0M38.4 45.9h0M67.0 63.0h0M55.8 60.2h0M43.6 57.4h0M51.2 74.4h0M78.1 47.5h0M68.1 61.4h0M73.8 51.7h0M52.5 68.7h0M36.3 61.2h0M60.0 47.1h0M54.3 64.6h0M13.0 43.9h0M60.3 53.0h0M73.1 95.0h0M96.3 54.3h0M84.3 39.2h0M77.5 66.2h0M59.3 54.7h0M21.0 83.6h0" stroke="#a0a0d8" stroke-opacity="0.40" stroke-width="3.2"/><path d="M58.7 71.7h0M75.9 70.9h0M88.6 75.8h0M64.5 13.7h0M59.8 50.1h0M50.0 42.8h0M65.1 86.8h0M61.0 60.3h0M63.7 89.6h0M76.4 37.2h0M79.3 33.9h0M37.9 21.9h0M83.2 12.6h0M70.3 55.6h0M39.5 58.0h0M95.6 51.7h0M66.6 64.0h0M61.8 33.1h0M32.5 57.2h0M73.9 84.4h0M73.2 72.5h0M36.9 46.1h0M62.7 54.3h0M67.1 95.8h0M36.2 40.4h0" stroke="#a0a0d8" stroke-opacity="0.40" stroke-width="3.7"/><path d="M67.2 86.5h0M57.3 60.1h0M102.5 68.2h0M55.2 104.6h0M56.6 65.8h0M44.5 96.4h0M59.2 75.8h0M56.6 59.1h0M54.4 71.1h0M50.9 63.6h0M54.2 48.0h0M73.9 70.4h0M41.6 48.5h0M38.6 24.3h0M69.8 67.9h0M86.6 70.4h0M81.3 86.3h0M67.3 69.6h0M87.0 69.1h0M53.3 55.8h0M90.3 86.2h0M63.4 57.1h0" stroke="#a0a0d8" stroke-opacity="0.40" stroke-width="4.2"/><path d="M58.7 71.7h0M75.9 70.9h0M88.6 75.8h0M64.5 13.7h0" stroke="#1e1a60" stroke-width="2.5"/><path d="M67.2 86.5h0M57.3 60.1h0M102.5 68.2h0M55.2 104.6h0M56.6 65.8h0M44.5 96.4h0M59.2 75.8h0M56.6 59.1h0M54.4 71.1h0M50.9 63.6h0M54.2 48.0h0M73.9 70.4h0M41.6 48.5h0M38.6 24.3h0" stroke="#1e1a60" stroke-width="3.0"/><path d="M47.5 63.5h0M83.7 74.1h0M68.3 90.0h0" stroke="#292573" stroke-width="1.5"/><path d="M78.1 47.5h0M68.1 61.4h0M73.8 51.7h0M52.5 68.7h0M36.3 61.2h0M60.0 47.1h0M54.3 64.6h0M13.0 43.9h0M60.3 53.0h0M73.1 95.0h0M96.3 54.3h0M84.3 39.2h0" stroke="#292573" stroke-width="2.0"/><path d="M59.8 50.1h0M50.0 42.8h0M65.1 86.8h0M61.0 60.3h0M63.7 89.6h0M76.4 37.2h0M79.3 33.9h0M37.9 21.9h0M83.2 12.6h0M70.3 55.6h0M39.5 58.0h0M95.6 51.7h0M66.6 64.0h0M61.8 33.1h0M32.5 57.2h0M73.9 84.4h0M73.2 72.5h0M36.9 46.1h0M62.7 54.3h0M67.1 95.8h0M36.2 40.4h0" stroke="#292573" stroke-width="2.5"/><path d="M69.8 67.9h0M86.6 70.4h0M81.3 86.3h0M67.3 69.6h0M87.0 69.1h0M53.3 55.8h0M90.3 86.2h0M63.4 57.1h0" stroke="#292573" stroke-width="3.0"/><path d="M76.8 78.1h0M75.2 69.5h0M80.7 49.7h0M65.3 107.6h0M42.7 84.6h0M48.6 80.7h0M39.2 65.4h0M50.3 68.1h0M59.9 70.3h0M73.6 84.5h0M67.7 75.9h0M70.4 61.1h0M101.4 30.0h0M65.4 106.6h0M55.2 74.2h0M10.3 56.0h0M31.0 48.4h0M58.3 34.8h0M82.9 65.8h0M89.1 96.6h0M25.6 59.8h0M74.4 53.4h0M54.6 65.4h0M84.3 72.1h0M76.7 55.7h0M79.8 70.9h0M48.4 63.7h0M69.9 49.1h0" stroke="#332f87" stroke-width="1.5"/><path d="M58.5 80.4h0M41.7 72.6h0M64.9 80.5h0M82.6 64.4h0M46.5 54.5h0M66.1 30.5h0M56.1 55.3h0M37.2 64.0h0M78.5 30.0h0M88.4 59.5h0M80.1 45.1h0M88.6 50.1h0M88.2 106.6h0M38.4 45.9h0M67.0 63.0h0M55.8 60.2h0M43.6 57.4h0M51.2 74.4h0" stroke="#332f87" stroke-width="2.0"/><path d="M58.2 77.0h0M59.0 70.5h0M39.8 62.7h0M69.2 54.4h0M34.3 43.7h0M104.2 71.8h0M39.2 70.2h0M49.2 79.9h0M40.1 85.8h0M76.5 46.0h0M69.7 98.3h0M94.0 79.7h0M70.0 53.1h0M58.0 71.1h0M40.0 42.0h0M76.4 45.0h0M70.6 71.1h0M39.2 52.1h0M91.9 21.5h0" stroke="#3e3a9a" stroke-width="1.5"/><path d="M77.5 66.2h0M59.3 54.7h0M21.0 83.6h0" stroke="#3e3a9a" stroke-width="2.0"/></g></svg><svg class="pn" style="left:972.00px;top:267.00px;width:106.00px;height:108.00px" viewBox="0 0 106.00 108.00"><linearGradient id="g_d1" x1="0" y1="0" x2="0" y2="1"><stop offset="0" stop-color="#8e8e8c"/><stop offset="1" stop-color="#929290"/></linearGradient><rect width="106.0" height="108.0" fill="url(#g_d1)"/><circle cx="53.0" cy="54.0" r="53.0" fill="#989896" fill-opacity="1.00" stroke="#b1b1b0" stroke-width="1.2" stroke-opacity="0.80"/><path d="M93.2 20.3A52.5 52.5 0 0 1 79.2 99.5L76.6 94.9A47.2 47.2 0 0 0 89.1 23.7Z" fill="#9890c8" fill-opacity="0.30"/><path d="M91.6 24.8A48.4 48.4 0 0 1 101.1 59.4" fill="none" stroke="#9890c8" stroke-width=".7" stroke-opacity=".5"/><path d="M102.3 46.8A49.9 49.9 0 0 1 78.0 97.2" fill="none" stroke="#9890c8" stroke-width=".7" stroke-opacity=".5"/><path d="M90.7 25.3A47.4 47.4 0 0 1 100.3 52.6" fill="none" stroke="#9890c8" stroke-width=".7" stroke-opacity=".5"/><circle cx="53.0" cy="54.0" r="47.2" fill="#9c9c9a" fill-opacity="1.00" stroke="#55546a" stroke-width="0.9" stroke-opacity="0.80"/><g filter="url(#bl)"><path d="M32.7 56.7h0M34.5 16.5h0M51.8 61.6h0" stroke="#221c66" stroke-width="3.0"/><path d="M44.0 59.4h0M72.0 92.3h0M48.7 75.8h0M35.5 50.9h0M94.4 56.0h0M45.1 92.4h0M30.9 48.9h0M71.1 46.8h0" stroke="#221c66" stroke-width="3.5"/><path d="M48.4 60.7h0" stroke="#221c66" stroke-width="4.0"/><path d="M28.1 18.4h0M48.3 98.4h0M56.7 22.4h0M42.0 72.5h0M73.4 36.2h0" stroke="#2f2979" stroke-width="2.0"/><path d="M92.5 71.3h0M59.2 87.8h0M38.1 25.8h0M49.7 77.1h0M58.7 87.0h0M51.4 48.0h0M88.1 75.6h0M11.0 49.5h0M35.0 38.4h0M41.3 53.6h0M56.9 14.3h0M48.8 96.9h0M35.9 39.6h0M24.6 55.7h0M21.2 23.7h0M50.2 28.5h0M23.6 27.9h0" stroke="#2f2979" stroke-width="2.5"/><path d="M73.2 18.6h0M69.5 72.7h0M84.1 66.5h0M40.1 90.8h0M59.4 17.9h0M65.1 39.3h0M73.0 71.9h0M45.5 64.8h0M41.3 58.3h0M19.0 44.1h0" stroke="#2f2979" stroke-width="3.0"/><path d="M60.5 89.0h0M44.0 74.9h0M49.9 68.9h0M11.7 57.7h0M45.4 94.7h0M17.1 26.8h0" stroke="#2f2979" stroke-width="3.5"/><path d="M35.2 67.6h0" stroke="#2f2979" stroke-width="4.0"/><path d="M75.9 30.8h0M67.6 55.8h0M78.2 36.3h0M90.6 70.1h0M64.9 62.2h0M12.6 52.8h0M49.4 91.6h0M28.5 76.6h0M51.5 66.1h0M67.7 51.4h0M39.1 88.8h0M49.4 79.0h0M31.6 38.6h0M63.4 83.0h0M85.6 62.0h0M36.4 94.3h0M75.2 87.6h0M57.0 65.7h0M44.7 97.8h0" stroke="#3d378d" stroke-width="1.5"/><path d="M20.8 45.5h0M69.1 67.8h0M59.6 95.3h0M87.3 63.3h0M81.4 54.6h0M21.1 66.4h0M21.3 85.5h0M14.2 64.5h0M35.4 29.8h0M64.9 33.3h0M25.1 65.0h0M60.2 30.3h0M72.4 94.5h0M53.5 73.1h0M68.5 42.7h0M62.1 81.4h0M79.0 20.9h0M24.6 68.6h0M93.4 73.7h0M74.9 66.3h0M56.2 34.0h0M90.9 40.6h0M66.1 17.1h0M49.2 75.0h0" stroke="#3d378d" stroke-width="2.0"/><path d="M43.9 50.2h0M74.6 57.9h0M30.3 42.5h0M46.3 46.9h0M63.0 26.0h0M49.1 85.9h0M30.2 25.8h0M60.4 28.7h0M56.9 76.3h0" stroke="#3d378d" stroke-width="2.5"/><path d="M84.3 60.1h0M42.0 65.7h0M45.0 30.7h0M25.2 73.0h0M26.0 30.4h0M36.5 84.1h0M74.0 34.8h0M78.6 88.6h0M59.9 61.2h0M9.2 45.0h0M56.9 75.9h0M46.5 31.8h0M31.7 43.2h0M86.3 24.3h0" stroke="#4a44a0" stroke-width="1.5"/><path d="M42.6 83.7h0M24.9 44.3h0M25.3 84.5h0" stroke="#4a44a0" stroke-width="2.0"/></g></svg><svg class="pn" style="left:1085.00px;top:269.00px;width:105.00px;height:106.00px" viewBox="0 0 105.00 106.00"><linearGradient id="g_d2" x1="0" y1="0" x2="0" y2="1"><stop offset="0" stop-color="#888886"/><stop offset="1" stop-color="#8c8c8a"/></linearGradient><rect width="105.0" height="106.0" fill="url(#g_d2)"/><circle cx="52.5" cy="53.0" r="52.5" fill="#959593" fill-opacity="1.00" stroke="#adadac" stroke-width="1.2" stroke-opacity="0.80"/><path d="M92.3 19.6A52.0 52.0 0 0 1 78.5 98.0L75.9 93.5A46.7 46.7 0 0 0 88.3 23.0Z" fill="#9890c8" fill-opacity="0.30"/><path d="M102.7 43.6A51.1 51.1 0 0 1 87.8 90.0" fill="none" stroke="#9890c8" stroke-width=".7" stroke-opacity=".5"/><path d="M101.8 48.5A49.5 49.5 0 0 1 77.3 95.9" fill="none" stroke="#9890c8" stroke-width=".7" stroke-opacity=".5"/><path d="M99.7 42.7A48.3 48.3 0 0 1 78.3 93.9" fill="none" stroke="#9890c8" stroke-width=".7" stroke-opacity=".5"/><circle cx="52.5" cy="53.0" r="46.7" fill="#9c9c9a" fill-opacity="1.00" stroke="#55546a" stroke-width="0.9" stroke-opacity="0.80"/><g filter="url(#bl)"><path d="M43.2 76.1h0M59.0 56.9h0M67.7 43.8h0M66.5 49.6h0M47.5 32.0h0M56.5 35.5h0" stroke="#221c66" stroke-width="2.0"/><path d="M78.8 49.7h0M41.0 55.2h0M61.4 66.6h0M50.8 52.7h0M54.3 37.1h0M48.7 41.7h0M54.7 60.5h0M78.7 43.1h0M80.8 72.2h0M38.8 94.8h0M53.4 32.6h0M78.2 71.3h0M17.7 45.8h0M64.0 88.6h0M77.8 35.7h0M37.2 57.5h0M58.1 57.9h0M87.9 32.2h0M31.3 47.4h0M53.9 81.3h0M61.9 26.2h0M32.3 19.9h0M31.9 85.8h0M37.3 43.1h0M53.2 55.7h0M36.0 35.4h0M56.8 11.0h0M74.8 22.6h0M52.3 44.3h0M35.9 69.2h0M45.4 72.9h0M21.4 43.5h0M46.3 10.5h0M36.5 46.2h0M64.2 10.1h0M46.2 55.9h0M68.5 13.5h0" stroke="#221c66" stroke-width="2.5"/><path d="M59.1 38.7h0M57.8 16.7h0M53.5 58.2h0M65.4 76.8h0M20.6 52.4h0M53.7 46.6h0M55.0 53.3h0M71.0 35.9h0" stroke="#221c66" stroke-width="3.0"/><path d="M44.3 46.9h0M48.1 48.1h0M72.6 48.5h0M35.2 41.9h0M53.6 43.1h0M39.3 54.8h0M50.3 43.8h0M55.5 26.2h0M61.2 75.2h0M83.9 67.2h0M39.7 75.1h0M51.7 92.3h0M17.0 43.5h0M35.0 69.0h0M41.6 63.7h0M43.7 21.3h0M87.7 40.7h0M76.6 64.9h0M67.4 27.8h0M52.9 44.7h0M65.8 57.5h0" stroke="#2f2979" stroke-width="1.5"/><path d="M65.3 51.6h0M35.5 39.5h0M48.1 41.7h0M51.6 53.8h0M39.0 47.1h0M45.5 62.6h0M60.4 36.1h0M25.6 47.1h0M55.2 47.6h0M76.6 47.4h0M34.5 37.3h0M57.7 67.9h0M85.0 71.8h0M35.7 32.0h0M65.6 20.1h0M59.7 51.9h0M36.4 63.9h0M93.9 37.4h0M87.4 78.5h0M47.0 42.0h0M38.9 36.5h0M87.3 55.4h0M49.4 56.5h0M43.4 53.7h0M81.0 61.1h0M61.2 63.8h0M53.4 64.2h0M60.0 44.7h0M71.7 91.4h0M59.3 81.8h0M31.4 49.4h0M66.5 28.4h0M55.1 56.0h0M66.9 45.4h0M80.6 63.6h0M35.7 71.4h0M85.1 83.3h0M53.5 77.5h0M60.6 54.2h0M41.9 52.7h0M46.5 47.0h0M48.6 71.4h0M64.0 73.0h0M72.5 83.4h0M61.4 41.0h0M89.9 55.5h0M32.5 75.2h0M34.2 43.1h0M47.6 52.8h0M32.8 78.5h0" stroke="#2f2979" stroke-width="2.0"/><path d="M53.8 45.1h0M33.5 31.9h0M65.9 47.1h0M51.2 44.8h0M37.9 48.2h0M61.2 47.0h0M75.0 30.1h0M47.4 65.6h0M52.2 37.5h0M41.9 28.9h0M43.6 28.6h0M48.0 59.3h0M57.1 27.7h0M58.9 63.1h0M53.6 39.9h0M49.4 11.6h0M56.3 40.3h0M43.5 30.3h0M15.9 55.1h0M72.8 44.8h0M47.6 45.4h0M48.9 70.4h0M40.8 21.8h0M62.9 38.0h0M65.0 64.1h0M13.3 71.5h0M11.3 48.1h0M49.2 52.0h0M50.0 60.9h0M53.9 57.5h0M63.0 77.2h0M70.2 57.5h0M79.3 40.4h0M87.6 52.4h0M26.6 55.1h0M39.6 41.7h0M52.7 50.0h0M71.7 28.6h0" stroke="#2f2979" stroke-width="2.5"/><path d="M63.1 34.6h0M55.7 41.5h0M42.1 66.7h0M71.0 50.5h0M66.7 32.2h0M60.3 17.5h0M68.0 72.9h0M62.3 26.6h0M15.2 50.1h0M56.2 69.2h0M65.7 41.0h0M44.7 63.7h0M65.3 60.1h0M66.0 66.7h0M85.9 66.9h0M33.7 69.4h0M76.7 47.7h0M71.9 62.5h0M30.2 56.1h0M47.0 55.2h0M54.8 44.6h0M64.4 38.1h0M84.0 51.1h0" stroke="#3d378d" stroke-width="1.0"/><path d="M54.9 36.4h0M45.8 41.3h0M81.0 41.6h0M50.1 46.4h0M30.8 40.1h0M45.5 41.1h0M17.8 53.7h0M70.0 35.8h0M57.1 31.5h0M35.5 16.0h0M52.2 43.8h0M64.9 46.9h0M51.5 50.2h0M60.0 35.2h0M66.9 40.2h0M60.9 44.6h0M39.0 49.6h0M62.6 46.6h0M46.9 30.4h0M70.7 28.7h0M53.9 36.1h0M37.4 36.4h0M51.8 54.4h0M43.3 47.3h0M31.6 45.6h0M53.4 31.2h0M48.3 49.1h0M48.3 52.2h0M85.9 74.3h0M37.3 54.4h0M41.7 22.8h0M61.8 76.5h0M32.5 60.5h0M33.7 69.1h0M67.1 41.5h0M46.8 26.6h0M84.4 50.0h0M55.1 49.0h0M69.9 52.8h0M44.6 38.3h0M23.9 62.7h0M78.4 27.8h0M76.4 44.6h0M70.6 21.7h0M84.5 39.9h0M47.9 33.0h0M77.9 56.4h0M50.0 65.3h0M77.0 65.6h0M68.4 35.6h0M54.4 70.7h0M29.7 42.4h0M24.6 63.3h0M31.0 52.4h0M40.6 90.0h0M46.4 47.4h0M56.7 65.8h0M26.4 61.7h0M39.8 35.1h0M46.8 30.3h0M66.1 29.3h0M26.1 33.8h0M70.7 64.1h0M34.6 53.2h0M55.6 69.2h0M66.6 40.5h0M51.4 78.5h0M49.5 82.8h0M39.0 94.7h0M42.8 26.8h0M57.5 64.9h0M63.2 75.3h0M21.0 65.9h0M76.7 61.4h0M52.4 58.2h0M29.8 83.8h0M89.9 61.7h0M72.6 79.2h0M74.2 37.6h0M36.5 76.6h0M63.2 34.6h0M9.0 49.7h0M52.0 56.5h0M31.7 64.1h0M40.0 78.7h0M81.2 70.7h0M95.3 56.0h0M56.4 48.1h0M72.0 67.4h0M91.5 60.1h0M72.1 72.4h0M75.6 49.6h0M37.2 79.8h0M32.5 48.7h0M56.1 23.0h0M43.0 68.7h0M56.1 89.4h0M39.1 42.8h0M82.5 77.4h0M58.5 59.6h0M16.6 64.7h0M53.0 71.2h0M51.5 49.0h0M93.4 46.8h0M72.6 27.3h0M81.4 53.5h0M20.9 78.8h0M57.3 60.2h0M51.3 59.7h0M69.3 62.3h0M63.1 80.7h0M63.4 21.4h0" stroke="#3d378d" stroke-width="1.5"/><path d="M49.4 41.5h0M82.9 63.7h0M36.8 44.3h0M72.6 92.5h0M56.9 56.6h0M25.6 70.1h0M56.7 60.3h0M36.8 45.6h0M36.5 80.7h0M37.6 42.3h0M57.6 56.1h0M37.2 33.7h0M83.4 48.0h0M58.8 52.7h0M54.3 23.5h0M50.4 44.2h0M41.4 34.2h0M74.4 26.6h0M68.0 43.2h0M40.9 10.9h0M87.6 58.3h0M35.7 53.8h0" stroke="#3d378d" stroke-width="2.0"/><path d="M14.2 31.3h0M65.2 57.8h0" stroke="#3d378d" stroke-width="2.5"/><path d="M31.2 44.9h0M52.0 59.1h0M25.7 51.4h0M47.3 42.0h0M64.0 43.8h0M47.4 40.3h0M38.3 39.3h0M32.9 72.6h0M44.4 77.8h0M62.2 61.9h0M46.3 46.7h0M70.6 46.1h0M47.8 47.1h0M60.7 61.3h0M58.3 76.7h0M70.1 56.5h0M43.0 47.9h0M41.9 65.7h0M40.6 74.1h0M28.2 68.2h0M15.5 53.5h0M69.3 56.3h0M76.3 48.3h0M56.3 20.0h0M33.5 20.5h0M63.7 36.6h0M78.6 39.8h0M29.8 41.6h0M32.7 18.0h0M67.2 89.1h0M64.0 13.2h0M68.1 50.1h0M27.1 82.8h0M32.9 39.7h0M71.2 37.3h0M52.1 44.1h0M20.6 46.3h0M57.9 44.1h0M59.4 90.7h0" stroke="#4a44a0" stroke-width="1.0"/><path d="M64.7 58.7h0M81.5 55.0h0M49.8 43.2h0M64.8 19.0h0M38.2 59.6h0M73.4 60.0h0M37.3 35.7h0M65.0 52.6h0M67.7 24.4h0M38.3 65.7h0M92.8 36.1h0M77.0 36.6h0M56.8 31.1h0M66.4 66.1h0M61.3 64.4h0M59.8 80.5h0M38.8 51.1h0M67.8 88.7h0M16.5 37.2h0M45.3 43.5h0M20.7 84.2h0M27.8 88.4h0" stroke="#4a44a0" stroke-width="1.5"/></g></svg><svg class="pn" style="left:972.00px;top:383.75px;width:105.00px;height:103.75px" viewBox="0 0 105.00 103.75"><rect width="105.0" height="103.8" fill="#8e8e8c"/><circle cx="52.5" cy="51.9" r="51.9" fill="#979795" fill-opacity="1.00" stroke="#b0b0ae" stroke-width="1.2" stroke-opacity="0.80"/><path d="M91.9 18.9A51.4 51.4 0 0 1 26.8 96.4L29.4 91.9A46.2 46.2 0 0 0 87.9 22.2Z" fill="#9890c8" fill-opacity="0.30"/><path d="M99.9 56.3A47.6 47.6 0 0 1 73.8 94.5" fill="none" stroke="#9890c8" stroke-width=".7" stroke-opacity=".5"/><path d="M98.7 67.9A48.9 48.9 0 0 1 42.8 99.8" fill="none" stroke="#9890c8" stroke-width=".7" stroke-opacity=".5"/><path d="M97.3 31.4A49.3 49.3 0 0 1 60.1 100.5" fill="none" stroke="#9890c8" stroke-width=".7" stroke-opacity=".5"/><circle cx="52.5" cy="51.9" r="46.2" fill="#9c9c9a" fill-opacity="1.00" stroke="#55546a" stroke-width="0.9" stroke-opacity="0.80"/><g filter="url(#bl)"><path d="M41.7 57.6h0" stroke="#1c1850" stroke-width="2.0"/><path d="M41.9 20.8h0M83.2 44.5h0M78.6 51.7h0M58.6 21.6h0M34.5 85.9h0M36.3 62.0h0M78.5 61.4h0" stroke="#1c1850" stroke-width="3.0"/><path d="M57.7 52.6h0M15.8 75.5h0M64.8 65.5h0" stroke="#1c1850" stroke-width="3.5"/><path d="M55.4 11.1h0M12.7 43.1h0M21.7 47.1h0" stroke="#272365" stroke-width="1.5"/><path d="M14.1 42.7h0M72.9 17.3h0M55.2 83.7h0M21.3 59.5h0M68.3 86.7h0M39.4 36.5h0" stroke="#272365" stroke-width="2.0"/><path d="M62.1 35.1h0M51.6 52.5h0M43.8 65.3h0M92.5 66.6h0M87.6 33.9h0M56.8 77.1h0M20.2 21.6h0M17.2 65.0h0M74.6 58.7h0M46.5 45.6h0M29.8 84.9h0" stroke="#272365" stroke-width="2.5"/><path d="M42.1 38.4h0M65.9 13.5h0M39.5 64.4h0M87.5 39.4h0M74.3 54.8h0M48.8 77.2h0M22.4 41.8h0M71.4 29.9h0M72.1 18.2h0" stroke="#272365" stroke-width="3.0"/><path d="M67.0 92.7h0M84.7 54.0h0M53.9 70.7h0M39.2 34.9h0M37.1 64.9h0M25.6 48.2h0M35.6 55.3h0M44.9 12.1h0M21.9 43.9h0M91.0 48.4h0M30.2 57.3h0M86.2 54.0h0M44.8 78.0h0M31.6 64.1h0M81.3 49.4h0M63.1 20.4h0M11.8 39.1h0M23.2 83.4h0M60.9 12.1h0M81.8 21.0h0M50.3 73.5h0M19.7 36.1h0M77.0 21.6h0M56.1 10.1h0M95.2 62.2h0M16.6 67.0h0M52.8 65.4h0M38.1 48.7h0M26.9 50.9h0" stroke="#332d7b" stroke-width="1.5"/><path d="M50.3 48.6h0M54.4 11.3h0M19.5 23.8h0M16.6 32.8h0M46.0 19.0h0M91.1 46.7h0M12.9 42.0h0M85.9 64.7h0M44.3 65.7h0M68.8 15.3h0" stroke="#332d7b" stroke-width="2.0"/><path d="M23.9 83.7h0M81.8 26.2h0M52.4 84.4h0M85.0 43.6h0" stroke="#332d7b" stroke-width="2.5"/><path d="M29.9 30.4h0M95.0 40.3h0M57.5 24.5h0M47.4 24.9h0M78.2 35.9h0M76.2 62.7h0M29.4 61.1h0" stroke="#3e3890" stroke-width="1.5"/></g></svg><svg class="pn" style="left:1085.00px;top:383.50px;width:105.00px;height:104.00px" viewBox="0 0 105.00 104.00"><linearGradient id="g_d4" x1="0" y1="0" x2="0" y2="1"><stop offset="0" stop-color="#8a8a88"/><stop offset="1" stop-color="#888886"/></linearGradient><rect width="105.0" height="104.0" fill="url(#g_d4)"/><circle cx="52.5" cy="52.0" r="52.0" fill="#939391" fill-opacity="1.00" stroke="#acacab" stroke-width="1.2" stroke-opacity="0.80"/><path d="M92.0 18.9A51.5 51.5 0 0 1 78.2 96.6L75.6 92.1A46.3 46.3 0 0 0 88.0 22.3Z" fill="#9890c8" fill-opacity="0.30"/><path d="M93.5 27.3A47.9 47.9 0 0 1 90.6 81.0" fill="none" stroke="#9890c8" stroke-width=".7" stroke-opacity=".5"/><path d="M102.9 55.3A50.5 50.5 0 0 1 92.1 83.4" fill="none" stroke="#9890c8" stroke-width=".7" stroke-opacity=".5"/><path d="M100.3 43.7A48.5 48.5 0 0 1 77.2 93.8" fill="none" stroke="#9890c8" stroke-width=".7" stroke-opacity=".5"/><circle cx="52.5" cy="52.0" r="46.3" fill="#9a9a98" fill-opacity="1.00" stroke="#55546a" stroke-width="0.9" stroke-opacity="0.80"/><g filter="url(#bl)"><path d="M57.6 8.2h0" stroke="#1c1850" stroke-width="2.0"/><path d="M38.1 31.6h0M14.8 42.9h0M53.7 45.9h0M57.8 37.5h0M54.5 43.4h0M35.1 15.8h0M64.4 68.0h0M75.6 57.0h0M65.6 83.5h0" stroke="#1c1850" stroke-width="2.5"/><path d="M59.9 85.6h0M29.5 38.2h0M88.6 53.9h0M44.7 9.6h0M88.0 55.9h0M31.5 46.5h0M26.2 59.3h0M28.6 26.0h0M61.6 15.2h0M57.1 35.1h0M48.3 38.8h0M76.9 74.9h0M37.7 28.1h0M75.2 80.1h0M64.3 74.2h0M43.2 45.4h0" stroke="#1c1850" stroke-width="3.0"/><path d="M59.1 55.6h0M55.4 17.8h0M45.2 44.2h0M46.6 69.5h0M59.0 32.5h0M63.9 38.5h0" stroke="#272365" stroke-width="1.5"/><path d="M71.0 79.7h0M34.0 80.9h0M28.1 71.6h0M17.7 63.7h0M70.7 41.7h0M43.2 67.7h0M65.2 25.8h0M72.4 64.9h0M24.6 22.5h0M65.9 37.4h0M85.4 56.8h0M80.5 35.6h0M54.5 15.7h0M33.4 61.8h0M54.9 39.6h0M37.3 28.7h0M74.9 55.7h0" stroke="#272365" stroke-width="2.0"/><path d="M34.0 46.9h0M79.7 64.0h0M55.4 51.3h0M45.1 33.0h0M70.3 16.8h0M60.9 42.8h0M45.3 59.6h0M48.9 89.4h0M32.2 72.3h0M61.3 25.4h0M51.2 35.1h0M43.7 42.1h0M43.4 83.9h0M41.2 75.3h0M55.9 25.8h0M56.2 30.4h0M61.5 30.6h0M64.5 39.8h0M72.9 68.9h0" stroke="#272365" stroke-width="2.5"/><path d="M20.1 34.9h0M45.3 60.0h0M43.2 15.5h0M33.6 72.8h0M77.9 30.8h0" stroke="#272365" stroke-width="3.0"/><path d="M35.7 42.5h0M37.8 28.6h0M46.8 35.4h0M34.5 81.9h0M74.8 62.2h0M66.3 33.9h0M46.7 52.9h0M21.1 52.2h0M53.4 15.3h0M25.6 38.3h0M37.9 53.2h0M63.4 81.5h0M53.2 68.2h0M34.8 66.9h0M23.7 44.7h0M56.2 44.0h0" stroke="#332d7b" stroke-width="1.0"/><path d="M34.0 31.7h0M47.7 16.1h0M33.5 51.2h0M30.8 15.3h0M50.4 48.8h0M60.8 62.2h0M34.6 64.5h0M43.0 69.5h0M80.0 45.3h0M71.1 57.0h0M12.2 56.4h0M50.8 50.1h0M54.0 64.1h0M74.3 30.0h0M19.8 44.6h0M45.9 80.3h0M63.5 27.2h0M11.4 51.1h0M34.4 24.5h0M57.0 67.2h0M27.2 57.7h0M30.8 57.1h0M70.1 33.4h0M50.8 52.5h0M56.4 76.2h0M65.2 76.8h0M56.2 66.4h0M19.7 47.1h0M56.3 67.1h0M38.3 40.9h0M22.7 32.5h0M31.7 34.2h0M37.6 63.1h0M39.9 75.1h0M32.5 78.7h0M62.7 47.6h0M23.4 58.4h0M49.0 62.6h0M64.0 65.3h0M94.5 55.5h0M45.7 86.5h0M60.9 13.0h0M49.3 46.1h0M26.7 20.8h0M57.1 80.5h0M27.8 36.4h0M51.3 50.7h0M74.6 77.7h0M34.0 69.1h0M48.1 80.7h0M78.2 75.9h0M21.3 23.6h0M44.0 54.7h0M55.6 75.8h0M47.1 41.3h0M68.2 55.6h0M59.1 50.2h0" stroke="#332d7b" stroke-width="1.5"/><path d="M60.3 53.1h0M41.1 50.0h0M76.8 60.9h0M28.1 36.9h0M61.3 53.0h0M30.3 40.3h0M56.8 71.3h0M46.6 28.7h0M40.6 79.7h0M63.4 62.1h0M34.4 73.9h0M73.6 71.6h0M59.6 32.8h0M44.6 64.8h0M47.8 91.0h0M43.2 36.7h0M94.1 38.7h0M59.1 62.8h0M59.2 50.8h0M40.5 83.1h0M43.3 66.3h0M44.5 28.2h0" stroke="#332d7b" stroke-width="2.0"/><path d="M73.4 13.5h0M57.0 66.7h0" stroke="#332d7b" stroke-width="2.5"/><path d="M20.0 42.3h0M37.4 52.5h0M46.9 84.2h0M61.7 76.6h0M59.3 46.2h0M37.3 63.9h0M60.9 42.9h0M27.4 64.2h0M40.6 59.0h0M57.1 39.0h0M53.4 74.4h0M44.4 54.3h0M33.6 53.5h0M26.1 60.1h0M72.0 12.8h0" stroke="#3e3890" stroke-width="1.0"/><path d="M64.6 30.8h0M37.2 68.9h0M67.7 63.9h0M67.8 29.3h0M66.9 43.3h0M62.3 72.8h0M50.9 53.4h0M62.3 81.4h0M44.0 59.2h0M53.1 40.0h0M35.8 25.2h0M73.9 31.1h0M63.2 37.5h0M49.3 31.9h0" stroke="#3e3890" stroke-width="1.5"/><path d="M42.7 90.6h0" stroke="#3e3890" stroke-width="2.0"/></g></svg><svg class="pn" style="left:137.00px;top:601.50px;width:117.50px;height:116.00px" viewBox="0 0 117.50 116.00"><linearGradient id="g_e1" x1="0" y1="0" x2="0" y2="1"><stop offset="0" stop-color="#8b8b89"/><stop offset="1" stop-color="#999997"/></linearGradient><rect width="117.5" height="116.0" fill="url(#g_e1)"/><circle cx="58.8" cy="61.0" r="58.0" fill="#9b9b99" fill-opacity="1.00" stroke="#b3b3b1" stroke-width="1.2" stroke-opacity="0.80"/><path d="M30.0 11.2A57.5 57.5 0 0 1 102.8 24.0L98.7 27.4A52.2 52.2 0 0 0 32.7 15.8Z" fill="#a29cd2" fill-opacity="0.30"/><path d="M48.0 8.6A53.5 53.5 0 0 1 99.7 26.6" fill="none" stroke="#a29cd2" stroke-width=".7" stroke-opacity=".5"/><path d="M46.9 6.7A55.6 55.6 0 0 1 77.6 8.7" fill="none" stroke="#a29cd2" stroke-width=".7" stroke-opacity=".5"/><path d="M34.1 12.5A54.4 54.4 0 0 1 62.5 6.7" fill="none" stroke="#a29cd2" stroke-width=".7" stroke-opacity=".5"/><path d="M61.0 7.2A53.9 53.9 0 0 1 98.8 25.1" fill="none" stroke="#a29cd2" stroke-width=".7" stroke-opacity=".5"/><circle cx="58.8" cy="61.0" r="52.2" fill="#9d9d9b" fill-opacity="1.00" stroke="#70707e" stroke-width="0.9" stroke-opacity="0.60"/><g filter="url(#bl)"><path d="M63.4 49.8h0M11.8 44.3h0M88.6 35.2h0M46.9 55.0h0M103.2 52.2h0M28.7 52.4h0M37.2 50.6h0M76.0 63.4h0M64.6 44.3h0M45.7 78.6h0M102.4 48.3h0M19.1 66.8h0M49.7 68.2h0M87.1 26.6h0M34.1 18.2h0M79.4 106.6h0M81.6 50.1h0M37.1 73.5h0M93.0 76.8h0M55.2 33.3h0M35.4 67.6h0M77.4 68.1h0M50.3 12.7h0M72.0 82.8h0M67.2 68.6h0M82.6 27.0h0M41.5 91.7h0M56.5 85.9h0M88.3 54.8h0M54.5 57.0h0M40.7 60.2h0M82.3 21.8h0M27.9 82.0h0M54.9 96.6h0M74.1 49.3h0M84.8 102.5h0M15.5 60.4h0M69.6 95.6h0" stroke="#9a96c8" stroke-opacity="0.55" stroke-width="3.1"/><path d="M50.3 105.5h0M91.4 27.3h0M67.7 26.4h0M47.9 91.6h0M91.5 65.7h0M88.6 23.8h0M46.2 52.2h0M67.4 42.4h0M60.0 57.1h0M28.1 92.3h0M73.7 99.6h0M99.1 61.1h0M70.0 59.6h0M37.4 103.7h0M103.1 65.2h0M42.2 83.6h0M76.7 38.7h0M42.5 86.6h0M26.9 66.8h0M45.5 38.8h0M102.9 68.0h0M53.4 26.7h0M97.2 50.8h0M47.8 30.3h0M88.7 45.0h0M34.8 30.2h0M34.9 99.5h0" stroke="#9a96c8" stroke-opacity="0.55" stroke-width="3.6"/><path d="M101.4 84.8h0M9.6 61.5h0M103.0 49.5h0M71.8 39.2h0M108.3 62.7h0M79.2 47.5h0M59.3 41.2h0M50.8 62.2h0M75.1 78.5h0" stroke="#9a96c8" stroke-opacity="0.55" stroke-width="4.1"/><path d="M38.1 68.5h0M85.8 31.5h0M88.6 93.4h0M51.2 73.7h0M88.3 68.6h0M58.7 26.1h0M43.8 69.6h0" stroke="#9a96c8" stroke-opacity="0.55" stroke-width="4.6"/><path d="M91.8 50.6h0M59.2 20.8h0M64.6 50.1h0M49.6 25.4h0M29.9 81.5h0M57.2 100.9h0M59.2 97.8h0M28.3 32.8h0M43.5 22.6h0" stroke="#9a96c8" stroke-opacity="0.55" stroke-width="5.1"/><path d="M91.4 88.0h0M53.1 61.6h0M67.4 102.0h0M88.9 85.3h0M60.8 38.8h0" stroke="#9a96c8" stroke-opacity="0.55" stroke-width="5.6"/><path d="M58.7 26.1h0M43.8 69.6h0" stroke="#1c1848" stroke-width="3.0"/><path d="M57.2 100.9h0M59.2 97.8h0M28.3 32.8h0M43.5 22.6h0" stroke="#1c1848" stroke-width="3.5"/><path d="M91.4 88.0h0M53.1 61.6h0M67.4 102.0h0M88.9 85.3h0" stroke="#1c1848" stroke-width="4.0"/><path d="M15.5 60.4h0M69.6 95.6h0" stroke="#26215b" stroke-width="1.5"/><path d="M103.1 65.2h0M42.2 83.6h0M76.7 38.7h0M42.5 86.6h0M26.9 66.8h0M45.5 38.8h0M102.9 68.0h0M53.4 26.7h0M97.2 50.8h0M47.8 30.3h0" stroke="#26215b" stroke-width="2.0"/><path d="M101.4 84.8h0M9.6 61.5h0M103.0 49.5h0M71.8 39.2h0M108.3 62.7h0M79.2 47.5h0" stroke="#26215b" stroke-width="2.5"/><path d="M85.8 31.5h0M88.6 93.4h0M51.2 73.7h0M88.3 68.6h0" stroke="#26215b" stroke-width="3.0"/><path d="M91.8 50.6h0M59.2 20.8h0M64.6 50.1h0M49.6 25.4h0M29.9 81.5h0" stroke="#26215b" stroke-width="3.5"/><path d="M60.8 38.8h0" stroke="#26215b" stroke-width="4.0"/><path d="M63.4 49.8h0M11.8 44.3h0M88.6 35.2h0M46.9 55.0h0M103.2 52.2h0M28.7 52.4h0M37.2 50.6h0M76.0 63.4h0M64.6 44.3h0M45.7 78.6h0M102.4 48.3h0M19.1 66.8h0M49.7 68.2h0M87.1 26.6h0M34.1 18.2h0M79.4 106.6h0M81.6 50.1h0" stroke="#302b6d" stroke-width="1.5"/><path d="M50.3 105.5h0M91.4 27.3h0M67.7 26.4h0M47.9 91.6h0M91.5 65.7h0M88.6 23.8h0M46.2 52.2h0M67.4 42.4h0M60.0 57.1h0M28.1 92.3h0M73.7 99.6h0M99.1 61.1h0M70.0 59.6h0M37.4 103.7h0" stroke="#302b6d" stroke-width="2.0"/><path d="M59.3 41.2h0M50.8 62.2h0M75.1 78.5h0" stroke="#302b6d" stroke-width="2.5"/><path d="M38.1 68.5h0" stroke="#302b6d" stroke-width="3.0"/><path d="M37.1 73.5h0M93.0 76.8h0M55.2 33.3h0M35.4 67.6h0M77.4 68.1h0M50.3 12.7h0M72.0 82.8h0M67.2 68.6h0M82.6 27.0h0M41.5 91.7h0M56.5 85.9h0M88.3 54.8h0M54.5 57.0h0M40.7 60.2h0M82.3 21.8h0M27.9 82.0h0M54.9 96.6h0M74.1 49.3h0M84.8 102.5h0" stroke="#3a3480" stroke-width="1.5"/><path d="M88.7 45.0h0M34.8 30.2h0M34.9 99.5h0" stroke="#3a3480" stroke-width="2.0"/></g></svg><svg class="pn" style="left:257.00px;top:601.50px;width:115.70px;height:116.00px" viewBox="0 0 115.70 116.00"><linearGradient id="g_e2" x1="0" y1="0" x2="0" y2="1"><stop offset="0" stop-color="#8b8b89"/><stop offset="1" stop-color="#999997"/></linearGradient><rect width="115.7" height="116.0" fill="url(#g_e2)"/><circle cx="57.8" cy="61.0" r="57.8" fill="#9b9b99" fill-opacity="1.00" stroke="#b3b3b1" stroke-width="1.2" stroke-opacity="0.80"/><path d="M29.2 11.3A57.3 57.3 0 0 1 101.8 24.1L97.7 27.5A52.1 52.1 0 0 0 31.8 15.9Z" fill="#a29cd2" fill-opacity="0.30"/><path d="M55.1 8.4A52.6 52.6 0 0 1 84.5 15.6" fill="none" stroke="#a29cd2" stroke-width=".7" stroke-opacity=".5"/><path d="M35.3 12.9A53.1 53.1 0 0 1 57.8 7.9" fill="none" stroke="#a29cd2" stroke-width=".7" stroke-opacity=".5"/><path d="M33.8 12.2A54.4 54.4 0 0 1 56.3 6.6" fill="none" stroke="#a29cd2" stroke-width=".7" stroke-opacity=".5"/><path d="M34.1 11.6A54.8 54.8 0 0 1 76.5 9.4" fill="none" stroke="#a29cd2" stroke-width=".7" stroke-opacity=".5"/><circle cx="57.8" cy="61.0" r="52.1" fill="#9d9d9b" fill-opacity="1.00" stroke="#70707e" stroke-width="0.9" stroke-opacity="0.60"/><g filter="url(#bl)"><path d="M35.8 34.4h0M62.5 50.5h0M39.6 53.1h0M56.5 13.1h0M95.6 28.8h0M66.3 66.7h0M23.9 89.2h0M60.1 36.1h0M57.0 85.6h0M35.3 59.9h0M45.9 76.2h0M95.2 45.3h0M97.7 61.5h0M37.1 28.5h0M62.0 63.3h0M21.5 35.9h0M83.6 79.3h0M89.5 79.7h0M52.2 88.2h0M10.7 47.4h0M31.8 33.4h0M30.2 19.8h0M83.6 24.9h0M92.3 86.8h0M19.7 72.0h0M65.3 26.7h0M83.0 26.8h0M65.4 95.5h0M19.6 77.0h0M98.2 82.0h0M25.0 87.7h0" stroke="#9a96c8" stroke-opacity="0.55" stroke-width="3.1"/><path d="M56.1 21.5h0M45.2 57.7h0M74.9 22.4h0M56.9 81.2h0M16.4 50.0h0M32.4 79.2h0M43.0 13.5h0M58.4 14.8h0M91.7 73.0h0M25.9 96.1h0M38.7 91.6h0M34.1 63.3h0M61.6 107.2h0M88.9 31.9h0M54.0 38.4h0M30.0 23.1h0M71.6 22.7h0M47.6 48.3h0M54.0 72.8h0M38.2 59.5h0M69.5 100.5h0M81.1 43.2h0M32.7 66.6h0M87.0 56.4h0M72.3 76.2h0M19.9 86.7h0" stroke="#9a96c8" stroke-opacity="0.55" stroke-width="3.6"/><path d="M100.4 71.3h0M21.0 58.1h0M35.6 71.8h0M37.0 54.4h0M66.4 82.4h0M95.1 42.8h0M33.9 81.5h0M48.6 61.4h0M33.6 22.7h0M96.7 78.2h0M58.8 40.8h0M37.1 37.9h0M24.7 73.2h0M92.3 46.4h0M40.2 82.3h0M35.5 95.6h0" stroke="#9a96c8" stroke-opacity="0.55" stroke-width="4.1"/><path d="M27.8 42.9h0M79.9 25.7h0M38.3 30.8h0M90.7 70.6h0M27.0 60.6h0M87.4 40.9h0M33.1 74.7h0M87.1 23.9h0M52.2 106.2h0M98.3 40.7h0M41.9 19.0h0M52.4 97.5h0M71.2 23.3h0M61.8 73.9h0" stroke="#9a96c8" stroke-opacity="0.55" stroke-width="4.6"/><path d="M75.5 55.6h0M28.8 33.4h0M34.8 29.6h0M63.0 59.8h0M18.1 81.5h0M60.7 103.2h0M100.7 55.7h0M55.6 70.1h0M56.3 90.7h0M81.1 74.0h0" stroke="#9a96c8" stroke-opacity="0.55" stroke-width="5.1"/><path d="M78.0 25.1h0M88.6 68.8h0M43.4 81.5h0" stroke="#9a96c8" stroke-opacity="0.55" stroke-width="5.6"/><path d="M35.5 95.6h0" stroke="#1c1848" stroke-width="2.5"/><path d="M71.2 23.3h0" stroke="#1c1848" stroke-width="3.0"/><path d="M75.5 55.6h0M28.8 33.4h0M34.8 29.6h0" stroke="#1c1848" stroke-width="3.5"/><path d="M88.6 68.8h0M43.4 81.5h0" stroke="#1c1848" stroke-width="4.0"/><path d="M25.0 87.7h0" stroke="#26215b" stroke-width="1.5"/><path d="M56.1 21.5h0M45.2 57.7h0M74.9 22.4h0M56.9 81.2h0M16.4 50.0h0M32.4 79.2h0" stroke="#26215b" stroke-width="2.0"/><path d="M100.4 71.3h0M21.0 58.1h0M35.6 71.8h0M37.0 54.4h0M66.4 82.4h0M95.1 42.8h0M33.9 81.5h0M48.6 61.4h0" stroke="#26215b" stroke-width="2.5"/><path d="M27.8 42.9h0M79.9 25.7h0M38.3 30.8h0M90.7 70.6h0M27.0 60.6h0M87.4 40.9h0M33.1 74.7h0M87.1 23.9h0M52.2 106.2h0M98.3 40.7h0M41.9 19.0h0M52.4 97.5h0" stroke="#26215b" stroke-width="3.0"/><path d="M63.0 59.8h0M18.1 81.5h0M60.7 103.2h0M100.7 55.7h0M55.6 70.1h0M56.3 90.7h0M81.1 74.0h0" stroke="#26215b" stroke-width="3.5"/><path d="M78.0 25.1h0" stroke="#26215b" stroke-width="4.0"/><path d="M35.8 34.4h0M62.5 50.5h0M39.6 53.1h0M56.5 13.1h0M95.6 28.8h0M66.3 66.7h0M23.9 89.2h0M60.1 36.1h0M57.0 85.6h0M35.3 59.9h0M45.9 76.2h0M95.2 45.3h0M97.7 61.5h0" stroke="#302b6d" stroke-width="1.5"/><path d="M43.0 13.5h0M58.4 14.8h0M91.7 73.0h0M25.9 96.1h0M38.7 91.6h0M34.1 63.3h0M61.6 107.2h0M88.9 31.9h0M54.0 38.4h0M30.0 23.1h0M71.6 22.7h0M47.6 48.3h0M54.0 72.8h0M38.2 59.5h0M69.5 100.5h0M81.1 43.2h0M32.7 66.6h0M87.0 56.4h0" stroke="#302b6d" stroke-width="2.0"/><path d="M33.6 22.7h0M96.7 78.2h0M58.8 40.8h0M37.1 37.9h0M24.7 73.2h0M92.3 46.4h0M40.2 82.3h0" stroke="#302b6d" stroke-width="2.5"/><path d="M61.8 73.9h0" stroke="#302b6d" stroke-width="3.0"/><path d="M37.1 28.5h0M62.0 63.3h0M21.5 35.9h0M83.6 79.3h0M89.5 79.7h0M52.2 88.2h0M10.7 47.4h0M31.8 33.4h0M30.2 19.8h0M83.6 24.9h0M92.3 86.8h0M19.7 72.0h0M65.3 26.7h0M83.0 26.8h0M65.4 95.5h0M19.6 77.0h0M98.2 82.0h0" stroke="#3a3480" stroke-width="1.5"/><path d="M72.3 76.2h0M19.9 86.7h0" stroke="#3a3480" stroke-width="2.0"/></g></svg><svg class="pn" style="left:373.30px;top:601.50px;width:118.40px;height:116.00px" viewBox="0 0 118.40 116.00"><linearGradient id="g_e3" x1="0" y1="0" x2="0" y2="1"><stop offset="0" stop-color="#8b8b89"/><stop offset="1" stop-color="#999997"/></linearGradient><rect width="118.4" height="116.0" fill="url(#g_e3)"/><circle cx="59.2" cy="61.0" r="58.0" fill="#9b9b99" fill-opacity="1.00" stroke="#b3b3b1" stroke-width="1.2" stroke-opacity="0.80"/><path d="M30.5 11.2A57.5 57.5 0 0 1 103.2 24.0L99.2 27.4A52.2 52.2 0 0 0 33.1 15.8Z" fill="#a29cd2" fill-opacity="0.30"/><path d="M34.4 14.9A52.4 52.4 0 0 1 81.3 13.5" fill="none" stroke="#a29cd2" stroke-width=".7" stroke-opacity=".5"/><path d="M65.2 4.5A56.8 56.8 0 0 1 90.5 13.5" fill="none" stroke="#a29cd2" stroke-width=".7" stroke-opacity=".5"/><path d="M41.6 8.9A55.0 55.0 0 0 1 75.8 8.6" fill="none" stroke="#a29cd2" stroke-width=".7" stroke-opacity=".5"/><path d="M45.8 6.9A55.7 55.7 0 0 1 75.0 7.6" fill="none" stroke="#a29cd2" stroke-width=".7" stroke-opacity=".5"/><circle cx="59.2" cy="61.0" r="52.2" fill="#9d9d9b" fill-opacity="1.00" stroke="#70707e" stroke-width="0.9" stroke-opacity="0.60"/><g filter="url(#bl)"><path d="M34.6 85.6h0M61.4 39.6h0M60.5 21.5h0M32.8 80.1h0M91.7 54.4h0M55.6 14.4h0M33.3 101.8h0M46.9 31.1h0M50.8 30.0h0M47.4 104.9h0M105.2 49.3h0M77.5 77.3h0M98.2 54.3h0M57.6 20.3h0M37.9 38.8h0M36.6 73.0h0M40.4 72.9h0M90.6 48.0h0M40.3 38.2h0M31.8 81.4h0M14.7 53.5h0M65.0 16.1h0M25.1 25.6h0M18.3 48.9h0M34.4 101.7h0M61.0 32.2h0M59.8 51.0h0M64.4 105.8h0M59.3 13.8h0M54.5 54.3h0M71.6 26.0h0M36.5 58.9h0M73.0 36.3h0" stroke="#9a96c8" stroke-opacity="0.55" stroke-width="3.1"/><path d="M42.5 64.2h0M77.8 53.5h0M64.2 26.8h0M74.2 15.2h0M103.1 41.1h0M90.8 63.9h0M35.4 93.8h0M25.2 91.4h0M98.7 70.5h0M69.7 69.1h0M89.8 57.1h0M82.7 102.7h0M58.3 98.2h0M30.5 99.3h0M105.0 76.6h0M82.2 41.5h0M70.6 57.7h0M28.8 34.7h0" stroke="#9a96c8" stroke-opacity="0.55" stroke-width="3.6"/><path d="M60.9 63.5h0M86.9 75.9h0M21.8 30.4h0M82.9 70.3h0M101.5 52.6h0M89.4 99.8h0M80.5 37.9h0M107.8 64.4h0M14.7 45.4h0M54.6 73.8h0M20.0 88.1h0M23.0 53.0h0" stroke="#9a96c8" stroke-opacity="0.55" stroke-width="4.1"/><path d="M39.9 40.1h0M81.4 31.6h0M31.3 79.3h0M14.8 71.6h0M75.1 26.3h0M106.2 74.0h0M73.5 57.8h0M73.3 49.8h0M50.8 82.6h0M79.7 76.1h0M77.4 16.2h0M32.8 59.8h0" stroke="#9a96c8" stroke-opacity="0.55" stroke-width="4.6"/><path d="M40.0 17.2h0M24.6 41.8h0M108.2 67.6h0M49.6 102.2h0M72.3 27.5h0M103.3 84.6h0M59.2 31.6h0M48.8 77.5h0M71.9 34.7h0M77.5 56.6h0M13.3 67.9h0M52.9 84.2h0M57.4 32.6h0" stroke="#9a96c8" stroke-opacity="0.55" stroke-width="5.1"/><path d="M43.5 30.8h0M17.7 52.9h0M103.5 69.4h0M36.3 105.3h0M30.8 52.9h0M100.9 36.2h0M60.1 52.6h0" stroke="#9a96c8" stroke-opacity="0.55" stroke-width="5.6"/><path d="M77.4 16.2h0" stroke="#1c1848" stroke-width="3.0"/><path d="M40.0 17.2h0M24.6 41.8h0M108.2 67.6h0M49.6 102.2h0M72.3 27.5h0M103.3 84.6h0M59.2 31.6h0M48.8 77.5h0M71.9 34.7h0" stroke="#1c1848" stroke-width="3.5"/><path d="M36.3 105.3h0M30.8 52.9h0M100.9 36.2h0M60.1 52.6h0" stroke="#1c1848" stroke-width="4.0"/><path d="M73.0 36.3h0" stroke="#26215b" stroke-width="1.5"/><path d="M30.5 99.3h0M105.0 76.6h0M82.2 41.5h0M70.6 57.7h0" stroke="#26215b" stroke-width="2.0"/><path d="M80.5 37.9h0M107.8 64.4h0M14.7 45.4h0M54.6 73.8h0M20.0 88.1h0M23.0 53.0h0" stroke="#26215b" stroke-width="2.5"/><path d="M39.9 40.1h0M81.4 31.6h0M31.3 79.3h0M14.8 71.6h0M75.1 26.3h0M106.2 74.0h0M73.5 57.8h0M73.3 49.8h0M50.8 82.6h0M79.7 76.1h0" stroke="#26215b" stroke-width="3.0"/><path d="M77.5 56.6h0M13.3 67.9h0M52.9 84.2h0M57.4 32.6h0" stroke="#26215b" stroke-width="3.5"/><path d="M43.5 30.8h0M17.7 52.9h0M103.5 69.4h0" stroke="#26215b" stroke-width="4.0"/><path d="M37.9 38.8h0M36.6 73.0h0M40.4 72.9h0M90.6 48.0h0M40.3 38.2h0M31.8 81.4h0M14.7 53.5h0M65.0 16.1h0M25.1 25.6h0M18.3 48.9h0M34.4 101.7h0M61.0 32.2h0M59.8 51.0h0M64.4 105.8h0M59.3 13.8h0M54.5 54.3h0M71.6 26.0h0M36.5 58.9h0" stroke="#302b6d" stroke-width="1.5"/><path d="M42.5 64.2h0M77.8 53.5h0M64.2 26.8h0M74.2 15.2h0M103.1 41.1h0M90.8 63.9h0M35.4 93.8h0M25.2 91.4h0M98.7 70.5h0M69.7 69.1h0M89.8 57.1h0M82.7 102.7h0M58.3 98.2h0" stroke="#302b6d" stroke-width="2.0"/><path d="M60.9 63.5h0M86.9 75.9h0M21.8 30.4h0M82.9 70.3h0M101.5 52.6h0M89.4 99.8h0" stroke="#302b6d" stroke-width="2.5"/><path d="M32.8 59.8h0" stroke="#302b6d" stroke-width="3.0"/><path d="M34.6 85.6h0M61.4 39.6h0M60.5 21.5h0M32.8 80.1h0M91.7 54.4h0M55.6 14.4h0M33.3 101.8h0M46.9 31.1h0M50.8 30.0h0M47.4 104.9h0M105.2 49.3h0M77.5 77.3h0M98.2 54.3h0M57.6 20.3h0" stroke="#3a3480" stroke-width="1.5"/><path d="M28.8 34.7h0" stroke="#3a3480" stroke-width="2.0"/></g></svg><svg class="pn" style="left:491.70px;top:601.50px;width:125.00px;height:116.00px" viewBox="0 0 125.00 116.00"><linearGradient id="g_e4" x1="0" y1="0" x2="0" y2="1"><stop offset="0" stop-color="#8b8b89"/><stop offset="1" stop-color="#999997"/></linearGradient><rect width="125.0" height="116.0" fill="url(#g_e4)"/><circle cx="62.5" cy="61.0" r="58.0" fill="#9b9b99" fill-opacity="1.00" stroke="#b3b3b1" stroke-width="1.2" stroke-opacity="0.80"/><path d="M33.8 11.2A57.5 57.5 0 0 1 106.5 24.0L102.5 27.4A52.2 52.2 0 0 0 36.4 15.8Z" fill="#a29cd2" fill-opacity="0.30"/><path d="M48.2 6.7A56.2 56.2 0 0 1 85.1 9.6" fill="none" stroke="#a29cd2" stroke-width=".7" stroke-opacity=".5"/><path d="M38.9 10.2A56.0 56.0 0 0 1 85.7 10.0" fill="none" stroke="#a29cd2" stroke-width=".7" stroke-opacity=".5"/><path d="M56.2 5.1A56.3 56.3 0 0 1 101.2 20.2" fill="none" stroke="#a29cd2" stroke-width=".7" stroke-opacity=".5"/><path d="M53.1 8.4A53.5 53.5 0 0 1 78.4 10.0" fill="none" stroke="#a29cd2" stroke-width=".7" stroke-opacity=".5"/><circle cx="62.5" cy="61.0" r="52.2" fill="#9d9d9b" fill-opacity="1.00" stroke="#70707e" stroke-width="0.9" stroke-opacity="0.60"/><g filter="url(#bl)"><path d="M78.5 101.4h0M51.7 14.6h0M44.9 80.8h0M105.3 74.7h0M50.7 41.9h0M85.0 64.0h0M93.3 38.1h0M45.1 20.9h0M84.7 94.4h0M22.9 71.6h0M41.1 55.3h0M47.9 47.3h0M25.5 73.3h0M28.1 79.0h0M51.7 95.9h0M45.1 88.9h0M38.5 55.7h0M63.8 104.8h0M110.4 58.1h0M27.4 73.6h0M58.8 84.8h0M59.6 67.3h0M66.3 68.4h0M45.0 19.8h0M79.8 62.2h0M83.5 45.2h0M50.4 15.4h0M66.5 18.5h0M82.0 73.1h0M86.1 29.0h0M78.6 48.6h0M81.6 26.6h0M60.2 36.4h0M33.7 53.9h0" stroke="#9a96c8" stroke-opacity="0.55" stroke-width="3.1"/><path d="M39.4 72.3h0M23.7 77.4h0M39.1 49.7h0M91.2 29.0h0M44.8 49.9h0M30.3 60.1h0M57.7 65.4h0M48.4 60.1h0M94.6 41.0h0M47.0 25.3h0M35.0 37.8h0M70.8 83.3h0M58.5 97.1h0M51.5 69.3h0M28.6 71.6h0M96.8 30.5h0M46.5 95.7h0M49.6 38.6h0M33.4 75.5h0M74.9 70.6h0M75.3 76.1h0M51.2 32.8h0" stroke="#9a96c8" stroke-opacity="0.55" stroke-width="3.6"/><path d="M62.7 46.5h0M51.9 70.4h0M59.3 17.3h0M62.9 47.3h0M48.6 74.3h0M41.6 33.1h0M54.6 27.9h0M44.9 86.3h0M80.4 82.9h0M54.7 60.2h0M75.4 64.4h0M98.0 31.4h0M75.5 104.0h0M102.3 39.0h0M82.6 34.7h0M72.8 30.0h0M52.9 91.4h0" stroke="#9a96c8" stroke-opacity="0.55" stroke-width="4.1"/><path d="M47.7 92.3h0M22.7 72.3h0M85.2 64.4h0M47.8 102.5h0M32.1 77.7h0M65.1 69.7h0M78.7 108.1h0M55.9 34.0h0M37.0 49.3h0M43.5 103.1h0M58.7 51.2h0M52.5 60.0h0M104.6 83.8h0M50.5 35.5h0M61.1 47.8h0M94.3 69.0h0M27.6 91.8h0" stroke="#9a96c8" stroke-opacity="0.55" stroke-width="4.6"/><path d="M76.6 57.8h0M93.3 79.3h0M65.3 66.0h0M66.8 38.6h0M81.7 47.1h0M88.6 23.8h0" stroke="#9a96c8" stroke-opacity="0.55" stroke-width="5.1"/><path d="M108.2 46.2h0M25.2 73.7h0M57.6 17.5h0M69.2 46.2h0" stroke="#9a96c8" stroke-opacity="0.55" stroke-width="5.6"/><path d="M104.6 83.8h0M50.5 35.5h0M61.1 47.8h0" stroke="#1c1848" stroke-width="3.0"/><path d="M81.7 47.1h0M88.6 23.8h0" stroke="#1c1848" stroke-width="3.5"/><path d="M108.2 46.2h0M25.2 73.7h0M57.6 17.5h0M69.2 46.2h0" stroke="#1c1848" stroke-width="4.0"/><path d="M96.8 30.5h0M46.5 95.7h0M49.6 38.6h0" stroke="#26215b" stroke-width="2.0"/><path d="M54.6 27.9h0M44.9 86.3h0M80.4 82.9h0M54.7 60.2h0M75.4 64.4h0M98.0 31.4h0M75.5 104.0h0M102.3 39.0h0M82.6 34.7h0M72.8 30.0h0M52.9 91.4h0" stroke="#26215b" stroke-width="2.5"/><path d="M47.7 92.3h0M22.7 72.3h0M85.2 64.4h0M47.8 102.5h0M32.1 77.7h0M65.1 69.7h0M78.7 108.1h0M55.9 34.0h0M37.0 49.3h0M43.5 103.1h0M58.7 51.2h0M52.5 60.0h0" stroke="#26215b" stroke-width="3.0"/><path d="M76.6 57.8h0M93.3 79.3h0M65.3 66.0h0M66.8 38.6h0" stroke="#26215b" stroke-width="3.5"/><path d="M78.5 101.4h0M51.7 14.6h0M44.9 80.8h0M105.3 74.7h0M50.7 41.9h0M85.0 64.0h0M93.3 38.1h0M45.1 20.9h0M84.7 94.4h0M22.9 71.6h0M41.1 55.3h0M47.9 47.3h0M25.5 73.3h0M28.1 79.0h0M51.7 95.9h0M45.1 88.9h0M38.5 55.7h0" stroke="#302b6d" stroke-width="1.5"/><path d="M39.4 72.3h0M23.7 77.4h0M39.1 49.7h0M91.2 29.0h0M44.8 49.9h0M30.3 60.1h0M57.7 65.4h0M48.4 60.1h0M94.6 41.0h0M47.0 25.3h0M35.0 37.8h0M70.8 83.3h0M58.5 97.1h0M51.5 69.3h0M28.6 71.6h0" stroke="#302b6d" stroke-width="2.0"/><path d="M62.7 46.5h0M51.9 70.4h0M59.3 17.3h0M62.9 47.3h0M48.6 74.3h0" stroke="#302b6d" stroke-width="2.5"/><path d="M94.3 69.0h0M27.6 91.8h0" stroke="#302b6d" stroke-width="3.0"/><path d="M63.8 104.8h0M110.4 58.1h0M27.4 73.6h0M58.8 84.8h0M59.6 67.3h0M66.3 68.4h0M45.0 19.8h0M79.8 62.2h0M83.5 45.2h0M50.4 15.4h0M66.5 18.5h0M82.0 73.1h0M86.1 29.0h0M78.6 48.6h0M81.6 26.6h0M60.2 36.4h0M33.7 53.9h0" stroke="#3a3480" stroke-width="1.5"/><path d="M33.4 75.5h0M74.9 70.6h0M75.3 76.1h0M51.2 32.8h0" stroke="#3a3480" stroke-width="2.0"/><path d="M41.6 33.1h0" stroke="#3a3480" stroke-width="2.5"/></g></svg><svg class="pn" style="left:618.30px;top:601.50px;width:114.40px;height:116.00px" viewBox="0 0 114.40 116.00"><linearGradient id="g_e5" x1="0" y1="0" x2="0" y2="1"><stop offset="0" stop-color="#8b8b89"/><stop offset="1" stop-color="#999997"/></linearGradient><rect width="114.4" height="116.0" fill="url(#g_e5)"/><circle cx="57.2" cy="61.0" r="57.2" fill="#9b9b99" fill-opacity="1.00" stroke="#b3b3b1" stroke-width="1.2" stroke-opacity="0.80"/><path d="M28.9 11.9A56.7 56.7 0 0 1 100.6 24.6L96.6 27.9A51.5 51.5 0 0 0 31.5 16.4Z" fill="#a29cd2" fill-opacity="0.30"/><path d="M47.5 6.0A55.9 55.9 0 0 1 96.2 21.0" fill="none" stroke="#a29cd2" stroke-width=".7" stroke-opacity=".5"/><path d="M37.6 9.3A55.3 55.3 0 0 1 67.5 6.7" fill="none" stroke="#a29cd2" stroke-width=".7" stroke-opacity=".5"/><path d="M37.7 10.4A54.2 54.2 0 0 1 77.3 10.6" fill="none" stroke="#a29cd2" stroke-width=".7" stroke-opacity=".5"/><path d="M61.0 9.2A51.9 51.9 0 0 1 82.8 15.8" fill="none" stroke="#a29cd2" stroke-width=".7" stroke-opacity=".5"/><circle cx="57.2" cy="61.0" r="51.5" fill="#9d9d9b" fill-opacity="1.00" stroke="#70707e" stroke-width="0.9" stroke-opacity="0.60"/><g filter="url(#bl)"><path d="M45.6 74.7h0M17.7 78.0h0M74.6 81.9h0M83.7 77.7h0M27.5 67.2h0M20.3 84.2h0M84.5 33.5h0M30.1 48.9h0M22.3 76.7h0M49.9 90.3h0M101.5 77.1h0M58.4 87.9h0M75.7 58.4h0M76.8 58.3h0M40.9 44.7h0M14.0 44.0h0M45.2 70.8h0M65.8 105.6h0M56.2 78.1h0M93.8 64.0h0M60.5 55.3h0M70.0 17.6h0M70.2 44.2h0M55.9 33.0h0M17.1 48.9h0M90.8 44.0h0M12.7 63.0h0M39.8 106.2h0M57.0 71.7h0M81.2 26.8h0" stroke="#9a96c8" stroke-opacity="0.55" stroke-width="3.1"/><path d="M50.8 17.8h0M49.9 74.3h0M45.1 98.5h0M62.9 98.0h0M8.4 62.9h0M102.9 76.1h0M38.1 84.6h0M79.6 92.0h0M45.9 98.6h0M103.4 77.7h0M44.3 18.0h0M44.4 86.1h0M80.8 18.7h0M83.4 42.3h0" stroke="#9a96c8" stroke-opacity="0.55" stroke-width="3.6"/><path d="M27.1 68.3h0M65.6 51.4h0M62.0 47.1h0M35.2 26.9h0M29.4 31.1h0M93.6 75.4h0M77.9 94.7h0M62.8 69.9h0M52.3 58.4h0M79.7 68.3h0M33.4 88.7h0M39.1 64.2h0M80.5 40.9h0" stroke="#9a96c8" stroke-opacity="0.55" stroke-width="4.1"/><path d="M64.7 21.1h0M51.5 14.3h0M56.8 100.7h0M92.5 38.3h0M71.9 73.8h0M64.9 63.4h0M34.4 61.6h0M31.5 27.9h0M23.7 79.5h0M79.7 44.1h0M43.4 87.6h0M22.2 81.3h0" stroke="#9a96c8" stroke-opacity="0.55" stroke-width="4.6"/><path d="M68.8 41.8h0M30.9 79.9h0M75.5 54.5h0M86.3 55.8h0M30.9 89.2h0M64.6 21.6h0M84.5 24.7h0M73.9 53.1h0" stroke="#9a96c8" stroke-opacity="0.55" stroke-width="5.1"/><path d="M35.6 61.5h0M79.2 67.3h0M88.5 31.8h0" stroke="#9a96c8" stroke-opacity="0.55" stroke-width="5.6"/><path d="M31.5 27.9h0M23.7 79.5h0M79.7 44.1h0M43.4 87.6h0M22.2 81.3h0" stroke="#1c1848" stroke-width="3.0"/><path d="M68.8 41.8h0M30.9 79.9h0M75.5 54.5h0" stroke="#1c1848" stroke-width="3.5"/><path d="M35.6 61.5h0M79.2 67.3h0M88.5 31.8h0" stroke="#1c1848" stroke-width="4.0"/><path d="M81.2 26.8h0" stroke="#26215b" stroke-width="1.5"/><path d="M103.4 77.7h0M44.3 18.0h0M44.4 86.1h0" stroke="#26215b" stroke-width="2.0"/><path d="M29.4 31.1h0M93.6 75.4h0M77.9 94.7h0M62.8 69.9h0M52.3 58.4h0M79.7 68.3h0M33.4 88.7h0M39.1 64.2h0M80.5 40.9h0" stroke="#26215b" stroke-width="2.5"/><path d="M64.7 21.1h0M51.5 14.3h0M56.8 100.7h0M92.5 38.3h0M71.9 73.8h0M64.9 63.4h0M34.4 61.6h0" stroke="#26215b" stroke-width="3.0"/><path d="M86.3 55.8h0M30.9 89.2h0M64.6 21.6h0M84.5 24.7h0" stroke="#26215b" stroke-width="3.5"/><path d="M45.6 74.7h0M17.7 78.0h0M74.6 81.9h0M83.7 77.7h0M27.5 67.2h0M20.3 84.2h0M84.5 33.5h0M30.1 48.9h0M22.3 76.7h0M49.9 90.3h0M101.5 77.1h0M58.4 87.9h0M75.7 58.4h0M76.8 58.3h0M40.9 44.7h0M14.0 44.0h0" stroke="#302b6d" stroke-width="1.5"/><path d="M50.8 17.8h0M49.9 74.3h0M45.1 98.5h0M62.9 98.0h0M8.4 62.9h0M102.9 76.1h0M38.1 84.6h0M79.6 92.0h0M45.9 98.6h0" stroke="#302b6d" stroke-width="2.0"/><path d="M27.1 68.3h0M65.6 51.4h0M62.0 47.1h0M35.2 26.9h0" stroke="#302b6d" stroke-width="2.5"/><path d="M73.9 53.1h0" stroke="#302b6d" stroke-width="3.5"/><path d="M45.2 70.8h0M65.8 105.6h0M56.2 78.1h0M93.8 64.0h0M60.5 55.3h0M70.0 17.6h0M70.2 44.2h0M55.9 33.0h0M17.1 48.9h0M90.8 44.0h0M12.7 63.0h0M39.8 106.2h0M57.0 71.7h0" stroke="#3a3480" stroke-width="1.5"/><path d="M80.8 18.7h0M83.4 42.3h0" stroke="#3a3480" stroke-width="2.0"/></g></svg><svg class="pn" style="left:736.70px;top:601.50px;width:115.60px;height:116.00px" viewBox="0 0 115.60 116.00"><linearGradient id="g_e6" x1="0" y1="0" x2="0" y2="1"><stop offset="0" stop-color="#8b8b89"/><stop offset="1" stop-color="#999997"/></linearGradient><rect width="115.6" height="116.0" fill="url(#g_e6)"/><circle cx="57.8" cy="61.0" r="57.8" fill="#9b9b99" fill-opacity="1.00" stroke="#b3b3b1" stroke-width="1.2" stroke-opacity="0.80"/><path d="M29.1 11.4A57.3 57.3 0 0 1 101.7 24.2L97.6 27.6A52.0 52.0 0 0 0 31.8 15.9Z" fill="#a29cd2" fill-opacity="0.30"/><path d="M41.0 6.4A57.1 57.1 0 0 1 86.7 11.7" fill="none" stroke="#a29cd2" stroke-width=".7" stroke-opacity=".5"/><path d="M42.0 11.2A52.3 52.3 0 0 1 93.5 22.8" fill="none" stroke="#a29cd2" stroke-width=".7" stroke-opacity=".5"/><path d="M38.6 11.7A52.9 52.9 0 0 1 85.9 16.2" fill="none" stroke="#a29cd2" stroke-width=".7" stroke-opacity=".5"/><path d="M43.7 6.0A56.8 56.8 0 0 1 81.2 9.2" fill="none" stroke="#a29cd2" stroke-width=".7" stroke-opacity=".5"/><circle cx="57.8" cy="61.0" r="52.0" fill="#9d9d9b" fill-opacity="1.00" stroke="#70707e" stroke-width="0.9" stroke-opacity="0.60"/><g filter="url(#bl)"><path d="M59.0 96.4h0M76.7 28.3h0M16.3 80.5h0M57.6 40.4h0M66.0 18.5h0M70.0 82.5h0M32.3 93.7h0M86.8 47.1h0M45.1 16.4h0M19.9 59.6h0M94.3 32.2h0M80.8 61.2h0M61.7 45.8h0M75.6 59.8h0M46.9 99.0h0M87.8 73.5h0M96.1 82.7h0M66.3 14.5h0M29.1 34.9h0M47.6 84.2h0M63.0 22.1h0M30.9 82.9h0M52.6 93.1h0M74.5 73.7h0M97.4 79.9h0M50.9 82.9h0M23.9 44.9h0M88.5 56.2h0M84.1 76.3h0M32.2 64.1h0M30.6 72.5h0M68.1 97.4h0M82.7 102.3h0M21.7 26.7h0M98.3 60.5h0" stroke="#9a96c8" stroke-opacity="0.55" stroke-width="3.1"/><path d="M44.6 80.4h0M59.8 19.0h0M25.3 93.5h0M94.0 39.1h0M65.6 43.5h0M74.6 26.3h0M85.1 76.0h0M46.4 68.5h0M44.9 77.4h0M17.2 47.8h0M70.1 68.6h0M14.2 44.1h0M91.4 50.1h0" stroke="#9a96c8" stroke-opacity="0.55" stroke-width="3.6"/><path d="M83.2 101.6h0M49.5 47.9h0M24.3 59.8h0M99.8 65.9h0M34.7 37.3h0" stroke="#9a96c8" stroke-opacity="0.55" stroke-width="4.1"/><path d="M85.5 42.3h0M85.7 60.0h0M82.4 60.1h0M25.8 52.5h0M97.4 87.0h0M24.9 84.1h0M70.0 104.0h0M44.3 24.0h0M27.0 51.0h0M98.7 62.8h0M43.3 21.5h0M82.9 37.6h0" stroke="#9a96c8" stroke-opacity="0.55" stroke-width="4.6"/><path d="M44.0 43.3h0M62.1 67.4h0M62.7 13.7h0M79.9 74.3h0M55.5 96.0h0M39.1 24.5h0M48.1 29.5h0" stroke="#9a96c8" stroke-opacity="0.55" stroke-width="5.1"/><path d="M35.9 60.7h0M69.8 33.9h0M59.1 23.5h0" stroke="#9a96c8" stroke-opacity="0.55" stroke-width="5.6"/><path d="M43.3 21.5h0M82.9 37.6h0" stroke="#1c1848" stroke-width="3.0"/><path d="M79.9 74.3h0M55.5 96.0h0M39.1 24.5h0M48.1 29.5h0" stroke="#1c1848" stroke-width="3.5"/><path d="M35.9 60.7h0M69.8 33.9h0M59.1 23.5h0" stroke="#1c1848" stroke-width="4.0"/><path d="M14.2 44.1h0M91.4 50.1h0" stroke="#26215b" stroke-width="2.0"/><path d="M99.8 65.9h0M34.7 37.3h0" stroke="#26215b" stroke-width="2.5"/><path d="M85.5 42.3h0M85.7 60.0h0M82.4 60.1h0M25.8 52.5h0M97.4 87.0h0M24.9 84.1h0M70.0 104.0h0M44.3 24.0h0M27.0 51.0h0M98.7 62.8h0" stroke="#26215b" stroke-width="3.0"/><path d="M44.0 43.3h0M62.1 67.4h0M62.7 13.7h0" stroke="#26215b" stroke-width="3.5"/><path d="M59.0 96.4h0M76.7 28.3h0M16.3 80.5h0M57.6 40.4h0M66.0 18.5h0M70.0 82.5h0M32.3 93.7h0M86.8 47.1h0M45.1 16.4h0M19.9 59.6h0M94.3 32.2h0M80.8 61.2h0M61.7 45.8h0M75.6 59.8h0M46.9 99.0h0M87.8 73.5h0M96.1 82.7h0M66.3 14.5h0M29.1 34.9h0M47.6 84.2h0M63.0 22.1h0M30.9 82.9h0M52.6 93.1h0M74.5 73.7h0" stroke="#302b6d" stroke-width="1.5"/><path d="M94.0 39.1h0M65.6 43.5h0M74.6 26.3h0M85.1 76.0h0M46.4 68.5h0M44.9 77.4h0M17.2 47.8h0M70.1 68.6h0" stroke="#302b6d" stroke-width="2.0"/><path d="M83.2 101.6h0M49.5 47.9h0M24.3 59.8h0" stroke="#302b6d" stroke-width="2.5"/><path d="M97.4 79.9h0M50.9 82.9h0M23.9 44.9h0M88.5 56.2h0M84.1 76.3h0M32.2 64.1h0M30.6 72.5h0M68.1 97.4h0M82.7 102.3h0M21.7 26.7h0M98.3 60.5h0" stroke="#3a3480" stroke-width="1.5"/><path d="M44.6 80.4h0M59.8 19.0h0M25.3 93.5h0" stroke="#3a3480" stroke-width="2.0"/></g></svg><svg class="pn" style="left:858.30px;top:601.50px;width:115.70px;height:116.00px" viewBox="0 0 115.70 116.00"><linearGradient id="g_e7" x1="0" y1="0" x2="0" y2="1"><stop offset="0" stop-color="#8b8b89"/><stop offset="1" stop-color="#999997"/></linearGradient><rect width="115.7" height="116.0" fill="url(#g_e7)"/><circle cx="57.9" cy="61.0" r="57.9" fill="#9b9b99" fill-opacity="1.00" stroke="#b3b3b1" stroke-width="1.2" stroke-opacity="0.80"/><path d="M29.2 11.3A57.4 57.4 0 0 1 101.8 24.1L97.7 27.5A52.1 52.1 0 0 0 31.8 15.9Z" fill="#a29cd2" fill-opacity="0.30"/><path d="M65.3 7.8A53.7 53.7 0 0 1 90.3 18.3" fill="none" stroke="#a29cd2" stroke-width=".7" stroke-opacity=".5"/><path d="M35.1 10.8A55.1 55.1 0 0 1 90.3 16.5" fill="none" stroke="#a29cd2" stroke-width=".7" stroke-opacity=".5"/><path d="M56.3 6.9A54.1 54.1 0 0 1 99.3 26.2" fill="none" stroke="#a29cd2" stroke-width=".7" stroke-opacity=".5"/><path d="M65.8 4.3A57.3 57.3 0 0 1 92.3 15.2" fill="none" stroke="#a29cd2" stroke-width=".7" stroke-opacity=".5"/><circle cx="57.9" cy="61.0" r="52.1" fill="#9d9d9b" fill-opacity="1.00" stroke="#70707e" stroke-width="0.9" stroke-opacity="0.60"/><g filter="url(#bl)"><path d="M46.1 89.4h0M29.3 25.5h0M104.5 56.0h0M11.1 52.6h0M11.7 45.6h0M16.4 55.5h0M72.5 25.3h0M62.2 99.6h0M74.4 93.2h0M74.6 63.3h0M34.7 85.8h0M57.8 11.5h0M36.4 104.0h0M96.3 91.7h0M68.1 44.1h0M79.5 46.4h0M57.5 103.0h0M100.8 44.7h0M71.8 15.4h0M37.8 60.9h0M52.9 11.9h0M83.1 57.7h0M23.2 54.7h0M80.3 29.7h0M47.7 57.7h0M27.9 23.5h0M74.7 32.3h0M81.3 63.4h0M95.2 57.5h0M60.7 109.4h0M76.0 83.9h0M42.0 58.9h0" stroke="#9a96c8" stroke-opacity="0.55" stroke-width="3.1"/><path d="M24.7 73.6h0M99.3 39.6h0M18.3 40.2h0M30.5 60.9h0M98.2 75.4h0M27.5 36.0h0M59.7 66.1h0M82.0 23.5h0M55.7 107.0h0M58.3 52.8h0M12.5 54.3h0M14.7 71.7h0M39.1 77.7h0M9.4 61.0h0M68.0 37.2h0M36.4 95.6h0M38.9 25.3h0M84.5 27.5h0M77.2 58.5h0M61.6 97.3h0M78.9 63.0h0" stroke="#9a96c8" stroke-opacity="0.55" stroke-width="3.6"/><path d="M80.0 98.9h0M43.2 105.7h0M43.3 80.6h0M68.2 44.7h0M30.9 65.2h0M17.4 35.4h0M65.8 98.2h0M42.2 65.8h0" stroke="#9a96c8" stroke-opacity="0.55" stroke-width="4.1"/><path d="M63.1 49.3h0M46.4 35.4h0M69.9 101.7h0M26.9 56.8h0M64.2 88.6h0M59.6 37.3h0M64.6 26.8h0M69.0 105.7h0M74.0 54.2h0M60.6 16.5h0" stroke="#9a96c8" stroke-opacity="0.55" stroke-width="4.6"/><path d="M91.1 54.7h0M45.9 52.1h0M70.9 104.0h0M85.7 26.9h0M60.0 82.6h0M46.1 39.9h0M98.1 49.2h0M23.3 53.9h0M79.2 28.7h0M21.8 71.0h0M80.5 80.1h0" stroke="#9a96c8" stroke-opacity="0.55" stroke-width="5.1"/><path d="M32.5 75.7h0M65.0 44.8h0M49.4 69.3h0" stroke="#9a96c8" stroke-opacity="0.55" stroke-width="5.6"/><path d="M64.6 26.8h0M69.0 105.7h0" stroke="#1c1848" stroke-width="3.0"/><path d="M98.1 49.2h0M23.3 53.9h0M79.2 28.7h0M21.8 71.0h0M80.5 80.1h0" stroke="#1c1848" stroke-width="3.5"/><path d="M32.5 75.7h0M65.0 44.8h0M49.4 69.3h0" stroke="#1c1848" stroke-width="4.0"/><path d="M77.2 58.5h0M61.6 97.3h0M78.9 63.0h0" stroke="#26215b" stroke-width="2.0"/><path d="M80.0 98.9h0M43.2 105.7h0M43.3 80.6h0M68.2 44.7h0M30.9 65.2h0M17.4 35.4h0M65.8 98.2h0" stroke="#26215b" stroke-width="2.5"/><path d="M63.1 49.3h0M46.4 35.4h0M69.9 101.7h0M26.9 56.8h0M64.2 88.6h0M59.6 37.3h0" stroke="#26215b" stroke-width="3.0"/><path d="M91.1 54.7h0M45.9 52.1h0M70.9 104.0h0M85.7 26.9h0M60.0 82.6h0M46.1 39.9h0" stroke="#26215b" stroke-width="3.5"/><path d="M36.4 104.0h0M96.3 91.7h0M68.1 44.1h0M79.5 46.4h0M57.5 103.0h0M100.8 44.7h0M71.8 15.4h0M37.8 60.9h0M52.9 11.9h0M83.1 57.7h0M23.2 54.7h0M80.3 29.7h0M47.7 57.7h0M27.9 23.5h0M74.7 32.3h0M81.3 63.4h0M95.2 57.5h0M60.7 109.4h0M76.0 83.9h0M42.0 58.9h0" stroke="#302b6d" stroke-width="1.5"/><path d="M24.7 73.6h0M99.3 39.6h0M18.3 40.2h0M30.5 60.9h0M98.2 75.4h0M27.5 36.0h0M59.7 66.1h0M82.0 23.5h0M55.7 107.0h0M58.3 52.8h0M12.5 54.3h0M14.7 71.7h0M39.1 77.7h0M9.4 61.0h0M68.0 37.2h0M36.4 95.6h0M38.9 25.3h0M84.5 27.5h0" stroke="#302b6d" stroke-width="2.0"/><path d="M42.2 65.8h0" stroke="#302b6d" stroke-width="2.5"/><path d="M74.0 54.2h0M60.6 16.5h0" stroke="#302b6d" stroke-width="3.0"/><path d="M46.1 89.4h0M29.3 25.5h0M104.5 56.0h0M11.1 52.6h0M11.7 45.6h0M16.4 55.5h0M72.5 25.3h0M62.2 99.6h0M74.4 93.2h0M74.6 63.3h0M34.7 85.8h0M57.8 11.5h0" stroke="#3a3480" stroke-width="1.5"/></g></svg><svg class="pn" style="left:978.00px;top:601.50px;width:117.00px;height:116.00px" viewBox="0 0 117.00 116.00"><linearGradient id="g_e8" x1="0" y1="0" x2="0" y2="1"><stop offset="0" stop-color="#8b8b89"/><stop offset="1" stop-color="#999997"/></linearGradient><rect width="117.0" height="116.0" fill="url(#g_e8)"/><circle cx="58.5" cy="61.0" r="58.0" fill="#9b9b99" fill-opacity="1.00" stroke="#b3b3b1" stroke-width="1.2" stroke-opacity="0.80"/><path d="M29.8 11.2A57.5 57.5 0 0 1 102.5 24.0L98.5 27.4A52.2 52.2 0 0 0 32.4 15.8Z" fill="#a29cd2" fill-opacity="0.30"/><path d="M35.8 9.8A56.0 56.0 0 0 1 89.4 14.3" fill="none" stroke="#a29cd2" stroke-width=".7" stroke-opacity=".5"/><path d="M47.1 6.3A55.9 55.9 0 0 1 71.0 6.5" fill="none" stroke="#a29cd2" stroke-width=".7" stroke-opacity=".5"/><path d="M35.2 9.3A56.7 56.7 0 0 1 65.1 4.7" fill="none" stroke="#a29cd2" stroke-width=".7" stroke-opacity=".5"/><path d="M65.3 6.1A55.3 55.3 0 0 1 95.2 19.7" fill="none" stroke="#a29cd2" stroke-width=".7" stroke-opacity=".5"/><circle cx="58.5" cy="61.0" r="52.2" fill="#9d9d9b" fill-opacity="1.00" stroke="#70707e" stroke-width="0.9" stroke-opacity="0.60"/><g filter="url(#bl)"><path d="M43.6 28.9h0M107.7 57.6h0M39.2 90.4h0M75.8 82.0h0M13.4 80.8h0M31.0 53.9h0M96.7 62.7h0M77.7 100.7h0M92.2 46.2h0M57.0 47.2h0M82.2 54.1h0M82.0 95.2h0M14.1 83.6h0M56.9 43.1h0M44.5 55.8h0M44.6 15.0h0M18.7 81.6h0M12.1 57.0h0M12.8 60.7h0M79.1 62.3h0M91.8 34.3h0M65.4 65.4h0M80.9 50.0h0M77.1 81.8h0M13.8 48.2h0M49.0 61.1h0M95.3 81.0h0M91.9 64.9h0M26.2 64.4h0M76.2 32.4h0M81.9 84.1h0M100.8 73.1h0M83.9 50.9h0M25.6 44.1h0M59.9 91.6h0M69.0 12.6h0M105.7 62.5h0" stroke="#9a96c8" stroke-opacity="0.55" stroke-width="3.1"/><path d="M67.7 55.0h0M36.1 58.4h0M79.0 23.9h0M42.5 14.1h0M23.4 43.8h0M106.8 57.7h0M37.7 69.2h0M58.3 36.5h0M39.7 97.3h0M50.2 12.8h0M63.9 52.9h0M68.1 50.3h0M53.4 19.7h0M74.5 94.8h0M97.5 74.5h0M73.1 69.7h0M61.2 47.2h0" stroke="#9a96c8" stroke-opacity="0.55" stroke-width="3.6"/><path d="M44.6 52.8h0M68.4 59.7h0M63.8 59.5h0M46.4 19.2h0M55.3 99.8h0M52.3 26.7h0M35.2 29.9h0M51.5 86.6h0M76.5 68.1h0M60.6 70.1h0M59.0 89.3h0M79.8 22.0h0" stroke="#9a96c8" stroke-opacity="0.55" stroke-width="4.1"/><path d="M53.9 56.9h0M46.8 101.1h0M86.5 98.9h0M43.4 26.9h0M49.3 109.2h0M29.6 32.7h0M43.8 56.8h0M40.0 67.9h0M12.6 49.6h0M38.3 26.2h0M38.2 20.9h0M31.0 60.2h0" stroke="#9a96c8" stroke-opacity="0.55" stroke-width="4.6"/><path d="M42.4 71.8h0M36.2 103.7h0M44.7 52.4h0M52.7 82.0h0M26.9 27.5h0M67.6 58.5h0M60.3 71.5h0M76.3 105.4h0M71.1 49.7h0" stroke="#9a96c8" stroke-opacity="0.55" stroke-width="5.1"/><path d="M16.2 69.2h0M51.5 101.6h0M47.1 101.4h0" stroke="#9a96c8" stroke-opacity="0.55" stroke-width="5.6"/><path d="M76.3 105.4h0M71.1 49.7h0" stroke="#1c1848" stroke-width="3.5"/><path d="M16.2 69.2h0M51.5 101.6h0M47.1 101.4h0" stroke="#1c1848" stroke-width="4.0"/><path d="M73.1 69.7h0" stroke="#26215b" stroke-width="2.0"/><path d="M46.4 19.2h0M55.3 99.8h0M52.3 26.7h0M35.2 29.9h0M51.5 86.6h0M76.5 68.1h0M60.6 70.1h0M59.0 89.3h0M79.8 22.0h0" stroke="#26215b" stroke-width="2.5"/><path d="M53.9 56.9h0M46.8 101.1h0M86.5 98.9h0M43.4 26.9h0M49.3 109.2h0M29.6 32.7h0M43.8 56.8h0M40.0 67.9h0M12.6 49.6h0M38.3 26.2h0M38.2 20.9h0M31.0 60.2h0" stroke="#26215b" stroke-width="3.0"/><path d="M42.4 71.8h0M36.2 103.7h0M44.7 52.4h0M52.7 82.0h0M26.9 27.5h0M67.6 58.5h0M60.3 71.5h0" stroke="#26215b" stroke-width="3.5"/><path d="M14.1 83.6h0M56.9 43.1h0M44.5 55.8h0M44.6 15.0h0M18.7 81.6h0M12.1 57.0h0M12.8 60.7h0M79.1 62.3h0M91.8 34.3h0M65.4 65.4h0M80.9 50.0h0M77.1 81.8h0M13.8 48.2h0M49.0 61.1h0M95.3 81.0h0M91.9 64.9h0M26.2 64.4h0M76.2 32.4h0M81.9 84.1h0M100.8 73.1h0M83.9 50.9h0M25.6 44.1h0M59.9 91.6h0M69.0 12.6h0M105.7 62.5h0" stroke="#302b6d" stroke-width="1.5"/><path d="M67.7 55.0h0M36.1 58.4h0M79.0 23.9h0M42.5 14.1h0M23.4 43.8h0M106.8 57.7h0M37.7 69.2h0M58.3 36.5h0M39.7 97.3h0M50.2 12.8h0M63.9 52.9h0M68.1 50.3h0M53.4 19.7h0M74.5 94.8h0M97.5 74.5h0" stroke="#302b6d" stroke-width="2.0"/><path d="M44.6 52.8h0M68.4 59.7h0M63.8 59.5h0" stroke="#302b6d" stroke-width="2.5"/><path d="M43.6 28.9h0M107.7 57.6h0M39.2 90.4h0M75.8 82.0h0M13.4 80.8h0M31.0 53.9h0M96.7 62.7h0M77.7 100.7h0M92.2 46.2h0M57.0 47.2h0M82.2 54.1h0M82.0 95.2h0" stroke="#3a3480" stroke-width="1.5"/><path d="M61.2 47.2h0" stroke="#3a3480" stroke-width="2.0"/></g></svg><svg class="pn" style="left:140.00px;top:728.30px;width:116.00px;height:116.50px" viewBox="0 0 116.00 116.50"><linearGradient id="g_f1" x1="0" y1="0" x2="0" y2="1"><stop offset="0" stop-color="#b4b4b2"/><stop offset="1" stop-color="#c2c2c0"/></linearGradient><rect width="116.0" height="116.5" fill="url(#g_f1)"/><circle cx="58.0" cy="59.2" r="55.1" fill="#c9c9cd" fill-opacity="0.45" stroke="#cacace" stroke-width="1.2" stroke-opacity="0.70"/><circle cx="58.0" cy="59.2" r="51.6" fill="#bcbcba" fill-opacity="1.00" stroke="#c8c8ce" stroke-width="1.2" stroke-opacity="0.60"/><g filter="url(#bl)"><path d="M34.5 62.8h0" stroke="#2a2450" stroke-width="3.5"/><path d="M82.2 45.2h0M82.3 77.4h0M19.6 88.0h0M29.6 56.6h0" stroke="#352f60" stroke-width="3.0"/><path d="M55.5 19.6h0M97.9 35.3h0" stroke="#3f3970" stroke-width="2.0"/><path d="M53.0 41.3h0" stroke="#3f3970" stroke-width="2.5"/><path d="M70.7 105.5h0" stroke="#3f3970" stroke-width="3.0"/><path d="M76.6 85.6h0M70.4 67.5h0M11.2 43.2h0" stroke="#4a4480" stroke-width="2.0"/></g></svg><svg class="pn" style="left:259.30px;top:728.30px;width:116.70px;height:116.50px" viewBox="0 0 116.70 116.50"><linearGradient id="g_f2" x1="0" y1="0" x2="0" y2="1"><stop offset="0" stop-color="#b4b4b2"/><stop offset="1" stop-color="#c2c2c0"/></linearGradient><rect width="116.7" height="116.5" fill="url(#g_f2)"/><circle cx="58.3" cy="59.2" r="55.3" fill="#c9c9cd" fill-opacity="0.45" stroke="#cacace" stroke-width="1.2" stroke-opacity="0.70"/><circle cx="58.3" cy="59.2" r="51.8" fill="#bcbcba" fill-opacity="1.00" stroke="#c8c8ce" stroke-width="1.2" stroke-opacity="0.60"/><g filter="url(#bl)"><path d="M65.5 94.7h0M31.7 47.3h0" stroke="#2a2450" stroke-width="3.5"/><path d="M54.8 98.3h0" stroke="#352f60" stroke-width="2.5"/><path d="M60.8 29.8h0M29.8 68.9h0M12.6 71.3h0" stroke="#352f60" stroke-width="3.0"/><path d="M41.8 77.1h0M56.6 102.4h0" stroke="#3f3970" stroke-width="2.0"/><path d="M44.9 87.8h0M85.7 33.0h0M91.8 65.4h0" stroke="#3f3970" stroke-width="2.5"/><path d="M75.4 103.7h0" stroke="#3f3970" stroke-width="3.0"/></g></svg><svg class="pn" style="left:379.30px;top:728.30px;width:116.40px;height:116.50px" viewBox="0 0 116.40 116.50"><linearGradient id="g_f3" x1="0" y1="0" x2="0" y2="1"><stop offset="0" stop-color="#b4b4b2"/><stop offset="1" stop-color="#c2c2c0"/></linearGradient><rect width="116.4" height="116.5" fill="url(#g_f3)"/><circle cx="58.2" cy="59.2" r="55.3" fill="#c9c9cd" fill-opacity="0.45" stroke="#cacace" stroke-width="1.2" stroke-opacity="0.70"/><circle cx="58.2" cy="59.2" r="51.8" fill="#bcbcba" fill-opacity="1.00" stroke="#c8c8ce" stroke-width="1.2" stroke-opacity="0.60"/><g filter="url(#bl)"><path d="M23.2 81.4h0M14.6 47.3h0" stroke="#2a2450" stroke-width="3.5"/><path d="M66.6 39.9h0" stroke="#352f60" stroke-width="2.5"/><path d="M62.6 92.3h0M88.2 55.1h0M50.6 81.2h0" stroke="#352f60" stroke-width="3.0"/><path d="M34.5 65.5h0" stroke="#3f3970" stroke-width="2.0"/><path d="M64.7 98.5h0M44.0 81.8h0" stroke="#3f3970" stroke-width="2.5"/><path d="M43.9 104.1h0" stroke="#4a4480" stroke-width="2.0"/></g></svg><svg class="pn" style="left:499.30px;top:728.30px;width:116.40px;height:116.50px" viewBox="0 0 116.40 116.50"><linearGradient id="g_f4" x1="0" y1="0" x2="0" y2="1"><stop offset="0" stop-color="#b4b4b2"/><stop offset="1" stop-color="#c2c2c0"/></linearGradient><rect width="116.4" height="116.5" fill="url(#g_f4)"/><circle cx="58.2" cy="59.2" r="55.3" fill="#c9c9cd" fill-opacity="0.45" stroke="#cacace" stroke-width="1.2" stroke-opacity="0.70"/><circle cx="58.2" cy="59.2" r="51.8" fill="#bcbcba" fill-opacity="1.00" stroke="#c8c8ce" stroke-width="1.2" stroke-opacity="0.60"/><g filter="url(#bl)"><path d="M52.3 67.1h0" stroke="#2a2450" stroke-width="2.5"/><path d="M51.2 81.2h0" stroke="#2a2450" stroke-width="3.5"/><path d="M53.3 10.2h0" stroke="#352f60" stroke-width="2.5"/><path d="M25.6 66.3h0" stroke="#352f60" stroke-width="3.5"/><path d="M93.1 42.8h0M98.0 39.6h0M66.8 36.7h0M56.1 48.6h0" stroke="#3f3970" stroke-width="2.0"/><path d="M89.0 96.4h0M56.0 75.4h0" stroke="#3f3970" stroke-width="2.5"/><path d="M32.9 66.6h0M71.0 57.8h0" stroke="#4a4480" stroke-width="2.0"/></g></svg><svg class="pn" style="left:620.00px;top:728.30px;width:116.00px;height:116.50px" viewBox="0 0 116.00 116.50"><linearGradient id="g_f5" x1="0" y1="0" x2="0" y2="1"><stop offset="0" stop-color="#b4b4b2"/><stop offset="1" stop-color="#c2c2c0"/></linearGradient><rect width="116.0" height="116.5" fill="url(#g_f5)"/><circle cx="58.0" cy="59.2" r="55.1" fill="#c9c9cd" fill-opacity="0.45" stroke="#cacace" stroke-width="1.2" stroke-opacity="0.70"/><circle cx="58.0" cy="59.2" r="51.6" fill="#bcbcba" fill-opacity="1.00" stroke="#c8c8ce" stroke-width="1.2" stroke-opacity="0.60"/><g filter="url(#bl)"><path d="M50.9 19.4h0M70.0 57.3h0M100.9 54.8h0" stroke="#2a2450" stroke-width="3.5"/><path d="M47.5 32.6h0M34.6 40.9h0" stroke="#352f60" stroke-width="2.5"/><path d="M105.4 59.1h0M80.6 90.7h0M13.8 49.1h0M103.2 54.3h0M44.3 15.3h0M41.9 54.9h0" stroke="#352f60" stroke-width="3.0"/><path d="M71.5 55.4h0" stroke="#352f60" stroke-width="3.5"/><path d="M94.0 71.8h0M53.1 94.8h0M68.6 89.9h0M19.3 28.5h0M24.9 85.6h0M89.3 71.9h0M24.1 80.6h0" stroke="#3f3970" stroke-width="2.0"/><path d="M53.7 60.7h0M78.2 17.7h0" stroke="#3f3970" stroke-width="2.5"/><path d="M81.3 60.1h0M60.2 79.4h0" stroke="#3f3970" stroke-width="3.0"/><path d="M93.7 26.6h0M35.8 15.5h0" stroke="#4a4480" stroke-width="2.0"/></g></svg><svg class="pn" style="left:740.70px;top:728.30px;width:116.60px;height:116.50px" viewBox="0 0 116.60 116.50"><linearGradient id="g_f6" x1="0" y1="0" x2="0" y2="1"><stop offset="0" stop-color="#b4b4b2"/><stop offset="1" stop-color="#c2c2c0"/></linearGradient><rect width="116.6" height="116.5" fill="url(#g_f6)"/><circle cx="58.3" cy="59.2" r="55.3" fill="#c9c9cd" fill-opacity="0.45" stroke="#cacace" stroke-width="1.2" stroke-opacity="0.70"/><circle cx="58.3" cy="59.2" r="51.8" fill="#bcbcba" fill-opacity="1.00" stroke="#c8c8ce" stroke-width="1.2" stroke-opacity="0.60"/><g filter="url(#bl)"><path d="M40.6 86.9h0" stroke="#2a2450" stroke-width="3.0"/><path d="M36.8 101.9h0M30.1 65.6h0" stroke="#2a2450" stroke-width="3.5"/><path d="M43.9 39.1h0" stroke="#352f60" stroke-width="2.5"/><path d="M55.4 73.3h0" stroke="#352f60" stroke-width="3.0"/><path d="M106.3 68.9h0M103.1 44.5h0M37.1 35.3h0M69.1 55.4h0M37.8 92.0h0" stroke="#3f3970" stroke-width="2.0"/><path d="M69.1 27.8h0M75.8 86.1h0M40.1 15.7h0M58.5 89.2h0M72.8 15.6h0M28.8 65.7h0M56.0 54.8h0M20.2 47.7h0" stroke="#3f3970" stroke-width="2.5"/><path d="M73.4 24.9h0M71.5 69.4h0M102.8 44.4h0M96.6 61.3h0" stroke="#4a4480" stroke-width="2.0"/></g></svg><svg class="pn" style="left:860.70px;top:728.30px;width:116.60px;height:116.50px" viewBox="0 0 116.60 116.50"><linearGradient id="g_f7" x1="0" y1="0" x2="0" y2="1"><stop offset="0" stop-color="#b4b4b2"/><stop offset="1" stop-color="#c2c2c0"/></linearGradient><rect width="116.6" height="116.5" fill="url(#g_f7)"/><circle cx="58.3" cy="59.2" r="55.3" fill="#c9c9cd" fill-opacity="0.45" stroke="#cacace" stroke-width="1.2" stroke-opacity="0.70"/><circle cx="58.3" cy="59.2" r="51.8" fill="#bcbcba" fill-opacity="1.00" stroke="#c8c8ce" stroke-width="1.2" stroke-opacity="0.60"/><g filter="url(#bl)"><path d="M64.4 72.6h0M87.0 25.0h0M60.4 26.6h0M80.5 101.2h0M55.5 73.5h0" stroke="#2a2450" stroke-width="3.5"/><path d="M22.1 25.4h0M29.5 27.2h0" stroke="#352f60" stroke-width="2.5"/><path d="M65.2 12.4h0M61.6 28.3h0M91.5 41.8h0" stroke="#352f60" stroke-width="3.0"/><path d="M29.3 40.2h0M63.6 104.6h0M29.4 80.7h0" stroke="#3f3970" stroke-width="2.0"/><path d="M34.9 26.5h0" stroke="#3f3970" stroke-width="2.5"/><path d="M77.0 37.1h0" stroke="#3f3970" stroke-width="3.0"/><path d="M37.6 60.5h0M58.3 9.6h0M39.3 18.9h0" stroke="#4a4480" stroke-width="2.0"/></g></svg><svg class="pn" style="left:980.70px;top:728.30px;width:116.60px;height:116.50px" viewBox="0 0 116.60 116.50"><linearGradient id="g_f8" x1="0" y1="0" x2="0" y2="1"><stop offset="0" stop-color="#b4b4b2"/><stop offset="1" stop-color="#c2c2c0"/></linearGradient><rect width="116.6" height="116.5" fill="url(#g_f8)"/><circle cx="58.3" cy="59.2" r="55.3" fill="#c9c9cd" fill-opacity="0.45" stroke="#cacace" stroke-width="1.2" stroke-opacity="0.70"/><circle cx="58.3" cy="59.2" r="51.8" fill="#bcbcba" fill-opacity="1.00" stroke="#c8c8ce" stroke-width="1.2" stroke-opacity="0.60"/><g filter="url(#bl)"><path d="M82.2 47.3h0M60.7 62.5h0" stroke="#2a2450" stroke-width="3.0"/><path d="M58.6 28.5h0M50.3 62.1h0" stroke="#2a2450" stroke-width="3.5"/><path d="M102.9 54.6h0M97.7 67.7h0" stroke="#352f60" stroke-width="2.5"/><path d="M68.9 101.8h0" stroke="#352f60" stroke-width="3.0"/><path d="M40.7 24.6h0M84.3 32.9h0" stroke="#352f60" stroke-width="3.5"/><path d="M55.9 96.7h0M52.1 35.2h0" stroke="#3f3970" stroke-width="2.0"/><path d="M90.4 48.7h0M74.0 51.6h0M26.8 72.2h0M13.6 60.5h0" stroke="#3f3970" stroke-width="2.5"/><path d="M102.3 58.4h0M68.7 23.2h0M60.6 60.1h0" stroke="#4a4480" stroke-width="2.0"/></g></svg><svg class="pn" style="left:142.30px;top:851.70px;width:116.00px;height:116.00px" viewBox="0 0 116.00 116.00"><linearGradient id="g_g1" x1="0" y1="0" x2="0" y2="1"><stop offset="0" stop-color="#90908e"/><stop offset="1" stop-color="#989896"/></linearGradient><rect width="116.0" height="116.0" fill="url(#g_g1)"/><circle cx="58.0" cy="58.0" r="58.0" fill="#9a9a98" fill-opacity="1.00" stroke="#b4b4b3" stroke-width="1.2" stroke-opacity="0.80"/><path d="M68.0 1.4A57.5 57.5 0 0 1 112.0 38.3L106.0 40.5A51.0 51.0 0 0 0 66.9 7.7Z" fill="#a29cd2" fill-opacity="0.35"/><path d="M91.6 11.7A57.2 57.2 0 0 1 109.3 32.7" fill="none" stroke="#a29cd2" stroke-width=".7" stroke-opacity=".5"/><path d="M79.4 7.2A55.1 55.1 0 0 1 95.0 17.2" fill="none" stroke="#a29cd2" stroke-width=".7" stroke-opacity=".5"/><path d="M75.0 7.2A53.5 53.5 0 0 1 91.3 16.1" fill="none" stroke="#a29cd2" stroke-width=".7" stroke-opacity=".5"/><path d="M74.5 6.8A53.8 53.8 0 0 1 93.5 17.6" fill="none" stroke="#a29cd2" stroke-width=".7" stroke-opacity=".5"/><circle cx="58.0" cy="58.0" r="51.0" fill="#969694" fill-opacity="1.00" stroke="#707080" stroke-width="0.9" stroke-opacity="0.60"/><g filter="url(#bl)"><path d="M76.3 64.0h0M30.4 23.9h0M30.0 36.9h0M79.7 41.2h0M59.5 48.1h0M59.1 18.9h0M63.7 91.3h0M66.5 39.0h0M62.3 52.0h0M65.6 33.2h0M31.4 43.5h0M76.8 46.2h0M48.5 33.3h0M31.7 55.6h0" stroke="#9a96c8" stroke-opacity="0.55" stroke-width="3.1"/><path d="M73.9 84.7h0M73.4 28.0h0M79.9 34.1h0M77.2 56.7h0M47.4 49.4h0M86.0 38.3h0" stroke="#9a96c8" stroke-opacity="0.55" stroke-width="3.6"/><path d="M13.5 67.2h0M67.0 62.5h0M61.5 99.8h0" stroke="#9a96c8" stroke-opacity="0.55" stroke-width="4.1"/><path d="M58.4 54.9h0M70.1 90.7h0M62.2 58.3h0M41.3 92.4h0M51.7 23.9h0M76.3 50.1h0" stroke="#9a96c8" stroke-opacity="0.55" stroke-width="4.6"/><path d="M64.5 41.8h0" stroke="#9a96c8" stroke-opacity="0.55" stroke-width="5.1"/><path d="M58.4 54.9h0M70.1 90.7h0M62.2 58.3h0" stroke="#1c1848" stroke-width="3.0"/><path d="M64.5 41.8h0" stroke="#1c1848" stroke-width="3.5"/><path d="M86.0 38.3h0" stroke="#26215b" stroke-width="2.0"/><path d="M13.5 67.2h0M67.0 62.5h0M61.5 99.8h0" stroke="#26215b" stroke-width="2.5"/><path d="M41.3 92.4h0M51.7 23.9h0M76.3 50.1h0" stroke="#26215b" stroke-width="3.0"/><path d="M59.1 18.9h0M63.7 91.3h0M66.5 39.0h0M62.3 52.0h0M65.6 33.2h0M31.4 43.5h0M76.8 46.2h0M48.5 33.3h0M31.7 55.6h0" stroke="#302b6d" stroke-width="1.5"/><path d="M73.9 84.7h0M73.4 28.0h0M79.9 34.1h0M77.2 56.7h0M47.4 49.4h0" stroke="#302b6d" stroke-width="2.0"/><path d="M76.3 64.0h0M30.4 23.9h0M30.0 36.9h0M79.7 41.2h0M59.5 48.1h0" stroke="#3a3480" stroke-width="1.5"/></g></svg><svg class="pn" style="left:262.30px;top:851.70px;width:115.40px;height:116.00px" viewBox="0 0 115.40 116.00"><linearGradient id="g_g2" x1="0" y1="0" x2="0" y2="1"><stop offset="0" stop-color="#959593"/><stop offset="1" stop-color="#9d9d9b"/></linearGradient><rect width="115.4" height="116.0" fill="url(#g_g2)"/><circle cx="57.7" cy="58.0" r="57.7" fill="#9f9f9d" fill-opacity="1.00" stroke="#b8b8b6" stroke-width="1.2" stroke-opacity="0.80"/><path d="M13.9 94.8A57.2 57.2 0 0 1 38.1 4.2L40.3 10.3A50.8 50.8 0 0 0 18.8 90.6Z" fill="#a29cd2" fill-opacity="0.35"/><path d="M14.9 89.4A53.1 53.1 0 0 1 12.9 29.5" fill="none" stroke="#a29cd2" stroke-width=".7" stroke-opacity=".5"/><path d="M4.8 68.8A54.0 54.0 0 0 1 34.2 9.4" fill="none" stroke="#a29cd2" stroke-width=".7" stroke-opacity=".5"/><path d="M2.8 54.6A55.0 55.0 0 0 1 28.8 11.2" fill="none" stroke="#a29cd2" stroke-width=".7" stroke-opacity=".5"/><path d="M7.5 71.3A51.9 51.9 0 0 1 15.9 27.2" fill="none" stroke="#a29cd2" stroke-width=".7" stroke-opacity=".5"/><circle cx="57.7" cy="58.0" r="50.8" fill="#9b9b99" fill-opacity="1.00" stroke="#707080" stroke-width="0.9" stroke-opacity="0.60"/><g filter="url(#bl)"><path d="M77.6 34.3h0M63.9 74.9h0M45.8 68.5h0M50.0 52.7h0M93.0 79.8h0M52.7 102.4h0M90.1 55.7h0M53.1 79.5h0M52.4 71.9h0M96.2 49.6h0" stroke="#9a96c8" stroke-opacity="0.55" stroke-width="3.1"/><path d="M57.3 50.5h0M63.3 35.8h0M52.1 42.7h0M25.9 28.3h0M36.4 36.4h0M47.5 76.6h0M52.0 89.0h0" stroke="#9a96c8" stroke-opacity="0.55" stroke-width="3.6"/><path d="M64.9 78.5h0M42.8 52.2h0M59.2 73.5h0M86.1 57.2h0" stroke="#9a96c8" stroke-opacity="0.55" stroke-width="4.1"/><path d="M49.2 67.2h0M39.1 72.8h0M36.8 66.1h0M59.3 40.3h0M40.1 64.1h0M85.6 55.5h0M81.2 41.8h0M37.9 72.9h0M67.2 62.4h0M26.6 75.3h0M58.9 65.9h0" stroke="#9a96c8" stroke-opacity="0.55" stroke-width="4.6"/><path d="M98.4 46.0h0M59.3 49.8h0M65.7 58.5h0" stroke="#9a96c8" stroke-opacity="0.55" stroke-width="5.1"/><path d="M58.9 65.9h0" stroke="#1c1848" stroke-width="3.0"/><path d="M98.4 46.0h0M59.3 49.8h0" stroke="#1c1848" stroke-width="3.5"/><path d="M96.2 49.6h0" stroke="#26215b" stroke-width="1.5"/><path d="M47.5 76.6h0" stroke="#26215b" stroke-width="2.0"/><path d="M59.2 73.5h0M86.1 57.2h0" stroke="#26215b" stroke-width="2.5"/><path d="M49.2 67.2h0M39.1 72.8h0M36.8 66.1h0M59.3 40.3h0M40.1 64.1h0M85.6 55.5h0M81.2 41.8h0M37.9 72.9h0M67.2 62.4h0M26.6 75.3h0" stroke="#26215b" stroke-width="3.0"/><path d="M65.7 58.5h0" stroke="#26215b" stroke-width="3.5"/><path d="M77.6 34.3h0M63.9 74.9h0M45.8 68.5h0M50.0 52.7h0M93.0 79.8h0" stroke="#302b6d" stroke-width="1.5"/><path d="M57.3 50.5h0M63.3 35.8h0M52.1 42.7h0M25.9 28.3h0M36.4 36.4h0" stroke="#302b6d" stroke-width="2.0"/><path d="M64.9 78.5h0M42.8 52.2h0" stroke="#302b6d" stroke-width="2.5"/><path d="M52.7 102.4h0M90.1 55.7h0M53.1 79.5h0M52.4 71.9h0" stroke="#3a3480" stroke-width="1.5"/><path d="M52.0 89.0h0" stroke="#3a3480" stroke-width="2.0"/></g></svg><svg class="pn" style="left:381.70px;top:851.70px;width:116.00px;height:116.00px" viewBox="0 0 116.00 116.00"><linearGradient id="g_g3" x1="0" y1="0" x2="0" y2="1"><stop offset="0" stop-color="#9a9a98"/><stop offset="1" stop-color="#a2a2a0"/></linearGradient><rect width="116.0" height="116.0" fill="url(#g_g3)"/><circle cx="58.0" cy="58.0" r="58.0" fill="#a4a4a2" fill-opacity="1.00" stroke="#bbbbba" stroke-width="1.2" stroke-opacity="0.80"/><path d="M48.0 1.4A57.5 57.5 0 0 1 102.0 21.0L97.1 25.2A51.0 51.0 0 0 0 49.1 7.7Z" fill="#a29cd2" fill-opacity="0.30"/><path d="M74.0 4.5A55.8 55.8 0 0 1 92.3 14.0" fill="none" stroke="#a29cd2" stroke-width=".7" stroke-opacity=".5"/><path d="M67.7 4.6A54.3 54.3 0 0 1 83.9 10.3" fill="none" stroke="#a29cd2" stroke-width=".7" stroke-opacity=".5"/><path d="M66.5 5.4A53.3 53.3 0 0 1 94.4 19.1" fill="none" stroke="#a29cd2" stroke-width=".7" stroke-opacity=".5"/><circle cx="58.0" cy="58.0" r="51.0" fill="#a0a09e" fill-opacity="1.00" stroke="#707080" stroke-width="0.9" stroke-opacity="0.60"/><g filter="url(#bl)"><path d="M62.2 83.4h0M20.5 68.9h0M62.6 41.5h0M58.7 61.2h0M60.9 68.3h0M70.3 88.8h0M54.9 46.7h0M74.8 57.3h0M27.6 83.7h0M40.2 83.5h0M88.4 20.7h0M46.8 47.0h0M47.5 85.5h0M28.7 68.4h0M58.2 60.2h0M70.5 38.3h0M58.7 40.2h0M51.7 52.3h0M56.4 65.4h0M79.7 57.5h0M72.1 38.6h0M64.2 81.5h0M63.4 39.9h0M57.8 74.2h0" stroke="#9a96c8" stroke-opacity="0.55" stroke-width="3.1"/><path d="M52.6 48.0h0M61.6 47.2h0M52.2 34.1h0M55.1 44.9h0M54.1 50.0h0M74.0 33.9h0M49.2 59.2h0M31.0 49.0h0M50.7 64.2h0" stroke="#9a96c8" stroke-opacity="0.55" stroke-width="3.6"/><path d="M72.8 58.8h0M53.2 72.6h0M85.6 61.1h0M66.8 58.6h0M71.8 67.9h0M39.7 39.4h0M71.9 44.2h0M42.6 33.8h0M62.6 56.5h0M38.8 40.6h0" stroke="#9a96c8" stroke-opacity="0.55" stroke-width="4.1"/><path d="M26.5 45.4h0M30.5 78.4h0M17.1 76.6h0M61.6 74.8h0M58.9 63.1h0M63.5 48.5h0M54.0 54.5h0" stroke="#9a96c8" stroke-opacity="0.55" stroke-width="4.6"/><path d="M22.4 37.4h0M87.1 89.0h0M70.3 70.8h0M65.0 63.0h0M64.4 62.2h0" stroke="#9a96c8" stroke-opacity="0.55" stroke-width="5.1"/><path d="M38.8 40.6h0" stroke="#1c1848" stroke-width="2.5"/><path d="M26.5 45.4h0M30.5 78.4h0" stroke="#1c1848" stroke-width="3.0"/><path d="M22.4 37.4h0M87.1 89.0h0M70.3 70.8h0" stroke="#1c1848" stroke-width="3.5"/><path d="M72.1 38.6h0M64.2 81.5h0M63.4 39.9h0M57.8 74.2h0" stroke="#26215b" stroke-width="1.5"/><path d="M49.2 59.2h0M31.0 49.0h0M50.7 64.2h0" stroke="#26215b" stroke-width="2.0"/><path d="M72.8 58.8h0M53.2 72.6h0M85.6 61.1h0M66.8 58.6h0M71.8 67.9h0M39.7 39.4h0" stroke="#26215b" stroke-width="2.5"/><path d="M17.1 76.6h0M61.6 74.8h0M58.9 63.1h0M63.5 48.5h0M54.0 54.5h0" stroke="#26215b" stroke-width="3.0"/><path d="M65.0 63.0h0M64.4 62.2h0" stroke="#26215b" stroke-width="3.5"/><path d="M60.9 68.3h0M70.3 88.8h0M54.9 46.7h0M74.8 57.3h0M27.6 83.7h0M40.2 83.5h0M88.4 20.7h0M46.8 47.0h0M47.5 85.5h0M28.7 68.4h0M58.2 60.2h0M70.5 38.3h0M58.7 40.2h0M51.7 52.3h0M56.4 65.4h0M79.7 57.5h0" stroke="#302b6d" stroke-width="1.5"/><path d="M52.6 48.0h0M61.6 47.2h0M52.2 34.1h0M55.1 44.9h0M54.1 50.0h0M74.0 33.9h0" stroke="#302b6d" stroke-width="2.0"/><path d="M71.9 44.2h0M42.6 33.8h0M62.6 56.5h0" stroke="#302b6d" stroke-width="2.5"/><path d="M62.2 83.4h0M20.5 68.9h0M62.6 41.5h0M58.7 61.2h0" stroke="#3a3480" stroke-width="1.5"/></g></svg><svg class="pn" style="left:502.70px;top:851.70px;width:115.60px;height:116.00px" viewBox="0 0 115.60 116.00"><linearGradient id="g_g4" x1="0" y1="0" x2="0" y2="1"><stop offset="0" stop-color="#9c9c9a"/><stop offset="1" stop-color="#a4a4a2"/></linearGradient><rect width="115.6" height="116.0" fill="url(#g_g4)"/><circle cx="57.8" cy="58.0" r="57.8" fill="#a6a6a4" fill-opacity="1.00" stroke="#bcbcbb" stroke-width="1.2" stroke-opacity="0.80"/><path d="M13.9 94.8A57.3 57.3 0 0 1 21.0 14.1L25.1 19.0A50.9 50.9 0 0 0 18.8 90.7Z" fill="#a29cd2" fill-opacity="0.35"/><path d="M9.9 79.9A52.7 52.7 0 0 1 5.3 53.9" fill="none" stroke="#a29cd2" stroke-width=".7" stroke-opacity=".5"/><path d="M14.9 90.6A53.9 53.9 0 0 1 3.9 58.4" fill="none" stroke="#a29cd2" stroke-width=".7" stroke-opacity=".5"/><path d="M3.7 60.4A54.2 54.2 0 0 1 14.4 25.6" fill="none" stroke="#a29cd2" stroke-width=".7" stroke-opacity=".5"/><path d="M6.2 61.7A51.7 51.7 0 0 1 14.3 29.9" fill="none" stroke="#a29cd2" stroke-width=".7" stroke-opacity=".5"/><circle cx="57.8" cy="58.0" r="50.9" fill="#a2a2a0" fill-opacity="1.00" stroke="#707080" stroke-width="0.9" stroke-opacity="0.60"/><g filter="url(#bl)"><path d="M70.7 41.3h0M39.7 37.5h0M65.9 44.3h0M39.7 55.7h0M63.8 33.3h0M74.7 95.1h0M67.6 21.7h0M48.5 59.2h0M36.6 59.1h0M57.4 57.1h0M45.9 63.4h0M45.8 54.1h0M51.9 63.8h0M46.7 83.3h0M71.7 38.0h0M41.7 71.8h0M72.6 79.1h0M27.1 62.5h0M38.9 68.2h0M88.6 62.6h0M29.0 47.1h0M51.3 79.3h0M67.9 55.3h0M30.5 61.5h0M46.3 43.2h0M65.4 59.5h0" stroke="#9a96c8" stroke-opacity="0.55" stroke-width="3.1"/><path d="M71.3 63.2h0M26.6 53.6h0M46.5 48.6h0M49.3 56.9h0M44.2 84.2h0M39.4 67.9h0M102.6 51.9h0M63.8 63.0h0M51.3 71.3h0M49.5 50.6h0M73.7 49.8h0M74.2 67.9h0" stroke="#9a96c8" stroke-opacity="0.55" stroke-width="3.6"/><path d="M78.1 85.8h0M73.7 38.3h0M89.6 50.8h0M46.7 46.0h0M32.5 42.4h0M52.2 57.8h0M71.8 40.5h0M83.7 36.3h0M31.1 42.7h0M44.8 91.5h0M53.8 40.5h0M82.9 47.1h0M67.1 57.6h0M72.4 41.4h0" stroke="#9a96c8" stroke-opacity="0.55" stroke-width="4.1"/><path d="M27.7 46.6h0M93.2 57.5h0M54.4 36.8h0M52.7 54.7h0M38.7 65.0h0M65.1 81.3h0M31.3 53.1h0M30.3 91.1h0M84.5 88.2h0M48.1 50.3h0" stroke="#9a96c8" stroke-opacity="0.55" stroke-width="4.6"/><path d="M37.1 49.1h0M57.5 23.5h0M81.3 69.5h0M87.8 72.6h0M93.9 34.2h0M83.8 45.8h0M46.2 64.1h0M36.7 41.3h0" stroke="#9a96c8" stroke-opacity="0.55" stroke-width="5.1"/><path d="M72.4 41.4h0" stroke="#1c1848" stroke-width="2.5"/><path d="M65.1 81.3h0M31.3 53.1h0M30.3 91.1h0M84.5 88.2h0M48.1 50.3h0" stroke="#1c1848" stroke-width="3.0"/><path d="M37.1 49.1h0M57.5 23.5h0M81.3 69.5h0M87.8 72.6h0M93.9 34.2h0M83.8 45.8h0" stroke="#1c1848" stroke-width="3.5"/><path d="M102.6 51.9h0M63.8 63.0h0M51.3 71.3h0M49.5 50.6h0M73.7 49.8h0" stroke="#26215b" stroke-width="2.0"/><path d="M83.7 36.3h0M31.1 42.7h0M44.8 91.5h0M53.8 40.5h0M82.9 47.1h0M67.1 57.6h0" stroke="#26215b" stroke-width="2.5"/><path d="M27.7 46.6h0M93.2 57.5h0M54.4 36.8h0M52.7 54.7h0M38.7 65.0h0" stroke="#26215b" stroke-width="3.0"/><path d="M46.2 64.1h0M36.7 41.3h0" stroke="#26215b" stroke-width="3.5"/><path d="M70.7 41.3h0M39.7 37.5h0M65.9 44.3h0M39.7 55.7h0M63.8 33.3h0M74.7 95.1h0M67.6 21.7h0M48.5 59.2h0M36.6 59.1h0M57.4 57.1h0M45.9 63.4h0M45.8 54.1h0M51.9 63.8h0M46.7 83.3h0M71.7 38.0h0M41.7 71.8h0M72.6 79.1h0M27.1 62.5h0" stroke="#302b6d" stroke-width="1.5"/><path d="M71.3 63.2h0M26.6 53.6h0M46.5 48.6h0M49.3 56.9h0M44.2 84.2h0M39.4 67.9h0" stroke="#302b6d" stroke-width="2.0"/><path d="M78.1 85.8h0M73.7 38.3h0M89.6 50.8h0M46.7 46.0h0M32.5 42.4h0M52.2 57.8h0M71.8 40.5h0" stroke="#302b6d" stroke-width="2.5"/><path d="M38.9 68.2h0M88.6 62.6h0M29.0 47.1h0M51.3 79.3h0M67.9 55.3h0M30.5 61.5h0M46.3 43.2h0M65.4 59.5h0" stroke="#3a3480" stroke-width="1.5"/><path d="M74.2 67.9h0" stroke="#3a3480" stroke-width="2.0"/></g></svg><svg class="pn" style="left:623.30px;top:851.70px;width:116.00px;height:116.00px" viewBox="0 0 116.00 116.00"><linearGradient id="g_g5" x1="0" y1="0" x2="0" y2="1"><stop offset="0" stop-color="#9e9e9c"/><stop offset="1" stop-color="#a6a6a4"/></linearGradient><rect width="116.0" height="116.0" fill="url(#g_g5)"/><circle cx="58.0" cy="58.0" r="58.0" fill="#a8a8a6" fill-opacity="1.00" stroke="#bebebc" stroke-width="1.2" stroke-opacity="0.80"/><path d="M0.5 58.0A57.5 57.5 0 0 1 68.0 1.4L66.9 7.7A51.0 51.0 0 0 0 7.0 58.0Z" fill="#a29cd2" fill-opacity="0.35"/><path d="M4.5 53.1A53.7 53.7 0 0 1 42.1 6.7" fill="none" stroke="#a29cd2" stroke-width=".7" stroke-opacity=".5"/><path d="M12.7 33.1A51.7 51.7 0 0 1 34.2 12.0" fill="none" stroke="#a29cd2" stroke-width=".7" stroke-opacity=".5"/><path d="M7.5 40.7A53.4 53.4 0 0 1 39.4 8.0" fill="none" stroke="#a29cd2" stroke-width=".7" stroke-opacity=".5"/><path d="M15.7 22.9A55.0 55.0 0 0 1 61.6 3.1" fill="none" stroke="#a29cd2" stroke-width=".7" stroke-opacity=".5"/><circle cx="58.0" cy="58.0" r="51.0" fill="#a4a4a2" fill-opacity="1.00" stroke="#707080" stroke-width="0.9" stroke-opacity="0.60"/><g filter="url(#bl)"><path d="M74.3 43.2h0M35.5 29.3h0M66.1 40.8h0M48.5 79.7h0M75.7 59.9h0M68.0 67.6h0M53.8 53.3h0M72.0 76.9h0M27.4 42.6h0M58.8 86.4h0M50.5 51.7h0M73.7 94.3h0M76.9 34.7h0M80.1 81.9h0M67.2 21.7h0M88.4 64.6h0M62.6 77.2h0M62.1 51.1h0M58.8 51.3h0M61.1 47.3h0" stroke="#9a96c8" stroke-opacity="0.55" stroke-width="3.1"/><path d="M71.4 37.9h0M46.4 69.8h0M49.8 49.4h0M56.1 97.8h0M50.0 26.9h0M72.0 48.8h0M35.1 57.9h0M75.3 72.9h0M69.4 52.9h0M54.2 61.4h0" stroke="#9a96c8" stroke-opacity="0.55" stroke-width="3.6"/><path d="M84.7 52.1h0M65.8 104.1h0M84.9 32.6h0M52.8 48.9h0M70.8 84.4h0" stroke="#9a96c8" stroke-opacity="0.55" stroke-width="4.1"/><path d="M52.6 47.5h0M49.3 56.8h0" stroke="#9a96c8" stroke-opacity="0.55" stroke-width="4.6"/><path d="M72.8 75.8h0M74.8 41.9h0M101.5 57.8h0" stroke="#9a96c8" stroke-opacity="0.55" stroke-width="5.1"/><path d="M49.3 56.8h0" stroke="#1c1848" stroke-width="3.0"/><path d="M72.8 75.8h0M74.8 41.9h0M101.5 57.8h0" stroke="#1c1848" stroke-width="3.5"/><path d="M69.4 52.9h0M54.2 61.4h0" stroke="#26215b" stroke-width="2.0"/><path d="M84.7 52.1h0M65.8 104.1h0M84.9 32.6h0M52.8 48.9h0M70.8 84.4h0" stroke="#26215b" stroke-width="2.5"/><path d="M52.6 47.5h0" stroke="#26215b" stroke-width="3.0"/><path d="M72.0 76.9h0M27.4 42.6h0M58.8 86.4h0M50.5 51.7h0M73.7 94.3h0M76.9 34.7h0M80.1 81.9h0M67.2 21.7h0M88.4 64.6h0M62.6 77.2h0M62.1 51.1h0M58.8 51.3h0M61.1 47.3h0" stroke="#302b6d" stroke-width="1.5"/><path d="M71.4 37.9h0M46.4 69.8h0M49.8 49.4h0M56.1 97.8h0M50.0 26.9h0M72.0 48.8h0M35.1 57.9h0M75.3 72.9h0" stroke="#302b6d" stroke-width="2.0"/><path d="M74.3 43.2h0M35.5 29.3h0M66.1 40.8h0M48.5 79.7h0M75.7 59.9h0M68.0 67.6h0M53.8 53.3h0" stroke="#3a3480" stroke-width="1.5"/></g></svg><svg class="pn" style="left:744.00px;top:851.70px;width:116.00px;height:116.00px" viewBox="0 0 116.00 116.00"><linearGradient id="g_g6" x1="0" y1="0" x2="0" y2="1"><stop offset="0" stop-color="#a0a09e"/><stop offset="1" stop-color="#a8a8a6"/></linearGradient><rect width="116.0" height="116.0" fill="url(#g_g6)"/><circle cx="58.0" cy="58.0" r="58.0" fill="#aaaaa8" fill-opacity="1.00" stroke="#bfbfbe" stroke-width="1.2" stroke-opacity="0.80"/><path d="M0.5 58.0A57.5 57.5 0 0 1 68.0 1.4L66.9 7.7A51.0 51.0 0 0 0 7.0 58.0Z" fill="#a29cd2" fill-opacity="0.35"/><path d="M15.7 23.6A54.5 54.5 0 0 1 67.5 4.4" fill="none" stroke="#a29cd2" stroke-width=".7" stroke-opacity=".5"/><path d="M5.8 40.5A55.0 55.0 0 0 1 58.2 3.0" fill="none" stroke="#a29cd2" stroke-width=".7" stroke-opacity=".5"/><path d="M3.6 42.2A56.6 56.6 0 0 1 49.2 2.1" fill="none" stroke="#a29cd2" stroke-width=".7" stroke-opacity=".5"/><path d="M18.0 24.1A52.5 52.5 0 0 1 52.1 5.9" fill="none" stroke="#a29cd2" stroke-width=".7" stroke-opacity=".5"/><circle cx="58.0" cy="58.0" r="51.0" fill="#a6a6a4" fill-opacity="1.00" stroke="#707080" stroke-width="0.9" stroke-opacity="0.60"/><g filter="url(#bl)"><path d="M77.5 54.5h0M85.0 44.8h0M46.9 73.7h0M51.2 31.3h0M78.2 55.0h0M64.4 73.6h0M53.6 30.8h0M89.5 61.2h0M36.9 55.9h0M72.3 56.2h0M56.2 52.9h0M70.4 103.1h0M56.2 61.0h0M73.0 41.5h0M70.2 99.4h0M47.8 68.5h0M39.1 86.7h0M23.2 84.3h0M80.2 77.4h0M69.0 36.3h0M61.3 78.6h0M75.9 54.8h0M28.3 77.8h0M46.2 33.4h0M46.8 61.4h0M15.3 65.9h0M63.4 75.1h0M35.1 42.6h0M29.3 49.0h0M56.0 71.7h0M12.7 44.3h0M58.3 71.8h0M58.1 72.8h0M52.2 53.8h0M78.1 66.7h0M68.0 48.1h0M58.4 54.9h0M40.2 46.0h0M59.4 70.0h0M83.6 71.6h0" stroke="#9a96c8" stroke-opacity="0.55" stroke-width="3.1"/><path d="M53.3 72.0h0M68.2 75.4h0M82.1 75.2h0M57.5 55.3h0M44.5 71.9h0M89.5 32.5h0M63.7 43.6h0M64.7 55.9h0M63.5 78.2h0M29.7 66.2h0M76.1 33.8h0M67.9 52.1h0M58.7 60.8h0M39.6 88.4h0" stroke="#9a96c8" stroke-opacity="0.55" stroke-width="3.6"/><path d="M47.6 34.5h0M73.5 38.6h0M91.1 39.3h0M47.8 32.6h0M102.4 74.7h0M33.6 63.8h0M57.5 72.3h0M25.7 51.2h0M53.5 37.5h0M29.7 79.5h0M50.8 34.3h0" stroke="#9a96c8" stroke-opacity="0.55" stroke-width="4.1"/><path d="M46.5 64.6h0M83.6 69.2h0M35.3 70.9h0M62.4 87.8h0M55.9 55.7h0M58.6 67.4h0M15.9 72.3h0M27.5 66.9h0M68.1 77.5h0M66.9 64.2h0M67.4 83.5h0" stroke="#9a96c8" stroke-opacity="0.55" stroke-width="4.6"/><path d="M60.3 61.0h0M97.1 55.1h0M60.2 59.0h0M54.3 17.4h0" stroke="#9a96c8" stroke-opacity="0.55" stroke-width="5.1"/><path d="M29.7 79.5h0" stroke="#1c1848" stroke-width="2.5"/><path d="M46.5 64.6h0M83.6 69.2h0" stroke="#1c1848" stroke-width="3.0"/><path d="M54.3 17.4h0" stroke="#1c1848" stroke-width="3.5"/><path d="M83.6 71.6h0" stroke="#26215b" stroke-width="1.5"/><path d="M63.5 78.2h0M29.7 66.2h0M76.1 33.8h0M67.9 52.1h0M58.7 60.8h0" stroke="#26215b" stroke-width="2.0"/><path d="M47.6 34.5h0M73.5 38.6h0M91.1 39.3h0M47.8 32.6h0M102.4 74.7h0M33.6 63.8h0M57.5 72.3h0M25.7 51.2h0M53.5 37.5h0" stroke="#26215b" stroke-width="2.5"/><path d="M35.3 70.9h0M62.4 87.8h0M55.9 55.7h0M58.6 67.4h0M15.9 72.3h0M27.5 66.9h0M68.1 77.5h0M66.9 64.2h0M67.4 83.5h0" stroke="#26215b" stroke-width="3.0"/><path d="M60.3 61.0h0M97.1 55.1h0M60.2 59.0h0" stroke="#26215b" stroke-width="3.5"/><path d="M56.2 61.0h0M73.0 41.5h0M70.2 99.4h0M47.8 68.5h0M39.1 86.7h0M23.2 84.3h0M80.2 77.4h0M69.0 36.3h0M61.3 78.6h0M75.9 54.8h0M28.3 77.8h0M46.2 33.4h0M46.8 61.4h0M15.3 65.9h0M63.4 75.1h0M35.1 42.6h0M29.3 49.0h0M56.0 71.7h0M12.7 44.3h0M58.3 71.8h0M58.1 72.8h0M52.2 53.8h0M78.1 66.7h0M68.0 48.1h0M58.4 54.9h0M40.2 46.0h0M59.4 70.0h0" stroke="#302b6d" stroke-width="1.5"/><path d="M53.3 72.0h0M68.2 75.4h0M82.1 75.2h0M57.5 55.3h0M44.5 71.9h0M89.5 32.5h0M63.7 43.6h0M64.7 55.9h0" stroke="#302b6d" stroke-width="2.0"/><path d="M50.8 34.3h0" stroke="#302b6d" stroke-width="2.5"/><path d="M77.5 54.5h0M85.0 44.8h0M46.9 73.7h0M51.2 31.3h0M78.2 55.0h0M64.4 73.6h0M53.6 30.8h0M89.5 61.2h0M36.9 55.9h0M72.3 56.2h0M56.2 52.9h0M70.4 103.1h0" stroke="#3a3480" stroke-width="1.5"/><path d="M39.6 88.4h0" stroke="#3a3480" stroke-width="2.0"/></g></svg><svg class="pn" style="left:863.30px;top:851.70px;width:114.00px;height:116.00px" viewBox="0 0 114.00 116.00"><linearGradient id="g_g7" x1="0" y1="0" x2="0" y2="1"><stop offset="0" stop-color="#a2a2a0"/><stop offset="1" stop-color="#aaaaa8"/></linearGradient><rect width="114.0" height="116.0" fill="url(#g_g7)"/><circle cx="57.0" cy="58.0" r="57.0" fill="#acacaa" fill-opacity="1.00" stroke="#c1c1bf" stroke-width="1.2" stroke-opacity="0.80"/><path d="M1.4 67.8A56.5 56.5 0 0 1 47.2 2.4L48.3 8.6A50.2 50.2 0 0 0 7.6 66.7Z" fill="#a29cd2" fill-opacity="0.35"/><path d="M8.2 38.6A52.5 52.5 0 0 1 47.0 6.4" fill="none" stroke="#a29cd2" stroke-width=".7" stroke-opacity=".5"/><path d="M4.2 59.3A52.8 52.8 0 0 1 26.7 14.8" fill="none" stroke="#a29cd2" stroke-width=".7" stroke-opacity=".5"/><path d="M1.5 55.5A55.5 55.5 0 0 1 14.9 21.7" fill="none" stroke="#a29cd2" stroke-width=".7" stroke-opacity=".5"/><path d="M8.5 40.1A51.7 51.7 0 0 1 48.0 7.1" fill="none" stroke="#a29cd2" stroke-width=".7" stroke-opacity=".5"/><circle cx="57.0" cy="58.0" r="50.2" fill="#a8a8a6" fill-opacity="1.00" stroke="#707080" stroke-width="0.9" stroke-opacity="0.60"/><g filter="url(#bl)"><path d="M80.0 36.5h0M92.0 32.9h0M36.1 83.4h0M47.7 81.1h0M64.6 69.7h0M57.8 71.0h0M48.0 78.9h0M32.0 60.5h0M85.9 94.0h0M75.7 87.1h0M84.8 72.6h0M35.7 59.7h0M66.1 39.8h0M71.8 15.7h0M60.8 63.1h0M77.1 57.7h0M86.4 54.7h0M51.3 48.4h0M33.2 63.9h0M48.1 83.1h0M52.3 57.5h0M72.9 48.7h0M75.3 62.5h0M43.6 51.8h0M70.6 63.0h0M71.3 63.2h0M51.7 46.6h0M74.6 34.8h0M38.4 16.8h0M47.3 53.4h0M41.4 48.9h0M65.3 62.6h0M72.3 43.9h0M32.0 81.3h0M54.3 41.4h0M25.6 66.4h0M61.0 80.3h0M33.5 52.7h0M72.3 77.7h0M49.6 45.7h0M57.2 61.3h0M75.7 68.3h0M54.3 59.1h0M69.3 98.4h0M73.7 56.7h0M58.3 71.3h0M64.0 57.1h0M82.2 42.1h0M21.2 83.5h0M72.9 57.4h0M64.1 83.7h0" stroke="#9a96c8" stroke-opacity="0.55" stroke-width="3.1"/><path d="M41.6 64.4h0M55.7 31.6h0M43.3 31.7h0M60.7 45.8h0M78.2 79.0h0M90.0 29.4h0M80.6 59.7h0M67.3 84.0h0M32.7 32.3h0M67.7 63.2h0M56.7 52.0h0M39.8 54.3h0M68.6 41.9h0M57.3 40.7h0M86.7 23.9h0M66.3 48.0h0M41.2 54.3h0M86.5 31.5h0M64.8 81.9h0M32.9 72.3h0" stroke="#9a96c8" stroke-opacity="0.55" stroke-width="3.6"/><path d="M37.4 60.3h0M64.4 59.2h0M77.8 59.0h0M61.5 36.0h0M26.5 68.5h0M28.6 50.0h0M55.0 37.1h0M70.6 80.9h0M88.2 65.3h0M59.3 56.8h0M37.0 26.5h0M50.0 34.7h0M66.2 58.5h0M64.1 70.5h0" stroke="#9a96c8" stroke-opacity="0.55" stroke-width="4.1"/><path d="M81.7 59.7h0M71.2 52.5h0M64.0 52.0h0M77.9 19.2h0M59.0 41.6h0M39.6 38.0h0M46.2 29.6h0M34.5 94.0h0M33.4 92.1h0M54.0 76.4h0" stroke="#9a96c8" stroke-opacity="0.55" stroke-width="4.6"/><path d="M74.7 82.6h0M63.8 27.7h0M41.6 32.2h0M61.5 38.3h0M40.0 63.0h0" stroke="#9a96c8" stroke-opacity="0.55" stroke-width="5.1"/><path d="M64.1 70.5h0" stroke="#1c1848" stroke-width="2.5"/><path d="M46.2 29.6h0M34.5 94.0h0M33.4 92.1h0M54.0 76.4h0" stroke="#1c1848" stroke-width="3.0"/><path d="M74.7 82.6h0M63.8 27.7h0M41.6 32.2h0M61.5 38.3h0M40.0 63.0h0" stroke="#1c1848" stroke-width="3.5"/><path d="M21.2 83.5h0M72.9 57.4h0M64.1 83.7h0" stroke="#26215b" stroke-width="1.5"/><path d="M66.3 48.0h0M41.2 54.3h0M86.5 31.5h0M64.8 81.9h0" stroke="#26215b" stroke-width="2.0"/><path d="M77.8 59.0h0M61.5 36.0h0M26.5 68.5h0M28.6 50.0h0M55.0 37.1h0M70.6 80.9h0M88.2 65.3h0M59.3 56.8h0M37.0 26.5h0M50.0 34.7h0M66.2 58.5h0" stroke="#26215b" stroke-width="2.5"/><path d="M81.7 59.7h0M71.2 52.5h0M64.0 52.0h0M77.9 19.2h0M59.0 41.6h0M39.6 38.0h0" stroke="#26215b" stroke-width="3.0"/><path d="M33.2 63.9h0M48.1 83.1h0M52.3 57.5h0M72.9 48.7h0M75.3 62.5h0M43.6 51.8h0M70.6 63.0h0M71.3 63.2h0M51.7 46.6h0M74.6 34.8h0M38.4 16.8h0M47.3 53.4h0M41.4 48.9h0M65.3 62.6h0M72.3 43.9h0M32.0 81.3h0M54.3 41.4h0M25.6 66.4h0M61.0 80.3h0M33.5 52.7h0M72.3 77.7h0M49.6 45.7h0M57.2 61.3h0M75.7 68.3h0M54.3 59.1h0M69.3 98.4h0M73.7 56.7h0M58.3 71.3h0M64.0 57.1h0M82.2 42.1h0" stroke="#302b6d" stroke-width="1.5"/><path d="M41.6 64.4h0M55.7 31.6h0M43.3 31.7h0M60.7 45.8h0M78.2 79.0h0M90.0 29.4h0M80.6 59.7h0M67.3 84.0h0M32.7 32.3h0M67.7 63.2h0M56.7 52.0h0M39.8 54.3h0M68.6 41.9h0M57.3 40.7h0M86.7 23.9h0" stroke="#302b6d" stroke-width="2.0"/><path d="M37.4 60.3h0M64.4 59.2h0" stroke="#302b6d" stroke-width="2.5"/><path d="M80.0 36.5h0M92.0 32.9h0M36.1 83.4h0M47.7 81.1h0M64.6 69.7h0M57.8 71.0h0M48.0 78.9h0M32.0 60.5h0M85.9 94.0h0M75.7 87.1h0M84.8 72.6h0M35.7 59.7h0M66.1 39.8h0M71.8 15.7h0M60.8 63.1h0M77.1 57.7h0M86.4 54.7h0M51.3 48.4h0" stroke="#3a3480" stroke-width="1.5"/><path d="M32.9 72.3h0" stroke="#3a3480" stroke-width="2.0"/></g></svg><svg class="pn" style="left:979.30px;top:851.70px;width:123.40px;height:116.00px" viewBox="0 0 123.40 116.00"><linearGradient id="g_g8" x1="0" y1="0" x2="0" y2="1"><stop offset="0" stop-color="#a6a6a4"/><stop offset="1" stop-color="#aeaeac"/></linearGradient><rect width="123.4" height="116.0" fill="url(#g_g8)"/><circle cx="61.7" cy="58.0" r="58.0" fill="#b0b0ae" fill-opacity="1.00" stroke="#c4c4c2" stroke-width="1.2" stroke-opacity="0.80"/><path d="M51.7 1.4A57.5 57.5 0 0 1 105.7 21.0L100.8 25.2A51.0 51.0 0 0 0 52.8 7.7Z" fill="#a29cd2" fill-opacity="0.30"/><path d="M54.9 4.1A54.3 54.3 0 0 1 75.0 5.3" fill="none" stroke="#a29cd2" stroke-width=".7" stroke-opacity=".5"/><path d="M58.0 1.0A57.1 57.1 0 0 1 96.4 12.6" fill="none" stroke="#a29cd2" stroke-width=".7" stroke-opacity=".5"/><path d="M73.1 4.0A55.2 55.2 0 0 1 95.3 14.3" fill="none" stroke="#a29cd2" stroke-width=".7" stroke-opacity=".5"/><circle cx="61.7" cy="58.0" r="51.0" fill="#acacaa" fill-opacity="1.00" stroke="#707080" stroke-width="0.9" stroke-opacity="0.60"/><g filter="url(#bl)"><path d="M90.2 77.5h0M37.7 72.2h0M63.8 58.3h0M70.8 46.7h0M67.3 62.4h0M69.0 48.2h0M69.3 33.2h0M54.4 55.9h0M46.8 62.3h0M63.7 85.7h0M18.7 48.0h0M44.0 52.3h0M54.1 65.3h0M91.1 72.2h0M35.3 94.9h0M85.3 54.1h0M68.0 44.2h0M36.0 63.1h0M62.4 60.1h0M68.3 14.3h0M49.8 58.1h0M69.7 50.6h0M60.2 72.3h0M71.5 67.8h0M55.7 41.2h0M43.1 55.4h0M29.1 28.1h0M55.4 45.0h0M34.1 66.7h0M54.1 56.9h0M71.0 79.0h0M75.7 33.9h0M68.5 29.4h0M49.5 67.5h0M63.0 66.0h0M65.2 22.4h0M56.6 44.9h0M32.6 36.3h0M61.3 56.6h0M60.8 53.0h0M81.5 42.5h0M53.9 67.0h0M27.8 90.9h0M85.7 42.1h0M52.7 71.2h0M75.1 71.9h0M67.1 20.8h0M76.8 21.1h0M40.4 68.7h0M69.8 24.6h0M56.5 75.6h0M80.3 52.9h0M97.4 56.0h0M69.9 38.0h0M78.1 45.1h0M22.3 49.7h0M56.2 25.0h0M68.1 85.0h0M57.6 55.2h0M37.6 85.3h0M56.9 45.6h0M98.7 49.1h0M30.8 51.3h0M70.2 76.5h0M65.0 71.5h0M41.2 51.9h0M51.6 49.8h0M50.7 77.6h0M47.5 64.3h0M39.7 77.1h0M39.7 65.7h0M71.8 54.3h0M58.0 80.0h0M42.2 79.8h0M41.6 49.1h0M86.6 59.0h0M39.4 52.5h0M33.6 78.8h0M65.3 36.8h0M41.8 55.2h0M22.3 54.6h0M73.9 45.3h0M31.6 45.7h0M25.3 57.4h0M66.0 60.5h0M68.8 33.8h0M43.2 28.9h0M23.5 67.6h0M80.0 49.9h0" stroke="#9a96c8" stroke-opacity="0.55" stroke-width="3.1"/><path d="M44.3 48.3h0M55.4 64.9h0M44.0 63.7h0M77.2 64.7h0M77.3 57.7h0M27.4 41.5h0M83.2 48.6h0M66.7 31.0h0M50.1 67.1h0M88.9 44.9h0M65.4 34.2h0M91.3 65.4h0M95.9 65.5h0M72.5 84.1h0M52.5 81.0h0M55.4 34.0h0M73.3 79.6h0M85.2 70.4h0M68.9 66.2h0M48.4 97.2h0M40.8 40.4h0M54.9 80.6h0M71.7 26.5h0M65.0 93.1h0M97.0 51.9h0M49.0 75.4h0M18.8 63.0h0M85.5 81.3h0M60.9 58.5h0M61.3 93.9h0M58.4 93.4h0M72.5 69.8h0M81.8 14.8h0M65.9 69.5h0M63.2 86.8h0M82.3 55.8h0M66.9 78.6h0M52.4 61.9h0M71.7 80.2h0M83.6 61.3h0" stroke="#9a96c8" stroke-opacity="0.55" stroke-width="3.6"/><path d="M41.7 53.9h0M46.9 61.0h0M44.8 73.4h0M55.9 36.0h0M64.7 41.2h0M83.1 27.8h0M54.2 62.8h0M39.4 47.7h0M82.5 39.4h0M67.3 59.3h0M89.5 38.0h0M41.2 61.4h0M89.0 30.3h0M65.0 80.6h0M71.6 29.1h0M63.4 61.4h0M48.6 25.0h0M80.7 28.6h0M51.4 50.1h0M48.0 64.5h0M61.9 39.4h0" stroke="#9a96c8" stroke-opacity="0.55" stroke-width="4.1"/><path d="M30.0 85.8h0M92.1 54.9h0M28.0 40.3h0M52.9 51.3h0M77.3 83.7h0M57.4 38.2h0M85.3 20.4h0M75.4 52.3h0M55.1 51.6h0M100.8 59.1h0M58.9 89.8h0M46.9 74.5h0M65.9 65.1h0M35.0 72.8h0M56.2 38.5h0M73.2 49.9h0M77.9 63.8h0M60.9 69.7h0M30.1 43.7h0M99.7 70.1h0M65.2 37.7h0M45.5 41.6h0M79.5 90.2h0M22.1 73.0h0" stroke="#9a96c8" stroke-opacity="0.55" stroke-width="4.6"/><path d="M58.7 66.1h0M51.2 83.6h0M72.0 54.4h0M57.8 48.6h0M53.5 69.0h0M67.0 68.4h0M60.3 46.1h0M46.6 73.8h0M59.3 50.6h0M37.3 73.3h0M79.6 81.4h0M57.2 83.4h0M71.9 49.8h0M97.0 72.6h0M44.0 57.0h0M75.5 35.9h0" stroke="#9a96c8" stroke-opacity="0.55" stroke-width="5.1"/><path d="M80.7 28.6h0M51.4 50.1h0M48.0 64.5h0M61.9 39.4h0" stroke="#1c1848" stroke-width="2.5"/><path d="M73.2 49.9h0M77.9 63.8h0M60.9 69.7h0M30.1 43.7h0M99.7 70.1h0M65.2 37.7h0M45.5 41.6h0M79.5 90.2h0" stroke="#1c1848" stroke-width="3.0"/><path d="M58.7 66.1h0M51.2 83.6h0M72.0 54.4h0M57.8 48.6h0M53.5 69.0h0M67.0 68.4h0M60.3 46.1h0M46.6 73.8h0M59.3 50.6h0M37.3 73.3h0M79.6 81.4h0" stroke="#1c1848" stroke-width="3.5"/><path d="M23.5 67.6h0M80.0 49.9h0" stroke="#26215b" stroke-width="1.5"/><path d="M40.8 40.4h0M54.9 80.6h0M71.7 26.5h0M65.0 93.1h0M97.0 51.9h0M49.0 75.4h0M18.8 63.0h0M85.5 81.3h0M60.9 58.5h0M61.3 93.9h0M58.4 93.4h0M72.5 69.8h0M81.8 14.8h0M65.9 69.5h0M63.2 86.8h0M82.3 55.8h0M66.9 78.6h0M52.4 61.9h0" stroke="#26215b" stroke-width="2.0"/><path d="M41.7 53.9h0M46.9 61.0h0M44.8 73.4h0M55.9 36.0h0M64.7 41.2h0M83.1 27.8h0M54.2 62.8h0M39.4 47.7h0M82.5 39.4h0M67.3 59.3h0M89.5 38.0h0M41.2 61.4h0M89.0 30.3h0M65.0 80.6h0M71.6 29.1h0" stroke="#26215b" stroke-width="2.5"/><path d="M30.0 85.8h0M92.1 54.9h0M28.0 40.3h0M52.9 51.3h0M77.3 83.7h0M57.4 38.2h0M85.3 20.4h0M75.4 52.3h0M55.1 51.6h0M100.8 59.1h0M58.9 89.8h0M46.9 74.5h0M65.9 65.1h0M35.0 72.8h0M56.2 38.5h0" stroke="#26215b" stroke-width="3.0"/><path d="M57.2 83.4h0M71.9 49.8h0M97.0 72.6h0M44.0 57.0h0M75.5 35.9h0" stroke="#26215b" stroke-width="3.5"/><path d="M90.2 77.5h0M37.7 72.2h0M63.8 58.3h0M70.8 46.7h0M67.3 62.4h0M69.0 48.2h0M69.3 33.2h0M54.4 55.9h0M46.8 62.3h0M63.7 85.7h0M18.7 48.0h0M44.0 52.3h0M54.1 65.3h0M91.1 72.2h0M35.3 94.9h0M85.3 54.1h0M68.0 44.2h0M36.0 63.1h0M62.4 60.1h0M68.3 14.3h0M49.8 58.1h0M69.7 50.6h0M60.2 72.3h0M71.5 67.8h0M55.7 41.2h0M43.1 55.4h0M29.1 28.1h0M55.4 45.0h0M34.1 66.7h0M54.1 56.9h0M71.0 79.0h0M75.7 33.9h0M68.5 29.4h0M49.5 67.5h0M63.0 66.0h0M65.2 22.4h0M56.6 44.9h0M32.6 36.3h0M61.3 56.6h0M60.8 53.0h0M81.5 42.5h0M53.9 67.0h0M27.8 90.9h0M85.7 42.1h0M52.7 71.2h0M75.1 71.9h0M67.1 20.8h0M76.8 21.1h0M40.4 68.7h0M69.8 24.6h0M56.5 75.6h0M80.3 52.9h0M97.4 56.0h0" stroke="#302b6d" stroke-width="1.5"/><path d="M44.3 48.3h0M55.4 64.9h0M44.0 63.7h0M77.2 64.7h0M77.3 57.7h0M27.4 41.5h0M83.2 48.6h0M66.7 31.0h0M50.1 67.1h0M88.9 44.9h0M65.4 34.2h0M91.3 65.4h0M95.9 65.5h0M72.5 84.1h0M52.5 81.0h0M55.4 34.0h0M73.3 79.6h0M85.2 70.4h0M68.9 66.2h0M48.4 97.2h0" stroke="#302b6d" stroke-width="2.0"/><path d="M63.4 61.4h0M48.6 25.0h0" stroke="#302b6d" stroke-width="2.5"/><path d="M22.1 73.0h0" stroke="#302b6d" stroke-width="3.0"/><path d="M69.9 38.0h0M78.1 45.1h0M22.3 49.7h0M56.2 25.0h0M68.1 85.0h0M57.6 55.2h0M37.6 85.3h0M56.9 45.6h0M98.7 49.1h0M30.8 51.3h0M70.2 76.5h0M65.0 71.5h0M41.2 51.9h0M51.6 49.8h0M50.7 77.6h0M47.5 64.3h0M39.7 77.1h0M39.7 65.7h0M71.8 54.3h0M58.0 80.0h0M42.2 79.8h0M41.6 49.1h0M86.6 59.0h0M39.4 52.5h0M33.6 78.8h0M65.3 36.8h0M41.8 55.2h0M22.3 54.6h0M73.9 45.3h0M31.6 45.7h0M25.3 57.4h0M66.0 60.5h0M68.8 33.8h0M43.2 28.9h0" stroke="#3a3480" stroke-width="1.5"/><path d="M71.7 80.2h0M83.6 61.3h0" stroke="#3a3480" stroke-width="2.0"/></g></svg><svg class="pn" style="left:142.30px;top:978.30px;width:116.00px;height:116.70px" viewBox="0 0 116.00 116.70"><linearGradient id="g_h1" x1="0" y1="0" x2="0" y2="1"><stop offset="0" stop-color="#9f9f9d"/><stop offset="1" stop-color="#a5a5a3"/></linearGradient><rect width="116.0" height="116.7" fill="url(#g_h1)"/><circle cx="58.0" cy="58.4" r="58.0" fill="#a9a9a7" fill-opacity="1.00" stroke="#bebebc" stroke-width="1.2" stroke-opacity="0.80"/><path d="M1.4 68.3A57.5 57.5 0 0 1 68.0 1.7L66.9 8.1A51.0 51.0 0 0 0 7.7 67.2Z" fill="#a29cd2" fill-opacity="0.40"/><path d="M8.1 30.8A57.0 57.0 0 0 1 67.3 2.1" fill="none" stroke="#a29cd2" stroke-width=".7" stroke-opacity=".5"/><path d="M4.5 50.8A54.0 54.0 0 0 1 26.8 14.2" fill="none" stroke="#a29cd2" stroke-width=".7" stroke-opacity=".5"/><path d="M6.5 52.3A51.8 51.8 0 0 1 46.2 7.9" fill="none" stroke="#a29cd2" stroke-width=".7" stroke-opacity=".5"/><path d="M2.4 58.9A55.6 55.6 0 0 1 39.4 6.0" fill="none" stroke="#a29cd2" stroke-width=".7" stroke-opacity=".5"/><path d="M8.5 44.7A51.3 51.3 0 0 1 40.0 10.3" fill="none" stroke="#a29cd2" stroke-width=".7" stroke-opacity=".5"/><circle cx="58.0" cy="58.4" r="51.0" fill="#a3a3a1" fill-opacity="1.00" stroke="#707080" stroke-width="0.9" stroke-opacity="0.60"/><g filter="url(#bl)"><path d="M104.2 71.4h0M30.7 90.4h0M11.8 46.8h0M73.9 15.2h0M25.9 87.9h0M54.6 35.4h0M73.1 68.9h0M76.7 60.5h0M51.0 54.7h0M22.3 58.7h0M83.8 79.9h0M64.4 90.6h0M52.7 106.5h0M21.2 64.0h0M69.2 38.8h0" stroke="#9a96c8" stroke-opacity="0.55" stroke-width="3.1"/><path d="M57.2 11.9h0M62.6 98.3h0M12.1 57.1h0M22.7 79.2h0" stroke="#9a96c8" stroke-opacity="0.55" stroke-width="3.6"/><path d="M59.7 97.5h0M85.0 84.6h0" stroke="#9a96c8" stroke-opacity="0.55" stroke-width="4.1"/><path d="M43.5 56.1h0M85.8 93.2h0M81.6 24.8h0M84.0 43.9h0M53.4 56.9h0" stroke="#9a96c8" stroke-opacity="0.55" stroke-width="4.6"/><path d="M64.7 22.9h0M59.1 34.0h0M61.7 100.3h0M21.0 79.6h0" stroke="#9a96c8" stroke-opacity="0.55" stroke-width="5.1"/><path d="M43.5 56.1h0" stroke="#1c1848" stroke-width="3.0"/><path d="M64.7 22.9h0M59.1 34.0h0M61.7 100.3h0" stroke="#1c1848" stroke-width="3.5"/><path d="M22.7 79.2h0" stroke="#26215b" stroke-width="2.0"/><path d="M59.7 97.5h0M85.0 84.6h0" stroke="#26215b" stroke-width="2.5"/><path d="M85.8 93.2h0M81.6 24.8h0M84.0 43.9h0M53.4 56.9h0" stroke="#26215b" stroke-width="3.0"/><path d="M21.0 79.6h0" stroke="#26215b" stroke-width="3.5"/><path d="M104.2 71.4h0M30.7 90.4h0M11.8 46.8h0M73.9 15.2h0M25.9 87.9h0M54.6 35.4h0M73.1 68.9h0M76.7 60.5h0M51.0 54.7h0M22.3 58.7h0" stroke="#302b6d" stroke-width="1.5"/><path d="M57.2 11.9h0M62.6 98.3h0M12.1 57.1h0" stroke="#302b6d" stroke-width="2.0"/><path d="M83.8 79.9h0M64.4 90.6h0M52.7 106.5h0M21.2 64.0h0M69.2 38.8h0" stroke="#3a3480" stroke-width="1.5"/></g></svg><svg class="pn" style="left:261.70px;top:978.30px;width:115.00px;height:116.70px" viewBox="0 0 115.00 116.70"><linearGradient id="g_h2" x1="0" y1="0" x2="0" y2="1"><stop offset="0" stop-color="#9f9f9d"/><stop offset="1" stop-color="#a5a5a3"/></linearGradient><rect width="115.0" height="116.7" fill="url(#g_h2)"/><circle cx="57.5" cy="58.4" r="57.5" fill="#a9a9a7" fill-opacity="1.00" stroke="#bebebc" stroke-width="1.2" stroke-opacity="0.80"/><path d="M1.4 68.2A57.0 57.0 0 0 1 67.4 2.2L66.3 8.5A50.6 50.6 0 0 0 7.7 67.1Z" fill="#a29cd2" fill-opacity="0.40"/><path d="M2.9 62.6A54.8 54.8 0 0 1 22.1 16.6" fill="none" stroke="#a29cd2" stroke-width=".7" stroke-opacity=".5"/><path d="M6.0 39.7A54.8 54.8 0 0 1 43.1 5.5" fill="none" stroke="#a29cd2" stroke-width=".7" stroke-opacity=".5"/><path d="M2.0 61.3A55.5 55.5 0 0 1 44.5 4.4" fill="none" stroke="#a29cd2" stroke-width=".7" stroke-opacity=".5"/><path d="M17.4 23.8A52.9 52.9 0 0 1 47.4 6.4" fill="none" stroke="#a29cd2" stroke-width=".7" stroke-opacity=".5"/><path d="M9.8 41.3A50.6 50.6 0 0 1 42.3 10.1" fill="none" stroke="#a29cd2" stroke-width=".7" stroke-opacity=".5"/><circle cx="57.5" cy="58.4" r="50.6" fill="#a3a3a1" fill-opacity="1.00" stroke="#707080" stroke-width="0.9" stroke-opacity="0.60"/><g filter="url(#bl)"><path d="M15.5 34.4h0M19.4 83.6h0M30.5 78.3h0M59.8 10.3h0M95.2 55.2h0M70.7 30.1h0M49.8 43.2h0M39.1 65.1h0M36.6 77.3h0M75.3 98.8h0M65.5 38.6h0M62.4 98.2h0M81.5 30.9h0M18.0 40.1h0M85.7 85.8h0M52.3 54.6h0M36.8 57.9h0M100.7 36.7h0M15.8 78.9h0M64.5 76.1h0M92.9 83.2h0M44.5 101.4h0M10.7 64.5h0M81.2 100.3h0M80.8 77.7h0" stroke="#9a96c8" stroke-opacity="0.55" stroke-width="3.1"/><path d="M22.1 70.5h0M37.7 61.5h0M101.2 40.8h0M60.9 18.3h0M35.9 25.7h0M43.8 50.8h0M83.6 47.5h0M57.6 98.9h0M49.3 55.1h0M22.0 37.8h0M57.4 62.8h0M64.8 25.2h0" stroke="#9a96c8" stroke-opacity="0.55" stroke-width="3.6"/><path d="M38.6 27.7h0M17.1 84.9h0M87.9 57.0h0M93.1 47.8h0M77.8 31.1h0M93.0 27.3h0M104.8 62.7h0M49.0 67.5h0M99.1 81.2h0" stroke="#9a96c8" stroke-opacity="0.55" stroke-width="4.1"/><path d="M96.8 61.7h0M38.9 66.9h0M63.3 13.5h0M56.1 82.3h0M69.9 93.0h0M85.5 29.6h0M63.3 16.9h0M94.3 57.9h0M77.2 20.5h0" stroke="#9a96c8" stroke-opacity="0.55" stroke-width="4.6"/><path d="M61.5 38.2h0M56.6 36.7h0M67.2 15.4h0M17.2 83.0h0M38.2 73.6h0" stroke="#9a96c8" stroke-opacity="0.55" stroke-width="5.1"/><path d="M99.1 81.2h0" stroke="#1c1848" stroke-width="2.5"/><path d="M85.5 29.6h0M63.3 16.9h0M94.3 57.9h0" stroke="#1c1848" stroke-width="3.0"/><path d="M61.5 38.2h0M56.6 36.7h0M67.2 15.4h0M17.2 83.0h0M38.2 73.6h0" stroke="#1c1848" stroke-width="3.5"/><path d="M80.8 77.7h0" stroke="#26215b" stroke-width="1.5"/><path d="M22.0 37.8h0M57.4 62.8h0M64.8 25.2h0" stroke="#26215b" stroke-width="2.0"/><path d="M38.6 27.7h0M17.1 84.9h0M87.9 57.0h0M93.1 47.8h0" stroke="#26215b" stroke-width="2.5"/><path d="M96.8 61.7h0M38.9 66.9h0M63.3 13.5h0M56.1 82.3h0M69.9 93.0h0" stroke="#26215b" stroke-width="3.0"/><path d="M15.5 34.4h0M19.4 83.6h0M30.5 78.3h0M59.8 10.3h0M95.2 55.2h0M70.7 30.1h0M49.8 43.2h0M39.1 65.1h0M36.6 77.3h0M75.3 98.8h0M65.5 38.6h0M62.4 98.2h0M81.5 30.9h0M18.0 40.1h0M85.7 85.8h0M52.3 54.6h0M36.8 57.9h0M100.7 36.7h0" stroke="#302b6d" stroke-width="1.5"/><path d="M22.1 70.5h0M37.7 61.5h0M101.2 40.8h0M60.9 18.3h0M35.9 25.7h0M43.8 50.8h0M83.6 47.5h0M57.6 98.9h0M49.3 55.1h0" stroke="#302b6d" stroke-width="2.0"/><path d="M93.0 27.3h0M104.8 62.7h0M49.0 67.5h0" stroke="#302b6d" stroke-width="2.5"/><path d="M77.2 20.5h0" stroke="#302b6d" stroke-width="3.0"/><path d="M15.8 78.9h0M64.5 76.1h0M92.9 83.2h0M44.5 101.4h0M10.7 64.5h0M81.2 100.3h0" stroke="#3a3480" stroke-width="1.5"/><path d="M77.8 31.1h0" stroke="#3a3480" stroke-width="2.5"/></g></svg><svg class="pn" style="left:377.30px;top:978.30px;width:125.00px;height:116.70px" viewBox="0 0 125.00 116.70"><linearGradient id="g_h3" x1="0" y1="0" x2="0" y2="1"><stop offset="0" stop-color="#9f9f9d"/><stop offset="1" stop-color="#a5a5a3"/></linearGradient><rect width="125.0" height="116.7" fill="url(#g_h3)"/><circle cx="62.5" cy="58.4" r="58.4" fill="#a9a9a7" fill-opacity="1.00" stroke="#bebebc" stroke-width="1.2" stroke-opacity="0.80"/><path d="M12.4 87.3A57.9 57.9 0 0 1 25.3 14.0L29.5 19.0A51.3 51.3 0 0 0 18.0 84.0Z" fill="#a29cd2" fill-opacity="0.35"/><path d="M5.5 61.4A57.1 57.1 0 0 1 9.2 38.0" fill="none" stroke="#a29cd2" stroke-width=".7" stroke-opacity=".5"/><path d="M14.8 84.8A54.5 54.5 0 0 1 9.8 44.4" fill="none" stroke="#a29cd2" stroke-width=".7" stroke-opacity=".5"/><path d="M7.8 60.1A54.7 54.7 0 0 1 19.2 24.8" fill="none" stroke="#a29cd2" stroke-width=".7" stroke-opacity=".5"/><path d="M7.2 58.6A55.3 55.3 0 0 1 16.6 27.5" fill="none" stroke="#a29cd2" stroke-width=".7" stroke-opacity=".5"/><circle cx="62.5" cy="58.4" r="51.3" fill="#a3a3a1" fill-opacity="1.00" stroke="#707080" stroke-width="0.9" stroke-opacity="0.60"/><g filter="url(#bl)"><path d="M59.0 38.0h0M46.1 31.9h0M36.0 19.3h0M59.4 78.4h0M50.7 60.2h0M99.4 34.3h0M37.1 56.1h0M29.0 61.6h0M57.8 56.9h0M34.9 91.9h0M75.5 43.4h0M97.1 81.3h0M53.2 47.3h0M108.3 54.7h0M23.5 36.1h0M56.2 10.2h0M57.6 91.0h0M70.7 17.2h0M31.4 74.1h0M56.5 59.4h0M109.1 48.3h0M61.9 64.8h0M81.9 97.8h0M96.9 82.2h0M63.2 60.6h0" stroke="#9a96c8" stroke-opacity="0.55" stroke-width="3.1"/><path d="M30.9 66.3h0M41.4 75.8h0M40.0 75.9h0M35.5 68.8h0M53.6 56.9h0M58.4 83.8h0M56.7 64.0h0M57.6 92.2h0M29.0 61.2h0M81.5 46.6h0" stroke="#9a96c8" stroke-opacity="0.55" stroke-width="3.6"/><path d="M82.9 86.3h0M20.8 38.9h0M80.7 86.3h0M101.6 77.9h0M61.4 30.3h0M91.2 33.6h0M41.5 62.5h0M102.9 64.6h0M85.3 62.6h0M25.9 29.1h0M40.9 102.3h0M56.2 81.9h0" stroke="#9a96c8" stroke-opacity="0.55" stroke-width="4.1"/><path d="M96.0 82.7h0M66.5 79.8h0M66.8 53.4h0M54.8 89.7h0M74.3 60.5h0M74.0 94.2h0M59.9 71.2h0M54.5 85.1h0M66.4 55.9h0M81.5 20.3h0" stroke="#9a96c8" stroke-opacity="0.55" stroke-width="4.6"/><path d="M58.1 96.2h0M98.6 69.8h0M35.1 71.5h0" stroke="#9a96c8" stroke-opacity="0.55" stroke-width="5.1"/><path d="M96.0 82.7h0M66.5 79.8h0M66.8 53.4h0M54.8 89.7h0" stroke="#1c1848" stroke-width="3.0"/><path d="M58.1 96.2h0M98.6 69.8h0" stroke="#1c1848" stroke-width="3.5"/><path d="M96.9 82.2h0M63.2 60.6h0" stroke="#26215b" stroke-width="1.5"/><path d="M30.9 66.3h0M41.4 75.8h0M40.0 75.9h0M35.5 68.8h0" stroke="#26215b" stroke-width="2.0"/><path d="M82.9 86.3h0M20.8 38.9h0M80.7 86.3h0M101.6 77.9h0M61.4 30.3h0M91.2 33.6h0M41.5 62.5h0M102.9 64.6h0M85.3 62.6h0M25.9 29.1h0M40.9 102.3h0M56.2 81.9h0" stroke="#26215b" stroke-width="2.5"/><path d="M74.3 60.5h0M74.0 94.2h0M59.9 71.2h0M54.5 85.1h0M66.4 55.9h0" stroke="#26215b" stroke-width="3.0"/><path d="M35.1 71.5h0" stroke="#26215b" stroke-width="3.5"/><path d="M34.9 91.9h0M75.5 43.4h0M97.1 81.3h0M53.2 47.3h0M108.3 54.7h0M23.5 36.1h0M56.2 10.2h0M57.6 91.0h0M70.7 17.2h0M31.4 74.1h0M56.5 59.4h0M109.1 48.3h0M61.9 64.8h0M81.9 97.8h0" stroke="#302b6d" stroke-width="1.5"/><path d="M53.6 56.9h0M58.4 83.8h0M56.7 64.0h0M57.6 92.2h0M29.0 61.2h0M81.5 46.6h0" stroke="#302b6d" stroke-width="2.0"/><path d="M81.5 20.3h0" stroke="#302b6d" stroke-width="3.0"/><path d="M59.0 38.0h0M46.1 31.9h0M36.0 19.3h0M59.4 78.4h0M50.7 60.2h0M99.4 34.3h0M37.1 56.1h0M29.0 61.6h0M57.8 56.9h0" stroke="#3a3480" stroke-width="1.5"/></g></svg><svg class="pn" style="left:503.30px;top:978.30px;width:113.40px;height:116.70px" viewBox="0 0 113.40 116.70"><linearGradient id="g_h4" x1="0" y1="0" x2="0" y2="1"><stop offset="0" stop-color="#9f9f9d"/><stop offset="1" stop-color="#a5a5a3"/></linearGradient><rect width="113.4" height="116.7" fill="url(#g_h4)"/><circle cx="56.7" cy="58.4" r="56.7" fill="#a9a9a7" fill-opacity="1.00" stroke="#bebebc" stroke-width="1.2" stroke-opacity="0.80"/><path d="M3.9 77.6A56.2 56.2 0 0 1 46.9 3.0L48.0 9.2A49.9 49.9 0 0 0 9.8 75.4Z" fill="#a29cd2" fill-opacity="0.35"/><path d="M3.0 43.5A55.7 55.7 0 0 1 36.6 6.4" fill="none" stroke="#a29cd2" stroke-width=".7" stroke-opacity=".5"/><path d="M4.1 60.3A52.6 52.6 0 0 1 38.7 8.9" fill="none" stroke="#a29cd2" stroke-width=".7" stroke-opacity=".5"/><path d="M2.3 58.9A54.4 54.4 0 0 1 16.7 21.4" fill="none" stroke="#a29cd2" stroke-width=".7" stroke-opacity=".5"/><path d="M7.8 37.4A53.2 53.2 0 0 1 47.5 6.0" fill="none" stroke="#a29cd2" stroke-width=".7" stroke-opacity=".5"/><circle cx="56.7" cy="58.4" r="49.9" fill="#a3a3a1" fill-opacity="1.00" stroke="#707080" stroke-width="0.9" stroke-opacity="0.60"/><g filter="url(#bl)"><path d="M54.6 102.7h0M67.4 85.5h0M49.0 12.4h0M90.9 72.1h0M90.2 66.6h0M98.9 65.6h0M29.7 32.5h0M26.4 71.1h0M13.5 70.2h0M19.0 66.7h0M23.7 31.2h0M73.8 59.8h0M71.2 82.7h0M50.5 53.5h0M58.6 46.7h0M31.3 76.2h0M35.0 69.7h0M36.2 89.8h0M70.9 21.6h0M11.0 55.0h0M55.5 22.5h0M15.8 33.5h0M60.4 26.5h0M41.3 69.4h0M21.6 28.0h0M41.2 71.6h0M90.2 32.0h0M74.4 89.1h0M94.3 79.7h0M27.4 49.0h0M26.4 77.0h0M65.2 78.2h0M96.7 32.8h0M23.0 72.8h0M85.9 24.6h0M26.5 80.7h0M43.5 101.5h0M37.0 79.2h0M64.5 37.9h0" stroke="#9a96c8" stroke-opacity="0.55" stroke-width="3.1"/><path d="M58.6 70.2h0M83.6 72.9h0M78.5 64.7h0M93.4 62.7h0M55.5 70.3h0M44.8 30.6h0M72.8 27.7h0M36.0 31.7h0M54.4 30.8h0M68.2 84.8h0M87.4 39.9h0M23.7 87.0h0M67.8 74.7h0M93.7 36.0h0" stroke="#9a96c8" stroke-opacity="0.55" stroke-width="3.6"/><path d="M49.8 33.9h0M12.8 71.5h0M40.6 59.2h0M22.9 45.9h0M48.1 82.2h0M11.7 55.9h0M38.3 30.5h0" stroke="#9a96c8" stroke-opacity="0.55" stroke-width="4.1"/><path d="M57.6 96.8h0M97.3 72.3h0M60.7 76.7h0M48.5 103.5h0M72.9 73.4h0M37.3 68.8h0M63.3 65.9h0M67.3 16.1h0M34.5 56.4h0M37.5 65.4h0M89.9 60.8h0M54.4 73.2h0M78.9 99.0h0M19.3 85.7h0M31.4 65.5h0M25.7 82.2h0M26.0 49.5h0M59.9 65.3h0M25.6 74.2h0M87.2 63.4h0" stroke="#9a96c8" stroke-opacity="0.55" stroke-width="4.6"/><path d="M21.0 46.4h0M90.3 85.9h0M63.9 42.5h0M71.3 38.6h0M62.1 36.2h0M73.4 20.2h0M29.3 72.1h0M73.6 14.5h0M22.6 68.1h0M31.9 86.7h0" stroke="#9a96c8" stroke-opacity="0.55" stroke-width="5.1"/><path d="M54.4 73.2h0M78.9 99.0h0M19.3 85.7h0M31.4 65.5h0M25.7 82.2h0M26.0 49.5h0M59.9 65.3h0M25.6 74.2h0" stroke="#1c1848" stroke-width="3.0"/><path d="M21.0 46.4h0M90.3 85.9h0M63.9 42.5h0M71.3 38.6h0M62.1 36.2h0M73.4 20.2h0M29.3 72.1h0M73.6 14.5h0" stroke="#1c1848" stroke-width="3.5"/><path d="M68.2 84.8h0M87.4 39.9h0M23.7 87.0h0M67.8 74.7h0" stroke="#26215b" stroke-width="2.0"/><path d="M48.1 82.2h0M11.7 55.9h0M38.3 30.5h0" stroke="#26215b" stroke-width="2.5"/><path d="M57.6 96.8h0M97.3 72.3h0M60.7 76.7h0M48.5 103.5h0M72.9 73.4h0M37.3 68.8h0M63.3 65.9h0M67.3 16.1h0M34.5 56.4h0M37.5 65.4h0M89.9 60.8h0" stroke="#26215b" stroke-width="3.0"/><path d="M22.6 68.1h0M31.9 86.7h0" stroke="#26215b" stroke-width="3.5"/><path d="M54.6 102.7h0M67.4 85.5h0M49.0 12.4h0M90.9 72.1h0M90.2 66.6h0M98.9 65.6h0M29.7 32.5h0M26.4 71.1h0M13.5 70.2h0M19.0 66.7h0M23.7 31.2h0M73.8 59.8h0M71.2 82.7h0M50.5 53.5h0M58.6 46.7h0M31.3 76.2h0M35.0 69.7h0M36.2 89.8h0M70.9 21.6h0M11.0 55.0h0M55.5 22.5h0M15.8 33.5h0M60.4 26.5h0M41.3 69.4h0M21.6 28.0h0M41.2 71.6h0M90.2 32.0h0M74.4 89.1h0" stroke="#302b6d" stroke-width="1.5"/><path d="M58.6 70.2h0M83.6 72.9h0M78.5 64.7h0M93.4 62.7h0M55.5 70.3h0M44.8 30.6h0M72.8 27.7h0M36.0 31.7h0M54.4 30.8h0" stroke="#302b6d" stroke-width="2.0"/><path d="M49.8 33.9h0M12.8 71.5h0M40.6 59.2h0M22.9 45.9h0" stroke="#302b6d" stroke-width="2.5"/><path d="M87.2 63.4h0" stroke="#302b6d" stroke-width="3.0"/><path d="M94.3 79.7h0M27.4 49.0h0M26.4 77.0h0M65.2 78.2h0M96.7 32.8h0M23.0 72.8h0M85.9 24.6h0M26.5 80.7h0M43.5 101.5h0M37.0 79.2h0M64.5 37.9h0" stroke="#3a3480" stroke-width="1.5"/><path d="M93.7 36.0h0" stroke="#3a3480" stroke-width="2.0"/></g></svg><svg class="pn" style="left:620.00px;top:978.30px;width:116.70px;height:116.70px" viewBox="0 0 116.70 116.70"><linearGradient id="g_h5" x1="0" y1="0" x2="0" y2="1"><stop offset="0" stop-color="#9f9f9d"/><stop offset="1" stop-color="#a5a5a3"/></linearGradient><rect width="116.7" height="116.7" fill="url(#g_h5)"/><circle cx="58.4" cy="58.4" r="58.4" fill="#a9a9a7" fill-opacity="1.00" stroke="#bebebc" stroke-width="1.2" stroke-opacity="0.80"/><path d="M48.3 1.4A57.9 57.9 0 0 1 102.7 21.2L97.7 25.3A51.3 51.3 0 0 0 49.4 7.8Z" fill="#a29cd2" fill-opacity="0.30"/><path d="M73.7 4.5A56.0 56.0 0 0 1 101.2 22.4" fill="none" stroke="#a29cd2" stroke-width=".7" stroke-opacity=".5"/><path d="M52.7 4.1A54.5 54.5 0 0 1 92.3 15.7" fill="none" stroke="#a29cd2" stroke-width=".7" stroke-opacity=".5"/><path d="M66.3 3.5A55.4 55.4 0 0 1 97.4 19.0" fill="none" stroke="#a29cd2" stroke-width=".7" stroke-opacity=".5"/><circle cx="58.4" cy="58.4" r="51.3" fill="#a3a3a1" fill-opacity="1.00" stroke="#707080" stroke-width="0.9" stroke-opacity="0.60"/><g filter="url(#bl)"><path d="M73.0 52.4h0M71.1 15.9h0M32.8 43.2h0M46.2 54.5h0M48.6 19.2h0M57.8 34.8h0M26.4 75.3h0M79.9 63.0h0M30.7 59.1h0M103.2 40.0h0M43.3 53.3h0M83.7 55.0h0M66.4 106.9h0M47.8 39.5h0M19.6 78.7h0M16.9 57.4h0M87.6 97.2h0" stroke="#9a96c8" stroke-opacity="0.55" stroke-width="3.1"/><path d="M53.2 66.5h0M73.5 69.4h0M66.8 40.3h0M98.1 71.9h0M12.4 52.5h0M74.1 80.8h0M36.2 26.1h0M102.8 39.4h0M47.8 34.6h0M17.9 66.5h0" stroke="#9a96c8" stroke-opacity="0.55" stroke-width="3.6"/><path d="M103.4 56.3h0M93.9 29.7h0M37.5 66.1h0M37.9 51.5h0" stroke="#9a96c8" stroke-opacity="0.55" stroke-width="4.1"/><path d="M87.9 48.4h0M93.0 79.3h0" stroke="#9a96c8" stroke-opacity="0.55" stroke-width="4.6"/><path d="M68.1 52.8h0M27.9 42.3h0" stroke="#9a96c8" stroke-opacity="0.55" stroke-width="5.1"/><path d="M68.1 52.8h0M27.9 42.3h0" stroke="#1c1848" stroke-width="3.5"/><path d="M87.6 97.2h0" stroke="#26215b" stroke-width="1.5"/><path d="M47.8 34.6h0M17.9 66.5h0" stroke="#26215b" stroke-width="2.0"/><path d="M103.4 56.3h0M93.9 29.7h0M37.5 66.1h0M37.9 51.5h0" stroke="#26215b" stroke-width="2.5"/><path d="M87.9 48.4h0M93.0 79.3h0" stroke="#26215b" stroke-width="3.0"/><path d="M57.8 34.8h0M26.4 75.3h0M79.9 63.0h0M30.7 59.1h0M103.2 40.0h0M43.3 53.3h0M83.7 55.0h0M66.4 106.9h0M47.8 39.5h0M19.6 78.7h0M16.9 57.4h0" stroke="#302b6d" stroke-width="1.5"/><path d="M53.2 66.5h0M73.5 69.4h0M66.8 40.3h0M98.1 71.9h0M12.4 52.5h0M74.1 80.8h0M36.2 26.1h0M102.8 39.4h0" stroke="#302b6d" stroke-width="2.0"/><path d="M73.0 52.4h0M71.1 15.9h0M32.8 43.2h0M46.2 54.5h0M48.6 19.2h0" stroke="#3a3480" stroke-width="1.5"/></g></svg><svg class="pn" style="left:743.30px;top:978.30px;width:116.00px;height:116.70px" viewBox="0 0 116.00 116.70"><linearGradient id="g_h6" x1="0" y1="0" x2="0" y2="1"><stop offset="0" stop-color="#9f9f9d"/><stop offset="1" stop-color="#a5a5a3"/></linearGradient><rect width="116.0" height="116.7" fill="url(#g_h6)"/><circle cx="58.0" cy="58.4" r="58.0" fill="#a9a9a7" fill-opacity="1.00" stroke="#bebebc" stroke-width="1.2" stroke-opacity="0.80"/><path d="M68.0 1.7A57.5 57.5 0 0 1 112.0 38.7L106.0 40.9A51.0 51.0 0 0 0 66.9 8.1Z" fill="#a29cd2" fill-opacity="0.30"/><path d="M85.6 8.5A57.0 57.0 0 0 1 111.5 38.9" fill="none" stroke="#a29cd2" stroke-width=".7" stroke-opacity=".5"/><path d="M75.2 10.2A51.1 51.1 0 0 1 100.6 30.0" fill="none" stroke="#a29cd2" stroke-width=".7" stroke-opacity=".5"/><path d="M83.0 11.3A53.3 53.3 0 0 1 108.1 40.1" fill="none" stroke="#a29cd2" stroke-width=".7" stroke-opacity=".5"/><circle cx="58.0" cy="58.4" r="51.0" fill="#a3a3a1" fill-opacity="1.00" stroke="#707080" stroke-width="0.9" stroke-opacity="0.60"/><g filter="url(#bl)"><path d="M83.8 25.4h0M40.5 91.2h0M65.3 21.4h0M70.8 70.8h0M101.8 69.0h0M69.1 65.3h0M75.4 40.9h0M55.1 54.2h0M40.9 61.9h0M75.7 26.1h0M25.7 61.6h0M101.2 64.7h0M74.6 33.3h0M72.4 80.8h0M46.7 50.5h0M90.7 55.8h0M98.5 80.2h0M30.4 38.9h0M75.9 77.7h0M105.1 46.7h0M98.9 78.9h0M32.0 85.9h0M33.2 81.2h0M71.6 22.2h0M58.2 82.4h0M47.4 58.5h0M27.6 27.6h0M64.9 50.7h0M64.3 31.3h0M89.9 57.9h0M76.0 59.5h0M50.7 81.7h0M76.8 24.5h0M57.4 18.4h0M52.5 18.8h0M74.4 73.2h0M37.9 21.9h0M12.6 74.3h0M14.7 42.1h0M99.5 53.7h0M32.9 43.3h0M13.2 45.5h0" stroke="#9a96c8" stroke-opacity="0.55" stroke-width="3.1"/><path d="M98.7 49.1h0M70.3 65.4h0M75.6 36.5h0M48.0 96.3h0M85.0 76.5h0M92.7 73.2h0M93.3 65.6h0M64.4 20.1h0M81.0 29.9h0M28.4 73.0h0M45.0 24.4h0M80.9 22.7h0M55.5 19.3h0M69.3 49.6h0M59.1 34.5h0M78.9 25.1h0M83.9 36.0h0" stroke="#9a96c8" stroke-opacity="0.55" stroke-width="3.6"/><path d="M73.9 46.0h0M31.3 23.3h0M76.4 42.5h0M74.6 80.3h0M20.5 29.9h0M20.3 55.5h0M12.4 46.9h0M32.6 18.2h0M87.0 51.6h0M57.1 88.3h0M54.9 80.3h0M64.4 73.0h0M79.4 91.7h0M71.3 67.8h0M58.9 85.4h0M51.7 103.9h0" stroke="#9a96c8" stroke-opacity="0.55" stroke-width="4.1"/><path d="M14.6 50.6h0M58.3 83.2h0M40.5 48.3h0M62.2 63.1h0M16.9 49.1h0M56.4 54.9h0M71.3 98.4h0M45.6 92.8h0M29.7 26.4h0M65.9 77.8h0M22.1 86.6h0" stroke="#9a96c8" stroke-opacity="0.55" stroke-width="4.6"/><path d="M30.9 74.7h0M63.5 15.3h0M20.2 69.8h0M73.7 96.3h0" stroke="#9a96c8" stroke-opacity="0.55" stroke-width="5.1"/><path d="M73.9 46.0h0M31.3 23.3h0" stroke="#1c1848" stroke-width="2.5"/><path d="M14.6 50.6h0M58.3 83.2h0M40.5 48.3h0M62.2 63.1h0" stroke="#1c1848" stroke-width="3.0"/><path d="M20.2 69.8h0M73.7 96.3h0" stroke="#1c1848" stroke-width="3.5"/><path d="M13.2 45.5h0" stroke="#26215b" stroke-width="1.5"/><path d="M59.1 34.5h0M78.9 25.1h0M83.9 36.0h0" stroke="#26215b" stroke-width="2.0"/><path d="M57.1 88.3h0M54.9 80.3h0M64.4 73.0h0M79.4 91.7h0M71.3 67.8h0M58.9 85.4h0M51.7 103.9h0" stroke="#26215b" stroke-width="2.5"/><path d="M16.9 49.1h0M56.4 54.9h0M71.3 98.4h0M45.6 92.8h0M29.7 26.4h0M65.9 77.8h0M22.1 86.6h0" stroke="#26215b" stroke-width="3.0"/><path d="M30.9 74.7h0M63.5 15.3h0" stroke="#26215b" stroke-width="3.5"/><path d="M98.9 78.9h0M32.0 85.9h0M33.2 81.2h0M71.6 22.2h0M58.2 82.4h0M47.4 58.5h0M27.6 27.6h0M64.9 50.7h0M64.3 31.3h0M89.9 57.9h0M76.0 59.5h0M50.7 81.7h0M76.8 24.5h0M57.4 18.4h0M52.5 18.8h0M74.4 73.2h0M37.9 21.9h0M12.6 74.3h0M14.7 42.1h0M99.5 53.7h0M32.9 43.3h0" stroke="#302b6d" stroke-width="1.5"/><path d="M98.7 49.1h0M70.3 65.4h0M75.6 36.5h0M48.0 96.3h0M85.0 76.5h0M92.7 73.2h0M93.3 65.6h0M64.4 20.1h0M81.0 29.9h0M28.4 73.0h0M45.0 24.4h0M80.9 22.7h0M55.5 19.3h0" stroke="#302b6d" stroke-width="2.0"/><path d="M76.4 42.5h0M74.6 80.3h0M20.5 29.9h0M20.3 55.5h0M12.4 46.9h0M32.6 18.2h0M87.0 51.6h0" stroke="#302b6d" stroke-width="2.5"/><path d="M83.8 25.4h0M40.5 91.2h0M65.3 21.4h0M70.8 70.8h0M101.8 69.0h0M69.1 65.3h0M75.4 40.9h0M55.1 54.2h0M40.9 61.9h0M75.7 26.1h0M25.7 61.6h0M101.2 64.7h0M74.6 33.3h0M72.4 80.8h0M46.7 50.5h0M90.7 55.8h0M98.5 80.2h0M30.4 38.9h0M75.9 77.7h0M105.1 46.7h0" stroke="#3a3480" stroke-width="1.5"/><path d="M69.3 49.6h0" stroke="#3a3480" stroke-width="2.0"/></g></svg><svg class="pn" style="left:862.70px;top:978.30px;width:115.60px;height:116.70px" viewBox="0 0 115.60 116.70"><linearGradient id="g_h7" x1="0" y1="0" x2="0" y2="1"><stop offset="0" stop-color="#9f9f9d"/><stop offset="1" stop-color="#a5a5a3"/></linearGradient><rect width="115.6" height="116.7" fill="url(#g_h7)"/><circle cx="57.8" cy="58.4" r="57.8" fill="#a9a9a7" fill-opacity="1.00" stroke="#bebebc" stroke-width="1.2" stroke-opacity="0.80"/><path d="M47.8 1.9A57.3 57.3 0 0 1 101.7 21.5L96.8 25.7A50.9 50.9 0 0 0 49.0 8.3Z" fill="#a29cd2" fill-opacity="0.30"/><path d="M59.1 7.2A51.1 51.1 0 0 1 93.5 21.7" fill="none" stroke="#a29cd2" stroke-width=".7" stroke-opacity=".5"/><path d="M70.7 7.8A52.2 52.2 0 0 1 92.5 19.3" fill="none" stroke="#a29cd2" stroke-width=".7" stroke-opacity=".5"/><path d="M71.4 7.6A52.5 52.5 0 0 1 97.2 23.6" fill="none" stroke="#a29cd2" stroke-width=".7" stroke-opacity=".5"/><circle cx="57.8" cy="58.4" r="50.9" fill="#a3a3a1" fill-opacity="1.00" stroke="#707080" stroke-width="0.9" stroke-opacity="0.60"/><g filter="url(#bl)"><path d="M39.6 32.9h0M63.4 101.1h0M37.8 45.8h0M63.7 58.1h0M32.1 23.7h0M61.9 97.0h0M57.3 48.9h0M59.4 94.5h0M30.2 22.1h0M100.8 36.4h0M82.1 16.6h0M80.4 64.9h0M41.1 77.4h0M37.0 59.4h0M78.4 62.7h0M38.9 20.8h0M93.9 51.2h0M72.5 86.6h0M28.2 67.5h0M24.2 67.0h0M64.9 80.2h0M15.2 76.9h0M71.2 95.3h0M89.5 33.3h0M50.5 66.2h0M66.7 45.4h0M87.4 53.5h0M78.0 20.8h0M55.3 65.1h0M41.7 23.5h0M56.5 27.2h0M92.9 27.0h0M87.5 75.2h0M47.8 39.0h0M27.7 32.0h0M66.6 73.8h0M33.1 79.1h0M43.0 50.1h0M67.7 82.7h0M60.2 39.7h0M103.6 58.3h0M44.3 79.9h0M38.3 61.1h0M54.2 21.9h0M69.7 76.7h0M75.4 89.6h0M75.6 92.2h0M57.2 27.6h0M59.4 98.7h0M71.8 102.6h0M54.7 74.5h0M56.1 89.1h0M98.4 65.2h0M60.1 89.2h0M38.6 17.9h0M39.5 103.1h0M77.9 62.7h0M79.8 46.1h0M43.1 43.9h0M75.5 21.9h0M47.4 41.6h0M46.9 50.4h0M93.6 36.9h0M26.8 40.0h0" stroke="#9a96c8" stroke-opacity="0.55" stroke-width="3.1"/><path d="M79.9 97.7h0M50.7 87.5h0M44.1 41.9h0M36.7 30.2h0M96.3 50.5h0M31.9 86.6h0M64.4 91.1h0M82.8 83.0h0M20.9 32.9h0M17.0 44.0h0M69.0 18.5h0M14.7 58.7h0M97.2 66.6h0M93.0 60.7h0M76.0 37.0h0M79.9 50.2h0M92.8 33.7h0M36.9 60.9h0M26.6 51.0h0M55.5 60.4h0M66.0 68.1h0M24.6 55.7h0M73.9 87.5h0M73.7 83.3h0M92.4 82.3h0M100.2 42.9h0M79.5 41.0h0M48.9 70.7h0M15.7 56.7h0M69.3 99.3h0M50.9 74.5h0M50.9 82.3h0M41.7 93.0h0M59.2 73.6h0M74.9 93.2h0M89.7 41.3h0" stroke="#9a96c8" stroke-opacity="0.55" stroke-width="3.6"/><path d="M82.1 47.2h0M32.9 49.7h0M22.0 30.1h0M95.9 36.6h0M71.5 55.7h0M60.6 41.9h0M88.4 94.2h0M97.1 57.4h0M85.4 34.7h0M54.0 78.9h0M57.2 74.2h0M87.1 84.0h0M62.8 83.3h0M70.7 45.6h0M74.0 100.2h0M44.6 75.1h0M91.0 32.7h0M49.8 12.8h0M94.2 51.8h0M81.5 82.0h0M64.2 97.0h0M102.4 51.2h0M40.0 26.6h0M43.4 60.6h0M27.0 51.8h0M59.5 22.5h0M12.8 41.1h0M97.6 43.2h0M94.1 87.8h0M79.5 53.7h0M41.2 95.0h0M73.6 81.1h0" stroke="#9a96c8" stroke-opacity="0.55" stroke-width="4.1"/><path d="M26.0 43.4h0M75.1 83.1h0M98.4 68.0h0M76.5 84.5h0M53.1 9.9h0M24.3 33.2h0M55.0 63.0h0M25.1 30.6h0M51.6 56.1h0M18.9 81.4h0M94.9 54.6h0M18.6 60.8h0M62.8 93.8h0M48.2 30.5h0M30.3 26.7h0M99.1 77.1h0M30.5 33.6h0M70.0 99.1h0M100.5 47.1h0M95.7 54.9h0M90.5 65.0h0M60.3 50.6h0M48.6 89.9h0M88.1 41.2h0M81.1 40.6h0M94.5 79.9h0M57.3 35.9h0M97.6 63.1h0M71.6 49.1h0M81.9 44.0h0M90.3 72.8h0M26.2 40.6h0" stroke="#9a96c8" stroke-opacity="0.55" stroke-width="4.6"/><path d="M23.2 51.6h0M27.9 34.6h0M75.4 96.7h0M90.1 44.9h0M83.8 52.9h0M88.8 57.3h0M47.0 78.6h0M42.1 37.0h0M45.9 65.5h0M35.2 82.1h0M60.9 34.2h0M71.9 85.1h0M88.4 92.5h0M87.5 64.3h0M29.7 85.0h0M55.6 36.8h0" stroke="#9a96c8" stroke-opacity="0.55" stroke-width="5.1"/><path d="M89.7 41.3h0" stroke="#1c1848" stroke-width="2.0"/><path d="M43.4 60.6h0M27.0 51.8h0" stroke="#1c1848" stroke-width="2.5"/><path d="M26.0 43.4h0M75.1 83.1h0M98.4 68.0h0M76.5 84.5h0M53.1 9.9h0M24.3 33.2h0M55.0 63.0h0M25.1 30.6h0M51.6 56.1h0M18.9 81.4h0M94.9 54.6h0" stroke="#1c1848" stroke-width="3.0"/><path d="M23.2 51.6h0M27.9 34.6h0M75.4 96.7h0M90.1 44.9h0M83.8 52.9h0M88.8 57.3h0M47.0 78.6h0M42.1 37.0h0M45.9 65.5h0M35.2 82.1h0M60.9 34.2h0M71.9 85.1h0M88.4 92.5h0M87.5 64.3h0M29.7 85.0h0" stroke="#1c1848" stroke-width="3.5"/><path d="M26.8 40.0h0" stroke="#26215b" stroke-width="1.5"/><path d="M79.9 97.7h0M50.7 87.5h0M44.1 41.9h0M36.7 30.2h0M96.3 50.5h0M31.9 86.6h0M64.4 91.1h0M82.8 83.0h0M20.9 32.9h0" stroke="#26215b" stroke-width="2.0"/><path d="M82.1 47.2h0M32.9 49.7h0M22.0 30.1h0M95.9 36.6h0M71.5 55.7h0M60.6 41.9h0M88.4 94.2h0M97.1 57.4h0M85.4 34.7h0M54.0 78.9h0M57.2 74.2h0M87.1 84.0h0M62.8 83.3h0M70.7 45.6h0M74.0 100.2h0M44.6 75.1h0M91.0 32.7h0M49.8 12.8h0M94.2 51.8h0M81.5 82.0h0M64.2 97.0h0M102.4 51.2h0M40.0 26.6h0" stroke="#26215b" stroke-width="2.5"/><path d="M18.6 60.8h0M62.8 93.8h0M48.2 30.5h0M30.3 26.7h0M99.1 77.1h0M30.5 33.6h0M70.0 99.1h0M100.5 47.1h0M95.7 54.9h0M90.5 65.0h0M60.3 50.6h0M48.6 89.9h0M88.1 41.2h0M81.1 40.6h0M94.5 79.9h0M57.3 35.9h0M97.6 63.1h0M71.6 49.1h0M81.9 44.0h0M90.3 72.8h0M26.2 40.6h0" stroke="#26215b" stroke-width="3.0"/><path d="M55.6 36.8h0" stroke="#26215b" stroke-width="3.5"/><path d="M39.6 32.9h0M63.4 101.1h0M37.8 45.8h0M63.7 58.1h0M32.1 23.7h0M61.9 97.0h0M57.3 48.9h0M59.4 94.5h0M30.2 22.1h0M100.8 36.4h0M82.1 16.6h0M80.4 64.9h0M41.1 77.4h0M37.0 59.4h0M78.4 62.7h0M38.9 20.8h0M93.9 51.2h0M72.5 86.6h0M28.2 67.5h0M24.2 67.0h0M64.9 80.2h0M15.2 76.9h0M71.2 95.3h0M89.5 33.3h0M50.5 66.2h0M66.7 45.4h0M87.4 53.5h0M78.0 20.8h0M55.3 65.1h0M41.7 23.5h0M56.5 27.2h0M92.9 27.0h0M87.5 75.2h0M47.8 39.0h0M27.7 32.0h0M66.6 73.8h0M33.1 79.1h0M43.0 50.1h0M67.7 82.7h0M60.2 39.7h0M103.6 58.3h0M44.3 79.9h0" stroke="#302b6d" stroke-width="1.5"/><path d="M17.0 44.0h0M69.0 18.5h0M14.7 58.7h0M97.2 66.6h0M93.0 60.7h0M76.0 37.0h0M79.9 50.2h0M92.8 33.7h0M36.9 60.9h0M26.6 51.0h0M55.5 60.4h0M66.0 68.1h0M24.6 55.7h0M73.9 87.5h0M73.7 83.3h0M92.4 82.3h0M100.2 42.9h0M79.5 41.0h0M48.9 70.7h0M15.7 56.7h0M69.3 99.3h0M50.9 74.5h0M50.9 82.3h0M41.7 93.0h0M59.2 73.6h0M74.9 93.2h0" stroke="#302b6d" stroke-width="2.0"/><path d="M59.5 22.5h0M12.8 41.1h0M97.6 43.2h0M94.1 87.8h0M79.5 53.7h0M41.2 95.0h0M73.6 81.1h0" stroke="#302b6d" stroke-width="2.5"/><path d="M38.3 61.1h0M54.2 21.9h0M69.7 76.7h0M75.4 89.6h0M75.6 92.2h0M57.2 27.6h0M59.4 98.7h0M71.8 102.6h0M54.7 74.5h0M56.1 89.1h0M98.4 65.2h0M60.1 89.2h0M38.6 17.9h0M39.5 103.1h0M77.9 62.7h0M79.8 46.1h0M43.1 43.9h0M75.5 21.9h0M47.4 41.6h0M46.9 50.4h0M93.6 36.9h0" stroke="#3a3480" stroke-width="1.5"/></g></svg><svg class="pn" style="left:983.30px;top:978.30px;width:116.70px;height:116.70px" viewBox="0 0 116.70 116.70"><linearGradient id="g_h8" x1="0" y1="0" x2="0" y2="1"><stop offset="0" stop-color="#9f9f9d"/><stop offset="1" stop-color="#a5a5a3"/></linearGradient><rect width="116.7" height="116.7" fill="url(#g_h8)"/><circle cx="58.4" cy="58.4" r="58.4" fill="#a9a9a7" fill-opacity="1.00" stroke="#bebebc" stroke-width="1.2" stroke-opacity="0.80"/><path d="M0.5 58.4A57.9 57.9 0 0 1 58.4 0.5L58.4 7.0A51.3 51.3 0 0 0 7.0 58.4Z" fill="#a29cd2" fill-opacity="0.40"/><path d="M7.9 48.1A51.5 51.5 0 0 1 36.9 11.6" fill="none" stroke="#a29cd2" stroke-width=".7" stroke-opacity=".5"/><path d="M6.1 47.2A53.4 53.4 0 0 1 25.0 16.6" fill="none" stroke="#a29cd2" stroke-width=".7" stroke-opacity=".5"/><path d="M19.1 20.5A54.5 54.5 0 0 1 51.3 4.3" fill="none" stroke="#a29cd2" stroke-width=".7" stroke-opacity=".5"/><path d="M11.1 25.9A57.4 57.4 0 0 1 53.0 1.2" fill="none" stroke="#a29cd2" stroke-width=".7" stroke-opacity=".5"/><path d="M14.6 27.6A53.5 53.5 0 0 1 50.1 5.5" fill="none" stroke="#a29cd2" stroke-width=".7" stroke-opacity=".5"/><circle cx="58.4" cy="58.4" r="51.3" fill="#a3a3a1" fill-opacity="1.00" stroke="#707080" stroke-width="0.9" stroke-opacity="0.60"/><g filter="url(#bl)"><path d="M27.4 73.7h0M47.0 72.2h0M21.4 41.0h0M49.6 51.8h0M73.5 18.7h0M70.5 69.9h0M41.6 26.3h0M78.8 94.9h0M65.8 78.3h0M95.8 74.5h0M69.5 98.7h0M82.4 71.7h0M27.9 66.5h0M26.4 83.9h0M51.8 79.4h0M74.5 15.4h0M18.5 46.5h0M69.9 88.9h0M79.3 59.2h0M30.0 61.7h0M62.9 47.7h0M81.9 92.7h0M96.4 30.0h0M17.5 61.3h0M100.7 46.5h0M32.6 41.0h0M80.8 73.4h0M74.0 88.1h0M10.7 53.4h0M32.8 22.2h0M101.2 52.5h0M30.6 78.3h0M28.1 95.3h0M92.3 61.0h0M57.5 81.9h0M36.9 101.3h0M67.6 67.0h0M59.3 36.2h0M45.1 46.5h0M31.4 58.6h0M58.5 53.4h0M50.8 13.4h0M92.5 51.5h0M63.8 92.6h0M50.1 84.0h0M62.8 72.4h0M29.7 29.0h0M87.2 24.7h0M70.5 45.9h0M16.3 59.4h0M22.4 68.2h0M73.0 23.3h0M64.7 93.4h0M80.5 53.5h0M76.5 24.3h0M63.6 72.5h0M52.0 18.6h0M83.4 35.6h0M76.2 99.1h0M76.9 97.0h0M59.1 74.1h0M92.4 36.8h0M63.1 73.2h0M105.6 54.3h0M22.1 73.7h0M60.9 74.7h0M92.7 36.2h0M57.3 66.6h0M62.3 78.1h0M98.8 84.3h0M31.5 94.7h0M76.7 33.8h0" stroke="#9a96c8" stroke-opacity="0.55" stroke-width="3.1"/><path d="M82.3 26.1h0M30.2 36.7h0M89.2 81.8h0M32.7 84.4h0M83.5 63.1h0M59.7 26.9h0M81.5 75.5h0M56.6 94.5h0M46.0 54.4h0M101.8 69.9h0M68.4 48.2h0M73.6 54.1h0M16.6 51.0h0M25.8 86.8h0M54.2 63.4h0M63.5 19.1h0M68.8 43.1h0M80.7 46.5h0M73.7 13.8h0M20.1 82.2h0M77.2 52.1h0M60.2 42.7h0M104.0 69.0h0M50.2 43.5h0M94.6 61.8h0M58.5 65.5h0M40.5 84.4h0M73.6 37.3h0M62.7 84.3h0M30.0 18.4h0M85.8 40.1h0M81.9 76.3h0M85.6 77.1h0M46.9 100.6h0M66.1 17.3h0M90.2 45.7h0M50.7 60.3h0M72.5 96.3h0M50.1 95.7h0" stroke="#9a96c8" stroke-opacity="0.55" stroke-width="3.6"/><path d="M40.6 74.0h0M66.5 10.7h0M54.3 84.2h0M77.4 57.8h0M63.1 79.2h0M77.3 55.2h0M78.9 52.6h0M50.9 16.7h0M72.8 68.3h0M77.3 32.5h0M69.8 91.6h0M76.9 33.7h0M66.0 94.2h0M44.2 16.2h0M19.0 64.5h0M88.8 21.6h0M101.6 66.1h0M15.0 65.2h0M58.3 75.3h0M29.3 29.2h0M71.5 76.2h0M85.0 20.6h0M73.9 83.6h0" stroke="#9a96c8" stroke-opacity="0.55" stroke-width="4.1"/><path d="M43.4 59.3h0M86.5 86.5h0M90.2 66.7h0M55.6 84.9h0M99.4 50.7h0M29.1 79.9h0M55.9 29.1h0M52.0 71.9h0M79.5 102.0h0M25.4 52.5h0M78.7 72.7h0M49.4 87.7h0M71.5 51.7h0M44.5 50.4h0M61.1 48.7h0M77.4 50.2h0M63.8 36.2h0M67.0 85.8h0M15.6 56.6h0M99.9 32.4h0M73.8 30.1h0M93.0 51.5h0M29.1 78.0h0" stroke="#9a96c8" stroke-opacity="0.55" stroke-width="4.6"/><path d="M38.8 66.3h0M60.6 23.6h0M15.0 78.9h0M98.5 33.0h0M96.1 75.6h0M14.2 44.4h0M68.2 23.8h0M99.6 61.9h0M40.4 41.6h0M83.5 41.7h0M56.0 80.9h0M34.3 21.3h0M64.4 83.1h0" stroke="#9a96c8" stroke-opacity="0.55" stroke-width="5.1"/><path d="M40.6 74.0h0M66.5 10.7h0" stroke="#1c1848" stroke-width="2.5"/><path d="M49.4 87.7h0M71.5 51.7h0M44.5 50.4h0M61.1 48.7h0M77.4 50.2h0M63.8 36.2h0M67.0 85.8h0M15.6 56.6h0M99.9 32.4h0" stroke="#1c1848" stroke-width="3.0"/><path d="M38.8 66.3h0M60.6 23.6h0M15.0 78.9h0M98.5 33.0h0M96.1 75.6h0M14.2 44.4h0M68.2 23.8h0M99.6 61.9h0M40.4 41.6h0M83.5 41.7h0M56.0 80.9h0M34.3 21.3h0" stroke="#1c1848" stroke-width="3.5"/><path d="M62.3 78.1h0M98.8 84.3h0M31.5 94.7h0M76.7 33.8h0" stroke="#26215b" stroke-width="1.5"/><path d="M85.8 40.1h0M81.9 76.3h0M85.6 77.1h0M46.9 100.6h0M66.1 17.3h0M90.2 45.7h0M50.7 60.3h0M72.5 96.3h0M50.1 95.7h0" stroke="#26215b" stroke-width="2.0"/><path d="M54.3 84.2h0M77.4 57.8h0M63.1 79.2h0M77.3 55.2h0M78.9 52.6h0M50.9 16.7h0M72.8 68.3h0M77.3 32.5h0M69.8 91.6h0M76.9 33.7h0M66.0 94.2h0M44.2 16.2h0M19.0 64.5h0M88.8 21.6h0M101.6 66.1h0M15.0 65.2h0M58.3 75.3h0M29.3 29.2h0" stroke="#26215b" stroke-width="2.5"/><path d="M43.4 59.3h0M86.5 86.5h0M90.2 66.7h0M55.6 84.9h0M99.4 50.7h0M29.1 79.9h0M55.9 29.1h0M52.0 71.9h0M79.5 102.0h0M25.4 52.5h0M78.7 72.7h0" stroke="#26215b" stroke-width="3.0"/><path d="M64.4 83.1h0" stroke="#26215b" stroke-width="3.5"/><path d="M30.0 61.7h0M62.9 47.7h0M81.9 92.7h0M96.4 30.0h0M17.5 61.3h0M100.7 46.5h0M32.6 41.0h0M80.8 73.4h0M74.0 88.1h0M10.7 53.4h0M32.8 22.2h0M101.2 52.5h0M30.6 78.3h0M28.1 95.3h0M92.3 61.0h0M57.5 81.9h0M36.9 101.3h0M67.6 67.0h0M59.3 36.2h0M45.1 46.5h0M31.4 58.6h0M58.5 53.4h0M50.8 13.4h0M92.5 51.5h0M63.8 92.6h0M50.1 84.0h0M62.8 72.4h0M29.7 29.0h0M87.2 24.7h0M70.5 45.9h0M16.3 59.4h0M22.4 68.2h0M73.0 23.3h0M64.7 93.4h0M80.5 53.5h0M76.5 24.3h0M63.6 72.5h0M52.0 18.6h0M83.4 35.6h0M76.2 99.1h0M76.9 97.0h0M59.1 74.1h0M92.4 36.8h0M63.1 73.2h0M105.6 54.3h0M22.1 73.7h0M60.9 74.7h0M92.7 36.2h0M57.3 66.6h0" stroke="#302b6d" stroke-width="1.5"/><path d="M89.2 81.8h0M32.7 84.4h0M83.5 63.1h0M59.7 26.9h0M81.5 75.5h0M56.6 94.5h0M46.0 54.4h0M101.8 69.9h0M68.4 48.2h0M73.6 54.1h0M16.6 51.0h0M25.8 86.8h0M54.2 63.4h0M63.5 19.1h0M68.8 43.1h0M80.7 46.5h0M73.7 13.8h0M20.1 82.2h0M77.2 52.1h0M60.2 42.7h0M104.0 69.0h0M50.2 43.5h0M94.6 61.8h0M58.5 65.5h0M40.5 84.4h0M73.6 37.3h0M62.7 84.3h0M30.0 18.4h0" stroke="#302b6d" stroke-width="2.0"/><path d="M71.5 76.2h0M85.0 20.6h0M73.9 83.6h0" stroke="#302b6d" stroke-width="2.5"/><path d="M73.8 30.1h0M93.0 51.5h0M29.1 78.0h0" stroke="#302b6d" stroke-width="3.0"/><path d="M27.4 73.7h0M47.0 72.2h0M21.4 41.0h0M49.6 51.8h0M73.5 18.7h0M70.5 69.9h0M41.6 26.3h0M78.8 94.9h0M65.8 78.3h0M95.8 74.5h0M69.5 98.7h0M82.4 71.7h0M27.9 66.5h0M26.4 83.9h0M51.8 79.4h0M74.5 15.4h0M18.5 46.5h0M69.9 88.9h0M79.3 59.2h0" stroke="#3a3480" stroke-width="1.5"/><path d="M82.3 26.1h0M30.2 36.7h0" stroke="#3a3480" stroke-width="2.0"/></g></svg><svg class="tx" width="1200" height="1110" viewBox="0 0 1200 1110" text-anchor="middle"><text x="106.75" y="25.50" font-size="20.84" fill="#000" font-weight="bold">B</text><text x="346.75" y="38.00" font-size="20.21" fill="#111">MCF-7</text><text x="843.00" y="39.00" font-size="19.69" fill="#111">HCC1954</text><text x="170.50" y="183.55" font-size="12.44" fill="#222">anti-miR-375</text><text x="283.75" y="183.55" font-size="12.30" fill="#222">anti-miR-375</text><text x="398.50" y="183.55" font-size="12.60" fill="#222">anti-miR-375</text><text x="525.50" y="183.55" font-size="12.61" fill="#222">anti-miR-375</text><text x="667.00" y="183.55" font-size="12.30" fill="#222">anti-miR-375</text><text x="775.50" y="183.55" font-size="12.44" fill="#222">anti-miR-375</text><text x="892.50" y="183.55" font-size="12.61" fill="#222">anti-miR-375</text><text x="1027.50" y="183.55" font-size="12.61" fill="#222">anti-miR-375</text><text x="171.50" y="199.00" font-size="12.37" fill="#222">+ EZH2-NC</text><text x="285.50" y="199.00" font-size="12.35" fill="#222">+ EZH2-OE</text><text x="400.50" y="199.00" font-size="12.35" fill="#222">+ si-NC</text><text x="525.75" y="199.00" font-size="12.30" fill="#222">+ si-FOXO1</text><text x="668.50" y="199.00" font-size="12.57" fill="#222">+ EZH2-NC</text><text x="777.00" y="199.00" font-size="12.23" fill="#222">+ EZH2-OE</text><text x="895.00" y="199.00" font-size="12.96" fill="#222">+ si-NC</text><text x="1028.00" y="199.00" font-size="12.52" fill="#222">+ si-FOXO1</text><text x="31.50" y="302.50" font-size="16.19" fill="#222" transform="rotate(-90 31.50 302.50)">A549</text><text x="29.50" y="421.00" font-size="15.48" fill="#222" transform="rotate(-90 29.50 421.00)">SK-MES-1</text><text x="112.50" y="514.50" font-size="16.08" fill="#222">NC mimic</text><text x="235.00" y="514.50" font-size="15.79" fill="#222">miR-130a-5p mimic</text><text x="361.00" y="515.50" font-size="15.92" fill="#222">NC inhibitor</text><text x="487.50" y="515.50" font-size="15.64" fill="#222">miR-130a-5p inhibitor</text><text x="608.50" y="250.25" font-size="25.79" fill="#000" font-weight="bold">C</text><text x="683.00" y="263.50" font-size="17.76" fill="#222">agomiR-NC</text><text x="796.75" y="262.50" font-size="17.94" fill="#222">agomiR-652</text><text x="606.00" y="332.50" font-size="17.00" fill="#222" transform="rotate(90 606.00 332.50)">U251</text><text x="606.25" y="457.00" font-size="16.78" fill="#222" transform="rotate(90 606.25 457.00)">T98</text><text x="907.00" y="258.20" font-size="25.42" fill="#000" font-weight="bold">C</text><text x="942.00" y="316.70" font-size="14.00" fill="#111" class="s">ADR</text><text x="931.50" y="341.90" font-size="14.54" fill="#111" class="s">(0μg/ml)</text><text x="942.00" y="430.30" font-size="14.00" fill="#111" class="s">ADR</text><text x="928.00" y="456.00" font-size="14.56" fill="#111" class="s">2.1μg/ml)</text><text x="1025.50" y="506.25" font-size="14.13" fill="#111" class="s">miR-NC</text><text x="1134.50" y="505.80" font-size="14.76" fill="#111" class="s">miR-423</text><text x="63.75" y="585.00" font-size="62.64" fill="#000">B</text><text x="869.50" y="581.00" font-size="16.44" fill="#222">+IL-6</text><text x="197.00" y="600.12" font-size="17.02" fill="#222">0 h</text><text x="316.00" y="600.12" font-size="17.11" fill="#222">24 h</text><text x="431.00" y="600.12" font-size="16.81" fill="#222">48 h</text><text x="550.00" y="600.12" font-size="16.68" fill="#222">72 h</text><text x="674.00" y="600.12" font-size="17.05" fill="#222">0 h</text><text x="793.25" y="600.12" font-size="17.20" fill="#222">24 h</text><text x="917.50" y="600.12" font-size="16.66" fill="#222">48 h</text><text x="1037.00" y="600.12" font-size="16.26" fill="#222">72 h</text><text x="95.50" y="657.10" font-size="16.69" fill="#2a2a2a">hFOB1.19</text><text x="112.60" y="673.60" font-size="16.60" fill="#2a2a2a">cells</text><text x="97.50" y="764.70" font-size="16.42" fill="#2a2a2a">T98G cells</text><text x="94.50" y="905.40" font-size="16.57" fill="#2a2a2a">MG-63 cells</text><text x="96.00" y="1030.70" font-size="16.64" fill="#2a2a2a">U2OS cells</text></svg><div class="fr" style="left:346.0px;top:43.8px;width:117.0px;height:117.2px;border:5.0px solid #860418"></div><div class="fr" style="left:350.5px;top:48.25px;width:117px;height:117.5px;border:1px solid #eec8cc;box-sizing:border-box"></div><div class="fr" style="left:168.2px;top:363.8px;width:115.5px;height:127.2px;border:5.0px solid #f5822a"></div><div class="fr" style="left:293.0px;top:363.8px;width:122.0px;height:127.2px;border:5.0px solid #1fa64a"></div><div class="fr" style="left:739.2px;top:391.2px;width:122.8px;height:122.8px;border:3.0px solid #2ea84e"></div><div class="fr" style="left:966.2px;top:262.0px;width:106.8px;height:107.5px;border:5.0px solid #f400f4"></div><div class="fr" style="left:971.2px;top:267px;width:106.8px;height:107.5px;border:1px solid #f4f0f4;box-sizing:border-box"></div><div class="fr" style="left:373.3px;top:597.3px;width:108.4px;height:111.7px;border:5.0px solid #0000f0"></div><div class="fr" style="left:491.7px;top:597.3px;width:115.0px;height:113.7px;border:5.0px solid #f010f0"></div><div class="fr" style="left:736.7px;top:601.7px;width:102.3px;height:99.0px;border:5.5px solid #f8d820"></div><div class="fr" style="left:979.3px;top:846.0px;width:113.4px;height:117.3px;border:5.0px solid #860418"></div><div class="fr" style="left:377.3px;top:974.0px;width:115.0px;height:116.7px;border:5.0px solid #f5822a"></div><div class="fr" style="left:743.3px;top:979.3px;width:102.4px;height:101.4px;border:5.5px solid #f8d820"></div><div class="ln" style="left:115.25px;top:42.75px;width:480.75px;height:1.6px;background:#1a1a1a"></div><div class="ln" style="left:600.5px;top:42.75px;width:473.5px;height:1.6px;background:#1a1a1a"></div><div class="ln" style="left:662.7px;top:582px;width:374.3px;height:1.2px;background:#c4c4c4"></div></body></html>
